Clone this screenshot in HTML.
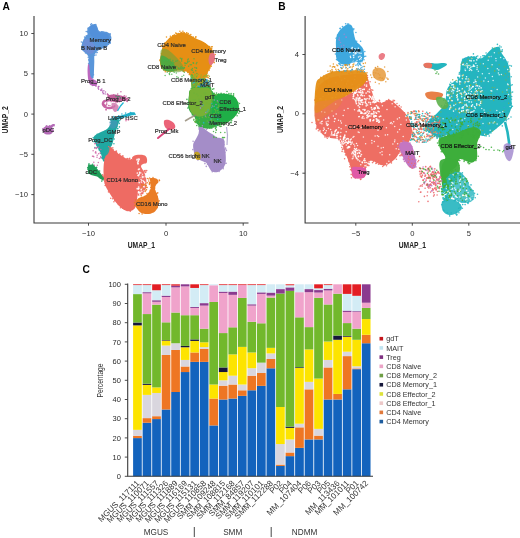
<!DOCTYPE html><html><head><meta charset="utf-8"><style>html,body{margin:0;padding:0;background:#fff;}svg{display:block;filter:blur(0.3px);}text{font-family:"Liberation Sans",sans-serif;}</style></head><body>
<svg width="520" height="538" viewBox="0 0 520 538">
<rect width="520" height="538" fill="#fff"/>
<text x="2.6" y="9.5" font-size="10.2" fill="#000" text-anchor="start" font-weight="bold" >A</text>
<text x="278.3" y="9.6" font-size="10.2" fill="#000" text-anchor="start" font-weight="bold" >B</text>
<text x="82.5" y="273.2" font-size="10.2" fill="#000" text-anchor="start" font-weight="bold" >C</text>
<circle cx="54.1" cy="125.8" r="0.78" fill="#B36AB6" fill-opacity="0.9"/>
<circle cx="42.9" cy="130.3" r="0.78" fill="#B36AB6" fill-opacity="0.9"/>
<circle cx="53.3" cy="130.9" r="0.78" fill="#B36AB6" fill-opacity="0.9"/>
<circle cx="49.4" cy="125.9" r="0.78" fill="#B36AB6" fill-opacity="0.9"/>
<circle cx="46.4" cy="125.9" r="0.78" fill="#B36AB6" fill-opacity="0.9"/>
<circle cx="42.8" cy="128.7" r="0.78" fill="#B36AB6" fill-opacity="0.9"/>
<circle cx="44.2" cy="128.3" r="0.78" fill="#B36AB6" fill-opacity="0.9"/>
<circle cx="52.6" cy="131.2" r="0.78" fill="#B36AB6" fill-opacity="0.9"/>
<circle cx="47.0" cy="126.1" r="0.78" fill="#B36AB6" fill-opacity="0.9"/>
<circle cx="46.0" cy="126.7" r="0.78" fill="#B36AB6" fill-opacity="0.9"/>
<path d="M43.0,129.0 C43.2,128.2 43.8,127.5 44.5,127.0 C45.2,126.5 46.1,126.5 47.0,126.3 C47.9,126.1 49.0,126.0 50.0,125.6 C51.0,125.2 52.2,124.2 53.0,124.0 C53.8,123.8 54.6,123.9 54.8,124.2 C55.0,124.5 54.6,125.2 54.2,125.8 C53.8,126.3 52.5,126.8 52.3,127.5 C52.1,128.2 53.0,129.1 53.0,130.0 C53.0,130.9 52.9,132.1 52.5,132.8 C52.1,133.5 51.4,133.9 50.5,134.2 C49.6,134.5 48.0,134.5 47.0,134.4 C46.0,134.3 45.0,133.9 44.3,133.4 C43.6,132.9 43.2,132.2 43.0,131.5 C42.8,130.8 42.8,129.8 43.0,129.0Z" fill="#B36AB6" fill-opacity="1.0" />
<circle cx="81.4" cy="42.0" r="0.78" fill="#5A96DA" fill-opacity="0.9"/>
<circle cx="89.6" cy="77.9" r="0.78" fill="#5A96DA" fill-opacity="0.9"/>
<circle cx="110.1" cy="34.1" r="0.78" fill="#5A96DA" fill-opacity="0.9"/>
<circle cx="85.3" cy="51.5" r="0.78" fill="#5A96DA" fill-opacity="0.9"/>
<circle cx="85.5" cy="52.9" r="0.78" fill="#5A96DA" fill-opacity="0.9"/>
<circle cx="84.2" cy="40.1" r="0.78" fill="#5A96DA" fill-opacity="0.9"/>
<circle cx="89.2" cy="28.3" r="0.78" fill="#5A96DA" fill-opacity="0.9"/>
<circle cx="107.5" cy="33.5" r="0.78" fill="#5A96DA" fill-opacity="0.9"/>
<circle cx="96.1" cy="52.8" r="0.78" fill="#5A96DA" fill-opacity="0.9"/>
<circle cx="86.2" cy="31.5" r="0.78" fill="#5A96DA" fill-opacity="0.9"/>
<circle cx="88.6" cy="28.1" r="0.78" fill="#5A96DA" fill-opacity="0.9"/>
<circle cx="105.0" cy="47.6" r="0.78" fill="#5A96DA" fill-opacity="0.9"/>
<circle cx="103.6" cy="47.8" r="0.78" fill="#5A96DA" fill-opacity="0.9"/>
<circle cx="96.0" cy="55.0" r="0.78" fill="#5A96DA" fill-opacity="0.9"/>
<circle cx="84.6" cy="37.1" r="0.78" fill="#5A96DA" fill-opacity="0.9"/>
<circle cx="90.4" cy="79.1" r="0.78" fill="#5A96DA" fill-opacity="0.9"/>
<circle cx="98.0" cy="30.9" r="0.78" fill="#5A96DA" fill-opacity="0.9"/>
<circle cx="106.7" cy="46.3" r="0.78" fill="#5A96DA" fill-opacity="0.9"/>
<circle cx="95.8" cy="24.6" r="0.78" fill="#5A96DA" fill-opacity="0.9"/>
<circle cx="101.5" cy="48.4" r="0.78" fill="#5A96DA" fill-opacity="0.9"/>
<circle cx="82.4" cy="49.6" r="0.78" fill="#5A96DA" fill-opacity="0.9"/>
<circle cx="97.2" cy="52.5" r="0.78" fill="#5A96DA" fill-opacity="0.9"/>
<circle cx="93.3" cy="69.4" r="0.78" fill="#5A96DA" fill-opacity="0.9"/>
<circle cx="91.1" cy="77.3" r="0.78" fill="#5A96DA" fill-opacity="0.9"/>
<circle cx="108.3" cy="33.8" r="0.78" fill="#5A96DA" fill-opacity="0.9"/>
<circle cx="92.8" cy="77.8" r="0.78" fill="#5A96DA" fill-opacity="0.9"/>
<circle cx="83.4" cy="42.6" r="0.78" fill="#5A96DA" fill-opacity="0.9"/>
<circle cx="87.4" cy="31.8" r="0.78" fill="#5A96DA" fill-opacity="0.9"/>
<circle cx="88.9" cy="60.1" r="0.78" fill="#5A96DA" fill-opacity="0.9"/>
<circle cx="88.6" cy="63.8" r="0.78" fill="#5A96DA" fill-opacity="0.9"/>
<circle cx="89.0" cy="59.6" r="0.78" fill="#5A96DA" fill-opacity="0.9"/>
<circle cx="89.8" cy="77.8" r="0.78" fill="#5A96DA" fill-opacity="0.9"/>
<circle cx="110.2" cy="43.1" r="0.78" fill="#5A96DA" fill-opacity="0.9"/>
<circle cx="84.7" cy="40.3" r="0.78" fill="#5A96DA" fill-opacity="0.9"/>
<circle cx="88.2" cy="57.3" r="0.78" fill="#5A96DA" fill-opacity="0.9"/>
<circle cx="93.5" cy="74.7" r="0.78" fill="#5A96DA" fill-opacity="0.9"/>
<circle cx="101.6" cy="31.7" r="0.78" fill="#5A96DA" fill-opacity="0.9"/>
<circle cx="110.4" cy="37.7" r="0.78" fill="#5A96DA" fill-opacity="0.9"/>
<circle cx="99.1" cy="48.7" r="0.78" fill="#5A96DA" fill-opacity="0.9"/>
<circle cx="102.2" cy="32.1" r="0.78" fill="#5A96DA" fill-opacity="0.9"/>
<circle cx="109.2" cy="34.2" r="0.78" fill="#5A96DA" fill-opacity="0.9"/>
<circle cx="90.8" cy="24.5" r="0.78" fill="#5A96DA" fill-opacity="0.9"/>
<circle cx="83.0" cy="42.8" r="0.78" fill="#5A96DA" fill-opacity="0.9"/>
<circle cx="95.3" cy="26.8" r="0.78" fill="#5A96DA" fill-opacity="0.9"/>
<circle cx="88.1" cy="29.2" r="0.78" fill="#5A96DA" fill-opacity="0.9"/>
<circle cx="83.5" cy="42.1" r="0.78" fill="#5A96DA" fill-opacity="0.9"/>
<circle cx="91.5" cy="23.7" r="0.78" fill="#5A96DA" fill-opacity="0.9"/>
<circle cx="87.9" cy="31.4" r="0.78" fill="#5A96DA" fill-opacity="0.9"/>
<circle cx="108.4" cy="44.2" r="0.78" fill="#5A96DA" fill-opacity="0.9"/>
<circle cx="110.1" cy="34.1" r="0.78" fill="#5A96DA" fill-opacity="0.9"/>
<circle cx="109.1" cy="42.6" r="0.78" fill="#5A96DA" fill-opacity="0.9"/>
<circle cx="110.2" cy="42.7" r="0.78" fill="#5A96DA" fill-opacity="0.9"/>
<circle cx="94.6" cy="55.3" r="0.78" fill="#5A96DA" fill-opacity="0.9"/>
<circle cx="103.1" cy="32.0" r="0.78" fill="#5A96DA" fill-opacity="0.9"/>
<circle cx="86.3" cy="35.8" r="0.78" fill="#5A96DA" fill-opacity="0.9"/>
<circle cx="109.2" cy="40.1" r="0.78" fill="#5A96DA" fill-opacity="0.9"/>
<circle cx="89.5" cy="77.3" r="0.78" fill="#5A96DA" fill-opacity="0.9"/>
<circle cx="92.8" cy="25.0" r="0.78" fill="#5A96DA" fill-opacity="0.9"/>
<circle cx="93.1" cy="59.4" r="0.78" fill="#5A96DA" fill-opacity="0.9"/>
<circle cx="88.0" cy="28.4" r="0.78" fill="#5A96DA" fill-opacity="0.9"/>
<path d="M93.7,24.2 C92.8,24.3 91.5,24.7 90.6,25.3 C89.7,25.9 88.9,27.0 88.3,28.0 C87.7,29.0 87.3,30.4 87.2,31.5 C87.1,32.6 87.8,33.6 87.5,34.5 C87.2,35.4 85.9,35.8 85.2,36.8 C84.5,37.8 83.9,39.1 83.3,40.3 C82.7,41.5 82.1,42.9 81.8,44.2 C81.5,45.5 81.2,46.9 81.4,48.0 C81.6,49.1 82.1,50.2 82.9,51.1 C83.7,52.0 85.1,52.5 86.0,53.4 C86.9,54.3 87.9,55.1 88.3,56.5 C88.7,57.9 88.6,59.8 88.6,62.0 C88.6,64.2 88.4,67.7 88.5,70.0 C88.6,72.3 88.6,74.5 89.0,76.0 C89.4,77.5 90.2,78.8 91.0,79.0 C91.8,79.2 93.0,78.5 93.5,77.0 C94.0,75.5 93.9,72.5 94.0,70.0 C94.1,67.5 94.2,64.5 94.3,62.0 C94.4,59.5 94.0,56.8 94.5,55.0 C95.0,53.2 96.3,52.1 97.5,51.1 C98.7,50.1 100.0,49.6 101.4,48.8 C102.8,48.0 104.6,47.4 106.0,46.5 C107.4,45.6 108.9,44.7 109.8,43.4 C110.7,42.1 111.3,40.2 111.4,38.8 C111.5,37.4 111.2,36.0 110.6,34.9 C109.9,33.8 108.8,32.8 107.5,32.2 C106.2,31.6 104.3,31.7 102.9,31.5 C101.5,31.3 99.9,31.8 99.0,31.1 C98.1,30.4 98.0,28.3 97.5,27.2 C97.0,26.1 96.6,25.0 96.0,24.5 C95.4,24.0 94.6,24.1 93.7,24.2Z" fill="#5A96DA" fill-opacity="1.0" />
<path d="M84.0,41.0 C84.8,39.3 86.7,38.8 88.0,39.0 C89.3,39.2 90.8,40.8 92.0,42.0 C93.2,43.2 94.7,44.3 95.0,46.0 C95.3,47.7 94.8,50.7 94.0,52.0 C93.2,53.3 91.3,53.9 90.0,54.0 C88.7,54.1 87.2,53.3 86.0,52.5 C84.8,51.7 83.3,50.9 83.0,49.0 C82.7,47.1 83.2,42.7 84.0,41.0Z" fill="#7C8AD6" fill-opacity="0.55" />
<path d="M90.0,27.0 C90.7,25.5 92.8,24.8 94.0,25.0 C95.2,25.2 96.3,26.8 97.0,28.0 C97.7,29.2 96.8,31.2 98.0,32.0 C99.2,32.8 102.3,32.5 104.0,33.0 C105.7,33.5 107.2,33.8 108.0,35.0 C108.8,36.2 109.5,38.8 109.0,40.0 C108.5,41.2 106.7,41.8 105.0,42.0 C103.3,42.2 100.8,41.7 99.0,41.0 C97.2,40.3 95.5,39.2 94.0,38.0 C92.5,36.8 90.7,35.8 90.0,34.0 C89.3,32.2 89.3,28.5 90.0,27.0Z" fill="#4C8CDA" fill-opacity="0.6" />
<path d="M87.8,66.0 C88.0,64.5 88.7,63.3 89.0,64.0 C89.3,64.7 89.5,68.0 89.8,70.0 C90.0,72.0 90.0,74.5 90.5,76.0 C91.0,77.5 92.0,78.2 93.0,79.0 C94.0,79.8 95.8,80.0 96.5,81.0 C97.2,82.0 97.5,84.2 97.0,85.0 C96.5,85.8 94.7,86.1 93.5,86.0 C92.3,85.9 90.9,85.5 90.0,84.5 C89.1,83.5 88.7,81.9 88.3,80.0 C87.9,78.1 87.7,75.3 87.6,73.0 C87.5,70.7 87.6,67.5 87.8,66.0Z" fill="#BC68BF" fill-opacity="1.0" />
<circle cx="92.1" cy="82.9" r="0.75" fill="#B865B8" fill-opacity="0.9"/>
<circle cx="92.7" cy="85.6" r="0.75" fill="#B865B8" fill-opacity="0.9"/>
<circle cx="94.0" cy="85.0" r="0.75" fill="#B865B8" fill-opacity="0.9"/>
<circle cx="95.7" cy="85.5" r="0.75" fill="#B865B8" fill-opacity="0.9"/>
<circle cx="96.0" cy="86.3" r="0.75" fill="#B865B8" fill-opacity="0.9"/>
<circle cx="99.0" cy="86.6" r="0.75" fill="#B865B8" fill-opacity="0.9"/>
<circle cx="98.4" cy="88.1" r="0.75" fill="#B865B8" fill-opacity="0.9"/>
<circle cx="98.3" cy="86.4" r="0.75" fill="#B865B8" fill-opacity="0.9"/>
<circle cx="98.6" cy="89.2" r="0.75" fill="#B865B8" fill-opacity="0.9"/>
<circle cx="98.1" cy="88.1" r="0.75" fill="#B865B8" fill-opacity="0.9"/>
<circle cx="101.4" cy="90.0" r="0.75" fill="#B865B8" fill-opacity="0.9"/>
<circle cx="101.0" cy="90.5" r="0.75" fill="#B865B8" fill-opacity="0.9"/>
<circle cx="101.8" cy="89.1" r="0.75" fill="#B865B8" fill-opacity="0.9"/>
<circle cx="100.8" cy="90.1" r="0.75" fill="#B865B8" fill-opacity="0.9"/>
<circle cx="103.9" cy="90.7" r="0.75" fill="#B865B8" fill-opacity="0.9"/>
<circle cx="102.7" cy="91.0" r="0.75" fill="#B865B8" fill-opacity="0.9"/>
<circle cx="102.7" cy="92.2" r="0.75" fill="#B865B8" fill-opacity="0.9"/>
<circle cx="103.7" cy="93.2" r="0.75" fill="#B865B8" fill-opacity="0.9"/>
<circle cx="103.2" cy="93.7" r="0.75" fill="#B865B8" fill-opacity="0.9"/>
<circle cx="105.5" cy="91.9" r="0.75" fill="#B865B8" fill-opacity="0.9"/>
<circle cx="107.5" cy="94.1" r="0.75" fill="#B865B8" fill-opacity="0.9"/>
<circle cx="105.2" cy="94.0" r="0.75" fill="#B865B8" fill-opacity="0.9"/>
<circle cx="108.4" cy="95.0" r="0.75" fill="#B865B8" fill-opacity="0.9"/>
<circle cx="109.5" cy="96.7" r="0.75" fill="#B865B8" fill-opacity="0.9"/>
<circle cx="110.0" cy="96.8" r="0.75" fill="#B865B8" fill-opacity="0.9"/>
<circle cx="111.3" cy="97.7" r="0.75" fill="#B865B8" fill-opacity="0.9"/>
<path d="M107.5,95.8 C108.1,95.1 110.2,94.7 112.0,94.6 C113.8,94.5 116.0,94.7 118.0,95.0 C120.0,95.3 122.5,95.8 124.0,96.3 C125.5,96.8 126.7,97.5 127.0,98.3 C127.3,99.0 127.0,100.3 126.0,100.8 C125.0,101.3 122.5,101.0 121.0,101.2 C119.5,101.4 118.5,102.0 117.0,102.0 C115.5,102.0 113.4,102.0 112.0,101.5 C110.6,101.0 109.2,100.0 108.5,99.0 C107.8,98.0 106.9,96.5 107.5,95.8Z" fill="#C45E9C" fill-opacity="1.0" />
<path d="M108,100.5 C103,100 101.5,104 104.5,106.5 C107,108.5 111,108.5 113.5,107" stroke="#C866A6" stroke-width="2.4" fill="none" stroke-linecap="round"/>
<path d="M111.5,103.5 C112.0,102.5 114.3,102.8 115.5,103.2 C116.7,103.6 118.1,104.9 118.5,106.0 C118.9,107.1 118.6,109.0 118.0,110.0 C117.4,111.0 115.9,112.2 115.0,112.0 C114.1,111.8 113.1,110.4 112.5,109.0 C111.9,107.6 111.0,104.5 111.5,103.5Z" fill="#D07AAE" fill-opacity="0.85" />
<circle cx="118.5" cy="96.5" r="0.78" fill="#C9609F" fill-opacity="0.9"/>
<circle cx="127.6" cy="98.7" r="0.78" fill="#C9609F" fill-opacity="0.9"/>
<circle cx="128.3" cy="99.2" r="0.78" fill="#C9609F" fill-opacity="0.9"/>
<circle cx="124.3" cy="95.7" r="0.78" fill="#C9609F" fill-opacity="0.9"/>
<circle cx="116.0" cy="102.7" r="0.78" fill="#C9609F" fill-opacity="0.9"/>
<circle cx="124.4" cy="100.7" r="0.78" fill="#C9609F" fill-opacity="0.9"/>
<circle cx="110.1" cy="99.2" r="0.78" fill="#C9609F" fill-opacity="0.9"/>
<circle cx="109.4" cy="99.9" r="0.78" fill="#C9609F" fill-opacity="0.9"/>
<circle cx="127.7" cy="98.8" r="0.78" fill="#C9609F" fill-opacity="0.9"/>
<circle cx="112.4" cy="96.5" r="0.78" fill="#C9609F" fill-opacity="0.9"/>
<circle cx="116.3" cy="99.3" r="0.78" fill="#C9609F" fill-opacity="0.9"/>
<circle cx="121.8" cy="100.6" r="0.78" fill="#C9609F" fill-opacity="0.9"/>
<circle cx="127.3" cy="101.5" r="0.78" fill="#C9609F" fill-opacity="0.9"/>
<circle cx="117.4" cy="102.1" r="0.78" fill="#C9609F" fill-opacity="0.9"/>
<circle cx="118.9" cy="96.1" r="0.78" fill="#C9609F" fill-opacity="0.9"/>
<circle cx="113.7" cy="94.8" r="0.78" fill="#C9609F" fill-opacity="0.9"/>
<circle cx="112.0" cy="99.6" r="0.78" fill="#C9609F" fill-opacity="0.9"/>
<circle cx="109.9" cy="95.7" r="0.78" fill="#C9609F" fill-opacity="0.9"/>
<circle cx="120.7" cy="97.9" r="0.78" fill="#C9609F" fill-opacity="0.9"/>
<circle cx="126.8" cy="100.9" r="0.78" fill="#C9609F" fill-opacity="0.9"/>
<circle cx="120.9" cy="91.7" r="0.78" fill="#C9609F" fill-opacity="0.9"/>
<circle cx="107.4" cy="94.3" r="0.78" fill="#C9609F" fill-opacity="0.9"/>
<circle cx="125.6" cy="98.6" r="0.78" fill="#C9609F" fill-opacity="0.9"/>
<circle cx="116.0" cy="101.0" r="0.78" fill="#C9609F" fill-opacity="0.9"/>
<circle cx="111.1" cy="101.6" r="0.78" fill="#C9609F" fill-opacity="0.9"/>
<circle cx="126.0" cy="96.3" r="0.78" fill="#C9609F" fill-opacity="0.9"/>
<circle cx="119.3" cy="101.7" r="0.78" fill="#C9609F" fill-opacity="0.9"/>
<circle cx="107.8" cy="94.8" r="0.78" fill="#C9609F" fill-opacity="0.9"/>
<circle cx="117.7" cy="94.1" r="0.78" fill="#C9609F" fill-opacity="0.9"/>
<circle cx="109.5" cy="100.7" r="0.78" fill="#C9609F" fill-opacity="0.9"/>
<circle cx="106.5" cy="105.1" r="0.75" fill="#C9609F" fill-opacity="0.9"/>
<circle cx="104.9" cy="105.0" r="0.75" fill="#C9609F" fill-opacity="0.9"/>
<circle cx="106.2" cy="109.7" r="0.75" fill="#C9609F" fill-opacity="0.9"/>
<circle cx="114.7" cy="105.9" r="0.75" fill="#C9609F" fill-opacity="0.9"/>
<circle cx="105.9" cy="109.7" r="0.75" fill="#C9609F" fill-opacity="0.9"/>
<circle cx="106.7" cy="104.2" r="0.75" fill="#C9609F" fill-opacity="0.9"/>
<circle cx="103.0" cy="104.4" r="0.75" fill="#C9609F" fill-opacity="0.9"/>
<circle cx="108.7" cy="105.5" r="0.75" fill="#C9609F" fill-opacity="0.9"/>
<circle cx="105.4" cy="105.5" r="0.75" fill="#C9609F" fill-opacity="0.9"/>
<circle cx="103.1" cy="103.4" r="0.75" fill="#C9609F" fill-opacity="0.9"/>
<circle cx="104.1" cy="104.6" r="0.75" fill="#C9609F" fill-opacity="0.9"/>
<circle cx="103.5" cy="101.2" r="0.75" fill="#C9609F" fill-opacity="0.9"/>
<circle cx="106.7" cy="103.1" r="0.75" fill="#C9609F" fill-opacity="0.9"/>
<circle cx="110.0" cy="105.8" r="0.75" fill="#C9609F" fill-opacity="0.9"/>
<circle cx="112.0" cy="106.9" r="0.75" fill="#C9609F" fill-opacity="0.9"/>
<circle cx="116.0" cy="96.0" r="0.8" fill="#2B8A5A" fill-opacity="0.9"/>
<circle cx="117.5" cy="97.0" r="0.8" fill="#2B8A5A" fill-opacity="0.9"/>
<circle cx="119.0" cy="96.5" r="0.8" fill="#2B8A5A" fill-opacity="0.9"/>
<circle cx="120.5" cy="98.0" r="0.8" fill="#2B8A5A" fill-opacity="0.9"/>
<circle cx="118.0" cy="98.6" r="0.8" fill="#2B8A5A" fill-opacity="0.9"/>
<path d="M117.5,111 L120.5,106 L123.5,102.5" stroke="#27B7D2" stroke-width="1.3" fill="none"/>
<path d="M112.0,119.0 C112.6,118.3 114.5,117.6 116.0,117.0 C117.5,116.4 119.3,116.0 121.0,115.5 C122.7,115.0 124.3,114.5 126.0,114.0 C127.7,113.5 129.5,112.5 131.0,112.3 C132.5,112.1 134.2,112.2 134.8,112.6 C135.4,113.0 135.4,114.3 134.8,114.8 C134.2,115.3 132.5,115.2 131.0,115.6 C129.5,116.0 127.7,116.5 126.0,117.0 C124.3,117.5 122.7,118.2 121.0,118.8 C119.3,119.3 117.4,119.9 116.0,120.3 C114.6,120.7 113.2,121.2 112.5,121.0 C111.8,120.8 111.4,119.7 112.0,119.0Z" fill="#1FAFC8" fill-opacity="1.0" />
<circle cx="111.0" cy="118.7" r="0.78" fill="#22B0CC" fill-opacity="0.9"/>
<circle cx="112.8" cy="120.1" r="0.78" fill="#22B0CC" fill-opacity="0.9"/>
<circle cx="116.1" cy="119.3" r="0.78" fill="#22B0CC" fill-opacity="0.9"/>
<circle cx="122.7" cy="116.7" r="0.78" fill="#22B0CC" fill-opacity="0.9"/>
<circle cx="125.6" cy="113.1" r="0.78" fill="#22B0CC" fill-opacity="0.9"/>
<circle cx="113.8" cy="116.5" r="0.78" fill="#22B0CC" fill-opacity="0.9"/>
<circle cx="112.4" cy="120.7" r="0.78" fill="#22B0CC" fill-opacity="0.9"/>
<circle cx="112.3" cy="119.0" r="0.78" fill="#22B0CC" fill-opacity="0.9"/>
<circle cx="127.4" cy="115.6" r="0.78" fill="#22B0CC" fill-opacity="0.9"/>
<circle cx="115.1" cy="121.4" r="0.78" fill="#22B0CC" fill-opacity="0.9"/>
<circle cx="118.8" cy="115.9" r="0.78" fill="#22B0CC" fill-opacity="0.9"/>
<circle cx="114.1" cy="119.8" r="0.78" fill="#22B0CC" fill-opacity="0.9"/>
<circle cx="120.4" cy="117.1" r="0.78" fill="#22B0CC" fill-opacity="0.9"/>
<circle cx="130.6" cy="112.6" r="0.78" fill="#22B0CC" fill-opacity="0.9"/>
<circle cx="135.1" cy="114.5" r="0.78" fill="#22B0CC" fill-opacity="0.9"/>
<circle cx="114.3" cy="117.5" r="0.78" fill="#22B0CC" fill-opacity="0.9"/>
<circle cx="121.9" cy="114.0" r="0.78" fill="#22B0CC" fill-opacity="0.9"/>
<circle cx="118.4" cy="119.7" r="0.78" fill="#22B0CC" fill-opacity="0.9"/>
<circle cx="127.0" cy="119.5" r="0.75" fill="#D9609A" fill-opacity="0.9"/>
<circle cx="128.5" cy="120.0" r="0.75" fill="#D9609A" fill-opacity="0.9"/>
<circle cx="126.0" cy="120.8" r="0.75" fill="#D9609A" fill-opacity="0.9"/>
<circle cx="109.9" cy="152.3" r="0.78" fill="#20A8A2" fill-opacity="0.9"/>
<circle cx="93.9" cy="141.6" r="0.78" fill="#20A8A2" fill-opacity="0.9"/>
<circle cx="97.2" cy="144.4" r="0.78" fill="#20A8A2" fill-opacity="0.9"/>
<circle cx="108.8" cy="156.8" r="0.78" fill="#20A8A2" fill-opacity="0.9"/>
<circle cx="94.9" cy="147.5" r="0.78" fill="#20A8A2" fill-opacity="0.9"/>
<circle cx="111.6" cy="148.5" r="0.78" fill="#20A8A2" fill-opacity="0.9"/>
<circle cx="119.3" cy="123.4" r="0.78" fill="#20A8A2" fill-opacity="0.9"/>
<circle cx="106.5" cy="160.0" r="0.78" fill="#20A8A2" fill-opacity="0.9"/>
<circle cx="117.6" cy="128.7" r="0.78" fill="#20A8A2" fill-opacity="0.9"/>
<circle cx="95.9" cy="142.9" r="0.78" fill="#20A8A2" fill-opacity="0.9"/>
<circle cx="96.9" cy="145.2" r="0.78" fill="#20A8A2" fill-opacity="0.9"/>
<circle cx="102.4" cy="158.4" r="0.78" fill="#20A8A2" fill-opacity="0.9"/>
<circle cx="108.3" cy="161.8" r="0.78" fill="#20A8A2" fill-opacity="0.9"/>
<circle cx="114.9" cy="119.9" r="0.78" fill="#20A8A2" fill-opacity="0.9"/>
<circle cx="102.5" cy="157.7" r="0.78" fill="#20A8A2" fill-opacity="0.9"/>
<circle cx="99.2" cy="148.9" r="0.78" fill="#20A8A2" fill-opacity="0.9"/>
<circle cx="118.0" cy="122.3" r="0.78" fill="#20A8A2" fill-opacity="0.9"/>
<circle cx="109.3" cy="148.2" r="0.78" fill="#20A8A2" fill-opacity="0.9"/>
<circle cx="103.6" cy="160.7" r="0.78" fill="#20A8A2" fill-opacity="0.9"/>
<circle cx="111.7" cy="121.4" r="0.78" fill="#20A8A2" fill-opacity="0.9"/>
<circle cx="113.9" cy="143.8" r="0.78" fill="#20A8A2" fill-opacity="0.9"/>
<circle cx="97.6" cy="146.6" r="0.78" fill="#20A8A2" fill-opacity="0.9"/>
<circle cx="95.8" cy="142.9" r="0.78" fill="#20A8A2" fill-opacity="0.9"/>
<circle cx="94.5" cy="141.6" r="0.78" fill="#20A8A2" fill-opacity="0.9"/>
<circle cx="110.3" cy="122.2" r="0.78" fill="#20A8A2" fill-opacity="0.9"/>
<circle cx="101.3" cy="133.2" r="0.78" fill="#20A8A2" fill-opacity="0.9"/>
<circle cx="119.7" cy="120.6" r="0.78" fill="#20A8A2" fill-opacity="0.9"/>
<circle cx="110.3" cy="147.7" r="0.78" fill="#20A8A2" fill-opacity="0.9"/>
<circle cx="100.7" cy="153.5" r="0.78" fill="#20A8A2" fill-opacity="0.9"/>
<circle cx="107.1" cy="160.0" r="0.78" fill="#20A8A2" fill-opacity="0.9"/>
<circle cx="104.8" cy="131.2" r="0.78" fill="#20A8A2" fill-opacity="0.9"/>
<circle cx="101.3" cy="157.7" r="0.78" fill="#20A8A2" fill-opacity="0.9"/>
<circle cx="105.8" cy="160.0" r="0.78" fill="#20A8A2" fill-opacity="0.9"/>
<circle cx="104.8" cy="160.9" r="0.78" fill="#20A8A2" fill-opacity="0.9"/>
<circle cx="114.2" cy="139.0" r="0.78" fill="#20A8A2" fill-opacity="0.9"/>
<circle cx="112.6" cy="121.5" r="0.78" fill="#20A8A2" fill-opacity="0.9"/>
<circle cx="110.6" cy="120.1" r="0.78" fill="#20A8A2" fill-opacity="0.9"/>
<circle cx="93.2" cy="137.7" r="0.78" fill="#20A8A2" fill-opacity="0.9"/>
<circle cx="97.2" cy="134.4" r="0.78" fill="#20A8A2" fill-opacity="0.9"/>
<circle cx="119.4" cy="126.9" r="0.78" fill="#20A8A2" fill-opacity="0.9"/>
<circle cx="116.8" cy="126.5" r="0.78" fill="#20A8A2" fill-opacity="0.9"/>
<circle cx="97.8" cy="147.6" r="0.78" fill="#20A8A2" fill-opacity="0.9"/>
<circle cx="117.7" cy="128.5" r="0.78" fill="#20A8A2" fill-opacity="0.9"/>
<circle cx="107.9" cy="156.0" r="0.78" fill="#20A8A2" fill-opacity="0.9"/>
<circle cx="99.2" cy="150.0" r="0.78" fill="#20A8A2" fill-opacity="0.9"/>
<path d="M111.5,119.5 C112.3,118.7 114.2,118.8 115.5,119.0 C116.8,119.2 118.5,119.7 119.0,120.5 C119.5,121.3 118.6,122.8 118.3,124.0 C118.0,125.2 117.5,126.5 117.0,128.0 C116.5,129.5 115.5,131.2 115.0,133.0 C114.5,134.8 114.2,137.0 113.7,139.0 C113.2,141.0 112.6,143.5 112.0,145.0 C111.4,146.5 110.4,146.8 110.0,148.0 C109.6,149.2 109.6,150.5 109.4,152.0 C109.2,153.5 109.1,155.5 108.6,157.0 C108.1,158.5 107.4,160.4 106.5,161.0 C105.6,161.6 103.9,161.7 103.0,160.5 C102.1,159.3 101.8,156.1 101.0,154.0 C100.2,151.9 98.9,149.8 98.0,148.0 C97.1,146.2 96.2,145.2 95.5,143.4 C94.8,141.7 93.2,139.1 93.5,137.5 C93.8,135.9 95.6,135.0 97.0,134.0 C98.4,133.0 100.3,132.3 102.0,131.5 C103.7,130.7 105.6,130.2 107.0,129.0 C108.4,127.8 109.8,125.6 110.5,124.0 C111.2,122.4 110.7,120.3 111.5,119.5Z" fill="#20A8A2" fill-opacity="1.0" />
<path d="M110.0,121.0 C110.8,120.1 112.8,120.3 114.0,120.5 C115.2,120.7 117.2,120.9 117.5,122.0 C117.8,123.1 116.9,125.9 116.0,127.0 C115.1,128.1 113.1,128.7 112.0,128.5 C110.9,128.3 109.8,127.2 109.5,126.0 C109.2,124.8 109.2,121.9 110.0,121.0Z" fill="#6F84CF" fill-opacity="0.35" />
<circle cx="97.2" cy="155.2" r="0.75" fill="#D06AA8" fill-opacity="0.9"/>
<circle cx="96.1" cy="147.7" r="0.75" fill="#D06AA8" fill-opacity="0.9"/>
<circle cx="97.8" cy="143.2" r="0.75" fill="#D06AA8" fill-opacity="0.9"/>
<circle cx="95.4" cy="152.7" r="0.75" fill="#D06AA8" fill-opacity="0.9"/>
<circle cx="100.7" cy="156.5" r="0.75" fill="#D06AA8" fill-opacity="0.9"/>
<circle cx="100.1" cy="153.0" r="0.75" fill="#D06AA8" fill-opacity="0.9"/>
<circle cx="94.9" cy="148.2" r="0.75" fill="#D06AA8" fill-opacity="0.9"/>
<circle cx="100.7" cy="157.8" r="0.75" fill="#D06AA8" fill-opacity="0.9"/>
<circle cx="95.5" cy="143.5" r="0.75" fill="#D06AA8" fill-opacity="0.9"/>
<circle cx="97.0" cy="157.2" r="0.75" fill="#D06AA8" fill-opacity="0.9"/>
<circle cx="96.4" cy="148.4" r="0.75" fill="#D06AA8" fill-opacity="0.9"/>
<circle cx="98.3" cy="162.4" r="0.75" fill="#D06AA8" fill-opacity="0.9"/>
<circle cx="94.8" cy="143.7" r="0.75" fill="#D06AA8" fill-opacity="0.9"/>
<circle cx="95.7" cy="151.8" r="0.75" fill="#D06AA8" fill-opacity="0.9"/>
<circle cx="98.5" cy="147.2" r="0.75" fill="#D06AA8" fill-opacity="0.9"/>
<circle cx="99.4" cy="158.5" r="0.75" fill="#D06AA8" fill-opacity="0.9"/>
<circle cx="97.0" cy="147.3" r="0.75" fill="#D06AA8" fill-opacity="0.9"/>
<circle cx="100.8" cy="149.5" r="0.75" fill="#D06AA8" fill-opacity="0.9"/>
<circle cx="98.6" cy="153.7" r="0.75" fill="#D06AA8" fill-opacity="0.9"/>
<circle cx="93.8" cy="162.2" r="0.75" fill="#D06AA8" fill-opacity="0.9"/>
<circle cx="94.4" cy="165.2" r="0.75" fill="#D06AA8" fill-opacity="0.9"/>
<circle cx="96.0" cy="153.0" r="0.75" fill="#D06AA8" fill-opacity="0.9"/>
<circle cx="93.8" cy="156.7" r="0.75" fill="#D06AA8" fill-opacity="0.9"/>
<circle cx="97.3" cy="165.2" r="0.75" fill="#D06AA8" fill-opacity="0.9"/>
<circle cx="93.2" cy="156.3" r="0.75" fill="#D06AA8" fill-opacity="0.9"/>
<circle cx="93.7" cy="165.6" r="0.75" fill="#D06AA8" fill-opacity="0.9"/>
<circle cx="93.1" cy="150.8" r="0.75" fill="#D06AA8" fill-opacity="0.9"/>
<circle cx="92.5" cy="156.3" r="0.75" fill="#D06AA8" fill-opacity="0.9"/>
<circle cx="87.7" cy="167.7" r="0.78" fill="#1E9E58" fill-opacity="0.9"/>
<circle cx="95.6" cy="168.0" r="0.78" fill="#1E9E58" fill-opacity="0.9"/>
<circle cx="88.2" cy="173.3" r="0.78" fill="#1E9E58" fill-opacity="0.9"/>
<circle cx="103.6" cy="177.6" r="0.78" fill="#1E9E58" fill-opacity="0.9"/>
<circle cx="90.7" cy="166.4" r="0.78" fill="#1E9E58" fill-opacity="0.9"/>
<circle cx="92.7" cy="164.3" r="0.78" fill="#1E9E58" fill-opacity="0.9"/>
<circle cx="88.6" cy="165.9" r="0.78" fill="#1E9E58" fill-opacity="0.9"/>
<circle cx="90.5" cy="165.9" r="0.78" fill="#1E9E58" fill-opacity="0.9"/>
<circle cx="101.8" cy="181.1" r="0.78" fill="#1E9E58" fill-opacity="0.9"/>
<circle cx="90.0" cy="166.2" r="0.78" fill="#1E9E58" fill-opacity="0.9"/>
<circle cx="104.3" cy="177.7" r="0.78" fill="#1E9E58" fill-opacity="0.9"/>
<circle cx="89.0" cy="163.9" r="0.78" fill="#1E9E58" fill-opacity="0.9"/>
<circle cx="101.4" cy="177.3" r="0.78" fill="#1E9E58" fill-opacity="0.9"/>
<circle cx="88.9" cy="164.9" r="0.78" fill="#1E9E58" fill-opacity="0.9"/>
<circle cx="99.6" cy="171.0" r="0.78" fill="#1E9E58" fill-opacity="0.9"/>
<circle cx="88.3" cy="167.4" r="0.78" fill="#1E9E58" fill-opacity="0.9"/>
<circle cx="96.6" cy="167.4" r="0.78" fill="#1E9E58" fill-opacity="0.9"/>
<circle cx="88.0" cy="169.3" r="0.78" fill="#1E9E58" fill-opacity="0.9"/>
<circle cx="103.0" cy="179.9" r="0.78" fill="#1E9E58" fill-opacity="0.9"/>
<circle cx="88.8" cy="172.4" r="0.78" fill="#1E9E58" fill-opacity="0.9"/>
<path d="M88.3,166.0 C88.8,165.1 90.0,164.6 91.0,164.5 C92.0,164.4 93.1,164.9 94.0,165.5 C94.9,166.1 95.7,167.1 96.5,168.0 C97.3,168.9 98.2,169.9 99.0,171.0 C99.8,172.1 100.7,173.4 101.5,174.5 C102.3,175.6 103.7,176.6 104.0,177.5 C104.3,178.4 104.1,179.8 103.5,180.0 C102.9,180.2 101.6,179.6 100.5,179.0 C99.4,178.4 98.2,177.1 97.0,176.5 C95.8,175.9 94.2,175.9 93.0,175.5 C91.8,175.1 90.4,174.9 89.5,174.0 C88.6,173.1 88.0,171.3 87.8,170.0 C87.6,168.7 87.8,166.9 88.3,166.0Z" fill="#1E9E58" fill-opacity="1.0" />
<circle cx="134.6" cy="162.0" r="0.78" fill="#EE6B63" fill-opacity="0.9"/>
<circle cx="105.4" cy="185.2" r="0.78" fill="#EE6B63" fill-opacity="0.9"/>
<circle cx="134.5" cy="160.5" r="0.78" fill="#EE6B63" fill-opacity="0.9"/>
<circle cx="115.2" cy="198.3" r="0.78" fill="#EE6B63" fill-opacity="0.9"/>
<circle cx="115.4" cy="151.5" r="0.78" fill="#EE6B63" fill-opacity="0.9"/>
<circle cx="122.7" cy="208.3" r="0.78" fill="#EE6B63" fill-opacity="0.9"/>
<circle cx="122.6" cy="156.1" r="0.78" fill="#EE6B63" fill-opacity="0.9"/>
<circle cx="108.8" cy="147.0" r="0.78" fill="#EE6B63" fill-opacity="0.9"/>
<circle cx="137.6" cy="169.7" r="0.78" fill="#EE6B63" fill-opacity="0.9"/>
<circle cx="107.4" cy="149.6" r="0.78" fill="#EE6B63" fill-opacity="0.9"/>
<circle cx="135.4" cy="159.7" r="0.78" fill="#EE6B63" fill-opacity="0.9"/>
<circle cx="138.3" cy="176.4" r="0.78" fill="#EE6B63" fill-opacity="0.9"/>
<circle cx="120.9" cy="205.4" r="0.78" fill="#EE6B63" fill-opacity="0.9"/>
<circle cx="109.9" cy="148.4" r="0.78" fill="#EE6B63" fill-opacity="0.9"/>
<circle cx="130.3" cy="211.2" r="0.78" fill="#EE6B63" fill-opacity="0.9"/>
<circle cx="116.7" cy="152.5" r="0.78" fill="#EE6B63" fill-opacity="0.9"/>
<circle cx="132.4" cy="161.4" r="0.78" fill="#EE6B63" fill-opacity="0.9"/>
<circle cx="131.5" cy="208.6" r="0.78" fill="#EE6B63" fill-opacity="0.9"/>
<circle cx="108.6" cy="146.7" r="0.78" fill="#EE6B63" fill-opacity="0.9"/>
<circle cx="130.5" cy="160.3" r="0.78" fill="#EE6B63" fill-opacity="0.9"/>
<circle cx="136.8" cy="161.5" r="0.78" fill="#EE6B63" fill-opacity="0.9"/>
<circle cx="110.3" cy="148.3" r="0.78" fill="#EE6B63" fill-opacity="0.9"/>
<circle cx="105.1" cy="183.0" r="0.78" fill="#EE6B63" fill-opacity="0.9"/>
<circle cx="110.7" cy="198.2" r="0.78" fill="#EE6B63" fill-opacity="0.9"/>
<circle cx="104.5" cy="159.3" r="0.78" fill="#EE6B63" fill-opacity="0.9"/>
<circle cx="127.4" cy="162.1" r="0.78" fill="#EE6B63" fill-opacity="0.9"/>
<circle cx="105.2" cy="161.3" r="0.78" fill="#EE6B63" fill-opacity="0.9"/>
<circle cx="105.3" cy="185.5" r="0.78" fill="#EE6B63" fill-opacity="0.9"/>
<circle cx="136.9" cy="192.1" r="0.78" fill="#EE6B63" fill-opacity="0.9"/>
<circle cx="110.6" cy="148.0" r="0.78" fill="#EE6B63" fill-opacity="0.9"/>
<circle cx="116.4" cy="151.0" r="0.78" fill="#EE6B63" fill-opacity="0.9"/>
<circle cx="127.1" cy="158.9" r="0.78" fill="#EE6B63" fill-opacity="0.9"/>
<circle cx="136.7" cy="195.0" r="0.78" fill="#EE6B63" fill-opacity="0.9"/>
<circle cx="120.5" cy="207.7" r="0.78" fill="#EE6B63" fill-opacity="0.9"/>
<circle cx="131.1" cy="160.6" r="0.78" fill="#EE6B63" fill-opacity="0.9"/>
<circle cx="131.7" cy="159.7" r="0.78" fill="#EE6B63" fill-opacity="0.9"/>
<circle cx="125.7" cy="209.4" r="0.78" fill="#EE6B63" fill-opacity="0.9"/>
<circle cx="116.3" cy="151.9" r="0.78" fill="#EE6B63" fill-opacity="0.9"/>
<circle cx="129.7" cy="158.4" r="0.78" fill="#EE6B63" fill-opacity="0.9"/>
<circle cx="104.1" cy="175.5" r="0.78" fill="#EE6B63" fill-opacity="0.9"/>
<circle cx="131.2" cy="159.8" r="0.78" fill="#EE6B63" fill-opacity="0.9"/>
<circle cx="138.0" cy="187.8" r="0.78" fill="#EE6B63" fill-opacity="0.9"/>
<circle cx="129.1" cy="159.4" r="0.78" fill="#EE6B63" fill-opacity="0.9"/>
<circle cx="112.7" cy="150.5" r="0.78" fill="#EE6B63" fill-opacity="0.9"/>
<circle cx="131.0" cy="209.3" r="0.78" fill="#EE6B63" fill-opacity="0.9"/>
<circle cx="135.9" cy="205.7" r="0.78" fill="#EE6B63" fill-opacity="0.9"/>
<circle cx="137.6" cy="189.6" r="0.78" fill="#EE6B63" fill-opacity="0.9"/>
<circle cx="102.6" cy="174.9" r="0.78" fill="#EE6B63" fill-opacity="0.9"/>
<circle cx="103.3" cy="176.8" r="0.78" fill="#EE6B63" fill-opacity="0.9"/>
<circle cx="127.1" cy="210.5" r="0.78" fill="#EE6B63" fill-opacity="0.9"/>
<circle cx="136.8" cy="186.3" r="0.78" fill="#EE6B63" fill-opacity="0.9"/>
<circle cx="113.1" cy="149.6" r="0.78" fill="#EE6B63" fill-opacity="0.9"/>
<circle cx="137.7" cy="182.8" r="0.78" fill="#EE6B63" fill-opacity="0.9"/>
<circle cx="114.7" cy="200.6" r="0.78" fill="#EE6B63" fill-opacity="0.9"/>
<circle cx="112.8" cy="147.7" r="0.78" fill="#EE6B63" fill-opacity="0.9"/>
<circle cx="119.9" cy="153.9" r="0.78" fill="#EE6B63" fill-opacity="0.9"/>
<circle cx="129.0" cy="158.8" r="0.78" fill="#EE6B63" fill-opacity="0.9"/>
<circle cx="137.7" cy="192.0" r="0.78" fill="#EE6B63" fill-opacity="0.9"/>
<circle cx="104.8" cy="181.2" r="0.78" fill="#EE6B63" fill-opacity="0.9"/>
<circle cx="113.9" cy="201.7" r="0.78" fill="#EE6B63" fill-opacity="0.9"/>
<circle cx="104.2" cy="179.6" r="0.78" fill="#EE6B63" fill-opacity="0.9"/>
<circle cx="127.3" cy="158.5" r="0.78" fill="#EE6B63" fill-opacity="0.9"/>
<circle cx="138.9" cy="185.5" r="0.78" fill="#EE6B63" fill-opacity="0.9"/>
<circle cx="123.0" cy="156.1" r="0.78" fill="#EE6B63" fill-opacity="0.9"/>
<circle cx="129.7" cy="209.0" r="0.78" fill="#EE6B63" fill-opacity="0.9"/>
<circle cx="117.1" cy="153.7" r="0.78" fill="#EE6B63" fill-opacity="0.9"/>
<circle cx="108.8" cy="151.0" r="0.78" fill="#EE6B63" fill-opacity="0.9"/>
<circle cx="108.5" cy="191.9" r="0.78" fill="#EE6B63" fill-opacity="0.9"/>
<circle cx="134.5" cy="160.3" r="0.78" fill="#EE6B63" fill-opacity="0.9"/>
<circle cx="118.4" cy="204.4" r="0.78" fill="#EE6B63" fill-opacity="0.9"/>
<circle cx="106.6" cy="184.0" r="0.78" fill="#EE6B63" fill-opacity="0.9"/>
<circle cx="108.4" cy="151.0" r="0.78" fill="#EE6B63" fill-opacity="0.9"/>
<circle cx="135.5" cy="205.5" r="0.78" fill="#EE6B63" fill-opacity="0.9"/>
<circle cx="127.3" cy="210.4" r="0.78" fill="#EE6B63" fill-opacity="0.9"/>
<circle cx="110.2" cy="148.8" r="0.78" fill="#EE6B63" fill-opacity="0.9"/>
<circle cx="112.6" cy="198.7" r="0.78" fill="#EE6B63" fill-opacity="0.9"/>
<circle cx="132.1" cy="159.5" r="0.78" fill="#EE6B63" fill-opacity="0.9"/>
<circle cx="111.4" cy="148.3" r="0.78" fill="#EE6B63" fill-opacity="0.9"/>
<circle cx="119.2" cy="154.8" r="0.78" fill="#EE6B63" fill-opacity="0.9"/>
<circle cx="137.6" cy="165.5" r="0.78" fill="#EE6B63" fill-opacity="0.9"/>
<path d="M109.5,147.5 C110.2,147.1 110.8,147.3 111.5,147.8 C112.2,148.3 112.9,149.6 114.0,150.5 C115.1,151.4 116.7,152.6 118.0,153.5 C119.3,154.4 120.7,155.3 122.0,156.1 C123.3,156.9 124.6,157.8 126.0,158.5 C127.4,159.2 129.2,159.8 130.5,160.0 C131.8,160.2 132.9,159.4 134.0,160.0 C135.1,160.6 136.2,162.2 137.0,163.5 C137.8,164.8 138.3,166.1 138.5,168.0 C138.7,169.9 138.4,172.2 138.3,175.0 C138.2,177.8 138.1,181.7 138.0,185.0 C137.9,188.3 137.8,192.0 137.5,195.0 C137.2,198.0 137.0,200.8 136.5,203.0 C136.0,205.2 135.9,207.0 134.7,208.4 C133.4,209.8 131.1,211.2 129.0,211.2 C126.9,211.2 124.3,210.1 122.0,208.4 C119.7,206.8 117.1,203.9 115.0,201.3 C112.9,198.7 111.0,195.6 109.3,192.8 C107.6,190.0 106.0,187.5 105.0,184.4 C104.0,181.3 103.8,177.9 103.6,174.5 C103.4,171.1 103.5,167.1 103.8,164.0 C104.1,160.9 104.9,158.3 105.5,156.0 C106.1,153.7 106.8,151.4 107.5,150.0 C108.2,148.6 108.8,147.9 109.5,147.5Z" fill="#EE6B63" fill-opacity="1.0" />
<path d="M104.0,146.5 C105.0,145.9 108.1,146.8 109.0,147.5 C109.9,148.2 109.5,149.8 109.2,151.0 C108.9,152.2 107.8,154.2 107.0,155.0 C106.2,155.8 104.9,156.2 104.2,155.5 C103.5,154.8 103.0,152.5 103.0,151.0 C103.0,149.5 103.0,147.1 104.0,146.5Z" fill="#20A8A2" fill-opacity="0.9" />
<path d="M132.0,158.0 C132.1,156.9 133.5,156.0 134.5,155.5 C135.5,155.0 136.8,154.9 138.0,154.8 C139.2,154.7 140.8,154.6 142.0,154.8 C143.2,155.0 144.7,155.3 145.5,156.0 C146.3,156.7 146.8,157.8 147.0,159.0 C147.2,160.2 147.2,162.2 146.5,163.0 C145.8,163.8 143.9,163.5 143.0,164.0 C142.1,164.5 141.2,165.1 141.0,166.0 C140.8,166.9 142.2,168.7 142.0,169.5 C141.8,170.3 140.3,171.2 139.5,171.0 C138.7,170.8 137.6,169.5 137.0,168.5 C136.4,167.5 136.5,166.1 136.0,165.0 C135.5,163.9 134.7,163.2 134.0,162.0 C133.3,160.8 131.9,159.1 132.0,158.0Z" fill="#EE6B63" fill-opacity="1.0" />
<circle cx="138.4" cy="161.8" r="0.8" fill="#fff" fill-opacity="0.9"/>
<circle cx="137.6" cy="162.2" r="0.8" fill="#fff" fill-opacity="0.9"/>
<circle cx="137.8" cy="163.7" r="0.8" fill="#fff" fill-opacity="0.9"/>
<circle cx="138.7" cy="160.2" r="0.8" fill="#fff" fill-opacity="0.9"/>
<circle cx="139.2" cy="159.2" r="0.8" fill="#fff" fill-opacity="0.9"/>
<circle cx="138.1" cy="161.0" r="0.8" fill="#fff" fill-opacity="0.9"/>
<circle cx="137.2" cy="159.3" r="0.8" fill="#fff" fill-opacity="0.9"/>
<circle cx="138.8" cy="159.1" r="0.8" fill="#fff" fill-opacity="0.9"/>
<circle cx="138.2" cy="163.7" r="0.8" fill="#fff" fill-opacity="0.9"/>
<circle cx="136.9" cy="160.0" r="0.8" fill="#fff" fill-opacity="0.9"/>
<path d="M137.0,168.0 C137.7,164.3 139.8,167.3 141.0,168.0 C142.2,168.7 143.2,170.3 144.0,172.0 C144.8,173.7 145.6,175.7 146.0,178.0 C146.4,180.3 146.8,183.7 146.5,186.0 C146.2,188.3 145.2,190.3 144.0,192.0 C142.8,193.7 140.2,196.3 139.0,196.0 C137.8,195.7 137.3,194.7 137.0,190.0 C136.7,185.3 136.3,171.7 137.0,168.0Z" fill="#EE6B63" fill-opacity="0.95" />
<circle cx="143.3" cy="181.2" r="0.85" fill="#fff" fill-opacity="0.9"/>
<circle cx="143.7" cy="190.4" r="0.85" fill="#fff" fill-opacity="0.9"/>
<circle cx="138.1" cy="175.3" r="0.85" fill="#fff" fill-opacity="0.9"/>
<circle cx="141.6" cy="188.3" r="0.85" fill="#fff" fill-opacity="0.9"/>
<circle cx="141.4" cy="172.8" r="0.85" fill="#fff" fill-opacity="0.9"/>
<circle cx="137.3" cy="173.0" r="0.85" fill="#fff" fill-opacity="0.9"/>
<circle cx="145.0" cy="186.9" r="0.85" fill="#fff" fill-opacity="0.9"/>
<circle cx="139.2" cy="182.6" r="0.85" fill="#fff" fill-opacity="0.9"/>
<circle cx="141.2" cy="189.7" r="0.85" fill="#fff" fill-opacity="0.9"/>
<circle cx="142.3" cy="174.0" r="0.85" fill="#fff" fill-opacity="0.9"/>
<circle cx="138.6" cy="192.4" r="0.85" fill="#fff" fill-opacity="0.9"/>
<circle cx="138.8" cy="188.3" r="0.85" fill="#fff" fill-opacity="0.9"/>
<circle cx="139.9" cy="192.4" r="0.85" fill="#fff" fill-opacity="0.9"/>
<circle cx="139.9" cy="173.2" r="0.85" fill="#fff" fill-opacity="0.9"/>
<circle cx="144.3" cy="186.0" r="0.85" fill="#fff" fill-opacity="0.9"/>
<circle cx="146.1" cy="186.9" r="0.85" fill="#fff" fill-opacity="0.9"/>
<circle cx="144.7" cy="183.1" r="0.85" fill="#fff" fill-opacity="0.9"/>
<circle cx="139.7" cy="172.4" r="0.85" fill="#fff" fill-opacity="0.9"/>
<circle cx="143.6" cy="186.9" r="0.85" fill="#fff" fill-opacity="0.9"/>
<circle cx="143.1" cy="176.9" r="0.85" fill="#fff" fill-opacity="0.9"/>
<circle cx="138.5" cy="169.4" r="0.85" fill="#fff" fill-opacity="0.9"/>
<circle cx="145.7" cy="185.0" r="0.85" fill="#fff" fill-opacity="0.9"/>
<circle cx="145.9" cy="184.9" r="0.85" fill="#fff" fill-opacity="0.9"/>
<circle cx="139.4" cy="169.0" r="0.85" fill="#fff" fill-opacity="0.9"/>
<circle cx="137.2" cy="188.7" r="0.85" fill="#fff" fill-opacity="0.9"/>
<circle cx="138.5" cy="175.6" r="0.85" fill="#fff" fill-opacity="0.9"/>
<circle cx="139.1" cy="174.5" r="0.85" fill="#fff" fill-opacity="0.9"/>
<circle cx="144.6" cy="177.0" r="0.85" fill="#fff" fill-opacity="0.9"/>
<circle cx="139.8" cy="194.9" r="0.85" fill="#fff" fill-opacity="0.9"/>
<circle cx="142.0" cy="191.5" r="0.85" fill="#fff" fill-opacity="0.9"/>
<circle cx="141.0" cy="179.1" r="0.85" fill="#fff" fill-opacity="0.9"/>
<circle cx="145.3" cy="176.4" r="0.85" fill="#fff" fill-opacity="0.9"/>
<circle cx="144.5" cy="182.1" r="0.85" fill="#fff" fill-opacity="0.9"/>
<circle cx="138.6" cy="191.9" r="0.85" fill="#fff" fill-opacity="0.9"/>
<circle cx="138.4" cy="188.9" r="0.85" fill="#fff" fill-opacity="0.9"/>
<circle cx="141.9" cy="180.7" r="0.85" fill="#fff" fill-opacity="0.9"/>
<circle cx="141.9" cy="176.4" r="0.85" fill="#fff" fill-opacity="0.9"/>
<circle cx="138.6" cy="187.0" r="0.85" fill="#fff" fill-opacity="0.9"/>
<circle cx="145.5" cy="186.9" r="0.85" fill="#fff" fill-opacity="0.9"/>
<circle cx="145.4" cy="184.8" r="0.85" fill="#fff" fill-opacity="0.9"/>
<circle cx="140.3" cy="178.0" r="0.85" fill="#fff" fill-opacity="0.9"/>
<circle cx="140.7" cy="192.7" r="0.85" fill="#fff" fill-opacity="0.9"/>
<circle cx="139.2" cy="193.0" r="0.85" fill="#fff" fill-opacity="0.9"/>
<circle cx="142.0" cy="177.4" r="0.85" fill="#fff" fill-opacity="0.9"/>
<circle cx="141.5" cy="181.9" r="0.85" fill="#fff" fill-opacity="0.9"/>
<circle cx="145.3" cy="187.6" r="0.8" fill="#EE6B63" fill-opacity="0.9"/>
<circle cx="144.5" cy="177.1" r="0.8" fill="#EE6B63" fill-opacity="0.9"/>
<circle cx="142.3" cy="172.0" r="0.8" fill="#EE6B63" fill-opacity="0.9"/>
<circle cx="145.9" cy="185.2" r="0.8" fill="#EE6B63" fill-opacity="0.9"/>
<circle cx="145.2" cy="172.4" r="0.8" fill="#EE6B63" fill-opacity="0.9"/>
<circle cx="143.1" cy="188.1" r="0.8" fill="#EE6B63" fill-opacity="0.9"/>
<circle cx="144.1" cy="171.3" r="0.8" fill="#EE6B63" fill-opacity="0.9"/>
<circle cx="143.2" cy="191.0" r="0.8" fill="#EE6B63" fill-opacity="0.9"/>
<circle cx="141.7" cy="173.0" r="0.8" fill="#EE6B63" fill-opacity="0.9"/>
<circle cx="142.1" cy="186.3" r="0.8" fill="#EE6B63" fill-opacity="0.9"/>
<circle cx="145.9" cy="172.0" r="0.8" fill="#EE6B63" fill-opacity="0.9"/>
<circle cx="141.1" cy="174.4" r="0.8" fill="#EE6B63" fill-opacity="0.9"/>
<circle cx="142.3" cy="181.6" r="0.8" fill="#EE6B63" fill-opacity="0.9"/>
<circle cx="141.1" cy="176.5" r="0.8" fill="#EE6B63" fill-opacity="0.9"/>
<circle cx="141.3" cy="193.4" r="0.8" fill="#EE6B63" fill-opacity="0.9"/>
<circle cx="145.1" cy="170.6" r="0.8" fill="#EE6B63" fill-opacity="0.9"/>
<circle cx="146.7" cy="170.6" r="0.8" fill="#EE6B63" fill-opacity="0.9"/>
<circle cx="142.7" cy="193.6" r="0.8" fill="#EE6B63" fill-opacity="0.9"/>
<circle cx="145.6" cy="187.1" r="0.8" fill="#EE6B63" fill-opacity="0.9"/>
<circle cx="143.0" cy="173.1" r="0.8" fill="#EE6B63" fill-opacity="0.9"/>
<circle cx="144.5" cy="170.8" r="0.8" fill="#EE6B63" fill-opacity="0.9"/>
<circle cx="141.4" cy="178.1" r="0.8" fill="#EE6B63" fill-opacity="0.9"/>
<circle cx="140.2" cy="178.4" r="0.8" fill="#EE6B63" fill-opacity="0.9"/>
<circle cx="145.5" cy="186.0" r="0.8" fill="#EE6B63" fill-opacity="0.9"/>
<circle cx="143.5" cy="184.4" r="0.8" fill="#EE6B63" fill-opacity="0.9"/>
<circle cx="136.5" cy="201.9" r="0.78" fill="#EA7D25" fill-opacity="0.9"/>
<circle cx="153.0" cy="177.6" r="0.78" fill="#EA7D25" fill-opacity="0.9"/>
<circle cx="149.7" cy="183.3" r="0.78" fill="#EA7D25" fill-opacity="0.9"/>
<circle cx="150.0" cy="182.4" r="0.78" fill="#EA7D25" fill-opacity="0.9"/>
<circle cx="137.9" cy="200.6" r="0.78" fill="#EA7D25" fill-opacity="0.9"/>
<circle cx="134.7" cy="205.5" r="0.78" fill="#EA7D25" fill-opacity="0.9"/>
<circle cx="154.6" cy="190.7" r="0.78" fill="#EA7D25" fill-opacity="0.9"/>
<circle cx="148.8" cy="179.0" r="0.78" fill="#EA7D25" fill-opacity="0.9"/>
<circle cx="156.7" cy="193.6" r="0.78" fill="#EA7D25" fill-opacity="0.9"/>
<circle cx="145.1" cy="196.3" r="0.78" fill="#EA7D25" fill-opacity="0.9"/>
<circle cx="157.7" cy="192.9" r="0.78" fill="#EA7D25" fill-opacity="0.9"/>
<circle cx="147.0" cy="193.6" r="0.78" fill="#EA7D25" fill-opacity="0.9"/>
<circle cx="156.9" cy="198.2" r="0.78" fill="#EA7D25" fill-opacity="0.9"/>
<circle cx="139.1" cy="213.5" r="0.78" fill="#EA7D25" fill-opacity="0.9"/>
<circle cx="159.1" cy="200.9" r="0.78" fill="#EA7D25" fill-opacity="0.9"/>
<circle cx="155.7" cy="183.3" r="0.78" fill="#EA7D25" fill-opacity="0.9"/>
<circle cx="157.2" cy="207.6" r="0.78" fill="#EA7D25" fill-opacity="0.9"/>
<circle cx="135.5" cy="200.0" r="0.78" fill="#EA7D25" fill-opacity="0.9"/>
<circle cx="151.1" cy="187.4" r="0.78" fill="#EA7D25" fill-opacity="0.9"/>
<circle cx="151.2" cy="192.0" r="0.78" fill="#EA7D25" fill-opacity="0.9"/>
<circle cx="138.3" cy="201.0" r="0.78" fill="#EA7D25" fill-opacity="0.9"/>
<circle cx="157.2" cy="196.6" r="0.78" fill="#EA7D25" fill-opacity="0.9"/>
<circle cx="154.6" cy="185.1" r="0.78" fill="#EA7D25" fill-opacity="0.9"/>
<circle cx="135.7" cy="204.5" r="0.78" fill="#EA7D25" fill-opacity="0.9"/>
<circle cx="153.7" cy="188.4" r="0.78" fill="#EA7D25" fill-opacity="0.9"/>
<circle cx="158.1" cy="202.1" r="0.78" fill="#EA7D25" fill-opacity="0.9"/>
<circle cx="134.6" cy="202.5" r="0.78" fill="#EA7D25" fill-opacity="0.9"/>
<circle cx="156.6" cy="207.3" r="0.78" fill="#EA7D25" fill-opacity="0.9"/>
<circle cx="141.3" cy="195.7" r="0.78" fill="#EA7D25" fill-opacity="0.9"/>
<circle cx="142.1" cy="214.0" r="0.78" fill="#EA7D25" fill-opacity="0.9"/>
<circle cx="159.5" cy="180.6" r="0.78" fill="#EA7D25" fill-opacity="0.9"/>
<circle cx="154.8" cy="188.1" r="0.78" fill="#EA7D25" fill-opacity="0.9"/>
<circle cx="151.3" cy="178.7" r="0.78" fill="#EA7D25" fill-opacity="0.9"/>
<circle cx="150.9" cy="183.1" r="0.78" fill="#EA7D25" fill-opacity="0.9"/>
<circle cx="138.8" cy="201.1" r="0.78" fill="#EA7D25" fill-opacity="0.9"/>
<circle cx="150.3" cy="190.4" r="0.78" fill="#EA7D25" fill-opacity="0.9"/>
<circle cx="159.2" cy="180.0" r="0.78" fill="#EA7D25" fill-opacity="0.9"/>
<circle cx="153.4" cy="211.0" r="0.78" fill="#EA7D25" fill-opacity="0.9"/>
<circle cx="139.2" cy="198.8" r="0.78" fill="#EA7D25" fill-opacity="0.9"/>
<circle cx="136.5" cy="205.5" r="0.78" fill="#EA7D25" fill-opacity="0.9"/>
<path d="M150.0,178.5 C150.4,177.7 151.8,177.9 153.0,178.0 C154.2,178.1 156.1,178.3 157.0,179.0 C157.9,179.7 158.7,181.0 158.5,182.0 C158.3,183.0 156.6,183.8 156.0,185.0 C155.4,186.2 154.8,187.5 155.0,189.0 C155.2,190.5 156.4,192.2 157.0,194.0 C157.6,195.8 158.5,198.0 158.7,200.0 C158.9,202.0 158.8,204.1 158.2,206.0 C157.6,207.9 156.5,210.2 155.0,211.5 C153.5,212.8 151.0,213.7 149.0,214.0 C147.0,214.3 144.7,214.0 143.0,213.5 C141.3,213.0 140.2,212.4 139.0,211.2 C137.8,209.9 136.0,207.8 135.6,206.0 C135.2,204.2 135.8,201.9 136.5,200.5 C137.2,199.1 138.6,198.3 140.0,197.5 C141.4,196.7 143.5,196.6 145.0,195.7 C146.5,194.8 148.0,193.4 149.0,192.0 C150.0,190.6 150.8,188.5 151.0,187.0 C151.2,185.5 150.7,184.4 150.5,183.0 C150.3,181.6 149.6,179.3 150.0,178.5Z" fill="#EA7D25" fill-opacity="1.0" />
<circle cx="141.6" cy="184.5" r="0.75" fill="#EA7D25" fill-opacity="0.9"/>
<circle cx="142.4" cy="184.9" r="0.75" fill="#EA7D25" fill-opacity="0.9"/>
<circle cx="146.0" cy="185.6" r="0.75" fill="#EA7D25" fill-opacity="0.9"/>
<circle cx="149.6" cy="178.1" r="0.75" fill="#EA7D25" fill-opacity="0.9"/>
<circle cx="149.4" cy="184.6" r="0.75" fill="#EA7D25" fill-opacity="0.9"/>
<circle cx="146.6" cy="187.3" r="0.75" fill="#EA7D25" fill-opacity="0.9"/>
<circle cx="149.4" cy="183.2" r="0.75" fill="#EA7D25" fill-opacity="0.9"/>
<circle cx="145.2" cy="191.4" r="0.75" fill="#EA7D25" fill-opacity="0.9"/>
<circle cx="141.8" cy="186.9" r="0.75" fill="#EA7D25" fill-opacity="0.9"/>
<circle cx="147.4" cy="178.4" r="0.75" fill="#EA7D25" fill-opacity="0.9"/>
<circle cx="147.1" cy="187.6" r="0.75" fill="#EA7D25" fill-opacity="0.9"/>
<circle cx="150.3" cy="182.6" r="0.75" fill="#EA7D25" fill-opacity="0.9"/>
<circle cx="150.8" cy="185.1" r="0.75" fill="#EA7D25" fill-opacity="0.9"/>
<circle cx="145.8" cy="190.6" r="0.75" fill="#EA7D25" fill-opacity="0.9"/>
<circle cx="141.3" cy="188.1" r="0.75" fill="#EA7D25" fill-opacity="0.9"/>
<circle cx="147.3" cy="182.7" r="0.75" fill="#EA7D25" fill-opacity="0.9"/>
<circle cx="149.6" cy="183.1" r="0.75" fill="#EA7D25" fill-opacity="0.9"/>
<circle cx="145.7" cy="185.4" r="0.75" fill="#EA7D25" fill-opacity="0.9"/>
<circle cx="148.7" cy="181.0" r="0.75" fill="#EA7D25" fill-opacity="0.9"/>
<circle cx="145.4" cy="183.9" r="0.75" fill="#EA7D25" fill-opacity="0.9"/>
<circle cx="146.5" cy="189.6" r="0.75" fill="#EA7D25" fill-opacity="0.9"/>
<circle cx="143.9" cy="189.6" r="0.75" fill="#EA7D25" fill-opacity="0.9"/>
<circle cx="145.0" cy="185.1" r="0.75" fill="#EA7D25" fill-opacity="0.9"/>
<circle cx="143.7" cy="185.1" r="0.75" fill="#EA7D25" fill-opacity="0.9"/>
<circle cx="150.7" cy="187.2" r="0.75" fill="#EA7D25" fill-opacity="0.9"/>
<circle cx="183.7" cy="33.7" r="0.78" fill="#E68F14" fill-opacity="0.9"/>
<circle cx="164.1" cy="69.6" r="0.78" fill="#E68F14" fill-opacity="0.9"/>
<circle cx="206.0" cy="77.1" r="0.78" fill="#E68F14" fill-opacity="0.9"/>
<circle cx="172.9" cy="36.2" r="0.78" fill="#E68F14" fill-opacity="0.9"/>
<circle cx="187.8" cy="72.4" r="0.78" fill="#E68F14" fill-opacity="0.9"/>
<circle cx="170.7" cy="70.3" r="0.78" fill="#E68F14" fill-opacity="0.9"/>
<circle cx="165.0" cy="43.0" r="0.78" fill="#E68F14" fill-opacity="0.9"/>
<circle cx="172.7" cy="35.7" r="0.78" fill="#E68F14" fill-opacity="0.9"/>
<circle cx="186.6" cy="32.8" r="0.78" fill="#E68F14" fill-opacity="0.9"/>
<circle cx="187.0" cy="33.2" r="0.78" fill="#E68F14" fill-opacity="0.9"/>
<circle cx="193.3" cy="37.1" r="0.78" fill="#E68F14" fill-opacity="0.9"/>
<circle cx="214.0" cy="60.0" r="0.78" fill="#E68F14" fill-opacity="0.9"/>
<circle cx="163.9" cy="69.1" r="0.78" fill="#E68F14" fill-opacity="0.9"/>
<circle cx="165.1" cy="68.3" r="0.78" fill="#E68F14" fill-opacity="0.9"/>
<circle cx="201.7" cy="79.6" r="0.78" fill="#E68F14" fill-opacity="0.9"/>
<circle cx="166.5" cy="37.0" r="0.78" fill="#E68F14" fill-opacity="0.9"/>
<circle cx="162.1" cy="46.3" r="0.78" fill="#E68F14" fill-opacity="0.9"/>
<circle cx="180.6" cy="33.0" r="0.78" fill="#E68F14" fill-opacity="0.9"/>
<circle cx="161.4" cy="60.2" r="0.78" fill="#E68F14" fill-opacity="0.9"/>
<circle cx="188.3" cy="33.5" r="0.78" fill="#E68F14" fill-opacity="0.9"/>
<circle cx="184.2" cy="32.9" r="0.78" fill="#E68F14" fill-opacity="0.9"/>
<circle cx="211.3" cy="46.9" r="0.78" fill="#E68F14" fill-opacity="0.9"/>
<circle cx="207.2" cy="71.3" r="0.78" fill="#E68F14" fill-opacity="0.9"/>
<circle cx="176.8" cy="33.5" r="0.78" fill="#E68F14" fill-opacity="0.9"/>
<circle cx="162.8" cy="48.7" r="0.78" fill="#E68F14" fill-opacity="0.9"/>
<circle cx="164.8" cy="46.6" r="0.78" fill="#E68F14" fill-opacity="0.9"/>
<circle cx="163.4" cy="47.5" r="0.78" fill="#E68F14" fill-opacity="0.9"/>
<circle cx="161.8" cy="65.8" r="0.78" fill="#E68F14" fill-opacity="0.9"/>
<circle cx="173.6" cy="35.7" r="0.78" fill="#E68F14" fill-opacity="0.9"/>
<circle cx="189.3" cy="74.6" r="0.78" fill="#E68F14" fill-opacity="0.9"/>
<circle cx="208.0" cy="75.4" r="0.78" fill="#E68F14" fill-opacity="0.9"/>
<circle cx="190.3" cy="72.7" r="0.78" fill="#E68F14" fill-opacity="0.9"/>
<circle cx="165.3" cy="71.7" r="0.78" fill="#E68F14" fill-opacity="0.9"/>
<circle cx="161.4" cy="53.7" r="0.78" fill="#E68F14" fill-opacity="0.9"/>
<circle cx="160.9" cy="62.4" r="0.78" fill="#E68F14" fill-opacity="0.9"/>
<circle cx="213.6" cy="61.9" r="0.78" fill="#E68F14" fill-opacity="0.9"/>
<circle cx="203.8" cy="76.5" r="0.78" fill="#E68F14" fill-opacity="0.9"/>
<circle cx="197.0" cy="79.5" r="0.78" fill="#E68F14" fill-opacity="0.9"/>
<circle cx="204.8" cy="78.8" r="0.78" fill="#E68F14" fill-opacity="0.9"/>
<circle cx="173.3" cy="37.7" r="0.78" fill="#E68F14" fill-opacity="0.9"/>
<circle cx="168.3" cy="70.9" r="0.78" fill="#E68F14" fill-opacity="0.9"/>
<circle cx="171.6" cy="70.9" r="0.78" fill="#E68F14" fill-opacity="0.9"/>
<circle cx="178.4" cy="33.5" r="0.78" fill="#E68F14" fill-opacity="0.9"/>
<circle cx="211.7" cy="48.5" r="0.78" fill="#E68F14" fill-opacity="0.9"/>
<circle cx="163.5" cy="46.7" r="0.78" fill="#E68F14" fill-opacity="0.9"/>
<circle cx="207.2" cy="77.4" r="0.78" fill="#E68F14" fill-opacity="0.9"/>
<circle cx="175.7" cy="33.1" r="0.78" fill="#E68F14" fill-opacity="0.9"/>
<circle cx="183.2" cy="71.3" r="0.78" fill="#E68F14" fill-opacity="0.9"/>
<circle cx="205.0" cy="44.0" r="0.78" fill="#E68F14" fill-opacity="0.9"/>
<circle cx="207.1" cy="73.3" r="0.78" fill="#E68F14" fill-opacity="0.9"/>
<circle cx="190.8" cy="34.6" r="0.78" fill="#E68F14" fill-opacity="0.9"/>
<circle cx="183.9" cy="33.1" r="0.78" fill="#E68F14" fill-opacity="0.9"/>
<circle cx="210.0" cy="68.0" r="0.78" fill="#E68F14" fill-opacity="0.9"/>
<circle cx="166.5" cy="43.3" r="0.78" fill="#E68F14" fill-opacity="0.9"/>
<circle cx="163.9" cy="69.6" r="0.78" fill="#E68F14" fill-opacity="0.9"/>
<circle cx="215.2" cy="54.5" r="0.78" fill="#E68F14" fill-opacity="0.9"/>
<circle cx="160.0" cy="60.8" r="0.78" fill="#E68F14" fill-opacity="0.9"/>
<circle cx="209.4" cy="46.6" r="0.78" fill="#E68F14" fill-opacity="0.9"/>
<circle cx="174.3" cy="34.9" r="0.78" fill="#E68F14" fill-opacity="0.9"/>
<circle cx="179.9" cy="31.2" r="0.78" fill="#E68F14" fill-opacity="0.9"/>
<circle cx="165.3" cy="43.3" r="0.78" fill="#E68F14" fill-opacity="0.9"/>
<circle cx="161.1" cy="59.0" r="0.78" fill="#E68F14" fill-opacity="0.9"/>
<circle cx="200.3" cy="41.8" r="0.78" fill="#E68F14" fill-opacity="0.9"/>
<circle cx="212.3" cy="46.7" r="0.78" fill="#E68F14" fill-opacity="0.9"/>
<circle cx="176.9" cy="33.8" r="0.78" fill="#E68F14" fill-opacity="0.9"/>
<circle cx="170.4" cy="36.2" r="0.78" fill="#E68F14" fill-opacity="0.9"/>
<circle cx="192.4" cy="77.7" r="0.78" fill="#E68F14" fill-opacity="0.9"/>
<circle cx="207.2" cy="46.1" r="0.78" fill="#E68F14" fill-opacity="0.9"/>
<circle cx="159.8" cy="60.0" r="0.78" fill="#E68F14" fill-opacity="0.9"/>
<circle cx="183.5" cy="33.7" r="0.78" fill="#E68F14" fill-opacity="0.9"/>
<circle cx="195.7" cy="37.3" r="0.78" fill="#E68F14" fill-opacity="0.9"/>
<circle cx="209.3" cy="47.0" r="0.78" fill="#E68F14" fill-opacity="0.9"/>
<circle cx="182.9" cy="31.2" r="0.78" fill="#E68F14" fill-opacity="0.9"/>
<circle cx="195.9" cy="36.8" r="0.78" fill="#E68F14" fill-opacity="0.9"/>
<circle cx="204.2" cy="77.8" r="0.78" fill="#E68F14" fill-opacity="0.9"/>
<circle cx="211.3" cy="66.2" r="0.78" fill="#E68F14" fill-opacity="0.9"/>
<circle cx="209.3" cy="70.1" r="0.78" fill="#E68F14" fill-opacity="0.9"/>
<circle cx="164.9" cy="43.6" r="0.78" fill="#E68F14" fill-opacity="0.9"/>
<circle cx="189.6" cy="35.4" r="0.78" fill="#E68F14" fill-opacity="0.9"/>
<circle cx="213.4" cy="57.6" r="0.78" fill="#E68F14" fill-opacity="0.9"/>
<circle cx="213.0" cy="57.2" r="0.78" fill="#E68F14" fill-opacity="0.9"/>
<circle cx="181.7" cy="32.6" r="0.78" fill="#E68F14" fill-opacity="0.9"/>
<circle cx="161.3" cy="45.8" r="0.78" fill="#E68F14" fill-opacity="0.9"/>
<circle cx="183.8" cy="33.7" r="0.78" fill="#E68F14" fill-opacity="0.9"/>
<circle cx="214.6" cy="58.8" r="0.78" fill="#E68F14" fill-opacity="0.9"/>
<circle cx="214.2" cy="62.6" r="0.78" fill="#E68F14" fill-opacity="0.9"/>
<circle cx="213.3" cy="59.0" r="0.78" fill="#E68F14" fill-opacity="0.9"/>
<circle cx="183.7" cy="71.3" r="0.78" fill="#E68F14" fill-opacity="0.9"/>
<circle cx="184.0" cy="71.5" r="0.78" fill="#E68F14" fill-opacity="0.9"/>
<circle cx="202.7" cy="79.4" r="0.78" fill="#E68F14" fill-opacity="0.9"/>
<path d="M165.5,42.0 C166.8,40.5 168.8,38.2 170.5,37.0 C172.2,35.8 174.1,35.2 176.0,34.5 C177.9,33.8 180.0,32.6 182.0,32.5 C184.0,32.4 185.7,33.0 188.0,34.0 C190.3,35.0 193.1,37.0 195.6,38.3 C198.1,39.6 200.9,40.4 203.2,41.8 C205.5,43.2 207.9,44.8 209.6,46.5 C211.3,48.2 212.7,49.9 213.5,52.0 C214.3,54.1 214.4,57.0 214.2,59.0 C214.0,61.0 212.9,62.4 212.1,64.1 C211.3,65.8 210.4,67.4 209.6,69.1 C208.8,70.8 207.8,72.5 207.0,74.2 C206.2,75.9 206.0,78.2 204.5,79.3 C203.0,80.4 200.2,81.0 198.1,80.6 C196.0,80.2 193.7,78.3 191.8,76.8 C189.9,75.3 189.0,72.8 186.7,71.7 C184.4,70.6 181.0,70.4 177.8,70.4 C174.6,70.4 170.4,72.1 167.7,71.7 C164.9,71.3 162.6,69.8 161.3,67.9 C160.0,66.0 160.0,62.9 160.0,60.3 C160.0,57.6 161.0,54.4 161.5,52.0 C162.0,49.6 162.3,47.7 163.0,46.0 C163.7,44.3 164.2,43.5 165.5,42.0Z" fill="#E68F14" fill-opacity="1.0" />
<path d="M161.0,50.0 C161.9,48.8 164.2,48.5 166.0,49.0 C167.8,49.5 170.0,51.3 172.0,53.0 C174.0,54.7 176.3,57.2 178.0,59.0 C179.7,60.8 181.0,62.3 182.0,64.0 C183.0,65.7 184.3,67.7 184.0,69.0 C183.7,70.3 182.0,71.5 180.0,72.0 C178.0,72.5 174.7,72.3 172.0,72.0 C169.3,71.7 165.9,71.3 164.0,70.0 C162.1,68.7 161.1,66.3 160.5,64.0 C159.9,61.7 160.4,58.3 160.5,56.0 C160.6,53.7 160.1,51.2 161.0,50.0Z" fill="#6FA236" fill-opacity="0.6" />
<path d="M161.0,56.0 C161.9,54.8 164.2,56.0 166.0,57.0 C167.8,58.0 170.3,60.2 172.0,62.0 C173.7,63.8 176.0,66.4 176.0,68.0 C176.0,69.6 174.0,71.2 172.0,71.5 C170.0,71.8 165.9,71.2 164.0,70.0 C162.1,68.8 161.1,66.3 160.6,64.0 C160.1,61.7 160.1,57.2 161.0,56.0Z" fill="#2FAE4A" fill-opacity="0.7" />
<circle cx="169.3" cy="73.4" r="0.75" fill="#45B04A" fill-opacity="0.8"/>
<circle cx="187.9" cy="61.9" r="0.75" fill="#45B04A" fill-opacity="0.8"/>
<circle cx="165.8" cy="59.7" r="0.75" fill="#45B04A" fill-opacity="0.8"/>
<circle cx="184.3" cy="67.9" r="0.75" fill="#45B04A" fill-opacity="0.8"/>
<circle cx="172.6" cy="62.1" r="0.75" fill="#45B04A" fill-opacity="0.8"/>
<circle cx="184.4" cy="72.2" r="0.75" fill="#45B04A" fill-opacity="0.8"/>
<circle cx="191.4" cy="69.7" r="0.75" fill="#45B04A" fill-opacity="0.8"/>
<circle cx="170.1" cy="59.3" r="0.75" fill="#45B04A" fill-opacity="0.8"/>
<circle cx="188.6" cy="66.2" r="0.75" fill="#45B04A" fill-opacity="0.8"/>
<circle cx="188.3" cy="59.1" r="0.75" fill="#45B04A" fill-opacity="0.8"/>
<circle cx="191.4" cy="64.7" r="0.75" fill="#45B04A" fill-opacity="0.8"/>
<circle cx="192.5" cy="75.3" r="0.75" fill="#45B04A" fill-opacity="0.8"/>
<circle cx="180.3" cy="58.3" r="0.75" fill="#45B04A" fill-opacity="0.8"/>
<circle cx="194.9" cy="67.5" r="0.75" fill="#45B04A" fill-opacity="0.8"/>
<circle cx="193.5" cy="63.3" r="0.75" fill="#45B04A" fill-opacity="0.8"/>
<circle cx="169.5" cy="74.6" r="0.75" fill="#45B04A" fill-opacity="0.8"/>
<circle cx="175.8" cy="61.3" r="0.75" fill="#45B04A" fill-opacity="0.8"/>
<circle cx="176.0" cy="69.9" r="0.75" fill="#45B04A" fill-opacity="0.8"/>
<circle cx="163.2" cy="68.4" r="0.75" fill="#45B04A" fill-opacity="0.8"/>
<circle cx="178.6" cy="68.3" r="0.75" fill="#45B04A" fill-opacity="0.8"/>
<circle cx="167.2" cy="72.3" r="0.75" fill="#45B04A" fill-opacity="0.8"/>
<circle cx="191.6" cy="75.3" r="0.75" fill="#45B04A" fill-opacity="0.8"/>
<circle cx="174.2" cy="72.2" r="0.75" fill="#45B04A" fill-opacity="0.8"/>
<circle cx="176.3" cy="73.0" r="0.75" fill="#45B04A" fill-opacity="0.8"/>
<circle cx="165.1" cy="75.5" r="0.75" fill="#45B04A" fill-opacity="0.8"/>
<circle cx="196.4" cy="67.9" r="0.75" fill="#45B04A" fill-opacity="0.8"/>
<circle cx="181.0" cy="68.6" r="0.75" fill="#45B04A" fill-opacity="0.8"/>
<circle cx="181.8" cy="58.4" r="0.75" fill="#45B04A" fill-opacity="0.8"/>
<circle cx="196.9" cy="62.5" r="0.75" fill="#45B04A" fill-opacity="0.8"/>
<circle cx="169.4" cy="60.1" r="0.75" fill="#45B04A" fill-opacity="0.8"/>
<circle cx="171.8" cy="74.3" r="0.75" fill="#45B04A" fill-opacity="0.8"/>
<circle cx="164.1" cy="59.9" r="0.75" fill="#45B04A" fill-opacity="0.8"/>
<circle cx="187.5" cy="61.9" r="0.75" fill="#45B04A" fill-opacity="0.8"/>
<circle cx="163.6" cy="70.0" r="0.75" fill="#45B04A" fill-opacity="0.8"/>
<circle cx="183.2" cy="68.5" r="0.75" fill="#45B04A" fill-opacity="0.8"/>
<circle cx="187.6" cy="60.1" r="0.75" fill="#45B04A" fill-opacity="0.8"/>
<circle cx="193.4" cy="72.3" r="0.75" fill="#45B04A" fill-opacity="0.8"/>
<circle cx="164.6" cy="60.5" r="0.75" fill="#45B04A" fill-opacity="0.8"/>
<circle cx="180.3" cy="68.0" r="0.75" fill="#45B04A" fill-opacity="0.8"/>
<circle cx="172.8" cy="60.4" r="0.75" fill="#45B04A" fill-opacity="0.8"/>
<circle cx="177.2" cy="60.7" r="0.75" fill="#45B04A" fill-opacity="0.8"/>
<circle cx="183.7" cy="75.2" r="0.75" fill="#45B04A" fill-opacity="0.8"/>
<circle cx="168.2" cy="69.5" r="0.75" fill="#45B04A" fill-opacity="0.8"/>
<circle cx="189.1" cy="61.3" r="0.75" fill="#45B04A" fill-opacity="0.8"/>
<circle cx="191.9" cy="76.8" r="0.75" fill="#45B04A" fill-opacity="0.8"/>
<circle cx="176.6" cy="66.4" r="0.75" fill="#45B04A" fill-opacity="0.8"/>
<circle cx="192.4" cy="68.5" r="0.75" fill="#45B04A" fill-opacity="0.8"/>
<circle cx="176.8" cy="76.8" r="0.75" fill="#45B04A" fill-opacity="0.8"/>
<circle cx="190.2" cy="64.8" r="0.75" fill="#45B04A" fill-opacity="0.8"/>
<circle cx="171.4" cy="64.7" r="0.75" fill="#45B04A" fill-opacity="0.8"/>
<circle cx="178.2" cy="77.6" r="0.75" fill="#45B04A" fill-opacity="0.8"/>
<circle cx="191.2" cy="76.3" r="0.75" fill="#45B04A" fill-opacity="0.8"/>
<circle cx="191.5" cy="75.0" r="0.75" fill="#45B04A" fill-opacity="0.8"/>
<circle cx="164.9" cy="68.3" r="0.75" fill="#45B04A" fill-opacity="0.8"/>
<circle cx="196.5" cy="76.7" r="0.75" fill="#45B04A" fill-opacity="0.8"/>
<circle cx="171.7" cy="66.4" r="0.75" fill="#45B04A" fill-opacity="0.8"/>
<circle cx="185.1" cy="65.3" r="0.75" fill="#45B04A" fill-opacity="0.8"/>
<circle cx="181.6" cy="59.4" r="0.75" fill="#45B04A" fill-opacity="0.8"/>
<circle cx="178.2" cy="68.1" r="0.75" fill="#45B04A" fill-opacity="0.8"/>
<circle cx="163.7" cy="60.8" r="0.75" fill="#45B04A" fill-opacity="0.8"/>
<circle cx="196.9" cy="73.5" r="0.75" fill="#45B04A" fill-opacity="0.8"/>
<circle cx="195.8" cy="70.7" r="0.75" fill="#45B04A" fill-opacity="0.8"/>
<circle cx="191.3" cy="75.7" r="0.75" fill="#45B04A" fill-opacity="0.8"/>
<circle cx="194.0" cy="58.7" r="0.75" fill="#45B04A" fill-opacity="0.8"/>
<circle cx="185.5" cy="63.3" r="0.75" fill="#45B04A" fill-opacity="0.8"/>
<circle cx="186.7" cy="63.5" r="0.75" fill="#45B04A" fill-opacity="0.8"/>
<circle cx="182.0" cy="76.5" r="0.75" fill="#45B04A" fill-opacity="0.8"/>
<circle cx="184.7" cy="63.0" r="0.75" fill="#45B04A" fill-opacity="0.8"/>
<circle cx="181.2" cy="66.7" r="0.75" fill="#45B04A" fill-opacity="0.8"/>
<circle cx="196.3" cy="63.8" r="0.75" fill="#45B04A" fill-opacity="0.8"/>
<circle cx="173.7" cy="71.0" r="0.75" fill="#45B04A" fill-opacity="0.8"/>
<circle cx="167.2" cy="69.9" r="0.75" fill="#45B04A" fill-opacity="0.8"/>
<circle cx="196.5" cy="68.3" r="0.75" fill="#45B04A" fill-opacity="0.8"/>
<circle cx="172.4" cy="67.3" r="0.75" fill="#45B04A" fill-opacity="0.8"/>
<circle cx="181.7" cy="61.0" r="0.75" fill="#45B04A" fill-opacity="0.8"/>
<circle cx="167.3" cy="60.6" r="0.75" fill="#45B04A" fill-opacity="0.8"/>
<circle cx="173.3" cy="66.1" r="0.75" fill="#45B04A" fill-opacity="0.8"/>
<circle cx="173.1" cy="62.9" r="0.75" fill="#45B04A" fill-opacity="0.8"/>
<circle cx="166.1" cy="68.9" r="0.75" fill="#45B04A" fill-opacity="0.8"/>
<circle cx="192.4" cy="70.2" r="0.75" fill="#45B04A" fill-opacity="0.8"/>
<circle cx="183.0" cy="71.0" r="0.75" fill="#45B04A" fill-opacity="0.8"/>
<circle cx="170.0" cy="72.2" r="0.75" fill="#45B04A" fill-opacity="0.8"/>
<circle cx="179.1" cy="69.0" r="0.75" fill="#45B04A" fill-opacity="0.8"/>
<circle cx="184.4" cy="67.4" r="0.75" fill="#45B04A" fill-opacity="0.8"/>
<circle cx="173.9" cy="62.8" r="0.75" fill="#45B04A" fill-opacity="0.8"/>
<circle cx="170.8" cy="68.2" r="0.75" fill="#45B04A" fill-opacity="0.8"/>
<circle cx="176.4" cy="69.7" r="0.75" fill="#45B04A" fill-opacity="0.8"/>
<circle cx="163.4" cy="65.1" r="0.75" fill="#45B04A" fill-opacity="0.8"/>
<circle cx="193.2" cy="62.8" r="0.75" fill="#45B04A" fill-opacity="0.8"/>
<circle cx="182.5" cy="67.8" r="0.75" fill="#45B04A" fill-opacity="0.8"/>
<path d="M210.0,54.0 C211.0,52.9 213.6,52.7 214.4,53.5 C215.2,54.3 215.0,57.3 214.8,59.0 C214.6,60.7 213.8,62.5 213.0,63.5 C212.2,64.5 210.8,65.6 210.0,65.0 C209.2,64.4 208.5,61.8 208.5,60.0 C208.5,58.2 209.0,55.1 210.0,54.0Z" fill="#E5708A" fill-opacity="0.9" />
<path d="M191.0,75.0 C192.0,74.3 194.8,78.5 197.0,79.0 C199.2,79.5 202.2,77.7 204.0,78.0 C205.8,78.3 207.0,79.6 208.0,81.0 C209.0,82.4 209.5,84.8 210.0,86.5 C210.5,88.2 211.8,90.1 211.0,91.0 C210.2,91.9 207.5,91.8 205.0,92.0 C202.5,92.2 198.2,92.3 196.0,92.0 C193.8,91.7 192.8,91.5 192.0,90.0 C191.2,88.5 191.2,85.5 191.0,83.0 C190.8,80.5 190.0,75.7 191.0,75.0Z" fill="#6CAE3A" fill-opacity="1.0" />
<circle cx="196.4" cy="89.8" r="0.75" fill="#E68F14" fill-opacity="0.9"/>
<circle cx="196.6" cy="86.8" r="0.75" fill="#E68F14" fill-opacity="0.9"/>
<circle cx="194.0" cy="76.9" r="0.75" fill="#E68F14" fill-opacity="0.9"/>
<circle cx="207.6" cy="82.2" r="0.75" fill="#E68F14" fill-opacity="0.9"/>
<circle cx="192.2" cy="81.4" r="0.75" fill="#E68F14" fill-opacity="0.9"/>
<circle cx="199.4" cy="86.3" r="0.75" fill="#E68F14" fill-opacity="0.9"/>
<circle cx="193.1" cy="79.2" r="0.75" fill="#E68F14" fill-opacity="0.9"/>
<circle cx="209.2" cy="86.3" r="0.75" fill="#E68F14" fill-opacity="0.9"/>
<circle cx="193.9" cy="80.7" r="0.75" fill="#E68F14" fill-opacity="0.9"/>
<circle cx="197.7" cy="85.5" r="0.75" fill="#E68F14" fill-opacity="0.9"/>
<circle cx="202.7" cy="87.9" r="0.75" fill="#E68F14" fill-opacity="0.9"/>
<circle cx="206.6" cy="83.2" r="0.75" fill="#E68F14" fill-opacity="0.9"/>
<circle cx="205.0" cy="86.4" r="0.75" fill="#E68F14" fill-opacity="0.9"/>
<circle cx="205.4" cy="82.7" r="0.75" fill="#E68F14" fill-opacity="0.9"/>
<circle cx="205.9" cy="85.9" r="0.75" fill="#E68F14" fill-opacity="0.9"/>
<circle cx="208.4" cy="77.8" r="0.75" fill="#E68F14" fill-opacity="0.9"/>
<circle cx="207.5" cy="76.1" r="0.75" fill="#E68F14" fill-opacity="0.9"/>
<circle cx="205.5" cy="84.2" r="0.75" fill="#E68F14" fill-opacity="0.9"/>
<circle cx="200.5" cy="89.5" r="0.75" fill="#E68F14" fill-opacity="0.9"/>
<circle cx="201.9" cy="81.9" r="0.75" fill="#E68F14" fill-opacity="0.9"/>
<circle cx="205.9" cy="88.2" r="0.75" fill="#E68F14" fill-opacity="0.9"/>
<circle cx="202.5" cy="81.3" r="0.75" fill="#E68F14" fill-opacity="0.9"/>
<circle cx="199.6" cy="82.4" r="0.75" fill="#E68F14" fill-opacity="0.9"/>
<circle cx="204.7" cy="80.1" r="0.75" fill="#E68F14" fill-opacity="0.9"/>
<circle cx="198.4" cy="83.8" r="0.75" fill="#E68F14" fill-opacity="0.9"/>
<circle cx="198.3" cy="80.5" r="0.75" fill="#E68F14" fill-opacity="0.9"/>
<circle cx="206.0" cy="87.9" r="0.75" fill="#E68F14" fill-opacity="0.9"/>
<circle cx="200.5" cy="82.2" r="0.75" fill="#E68F14" fill-opacity="0.9"/>
<circle cx="194.5" cy="80.3" r="0.75" fill="#E68F14" fill-opacity="0.9"/>
<circle cx="193.8" cy="84.1" r="0.75" fill="#E68F14" fill-opacity="0.9"/>
<circle cx="202.1" cy="79.2" r="0.75" fill="#2EB3C4" fill-opacity="0.9"/>
<circle cx="208.5" cy="82.5" r="0.75" fill="#2EB3C4" fill-opacity="0.9"/>
<circle cx="207.0" cy="89.7" r="0.75" fill="#2EB3C4" fill-opacity="0.9"/>
<circle cx="209.2" cy="80.9" r="0.75" fill="#2EB3C4" fill-opacity="0.9"/>
<circle cx="199.1" cy="90.7" r="0.75" fill="#2EB3C4" fill-opacity="0.9"/>
<circle cx="191.2" cy="78.7" r="0.75" fill="#2EB3C4" fill-opacity="0.9"/>
<circle cx="201.7" cy="85.0" r="0.75" fill="#2EB3C4" fill-opacity="0.9"/>
<circle cx="208.5" cy="88.8" r="0.75" fill="#2EB3C4" fill-opacity="0.9"/>
<circle cx="201.2" cy="92.0" r="0.75" fill="#2EB3C4" fill-opacity="0.9"/>
<circle cx="200.8" cy="85.2" r="0.75" fill="#2EB3C4" fill-opacity="0.9"/>
<circle cx="204.0" cy="83.5" r="0.75" fill="#2EB3C4" fill-opacity="0.9"/>
<circle cx="197.8" cy="86.3" r="0.75" fill="#2EB3C4" fill-opacity="0.9"/>
<circle cx="197.7" cy="91.3" r="0.75" fill="#2EB3C4" fill-opacity="0.9"/>
<circle cx="203.9" cy="85.4" r="0.75" fill="#2EB3C4" fill-opacity="0.9"/>
<circle cx="192.9" cy="83.2" r="0.75" fill="#2EB3C4" fill-opacity="0.9"/>
<circle cx="198.6" cy="85.9" r="0.75" fill="#2EB3C4" fill-opacity="0.9"/>
<circle cx="201.9" cy="90.3" r="0.75" fill="#2EB3C4" fill-opacity="0.9"/>
<circle cx="209.3" cy="84.8" r="0.75" fill="#2EB3C4" fill-opacity="0.9"/>
<circle cx="199.4" cy="86.7" r="0.75" fill="#2EB3C4" fill-opacity="0.9"/>
<circle cx="209.9" cy="82.8" r="0.75" fill="#2EB3C4" fill-opacity="0.9"/>
<circle cx="201.1" cy="89.4" r="0.75" fill="#2EB3C4" fill-opacity="0.9"/>
<circle cx="194.2" cy="82.5" r="0.75" fill="#2EB3C4" fill-opacity="0.9"/>
<circle cx="209.6" cy="89.6" r="0.75" fill="#2EB3C4" fill-opacity="0.9"/>
<circle cx="200.7" cy="79.5" r="0.75" fill="#2EB3C4" fill-opacity="0.9"/>
<circle cx="208.0" cy="87.7" r="0.75" fill="#2EB3C4" fill-opacity="0.9"/>
<circle cx="206.6" cy="91.9" r="0.75" fill="#2EB3C4" fill-opacity="0.9"/>
<circle cx="207.9" cy="83.9" r="0.75" fill="#2EB3C4" fill-opacity="0.9"/>
<circle cx="194.0" cy="82.1" r="0.75" fill="#2EB3C4" fill-opacity="0.9"/>
<circle cx="200.7" cy="85.1" r="0.75" fill="#2EB3C4" fill-opacity="0.9"/>
<circle cx="194.6" cy="80.6" r="0.75" fill="#2EB3C4" fill-opacity="0.9"/>
<circle cx="205.9" cy="84.4" r="0.75" fill="#2F8FD8" fill-opacity="0.9"/>
<circle cx="202.9" cy="87.9" r="0.75" fill="#2F8FD8" fill-opacity="0.9"/>
<circle cx="206.0" cy="79.4" r="0.75" fill="#2F8FD8" fill-opacity="0.9"/>
<circle cx="203.5" cy="86.1" r="0.75" fill="#2F8FD8" fill-opacity="0.9"/>
<circle cx="202.4" cy="85.2" r="0.75" fill="#2F8FD8" fill-opacity="0.9"/>
<circle cx="199.0" cy="81.7" r="0.75" fill="#2F8FD8" fill-opacity="0.9"/>
<circle cx="208.3" cy="84.3" r="0.75" fill="#2F8FD8" fill-opacity="0.9"/>
<circle cx="206.3" cy="80.8" r="0.75" fill="#2F8FD8" fill-opacity="0.9"/>
<circle cx="204.5" cy="84.0" r="0.75" fill="#2F8FD8" fill-opacity="0.9"/>
<circle cx="201.9" cy="84.8" r="0.75" fill="#2F8FD8" fill-opacity="0.9"/>
<circle cx="204.8" cy="88.0" r="0.75" fill="#2F8FD8" fill-opacity="0.9"/>
<circle cx="205.3" cy="82.7" r="0.75" fill="#2F8FD8" fill-opacity="0.9"/>
<circle cx="200.3" cy="80.4" r="0.75" fill="#2F8FD8" fill-opacity="0.9"/>
<circle cx="207.4" cy="80.0" r="0.75" fill="#2F8FD8" fill-opacity="0.9"/>
<circle cx="200.1" cy="80.5" r="0.75" fill="#2F8FD8" fill-opacity="0.9"/>
<circle cx="204.7" cy="86.4" r="0.75" fill="#2F8FD8" fill-opacity="0.9"/>
<circle cx="205.7" cy="86.3" r="0.75" fill="#2F8FD8" fill-opacity="0.9"/>
<circle cx="199.7" cy="79.1" r="0.75" fill="#2F8FD8" fill-opacity="0.9"/>
<circle cx="207.5" cy="81.9" r="0.75" fill="#2F8FD8" fill-opacity="0.9"/>
<circle cx="206.9" cy="82.2" r="0.75" fill="#2F8FD8" fill-opacity="0.9"/>
<circle cx="200.9" cy="81.4" r="0.75" fill="#2F8FD8" fill-opacity="0.9"/>
<circle cx="200.1" cy="87.1" r="0.75" fill="#2F8FD8" fill-opacity="0.9"/>
<circle cx="205.4" cy="82.1" r="0.75" fill="#2F8FD8" fill-opacity="0.9"/>
<circle cx="203.9" cy="82.5" r="0.75" fill="#2F8FD8" fill-opacity="0.9"/>
<circle cx="199.6" cy="87.0" r="0.75" fill="#2F8FD8" fill-opacity="0.9"/>
<circle cx="201.7" cy="81.7" r="0.75" fill="#8EB52C" fill-opacity="0.9"/>
<circle cx="198.8" cy="79.0" r="0.75" fill="#8EB52C" fill-opacity="0.9"/>
<circle cx="195.0" cy="74.4" r="0.75" fill="#8EB52C" fill-opacity="0.9"/>
<circle cx="208.6" cy="80.8" r="0.75" fill="#8EB52C" fill-opacity="0.9"/>
<circle cx="196.3" cy="81.2" r="0.75" fill="#8EB52C" fill-opacity="0.9"/>
<circle cx="206.3" cy="76.4" r="0.75" fill="#8EB52C" fill-opacity="0.9"/>
<circle cx="202.1" cy="81.7" r="0.75" fill="#8EB52C" fill-opacity="0.9"/>
<circle cx="199.9" cy="81.6" r="0.75" fill="#8EB52C" fill-opacity="0.9"/>
<circle cx="194.9" cy="77.1" r="0.75" fill="#8EB52C" fill-opacity="0.9"/>
<circle cx="204.4" cy="75.8" r="0.75" fill="#8EB52C" fill-opacity="0.9"/>
<circle cx="196.2" cy="81.0" r="0.75" fill="#8EB52C" fill-opacity="0.9"/>
<circle cx="199.7" cy="80.3" r="0.75" fill="#8EB52C" fill-opacity="0.9"/>
<circle cx="194.9" cy="75.4" r="0.75" fill="#8EB52C" fill-opacity="0.9"/>
<circle cx="197.2" cy="75.5" r="0.75" fill="#8EB52C" fill-opacity="0.9"/>
<circle cx="209.4" cy="76.3" r="0.75" fill="#8EB52C" fill-opacity="0.9"/>
<circle cx="201.2" cy="74.9" r="0.75" fill="#8EB52C" fill-opacity="0.9"/>
<circle cx="200.7" cy="77.1" r="0.75" fill="#8EB52C" fill-opacity="0.9"/>
<circle cx="198.1" cy="74.5" r="0.75" fill="#8EB52C" fill-opacity="0.9"/>
<circle cx="192.5" cy="80.6" r="0.75" fill="#8EB52C" fill-opacity="0.9"/>
<circle cx="197.0" cy="76.0" r="0.75" fill="#8EB52C" fill-opacity="0.9"/>
<circle cx="193.8" cy="76.3" r="0.75" fill="#8EB52C" fill-opacity="0.9"/>
<circle cx="194.7" cy="74.3" r="0.75" fill="#8EB52C" fill-opacity="0.9"/>
<circle cx="203.3" cy="76.7" r="0.75" fill="#8EB52C" fill-opacity="0.9"/>
<circle cx="193.1" cy="79.6" r="0.75" fill="#8EB52C" fill-opacity="0.9"/>
<circle cx="191.9" cy="76.2" r="0.75" fill="#8EB52C" fill-opacity="0.9"/>
<circle cx="206.7" cy="75.0" r="0.75" fill="#8EB52C" fill-opacity="0.9"/>
<circle cx="198.9" cy="80.7" r="0.75" fill="#8EB52C" fill-opacity="0.9"/>
<circle cx="206.1" cy="75.3" r="0.75" fill="#8EB52C" fill-opacity="0.9"/>
<circle cx="197.1" cy="79.8" r="0.75" fill="#8EB52C" fill-opacity="0.9"/>
<circle cx="197.5" cy="81.7" r="0.75" fill="#8EB52C" fill-opacity="0.9"/>
<circle cx="200.2" cy="126.9" r="0.78" fill="#35AD45" fill-opacity="0.9"/>
<circle cx="233.6" cy="93.9" r="0.78" fill="#35AD45" fill-opacity="0.9"/>
<circle cx="192.4" cy="88.4" r="0.78" fill="#35AD45" fill-opacity="0.9"/>
<circle cx="208.0" cy="128.0" r="0.78" fill="#35AD45" fill-opacity="0.9"/>
<circle cx="194.4" cy="115.7" r="0.78" fill="#35AD45" fill-opacity="0.9"/>
<circle cx="238.3" cy="110.0" r="0.78" fill="#35AD45" fill-opacity="0.9"/>
<circle cx="191.0" cy="92.0" r="0.78" fill="#35AD45" fill-opacity="0.9"/>
<circle cx="207.6" cy="127.8" r="0.78" fill="#35AD45" fill-opacity="0.9"/>
<circle cx="212.6" cy="89.2" r="0.78" fill="#35AD45" fill-opacity="0.9"/>
<circle cx="199.2" cy="126.8" r="0.78" fill="#35AD45" fill-opacity="0.9"/>
<circle cx="195.3" cy="121.6" r="0.78" fill="#35AD45" fill-opacity="0.9"/>
<circle cx="231.1" cy="93.5" r="0.78" fill="#35AD45" fill-opacity="0.9"/>
<circle cx="196.8" cy="122.7" r="0.78" fill="#35AD45" fill-opacity="0.9"/>
<circle cx="239.5" cy="111.7" r="0.78" fill="#35AD45" fill-opacity="0.9"/>
<circle cx="233.5" cy="95.4" r="0.78" fill="#35AD45" fill-opacity="0.9"/>
<circle cx="192.5" cy="114.2" r="0.78" fill="#35AD45" fill-opacity="0.9"/>
<circle cx="211.1" cy="127.7" r="0.78" fill="#35AD45" fill-opacity="0.9"/>
<circle cx="197.6" cy="123.3" r="0.78" fill="#35AD45" fill-opacity="0.9"/>
<circle cx="186.9" cy="99.4" r="0.78" fill="#35AD45" fill-opacity="0.9"/>
<circle cx="208.2" cy="86.6" r="0.78" fill="#35AD45" fill-opacity="0.9"/>
<circle cx="220.6" cy="123.8" r="0.78" fill="#35AD45" fill-opacity="0.9"/>
<circle cx="191.2" cy="88.5" r="0.78" fill="#35AD45" fill-opacity="0.9"/>
<circle cx="187.0" cy="103.7" r="0.78" fill="#35AD45" fill-opacity="0.9"/>
<circle cx="211.4" cy="127.9" r="0.78" fill="#35AD45" fill-opacity="0.9"/>
<circle cx="238.8" cy="113.2" r="0.78" fill="#35AD45" fill-opacity="0.9"/>
<circle cx="237.9" cy="102.7" r="0.78" fill="#35AD45" fill-opacity="0.9"/>
<circle cx="221.1" cy="93.4" r="0.78" fill="#35AD45" fill-opacity="0.9"/>
<circle cx="232.5" cy="116.8" r="0.78" fill="#35AD45" fill-opacity="0.9"/>
<circle cx="231.0" cy="94.9" r="0.78" fill="#35AD45" fill-opacity="0.9"/>
<circle cx="216.5" cy="93.1" r="0.78" fill="#35AD45" fill-opacity="0.9"/>
<circle cx="198.7" cy="124.4" r="0.78" fill="#35AD45" fill-opacity="0.9"/>
<circle cx="215.5" cy="128.4" r="0.78" fill="#35AD45" fill-opacity="0.9"/>
<circle cx="209.5" cy="128.2" r="0.78" fill="#35AD45" fill-opacity="0.9"/>
<circle cx="237.1" cy="115.7" r="0.78" fill="#35AD45" fill-opacity="0.9"/>
<circle cx="193.9" cy="115.3" r="0.78" fill="#35AD45" fill-opacity="0.9"/>
<circle cx="212.3" cy="127.7" r="0.78" fill="#35AD45" fill-opacity="0.9"/>
<circle cx="195.8" cy="122.5" r="0.78" fill="#35AD45" fill-opacity="0.9"/>
<circle cx="195.6" cy="121.0" r="0.78" fill="#35AD45" fill-opacity="0.9"/>
<circle cx="192.3" cy="113.5" r="0.78" fill="#35AD45" fill-opacity="0.9"/>
<circle cx="193.8" cy="120.1" r="0.78" fill="#35AD45" fill-opacity="0.9"/>
<circle cx="199.5" cy="127.2" r="0.78" fill="#35AD45" fill-opacity="0.9"/>
<circle cx="200.0" cy="125.6" r="0.78" fill="#35AD45" fill-opacity="0.9"/>
<circle cx="192.4" cy="114.9" r="0.78" fill="#35AD45" fill-opacity="0.9"/>
<circle cx="230.3" cy="119.6" r="0.78" fill="#35AD45" fill-opacity="0.9"/>
<circle cx="218.3" cy="94.2" r="0.78" fill="#35AD45" fill-opacity="0.9"/>
<circle cx="227.0" cy="91.5" r="0.78" fill="#35AD45" fill-opacity="0.9"/>
<circle cx="209.5" cy="87.5" r="0.78" fill="#35AD45" fill-opacity="0.9"/>
<circle cx="226.6" cy="94.2" r="0.78" fill="#35AD45" fill-opacity="0.9"/>
<circle cx="187.9" cy="108.1" r="0.78" fill="#35AD45" fill-opacity="0.9"/>
<circle cx="220.3" cy="126.4" r="0.78" fill="#35AD45" fill-opacity="0.9"/>
<circle cx="189.9" cy="93.4" r="0.78" fill="#35AD45" fill-opacity="0.9"/>
<circle cx="196.8" cy="125.5" r="0.78" fill="#35AD45" fill-opacity="0.9"/>
<circle cx="196.6" cy="121.7" r="0.78" fill="#35AD45" fill-opacity="0.9"/>
<circle cx="204.1" cy="89.2" r="0.78" fill="#35AD45" fill-opacity="0.9"/>
<circle cx="231.1" cy="122.7" r="0.78" fill="#35AD45" fill-opacity="0.9"/>
<circle cx="216.4" cy="127.0" r="0.78" fill="#35AD45" fill-opacity="0.9"/>
<circle cx="239.5" cy="103.5" r="0.78" fill="#35AD45" fill-opacity="0.9"/>
<circle cx="224.0" cy="93.8" r="0.78" fill="#35AD45" fill-opacity="0.9"/>
<circle cx="188.6" cy="107.1" r="0.78" fill="#35AD45" fill-opacity="0.9"/>
<circle cx="239.4" cy="110.4" r="0.78" fill="#35AD45" fill-opacity="0.9"/>
<circle cx="200.2" cy="126.8" r="0.78" fill="#35AD45" fill-opacity="0.9"/>
<circle cx="194.2" cy="87.8" r="0.78" fill="#35AD45" fill-opacity="0.9"/>
<circle cx="223.8" cy="125.1" r="0.78" fill="#35AD45" fill-opacity="0.9"/>
<circle cx="231.1" cy="122.0" r="0.78" fill="#35AD45" fill-opacity="0.9"/>
<circle cx="199.2" cy="126.4" r="0.78" fill="#35AD45" fill-opacity="0.9"/>
<circle cx="228.9" cy="93.6" r="0.78" fill="#35AD45" fill-opacity="0.9"/>
<circle cx="227.1" cy="95.2" r="0.78" fill="#35AD45" fill-opacity="0.9"/>
<circle cx="213.8" cy="88.8" r="0.78" fill="#35AD45" fill-opacity="0.9"/>
<circle cx="198.3" cy="87.9" r="0.78" fill="#35AD45" fill-opacity="0.9"/>
<circle cx="231.7" cy="120.3" r="0.78" fill="#35AD45" fill-opacity="0.9"/>
<circle cx="235.9" cy="113.4" r="0.78" fill="#35AD45" fill-opacity="0.9"/>
<circle cx="230.3" cy="118.0" r="0.78" fill="#35AD45" fill-opacity="0.9"/>
<circle cx="210.2" cy="127.9" r="0.78" fill="#35AD45" fill-opacity="0.9"/>
<circle cx="209.9" cy="88.6" r="0.78" fill="#35AD45" fill-opacity="0.9"/>
<circle cx="218.6" cy="94.1" r="0.78" fill="#35AD45" fill-opacity="0.9"/>
<circle cx="207.7" cy="127.6" r="0.78" fill="#35AD45" fill-opacity="0.9"/>
<circle cx="191.8" cy="111.6" r="0.78" fill="#35AD45" fill-opacity="0.9"/>
<circle cx="202.4" cy="128.5" r="0.78" fill="#35AD45" fill-opacity="0.9"/>
<circle cx="212.3" cy="92.2" r="0.78" fill="#35AD45" fill-opacity="0.9"/>
<circle cx="214.2" cy="93.4" r="0.78" fill="#35AD45" fill-opacity="0.9"/>
<path d="M191.4,89.2 C188.0,90.7 189.4,92.8 188.9,95.6 C188.4,98.3 188.0,103.0 188.2,105.7 C188.4,108.4 189.2,110.3 190.2,112.0 C191.2,113.7 192.9,114.2 194.0,115.9 C195.1,117.6 195.7,120.5 196.5,122.2 C197.3,123.9 197.5,124.9 199.0,126.0 C200.5,127.1 203.1,128.4 205.4,128.6 C207.7,128.8 210.2,127.9 213.0,127.3 C215.8,126.7 219.4,125.6 221.9,124.8 C224.4,124.0 226.1,123.5 228.2,122.2 C230.3,120.9 232.9,119.0 234.6,117.1 C236.3,115.2 237.8,113.1 238.4,110.8 C239.0,108.5 239.0,105.5 238.4,103.2 C237.8,100.9 236.3,98.3 234.6,96.8 C232.9,95.3 230.5,94.8 228.2,94.3 C225.9,93.8 222.7,93.7 220.6,93.7 C218.5,93.7 217.0,94.8 215.5,94.3 C214.0,93.8 212.8,91.8 211.7,90.5 C210.6,89.2 212.6,86.9 209.2,86.7 C205.8,86.5 194.8,87.7 191.4,89.2Z" fill="#35AD45" fill-opacity="1.0" />
<path d="M191.0,89.0 C192.8,87.8 197.0,88.2 200.0,88.0 C203.0,87.8 207.0,86.8 209.0,88.0 C211.0,89.2 211.7,92.3 212.0,95.0 C212.3,97.7 211.5,101.2 211.0,104.0 C210.5,106.8 210.3,110.0 209.0,112.0 C207.7,114.0 205.2,115.3 203.0,116.0 C200.8,116.7 198.0,116.7 196.0,116.0 C194.0,115.3 192.2,114.0 191.0,112.0 C189.8,110.0 189.3,106.8 189.0,104.0 C188.7,101.2 189.0,97.5 189.3,95.0 C189.6,92.5 189.2,90.2 191.0,89.0Z" fill="#9DB42C" fill-opacity="0.65" />
<path d="M216.0,95.0 C217.4,94.0 219.8,93.9 222.0,93.8 C224.2,93.7 226.8,93.9 229.0,94.5 C231.2,95.1 233.5,95.9 235.0,97.5 C236.5,99.1 237.7,101.8 238.2,104.0 C238.7,106.2 238.7,108.8 238.0,111.0 C237.3,113.2 235.8,115.2 234.0,117.0 C232.2,118.8 229.5,120.7 227.0,121.5 C224.5,122.3 221.3,122.8 219.0,122.0 C216.7,121.2 214.2,119.3 213.0,117.0 C211.8,114.7 211.9,110.8 212.0,108.0 C212.1,105.2 212.8,102.2 213.5,100.0 C214.2,97.8 214.6,96.0 216.0,95.0Z" fill="#1FAF48" fill-opacity="0.95" />
<circle cx="210.7" cy="116.0" r="0.75" fill="#6FB23A" fill-opacity="0.8"/>
<circle cx="196.5" cy="107.1" r="0.75" fill="#6FB23A" fill-opacity="0.8"/>
<circle cx="206.2" cy="117.2" r="0.75" fill="#6FB23A" fill-opacity="0.8"/>
<circle cx="217.7" cy="110.8" r="0.75" fill="#6FB23A" fill-opacity="0.8"/>
<circle cx="218.0" cy="107.5" r="0.75" fill="#6FB23A" fill-opacity="0.8"/>
<circle cx="205.0" cy="112.6" r="0.75" fill="#6FB23A" fill-opacity="0.8"/>
<circle cx="207.2" cy="121.0" r="0.75" fill="#6FB23A" fill-opacity="0.8"/>
<circle cx="198.0" cy="106.3" r="0.75" fill="#6FB23A" fill-opacity="0.8"/>
<circle cx="195.4" cy="103.2" r="0.75" fill="#6FB23A" fill-opacity="0.8"/>
<circle cx="209.1" cy="104.1" r="0.75" fill="#6FB23A" fill-opacity="0.8"/>
<circle cx="194.2" cy="93.3" r="0.75" fill="#6FB23A" fill-opacity="0.8"/>
<circle cx="211.3" cy="120.7" r="0.75" fill="#6FB23A" fill-opacity="0.8"/>
<circle cx="205.0" cy="95.6" r="0.75" fill="#6FB23A" fill-opacity="0.8"/>
<circle cx="196.5" cy="119.3" r="0.75" fill="#6FB23A" fill-opacity="0.8"/>
<circle cx="195.3" cy="121.7" r="0.75" fill="#6FB23A" fill-opacity="0.8"/>
<circle cx="198.2" cy="95.4" r="0.75" fill="#6FB23A" fill-opacity="0.8"/>
<circle cx="211.9" cy="102.6" r="0.75" fill="#6FB23A" fill-opacity="0.8"/>
<circle cx="202.5" cy="117.2" r="0.75" fill="#6FB23A" fill-opacity="0.8"/>
<circle cx="213.9" cy="114.1" r="0.75" fill="#6FB23A" fill-opacity="0.8"/>
<circle cx="193.3" cy="99.7" r="0.75" fill="#6FB23A" fill-opacity="0.8"/>
<circle cx="199.2" cy="107.4" r="0.75" fill="#6FB23A" fill-opacity="0.8"/>
<circle cx="206.6" cy="102.7" r="0.75" fill="#6FB23A" fill-opacity="0.8"/>
<circle cx="205.7" cy="116.5" r="0.75" fill="#6FB23A" fill-opacity="0.8"/>
<circle cx="202.2" cy="102.7" r="0.75" fill="#6FB23A" fill-opacity="0.8"/>
<circle cx="201.5" cy="110.1" r="0.75" fill="#6FB23A" fill-opacity="0.8"/>
<circle cx="193.9" cy="119.3" r="0.75" fill="#6FB23A" fill-opacity="0.8"/>
<circle cx="199.3" cy="102.6" r="0.75" fill="#6FB23A" fill-opacity="0.8"/>
<circle cx="211.0" cy="92.6" r="0.75" fill="#6FB23A" fill-opacity="0.8"/>
<circle cx="218.7" cy="105.2" r="0.75" fill="#6FB23A" fill-opacity="0.8"/>
<circle cx="213.6" cy="106.6" r="0.75" fill="#6FB23A" fill-opacity="0.8"/>
<circle cx="194.9" cy="99.8" r="0.75" fill="#6FB23A" fill-opacity="0.8"/>
<circle cx="196.9" cy="119.9" r="0.75" fill="#6FB23A" fill-opacity="0.8"/>
<circle cx="215.7" cy="112.1" r="0.75" fill="#6FB23A" fill-opacity="0.8"/>
<circle cx="214.7" cy="109.6" r="0.75" fill="#6FB23A" fill-opacity="0.8"/>
<circle cx="199.5" cy="121.9" r="0.75" fill="#6FB23A" fill-opacity="0.8"/>
<circle cx="212.8" cy="100.1" r="0.75" fill="#6FB23A" fill-opacity="0.8"/>
<circle cx="204.5" cy="92.7" r="0.75" fill="#6FB23A" fill-opacity="0.8"/>
<circle cx="218.9" cy="106.6" r="0.75" fill="#6FB23A" fill-opacity="0.8"/>
<circle cx="205.6" cy="92.9" r="0.75" fill="#6FB23A" fill-opacity="0.8"/>
<circle cx="214.8" cy="94.2" r="0.75" fill="#6FB23A" fill-opacity="0.8"/>
<circle cx="209.1" cy="111.3" r="0.75" fill="#6FB23A" fill-opacity="0.8"/>
<circle cx="208.6" cy="117.3" r="0.75" fill="#6FB23A" fill-opacity="0.8"/>
<circle cx="218.2" cy="112.8" r="0.75" fill="#6FB23A" fill-opacity="0.8"/>
<circle cx="204.7" cy="98.9" r="0.75" fill="#6FB23A" fill-opacity="0.8"/>
<circle cx="217.9" cy="107.5" r="0.75" fill="#6FB23A" fill-opacity="0.8"/>
<circle cx="202.4" cy="107.8" r="0.75" fill="#6FB23A" fill-opacity="0.8"/>
<circle cx="201.1" cy="95.9" r="0.75" fill="#6FB23A" fill-opacity="0.8"/>
<circle cx="209.2" cy="98.3" r="0.75" fill="#6FB23A" fill-opacity="0.8"/>
<circle cx="214.3" cy="113.8" r="0.75" fill="#6FB23A" fill-opacity="0.8"/>
<circle cx="201.6" cy="106.1" r="0.75" fill="#6FB23A" fill-opacity="0.8"/>
<circle cx="217.4" cy="101.4" r="0.75" fill="#6FB23A" fill-opacity="0.8"/>
<circle cx="201.7" cy="106.5" r="0.75" fill="#6FB23A" fill-opacity="0.8"/>
<circle cx="198.9" cy="99.5" r="0.75" fill="#6FB23A" fill-opacity="0.8"/>
<circle cx="215.8" cy="110.3" r="0.75" fill="#6FB23A" fill-opacity="0.8"/>
<circle cx="209.4" cy="113.8" r="0.75" fill="#6FB23A" fill-opacity="0.8"/>
<circle cx="196.7" cy="103.5" r="0.75" fill="#6FB23A" fill-opacity="0.8"/>
<circle cx="194.7" cy="121.7" r="0.75" fill="#6FB23A" fill-opacity="0.8"/>
<circle cx="202.3" cy="109.2" r="0.75" fill="#6FB23A" fill-opacity="0.8"/>
<circle cx="208.2" cy="96.2" r="0.75" fill="#6FB23A" fill-opacity="0.8"/>
<circle cx="211.2" cy="119.5" r="0.75" fill="#6FB23A" fill-opacity="0.8"/>
<circle cx="216.5" cy="94.9" r="0.75" fill="#6FB23A" fill-opacity="0.8"/>
<circle cx="198.2" cy="104.8" r="0.75" fill="#6FB23A" fill-opacity="0.8"/>
<circle cx="207.9" cy="95.0" r="0.75" fill="#6FB23A" fill-opacity="0.8"/>
<circle cx="213.6" cy="115.8" r="0.75" fill="#6FB23A" fill-opacity="0.8"/>
<circle cx="199.2" cy="115.9" r="0.75" fill="#6FB23A" fill-opacity="0.8"/>
<circle cx="196.7" cy="94.2" r="0.75" fill="#6FB23A" fill-opacity="0.8"/>
<circle cx="218.0" cy="102.2" r="0.75" fill="#6FB23A" fill-opacity="0.8"/>
<circle cx="202.4" cy="117.6" r="0.75" fill="#6FB23A" fill-opacity="0.8"/>
<circle cx="199.4" cy="118.2" r="0.75" fill="#6FB23A" fill-opacity="0.8"/>
<circle cx="211.6" cy="102.0" r="0.75" fill="#6FB23A" fill-opacity="0.8"/>
<circle cx="214.1" cy="116.8" r="0.75" fill="#2EB3C4" fill-opacity="0.8"/>
<circle cx="217.7" cy="119.6" r="0.75" fill="#2EB3C4" fill-opacity="0.8"/>
<circle cx="210.1" cy="122.4" r="0.75" fill="#2EB3C4" fill-opacity="0.8"/>
<circle cx="216.2" cy="124.9" r="0.75" fill="#2EB3C4" fill-opacity="0.8"/>
<circle cx="203.0" cy="105.1" r="0.75" fill="#2EB3C4" fill-opacity="0.8"/>
<circle cx="217.8" cy="116.8" r="0.75" fill="#2EB3C4" fill-opacity="0.8"/>
<circle cx="208.1" cy="109.9" r="0.75" fill="#2EB3C4" fill-opacity="0.8"/>
<circle cx="215.4" cy="123.2" r="0.75" fill="#2EB3C4" fill-opacity="0.8"/>
<circle cx="211.7" cy="103.6" r="0.75" fill="#2EB3C4" fill-opacity="0.8"/>
<circle cx="214.4" cy="106.3" r="0.75" fill="#2EB3C4" fill-opacity="0.8"/>
<circle cx="211.4" cy="116.5" r="0.75" fill="#2EB3C4" fill-opacity="0.8"/>
<circle cx="219.3" cy="101.8" r="0.75" fill="#2EB3C4" fill-opacity="0.8"/>
<circle cx="203.8" cy="123.1" r="0.75" fill="#2EB3C4" fill-opacity="0.8"/>
<circle cx="211.7" cy="107.6" r="0.75" fill="#2EB3C4" fill-opacity="0.8"/>
<circle cx="207.1" cy="111.7" r="0.75" fill="#2EB3C4" fill-opacity="0.8"/>
<circle cx="219.4" cy="117.3" r="0.75" fill="#2EB3C4" fill-opacity="0.8"/>
<circle cx="214.4" cy="123.0" r="0.75" fill="#2EB3C4" fill-opacity="0.8"/>
<circle cx="216.8" cy="108.0" r="0.75" fill="#2EB3C4" fill-opacity="0.8"/>
<circle cx="203.5" cy="122.4" r="0.75" fill="#2EB3C4" fill-opacity="0.8"/>
<circle cx="210.9" cy="119.0" r="0.75" fill="#2EB3C4" fill-opacity="0.8"/>
<circle cx="212.5" cy="105.9" r="0.75" fill="#9A8AC8" fill-opacity="0.8"/>
<circle cx="200.4" cy="101.2" r="0.75" fill="#9A8AC8" fill-opacity="0.8"/>
<circle cx="209.0" cy="122.3" r="0.75" fill="#9A8AC8" fill-opacity="0.8"/>
<circle cx="205.7" cy="112.5" r="0.75" fill="#9A8AC8" fill-opacity="0.8"/>
<circle cx="202.0" cy="106.0" r="0.75" fill="#9A8AC8" fill-opacity="0.8"/>
<circle cx="201.1" cy="103.2" r="0.75" fill="#9A8AC8" fill-opacity="0.8"/>
<circle cx="201.0" cy="101.8" r="0.75" fill="#9A8AC8" fill-opacity="0.8"/>
<circle cx="216.3" cy="114.4" r="0.75" fill="#9A8AC8" fill-opacity="0.8"/>
<circle cx="214.4" cy="100.1" r="0.75" fill="#9A8AC8" fill-opacity="0.8"/>
<circle cx="205.4" cy="116.1" r="0.75" fill="#9A8AC8" fill-opacity="0.8"/>
<circle cx="200.3" cy="108.1" r="0.75" fill="#9A8AC8" fill-opacity="0.8"/>
<circle cx="200.6" cy="108.0" r="0.75" fill="#9A8AC8" fill-opacity="0.8"/>
<circle cx="217.4" cy="100.7" r="0.75" fill="#9A8AC8" fill-opacity="0.8"/>
<circle cx="209.7" cy="115.2" r="0.75" fill="#9A8AC8" fill-opacity="0.8"/>
<circle cx="216.0" cy="104.4" r="0.75" fill="#9A8AC8" fill-opacity="0.8"/>
<path d="M196,115 L190,118 L185,121" stroke="#8F8470" stroke-width="1.5" fill="none" stroke-opacity="0.8"/>
<circle cx="225.7" cy="149.0" r="0.78" fill="#A48DC8" fill-opacity="0.9"/>
<circle cx="221.2" cy="139.7" r="0.78" fill="#A48DC8" fill-opacity="0.9"/>
<circle cx="199.0" cy="129.1" r="0.78" fill="#A48DC8" fill-opacity="0.9"/>
<circle cx="217.1" cy="170.9" r="0.78" fill="#A48DC8" fill-opacity="0.9"/>
<circle cx="219.1" cy="171.4" r="0.78" fill="#A48DC8" fill-opacity="0.9"/>
<circle cx="219.5" cy="138.5" r="0.78" fill="#A48DC8" fill-opacity="0.9"/>
<circle cx="224.6" cy="149.6" r="0.78" fill="#A48DC8" fill-opacity="0.9"/>
<circle cx="194.4" cy="154.5" r="0.78" fill="#A48DC8" fill-opacity="0.9"/>
<circle cx="206.6" cy="129.4" r="0.78" fill="#A48DC8" fill-opacity="0.9"/>
<circle cx="202.4" cy="125.7" r="0.78" fill="#A48DC8" fill-opacity="0.9"/>
<circle cx="224.0" cy="144.7" r="0.78" fill="#A48DC8" fill-opacity="0.9"/>
<circle cx="210.4" cy="168.1" r="0.78" fill="#A48DC8" fill-opacity="0.9"/>
<circle cx="200.7" cy="127.8" r="0.78" fill="#A48DC8" fill-opacity="0.9"/>
<circle cx="202.4" cy="127.6" r="0.78" fill="#A48DC8" fill-opacity="0.9"/>
<circle cx="199.6" cy="132.2" r="0.78" fill="#A48DC8" fill-opacity="0.9"/>
<circle cx="204.9" cy="163.6" r="0.78" fill="#A48DC8" fill-opacity="0.9"/>
<circle cx="226.2" cy="163.3" r="0.78" fill="#A48DC8" fill-opacity="0.9"/>
<circle cx="197.9" cy="160.0" r="0.78" fill="#A48DC8" fill-opacity="0.9"/>
<circle cx="223.5" cy="141.5" r="0.78" fill="#A48DC8" fill-opacity="0.9"/>
<circle cx="224.9" cy="163.6" r="0.78" fill="#A48DC8" fill-opacity="0.9"/>
<circle cx="199.4" cy="128.2" r="0.78" fill="#A48DC8" fill-opacity="0.9"/>
<circle cx="199.5" cy="127.2" r="0.78" fill="#A48DC8" fill-opacity="0.9"/>
<circle cx="206.3" cy="166.4" r="0.78" fill="#A48DC8" fill-opacity="0.9"/>
<circle cx="200.2" cy="127.9" r="0.78" fill="#A48DC8" fill-opacity="0.9"/>
<circle cx="224.9" cy="152.2" r="0.78" fill="#A48DC8" fill-opacity="0.9"/>
<circle cx="224.2" cy="151.7" r="0.78" fill="#A48DC8" fill-opacity="0.9"/>
<circle cx="206.3" cy="161.8" r="0.78" fill="#A48DC8" fill-opacity="0.9"/>
<circle cx="212.3" cy="171.7" r="0.78" fill="#A48DC8" fill-opacity="0.9"/>
<circle cx="193.1" cy="141.2" r="0.78" fill="#A48DC8" fill-opacity="0.9"/>
<circle cx="195.9" cy="156.9" r="0.78" fill="#A48DC8" fill-opacity="0.9"/>
<circle cx="204.6" cy="161.5" r="0.78" fill="#A48DC8" fill-opacity="0.9"/>
<circle cx="223.0" cy="167.4" r="0.78" fill="#A48DC8" fill-opacity="0.9"/>
<circle cx="225.4" cy="148.0" r="0.78" fill="#A48DC8" fill-opacity="0.9"/>
<circle cx="199.7" cy="134.0" r="0.78" fill="#A48DC8" fill-opacity="0.9"/>
<circle cx="196.2" cy="157.4" r="0.78" fill="#A48DC8" fill-opacity="0.9"/>
<circle cx="192.8" cy="149.6" r="0.78" fill="#A48DC8" fill-opacity="0.9"/>
<circle cx="226.4" cy="150.4" r="0.78" fill="#A48DC8" fill-opacity="0.9"/>
<circle cx="223.2" cy="168.7" r="0.78" fill="#A48DC8" fill-opacity="0.9"/>
<circle cx="201.6" cy="128.1" r="0.78" fill="#A48DC8" fill-opacity="0.9"/>
<circle cx="207.5" cy="164.2" r="0.78" fill="#A48DC8" fill-opacity="0.9"/>
<path d="M199.5,127.9 C198.7,128.9 199.2,131.8 198.5,133.7 C197.8,135.6 196.5,137.7 195.6,139.5 C194.7,141.3 193.5,142.4 193.2,144.3 C192.9,146.2 193.3,149.0 193.7,151.1 C194.1,153.2 194.3,155.3 195.6,156.9 C196.9,158.5 199.6,159.8 201.4,160.8 C203.2,161.8 204.9,161.6 206.2,162.7 C207.5,163.8 208.1,166.1 209.1,167.5 C210.1,168.9 210.6,170.7 212.0,171.4 C213.4,172.1 216.0,172.4 217.8,171.9 C219.6,171.4 221.4,170.0 222.7,168.5 C224.0,167.0 225.1,165.3 225.6,162.7 C226.1,160.1 225.8,155.6 225.6,153.0 C225.4,150.4 224.8,149.1 224.6,147.2 C224.4,145.3 224.9,142.8 224.6,141.4 C224.3,140.0 224.0,139.2 222.7,138.5 C221.4,137.8 218.5,138.2 216.9,137.5 C215.3,136.8 214.4,135.6 213.0,134.6 C211.6,133.6 209.8,132.8 208.2,131.7 C206.6,130.6 204.8,128.5 203.3,127.9 C201.9,127.3 200.3,126.9 199.5,127.9Z" fill="#A48DC8" fill-opacity="1.0" />
<path d="M226.5,127 L227.5,135 L227,145" stroke="#A49AC8" stroke-width="1.2" fill="none" stroke-opacity="0.8"/>
<circle cx="213.6" cy="136.7" r="0.75" fill="#4DAF4A" fill-opacity="0.9"/>
<circle cx="213.8" cy="127.3" r="0.75" fill="#4DAF4A" fill-opacity="0.9"/>
<circle cx="224.5" cy="137.6" r="0.75" fill="#4DAF4A" fill-opacity="0.9"/>
<circle cx="219.3" cy="126.0" r="0.75" fill="#4DAF4A" fill-opacity="0.9"/>
<circle cx="215.7" cy="132.5" r="0.75" fill="#4DAF4A" fill-opacity="0.9"/>
<circle cx="220.6" cy="132.5" r="0.75" fill="#4DAF4A" fill-opacity="0.9"/>
<circle cx="224.9" cy="132.4" r="0.75" fill="#4DAF4A" fill-opacity="0.9"/>
<circle cx="223.1" cy="137.5" r="0.75" fill="#4DAF4A" fill-opacity="0.9"/>
<circle cx="213.9" cy="137.6" r="0.75" fill="#4DAF4A" fill-opacity="0.9"/>
<circle cx="223.2" cy="137.7" r="0.75" fill="#4DAF4A" fill-opacity="0.9"/>
<circle cx="215.7" cy="126.9" r="0.75" fill="#4DAF4A" fill-opacity="0.9"/>
<circle cx="221.4" cy="126.2" r="0.75" fill="#4DAF4A" fill-opacity="0.9"/>
<circle cx="216.2" cy="137.6" r="0.75" fill="#4DAF4A" fill-opacity="0.9"/>
<circle cx="215.4" cy="126.6" r="0.75" fill="#4DAF4A" fill-opacity="0.9"/>
<circle cx="222.5" cy="137.4" r="0.75" fill="#4DAF4A" fill-opacity="0.9"/>
<circle cx="216.2" cy="129.9" r="0.75" fill="#4DAF4A" fill-opacity="0.9"/>
<circle cx="213.5" cy="131.4" r="0.75" fill="#4DAF4A" fill-opacity="0.9"/>
<circle cx="216.4" cy="130.0" r="0.75" fill="#4DAF4A" fill-opacity="0.9"/>
<path d="M194.6,152.5 C195.2,151.8 197.0,151.6 198.0,152.0 C199.0,152.4 200.2,153.8 200.5,155.0 C200.8,156.2 200.7,158.8 200.0,159.5 C199.3,160.2 197.4,160.0 196.5,159.5 C195.6,159.0 194.9,157.7 194.6,156.5 C194.3,155.3 194.0,153.2 194.6,152.5Z" fill="#C0A024" fill-opacity="1.0" />
<path d="M164.0,121.0 C164.4,120.0 165.8,119.8 167.0,119.8 C168.2,119.8 169.8,120.3 171.0,121.0 C172.2,121.7 173.8,122.8 174.5,124.0 C175.2,125.2 175.6,127.0 175.0,128.0 C174.4,129.0 172.3,129.8 171.0,130.0 C169.7,130.2 168.1,129.7 167.0,129.0 C165.9,128.3 165.0,127.3 164.5,126.0 C164.0,124.7 163.6,122.0 164.0,121.0Z" fill="#EB6378" fill-opacity="1.0" />
<path d="M169,129 L158,138" stroke="#D9457A" stroke-width="2" fill="none" stroke-linecap="round"/>
<text x="89.6" y="42.4" font-size="5.9" fill="#2a2a2a" text-anchor="start" font-weight="normal" stroke="#2a2a2a" stroke-width="0.18">Memory</text>
<text x="81" y="49.8" font-size="5.9" fill="#2a2a2a" text-anchor="start" font-weight="normal" stroke="#2a2a2a" stroke-width="0.18">B Naive B</text>
<text x="81" y="83" font-size="5.9" fill="#2a2a2a" text-anchor="start" font-weight="normal" stroke="#2a2a2a" stroke-width="0.18">Prog_B 1</text>
<text x="106" y="100.8" font-size="5.9" fill="#2a2a2a" text-anchor="start" font-weight="normal" stroke="#2a2a2a" stroke-width="0.18">Prog_B 2</text>
<text x="107.9" y="120.2" font-size="5.9" fill="#2a2a2a" text-anchor="start" font-weight="normal" stroke="#2a2a2a" stroke-width="0.18">LMPP</text>
<text x="125.3" y="120.2" font-size="5.9" fill="#2a2a2a" text-anchor="start" font-weight="normal" stroke="#2a2a2a" stroke-width="0.18">HSC</text>
<text x="106.9" y="134.2" font-size="5.9" fill="#2a2a2a" text-anchor="start" font-weight="normal" stroke="#2a2a2a" stroke-width="0.18">GMP</text>
<text x="88.2" y="141.8" font-size="5.9" fill="#2a2a2a" text-anchor="start" font-weight="normal" stroke="#2a2a2a" stroke-width="0.18">Prog_DC</text>
<text x="42.5" y="131.8" font-size="5.9" fill="#2a2a2a" text-anchor="start" font-weight="normal" stroke="#2a2a2a" stroke-width="0.18">pDC</text>
<text x="85.6" y="173.6" font-size="5.9" fill="#2a2a2a" text-anchor="start" font-weight="normal" stroke="#2a2a2a" stroke-width="0.18">cDC</text>
<text x="106.5" y="182.2" font-size="5.9" fill="#2a2a2a" text-anchor="start" font-weight="normal" stroke="#2a2a2a" stroke-width="0.18">CD14 Mono</text>
<text x="136.1" y="205.9" font-size="5.9" fill="#2a2a2a" text-anchor="start" font-weight="normal" stroke="#2a2a2a" stroke-width="0.18">CD16 Mono</text>
<text x="157.2" y="47.2" font-size="5.9" fill="#2a2a2a" text-anchor="start" font-weight="normal" stroke="#2a2a2a" stroke-width="0.18">CD4 Naive</text>
<text x="191.2" y="52.6" font-size="5.9" fill="#2a2a2a" text-anchor="start" font-weight="normal" stroke="#2a2a2a" stroke-width="0.18">CD4 Memory</text>
<text x="214.6" y="62.2" font-size="5.9" fill="#2a2a2a" text-anchor="start" font-weight="normal" stroke="#2a2a2a" stroke-width="0.18">Treg</text>
<text x="147.5" y="69.4" font-size="5.9" fill="#2a2a2a" text-anchor="start" font-weight="normal" stroke="#2a2a2a" stroke-width="0.18">CD8 Naive</text>
<text x="170.9" y="81.5" font-size="5.9" fill="#2a2a2a" text-anchor="start" font-weight="normal" stroke="#2a2a2a" stroke-width="0.18">CD8 Memory_1</text>
<text x="200.3" y="87.2" font-size="5.9" fill="#2a2a2a" text-anchor="start" font-weight="normal" stroke="#2a2a2a" stroke-width="0.18">MAIT</text>
<text x="204.7" y="99" font-size="5.9" fill="#2a2a2a" text-anchor="start" font-weight="normal" stroke="#2a2a2a" stroke-width="0.18">gdT</text>
<text x="162.5" y="105.4" font-size="5.9" fill="#2a2a2a" text-anchor="start" font-weight="normal" stroke="#2a2a2a" stroke-width="0.18">CD8 Effector_2</text>
<text x="219.3" y="103.5" font-size="5.9" fill="#2a2a2a" text-anchor="start" font-weight="normal" stroke="#2a2a2a" stroke-width="0.18">CD8</text>
<text x="219.3" y="111.1" font-size="5.9" fill="#2a2a2a" text-anchor="start" font-weight="normal" stroke="#2a2a2a" stroke-width="0.18">Effector_1</text>
<text x="209.8" y="118.1" font-size="5.9" fill="#2a2a2a" text-anchor="start" font-weight="normal" stroke="#2a2a2a" stroke-width="0.18">CD8</text>
<text x="209.2" y="125.1" font-size="5.9" fill="#2a2a2a" text-anchor="start" font-weight="normal" stroke="#2a2a2a" stroke-width="0.18">Memory_2</text>
<text x="154.8" y="132.6" font-size="5.9" fill="#2a2a2a" text-anchor="start" font-weight="normal" stroke="#2a2a2a" stroke-width="0.18">Prog_Mk</text>
<text x="168.5" y="157.6" font-size="5.9" fill="#2a2a2a" text-anchor="start" font-weight="normal" stroke="#2a2a2a" stroke-width="0.18">CD56 bright NK</text>
<text x="213.5" y="162.9" font-size="5.9" fill="#2a2a2a" text-anchor="start" font-weight="normal" stroke="#2a2a2a" stroke-width="0.18">NK</text>
<path d="M34,16 V223 H248.5" fill="none" stroke="#3a3a3a" stroke-width="1.1"/>
<line x1="31.3" y1="33.5" x2="34" y2="33.5" stroke="#3a3a3a" stroke-width="0.9"/>
<text x="27.9" y="36.1" font-size="7.6" fill="#2a2a2a" text-anchor="end" font-weight="normal" >10</text>
<line x1="31.3" y1="73.8" x2="34" y2="73.8" stroke="#3a3a3a" stroke-width="0.9"/>
<text x="27.9" y="76.39999999999999" font-size="7.6" fill="#2a2a2a" text-anchor="end" font-weight="normal" >5</text>
<line x1="31.3" y1="114.1" x2="34" y2="114.1" stroke="#3a3a3a" stroke-width="0.9"/>
<text x="27.9" y="116.69999999999999" font-size="7.6" fill="#2a2a2a" text-anchor="end" font-weight="normal" >0</text>
<line x1="31.3" y1="154.3" x2="34" y2="154.3" stroke="#3a3a3a" stroke-width="0.9"/>
<text x="27.9" y="156.9" font-size="7.6" fill="#2a2a2a" text-anchor="end" font-weight="normal" >−5</text>
<line x1="31.3" y1="194.6" x2="34" y2="194.6" stroke="#3a3a3a" stroke-width="0.9"/>
<text x="27.9" y="197.2" font-size="7.6" fill="#2a2a2a" text-anchor="end" font-weight="normal" >−10</text>
<line x1="88.5" y1="223" x2="88.5" y2="225.7" stroke="#3a3a3a" stroke-width="0.9"/>
<text x="88.5" y="236" font-size="7.6" fill="#2a2a2a" text-anchor="middle" font-weight="normal" >−10</text>
<line x1="166" y1="223" x2="166" y2="225.7" stroke="#3a3a3a" stroke-width="0.9"/>
<text x="166" y="236" font-size="7.6" fill="#2a2a2a" text-anchor="middle" font-weight="normal" >0</text>
<line x1="243.2" y1="223" x2="243.2" y2="225.7" stroke="#3a3a3a" stroke-width="0.9"/>
<text x="243.2" y="236" font-size="7.6" fill="#2a2a2a" text-anchor="middle" font-weight="normal" >10</text>
<text x="0" y="0" font-size="8.6" font-weight="bold" fill="#222" text-anchor="middle" transform="translate(141.3,247.8) scale(0.78,1)">UMAP_1</text>
<text x="0" y="0" font-size="8.6" font-weight="bold" fill="#222" text-anchor="middle" transform="translate(7.8,119.8) rotate(-90) scale(0.78,1)">UMAP_2</text>
<circle cx="350.5" cy="160.8" r="0.78" fill="#EE6E63" fill-opacity="0.9"/>
<circle cx="351.2" cy="174.4" r="0.78" fill="#EE6E63" fill-opacity="0.9"/>
<circle cx="385.3" cy="102.1" r="0.78" fill="#EE6E63" fill-opacity="0.9"/>
<circle cx="388.8" cy="99.5" r="0.78" fill="#EE6E63" fill-opacity="0.9"/>
<circle cx="318.4" cy="130.8" r="0.78" fill="#EE6E63" fill-opacity="0.9"/>
<circle cx="353.9" cy="175.3" r="0.78" fill="#EE6E63" fill-opacity="0.9"/>
<circle cx="370.1" cy="81.8" r="0.78" fill="#EE6E63" fill-opacity="0.9"/>
<circle cx="349.2" cy="73.9" r="0.78" fill="#EE6E63" fill-opacity="0.9"/>
<circle cx="342.1" cy="151.4" r="0.78" fill="#EE6E63" fill-opacity="0.9"/>
<circle cx="317.5" cy="87.0" r="0.78" fill="#EE6E63" fill-opacity="0.9"/>
<circle cx="367.8" cy="165.5" r="0.78" fill="#EE6E63" fill-opacity="0.9"/>
<circle cx="360.8" cy="179.2" r="0.78" fill="#EE6E63" fill-opacity="0.9"/>
<circle cx="395.8" cy="155.9" r="0.78" fill="#EE6E63" fill-opacity="0.9"/>
<circle cx="317.1" cy="113.0" r="0.78" fill="#EE6E63" fill-opacity="0.9"/>
<circle cx="398.5" cy="151.6" r="0.78" fill="#EE6E63" fill-opacity="0.9"/>
<circle cx="312.0" cy="122.5" r="0.78" fill="#EE6E63" fill-opacity="0.9"/>
<circle cx="364.9" cy="76.5" r="0.78" fill="#EE6E63" fill-opacity="0.9"/>
<circle cx="316.3" cy="128.9" r="0.78" fill="#EE6E63" fill-opacity="0.9"/>
<circle cx="387.1" cy="100.8" r="0.78" fill="#EE6E63" fill-opacity="0.9"/>
<circle cx="333.2" cy="79.0" r="0.78" fill="#EE6E63" fill-opacity="0.9"/>
<circle cx="349.1" cy="161.8" r="0.78" fill="#EE6E63" fill-opacity="0.9"/>
<circle cx="369.9" cy="86.8" r="0.78" fill="#EE6E63" fill-opacity="0.9"/>
<circle cx="380.1" cy="164.1" r="0.78" fill="#EE6E63" fill-opacity="0.9"/>
<circle cx="341.7" cy="147.5" r="0.78" fill="#EE6E63" fill-opacity="0.9"/>
<circle cx="404.5" cy="112.9" r="0.78" fill="#EE6E63" fill-opacity="0.9"/>
<circle cx="361.6" cy="175.8" r="0.78" fill="#EE6E63" fill-opacity="0.9"/>
<circle cx="317.0" cy="126.5" r="0.78" fill="#EE6E63" fill-opacity="0.9"/>
<circle cx="404.9" cy="114.7" r="0.78" fill="#EE6E63" fill-opacity="0.9"/>
<circle cx="375.9" cy="163.4" r="0.78" fill="#EE6E63" fill-opacity="0.9"/>
<circle cx="407.5" cy="141.7" r="0.78" fill="#EE6E63" fill-opacity="0.9"/>
<circle cx="324.9" cy="136.9" r="0.78" fill="#EE6E63" fill-opacity="0.9"/>
<circle cx="387.6" cy="163.7" r="0.78" fill="#EE6E63" fill-opacity="0.9"/>
<circle cx="346.1" cy="150.2" r="0.78" fill="#EE6E63" fill-opacity="0.9"/>
<circle cx="349.8" cy="166.8" r="0.78" fill="#EE6E63" fill-opacity="0.9"/>
<circle cx="405.9" cy="140.1" r="0.78" fill="#EE6E63" fill-opacity="0.9"/>
<circle cx="409.9" cy="117.5" r="0.78" fill="#EE6E63" fill-opacity="0.9"/>
<circle cx="364.4" cy="76.4" r="0.78" fill="#EE6E63" fill-opacity="0.9"/>
<circle cx="342.5" cy="149.4" r="0.78" fill="#EE6E63" fill-opacity="0.9"/>
<circle cx="319.2" cy="82.2" r="0.78" fill="#EE6E63" fill-opacity="0.9"/>
<circle cx="344.6" cy="158.7" r="0.78" fill="#EE6E63" fill-opacity="0.9"/>
<circle cx="345.4" cy="151.1" r="0.78" fill="#EE6E63" fill-opacity="0.9"/>
<circle cx="319.3" cy="85.3" r="0.78" fill="#EE6E63" fill-opacity="0.9"/>
<circle cx="343.6" cy="76.3" r="0.78" fill="#EE6E63" fill-opacity="0.9"/>
<circle cx="355.3" cy="177.9" r="0.78" fill="#EE6E63" fill-opacity="0.9"/>
<circle cx="365.5" cy="75.9" r="0.78" fill="#EE6E63" fill-opacity="0.9"/>
<circle cx="412.5" cy="125.9" r="0.78" fill="#EE6E63" fill-opacity="0.9"/>
<circle cx="368.9" cy="165.6" r="0.78" fill="#EE6E63" fill-opacity="0.9"/>
<circle cx="350.3" cy="164.6" r="0.78" fill="#EE6E63" fill-opacity="0.9"/>
<circle cx="358.8" cy="75.1" r="0.78" fill="#EE6E63" fill-opacity="0.9"/>
<circle cx="316.2" cy="123.6" r="0.78" fill="#EE6E63" fill-opacity="0.9"/>
<circle cx="317.0" cy="127.7" r="0.78" fill="#EE6E63" fill-opacity="0.9"/>
<circle cx="376.5" cy="162.9" r="0.78" fill="#EE6E63" fill-opacity="0.9"/>
<circle cx="349.6" cy="76.0" r="0.78" fill="#EE6E63" fill-opacity="0.9"/>
<circle cx="345.5" cy="154.9" r="0.78" fill="#EE6E63" fill-opacity="0.9"/>
<circle cx="346.4" cy="72.3" r="0.78" fill="#EE6E63" fill-opacity="0.9"/>
<circle cx="327.3" cy="138.3" r="0.78" fill="#EE6E63" fill-opacity="0.9"/>
<circle cx="369.0" cy="162.4" r="0.78" fill="#EE6E63" fill-opacity="0.9"/>
<circle cx="356.4" cy="74.3" r="0.78" fill="#EE6E63" fill-opacity="0.9"/>
<circle cx="316.8" cy="93.3" r="0.78" fill="#EE6E63" fill-opacity="0.9"/>
<circle cx="343.6" cy="148.1" r="0.78" fill="#EE6E63" fill-opacity="0.9"/>
<circle cx="340.6" cy="141.5" r="0.78" fill="#EE6E63" fill-opacity="0.9"/>
<circle cx="407.5" cy="120.4" r="0.78" fill="#EE6E63" fill-opacity="0.9"/>
<circle cx="348.8" cy="73.2" r="0.78" fill="#EE6E63" fill-opacity="0.9"/>
<circle cx="330.5" cy="136.6" r="0.78" fill="#EE6E63" fill-opacity="0.9"/>
<circle cx="393.1" cy="101.3" r="0.78" fill="#EE6E63" fill-opacity="0.9"/>
<circle cx="385.2" cy="164.2" r="0.78" fill="#EE6E63" fill-opacity="0.9"/>
<circle cx="409.7" cy="124.9" r="0.78" fill="#EE6E63" fill-opacity="0.9"/>
<circle cx="368.2" cy="86.5" r="0.78" fill="#EE6E63" fill-opacity="0.9"/>
<circle cx="400.5" cy="150.1" r="0.78" fill="#EE6E63" fill-opacity="0.9"/>
<circle cx="359.4" cy="74.6" r="0.78" fill="#EE6E63" fill-opacity="0.9"/>
<circle cx="344.4" cy="152.0" r="0.78" fill="#EE6E63" fill-opacity="0.9"/>
<circle cx="369.3" cy="160.6" r="0.78" fill="#EE6E63" fill-opacity="0.9"/>
<circle cx="404.5" cy="146.0" r="0.78" fill="#EE6E63" fill-opacity="0.9"/>
<circle cx="412.5" cy="134.2" r="0.78" fill="#EE6E63" fill-opacity="0.9"/>
<circle cx="391.2" cy="161.1" r="0.78" fill="#EE6E63" fill-opacity="0.9"/>
<circle cx="342.2" cy="144.9" r="0.78" fill="#EE6E63" fill-opacity="0.9"/>
<circle cx="353.2" cy="175.8" r="0.78" fill="#EE6E63" fill-opacity="0.9"/>
<circle cx="413.5" cy="129.4" r="0.78" fill="#EE6E63" fill-opacity="0.9"/>
<circle cx="391.4" cy="162.9" r="0.78" fill="#EE6E63" fill-opacity="0.9"/>
<circle cx="367.4" cy="79.9" r="0.78" fill="#EE6E63" fill-opacity="0.9"/>
<circle cx="315.6" cy="114.3" r="0.78" fill="#EE6E63" fill-opacity="0.9"/>
<circle cx="410.3" cy="137.4" r="0.78" fill="#EE6E63" fill-opacity="0.9"/>
<circle cx="370.2" cy="94.4" r="0.78" fill="#EE6E63" fill-opacity="0.9"/>
<circle cx="382.7" cy="166.5" r="0.78" fill="#EE6E63" fill-opacity="0.9"/>
<circle cx="408.3" cy="141.8" r="0.78" fill="#EE6E63" fill-opacity="0.9"/>
<circle cx="374.9" cy="160.4" r="0.78" fill="#EE6E63" fill-opacity="0.9"/>
<circle cx="315.7" cy="109.7" r="0.78" fill="#EE6E63" fill-opacity="0.9"/>
<circle cx="329.9" cy="77.8" r="0.78" fill="#EE6E63" fill-opacity="0.9"/>
<circle cx="379.6" cy="101.0" r="0.78" fill="#EE6E63" fill-opacity="0.9"/>
<circle cx="392.6" cy="101.7" r="0.78" fill="#EE6E63" fill-opacity="0.9"/>
<circle cx="321.3" cy="84.2" r="0.78" fill="#EE6E63" fill-opacity="0.9"/>
<circle cx="386.3" cy="102.1" r="0.78" fill="#EE6E63" fill-opacity="0.9"/>
<circle cx="386.3" cy="100.9" r="0.78" fill="#EE6E63" fill-opacity="0.9"/>
<circle cx="341.0" cy="143.1" r="0.78" fill="#EE6E63" fill-opacity="0.9"/>
<circle cx="404.2" cy="148.2" r="0.78" fill="#EE6E63" fill-opacity="0.9"/>
<circle cx="413.7" cy="128.7" r="0.78" fill="#EE6E63" fill-opacity="0.9"/>
<circle cx="315.4" cy="115.8" r="0.78" fill="#EE6E63" fill-opacity="0.9"/>
<circle cx="352.8" cy="72.9" r="0.78" fill="#EE6E63" fill-opacity="0.9"/>
<circle cx="413.0" cy="133.1" r="0.78" fill="#EE6E63" fill-opacity="0.9"/>
<circle cx="324.4" cy="81.0" r="0.78" fill="#EE6E63" fill-opacity="0.9"/>
<circle cx="317.4" cy="93.5" r="0.78" fill="#EE6E63" fill-opacity="0.9"/>
<circle cx="411.8" cy="130.9" r="0.78" fill="#EE6E63" fill-opacity="0.9"/>
<circle cx="358.4" cy="74.7" r="0.78" fill="#EE6E63" fill-opacity="0.9"/>
<circle cx="368.6" cy="84.9" r="0.78" fill="#EE6E63" fill-opacity="0.9"/>
<circle cx="380.8" cy="162.6" r="0.78" fill="#EE6E63" fill-opacity="0.9"/>
<circle cx="399.3" cy="105.6" r="0.78" fill="#EE6E63" fill-opacity="0.9"/>
<circle cx="351.8" cy="170.5" r="0.78" fill="#EE6E63" fill-opacity="0.9"/>
<circle cx="320.5" cy="131.6" r="0.78" fill="#EE6E63" fill-opacity="0.9"/>
<circle cx="379.4" cy="100.3" r="0.78" fill="#EE6E63" fill-opacity="0.9"/>
<circle cx="367.4" cy="75.6" r="0.78" fill="#EE6E63" fill-opacity="0.9"/>
<circle cx="326.4" cy="136.9" r="0.78" fill="#EE6E63" fill-opacity="0.9"/>
<circle cx="359.6" cy="72.8" r="0.78" fill="#EE6E63" fill-opacity="0.9"/>
<circle cx="351.2" cy="169.5" r="0.78" fill="#EE6E63" fill-opacity="0.9"/>
<circle cx="394.2" cy="104.9" r="0.78" fill="#EE6E63" fill-opacity="0.9"/>
<circle cx="330.7" cy="134.8" r="0.78" fill="#EE6E63" fill-opacity="0.9"/>
<circle cx="357.3" cy="72.2" r="0.78" fill="#EE6E63" fill-opacity="0.9"/>
<circle cx="394.5" cy="100.6" r="0.78" fill="#EE6E63" fill-opacity="0.9"/>
<circle cx="323.4" cy="132.8" r="0.78" fill="#EE6E63" fill-opacity="0.9"/>
<circle cx="372.8" cy="90.3" r="0.78" fill="#EE6E63" fill-opacity="0.9"/>
<circle cx="410.1" cy="131.5" r="0.78" fill="#EE6E63" fill-opacity="0.9"/>
<circle cx="328.8" cy="135.2" r="0.78" fill="#EE6E63" fill-opacity="0.9"/>
<circle cx="351.4" cy="72.4" r="0.78" fill="#EE6E63" fill-opacity="0.9"/>
<circle cx="365.9" cy="167.3" r="0.78" fill="#EE6E63" fill-opacity="0.9"/>
<circle cx="367.8" cy="165.2" r="0.78" fill="#EE6E63" fill-opacity="0.9"/>
<circle cx="383.7" cy="165.5" r="0.78" fill="#EE6E63" fill-opacity="0.9"/>
<circle cx="374.2" cy="100.1" r="0.78" fill="#EE6E63" fill-opacity="0.9"/>
<circle cx="378.5" cy="164.2" r="0.78" fill="#EE6E63" fill-opacity="0.9"/>
<circle cx="365.3" cy="171.4" r="0.78" fill="#EE6E63" fill-opacity="0.9"/>
<circle cx="367.6" cy="164.5" r="0.78" fill="#EE6E63" fill-opacity="0.9"/>
<circle cx="343.0" cy="149.2" r="0.78" fill="#EE6E63" fill-opacity="0.9"/>
<circle cx="413.4" cy="127.1" r="0.78" fill="#EE6E63" fill-opacity="0.9"/>
<circle cx="400.4" cy="109.4" r="0.78" fill="#EE6E63" fill-opacity="0.9"/>
<circle cx="393.2" cy="100.2" r="0.78" fill="#EE6E63" fill-opacity="0.9"/>
<circle cx="351.5" cy="177.7" r="0.78" fill="#EE6E63" fill-opacity="0.9"/>
<circle cx="409.7" cy="117.9" r="0.78" fill="#EE6E63" fill-opacity="0.9"/>
<circle cx="317.4" cy="94.8" r="0.78" fill="#EE6E63" fill-opacity="0.9"/>
<circle cx="338.9" cy="139.8" r="0.78" fill="#EE6E63" fill-opacity="0.9"/>
<circle cx="371.8" cy="89.7" r="0.78" fill="#EE6E63" fill-opacity="0.9"/>
<circle cx="359.1" cy="177.1" r="0.78" fill="#EE6E63" fill-opacity="0.9"/>
<circle cx="350.5" cy="169.8" r="0.78" fill="#EE6E63" fill-opacity="0.9"/>
<circle cx="389.4" cy="160.4" r="0.78" fill="#EE6E63" fill-opacity="0.9"/>
<circle cx="353.6" cy="176.7" r="0.78" fill="#EE6E63" fill-opacity="0.9"/>
<circle cx="326.8" cy="136.3" r="0.78" fill="#EE6E63" fill-opacity="0.9"/>
<circle cx="372.2" cy="97.7" r="0.78" fill="#EE6E63" fill-opacity="0.9"/>
<circle cx="388.4" cy="100.2" r="0.78" fill="#EE6E63" fill-opacity="0.9"/>
<circle cx="373.6" cy="161.6" r="0.78" fill="#EE6E63" fill-opacity="0.9"/>
<circle cx="397.7" cy="152.3" r="0.78" fill="#EE6E63" fill-opacity="0.9"/>
<circle cx="345.8" cy="76.5" r="0.78" fill="#EE6E63" fill-opacity="0.9"/>
<circle cx="396.4" cy="159.3" r="0.78" fill="#EE6E63" fill-opacity="0.9"/>
<circle cx="326.6" cy="81.2" r="0.78" fill="#EE6E63" fill-opacity="0.9"/>
<circle cx="357.8" cy="177.5" r="0.78" fill="#EE6E63" fill-opacity="0.9"/>
<circle cx="398.8" cy="153.3" r="0.78" fill="#EE6E63" fill-opacity="0.9"/>
<circle cx="356.5" cy="74.8" r="0.78" fill="#EE6E63" fill-opacity="0.9"/>
<circle cx="317.0" cy="123.7" r="0.78" fill="#EE6E63" fill-opacity="0.9"/>
<circle cx="317.4" cy="127.8" r="0.78" fill="#EE6E63" fill-opacity="0.9"/>
<circle cx="373.5" cy="159.9" r="0.78" fill="#EE6E63" fill-opacity="0.9"/>
<circle cx="401.1" cy="107.0" r="0.78" fill="#EE6E63" fill-opacity="0.9"/>
<circle cx="366.7" cy="163.1" r="0.78" fill="#EE6E63" fill-opacity="0.9"/>
<circle cx="360.5" cy="179.4" r="0.78" fill="#EE6E63" fill-opacity="0.9"/>
<circle cx="400.9" cy="152.1" r="0.78" fill="#EE6E63" fill-opacity="0.9"/>
<circle cx="317.4" cy="127.9" r="0.78" fill="#EE6E63" fill-opacity="0.9"/>
<circle cx="372.5" cy="162.6" r="0.78" fill="#EE6E63" fill-opacity="0.9"/>
<circle cx="314.7" cy="100.1" r="0.78" fill="#EE6E63" fill-opacity="0.9"/>
<circle cx="353.9" cy="174.2" r="0.78" fill="#EE6E63" fill-opacity="0.9"/>
<circle cx="386.5" cy="165.7" r="0.78" fill="#EE6E63" fill-opacity="0.9"/>
<circle cx="317.0" cy="90.2" r="0.78" fill="#EE6E63" fill-opacity="0.9"/>
<circle cx="363.1" cy="175.9" r="0.78" fill="#EE6E63" fill-opacity="0.9"/>
<circle cx="367.6" cy="77.6" r="0.78" fill="#EE6E63" fill-opacity="0.9"/>
<circle cx="348.7" cy="160.7" r="0.78" fill="#EE6E63" fill-opacity="0.9"/>
<circle cx="397.0" cy="103.5" r="0.78" fill="#EE6E63" fill-opacity="0.9"/>
<path d="M316.0,92.0 C317.0,89.7 318.7,86.3 321.0,84.0 C323.3,81.7 326.0,79.5 330.0,78.0 C334.0,76.5 340.0,75.7 345.0,75.0 C350.0,74.3 356.3,73.7 360.0,74.0 C363.7,74.3 365.3,75.0 367.0,77.0 C368.7,79.0 369.2,83.5 370.0,86.0 C370.8,88.5 371.0,89.5 372.0,92.0 C373.0,94.5 374.0,99.3 376.0,101.0 C378.0,102.7 381.7,102.2 384.0,102.0 C386.3,101.8 387.7,99.3 390.0,100.0 C392.3,100.7 395.5,103.8 398.0,106.0 C400.5,108.2 403.2,110.8 405.0,113.0 C406.8,115.2 407.8,116.2 409.0,119.0 C410.2,121.8 411.8,126.5 412.0,130.0 C412.2,133.5 411.0,137.7 410.0,140.0 C409.0,142.3 407.7,142.0 406.0,144.0 C404.3,146.0 402.0,149.3 400.0,152.0 C398.0,154.7 396.7,157.8 394.0,160.0 C391.3,162.2 387.5,165.3 384.0,165.5 C380.5,165.7 375.7,161.6 373.0,161.0 C370.3,160.4 369.2,160.8 368.0,162.0 C366.8,163.2 366.5,165.6 366.0,168.0 C365.5,170.4 366.0,174.8 365.0,176.5 C364.0,178.2 362.0,178.2 360.0,178.3 C358.0,178.4 354.4,178.1 353.0,177.0 C351.6,175.9 352.4,174.0 351.7,171.5 C351.0,169.0 350.1,165.2 349.0,162.1 C347.9,159.0 346.1,155.6 345.0,152.7 C343.9,149.8 343.4,146.8 342.3,144.6 C341.2,142.3 340.3,140.3 338.3,139.2 C336.3,138.1 332.7,138.6 330.2,137.9 C327.7,137.2 325.5,136.8 323.5,135.2 C321.5,133.6 319.3,130.7 318.0,128.5 C316.7,126.3 316.0,125.1 315.5,122.0 C315.0,118.9 315.1,114.0 315.0,110.0 C314.9,106.0 315.0,101.0 315.2,98.0 C315.4,95.0 315.0,94.3 316.0,92.0Z" fill="#EE6E63" fill-opacity="1.0" />
<circle cx="382.1" cy="154.8" r="0.75" fill="#fff" fill-opacity="0.85"/>
<circle cx="353.3" cy="172.1" r="0.75" fill="#fff" fill-opacity="0.85"/>
<circle cx="387.0" cy="109.6" r="0.75" fill="#fff" fill-opacity="0.85"/>
<circle cx="353.1" cy="158.0" r="0.75" fill="#fff" fill-opacity="0.85"/>
<circle cx="348.9" cy="93.4" r="0.75" fill="#fff" fill-opacity="0.85"/>
<circle cx="399.5" cy="129.5" r="0.75" fill="#fff" fill-opacity="0.85"/>
<circle cx="365.6" cy="143.8" r="0.75" fill="#fff" fill-opacity="0.85"/>
<circle cx="347.9" cy="80.9" r="0.75" fill="#fff" fill-opacity="0.85"/>
<circle cx="355.1" cy="126.4" r="0.75" fill="#fff" fill-opacity="0.85"/>
<circle cx="397.6" cy="143.7" r="0.75" fill="#fff" fill-opacity="0.85"/>
<circle cx="371.0" cy="116.1" r="0.75" fill="#fff" fill-opacity="0.85"/>
<circle cx="370.7" cy="102.6" r="0.75" fill="#fff" fill-opacity="0.85"/>
<circle cx="380.1" cy="152.7" r="0.75" fill="#fff" fill-opacity="0.85"/>
<circle cx="363.6" cy="167.7" r="0.75" fill="#fff" fill-opacity="0.85"/>
<circle cx="394.6" cy="141.7" r="0.75" fill="#fff" fill-opacity="0.85"/>
<circle cx="383.3" cy="147.4" r="0.75" fill="#fff" fill-opacity="0.85"/>
<circle cx="374.4" cy="102.7" r="0.75" fill="#fff" fill-opacity="0.85"/>
<circle cx="335.7" cy="97.3" r="0.75" fill="#fff" fill-opacity="0.85"/>
<circle cx="349.9" cy="147.0" r="0.75" fill="#fff" fill-opacity="0.85"/>
<circle cx="341.7" cy="80.2" r="0.75" fill="#fff" fill-opacity="0.85"/>
<circle cx="358.2" cy="131.9" r="0.75" fill="#fff" fill-opacity="0.85"/>
<circle cx="348.0" cy="108.5" r="0.75" fill="#fff" fill-opacity="0.85"/>
<circle cx="370.1" cy="96.7" r="0.75" fill="#fff" fill-opacity="0.85"/>
<circle cx="364.0" cy="118.2" r="0.75" fill="#fff" fill-opacity="0.85"/>
<circle cx="385.3" cy="135.0" r="0.75" fill="#fff" fill-opacity="0.85"/>
<circle cx="353.8" cy="127.4" r="0.75" fill="#fff" fill-opacity="0.85"/>
<circle cx="372.1" cy="97.6" r="0.75" fill="#fff" fill-opacity="0.85"/>
<circle cx="321.9" cy="123.8" r="0.75" fill="#fff" fill-opacity="0.85"/>
<circle cx="328.0" cy="121.3" r="0.75" fill="#fff" fill-opacity="0.85"/>
<circle cx="381.2" cy="147.9" r="0.75" fill="#fff" fill-opacity="0.85"/>
<circle cx="359.1" cy="109.6" r="0.75" fill="#fff" fill-opacity="0.85"/>
<circle cx="333.4" cy="116.0" r="0.75" fill="#fff" fill-opacity="0.85"/>
<circle cx="342.4" cy="94.3" r="0.75" fill="#fff" fill-opacity="0.85"/>
<circle cx="386.4" cy="127.8" r="0.75" fill="#fff" fill-opacity="0.85"/>
<circle cx="357.5" cy="94.6" r="0.75" fill="#fff" fill-opacity="0.85"/>
<circle cx="340.8" cy="132.4" r="0.75" fill="#fff" fill-opacity="0.85"/>
<circle cx="398.8" cy="149.3" r="0.75" fill="#fff" fill-opacity="0.85"/>
<circle cx="376.1" cy="101.5" r="0.75" fill="#fff" fill-opacity="0.85"/>
<circle cx="349.5" cy="91.1" r="0.75" fill="#fff" fill-opacity="0.85"/>
<circle cx="344.7" cy="78.6" r="0.75" fill="#fff" fill-opacity="0.85"/>
<circle cx="332.0" cy="111.1" r="0.75" fill="#fff" fill-opacity="0.85"/>
<circle cx="359.1" cy="84.7" r="0.75" fill="#fff" fill-opacity="0.85"/>
<circle cx="325.3" cy="90.0" r="0.75" fill="#fff" fill-opacity="0.85"/>
<circle cx="390.4" cy="123.2" r="0.75" fill="#fff" fill-opacity="0.85"/>
<circle cx="392.1" cy="123.7" r="0.75" fill="#fff" fill-opacity="0.85"/>
<circle cx="325.6" cy="132.8" r="0.75" fill="#fff" fill-opacity="0.85"/>
<circle cx="364.3" cy="95.8" r="0.75" fill="#fff" fill-opacity="0.85"/>
<circle cx="339.4" cy="76.2" r="0.75" fill="#fff" fill-opacity="0.85"/>
<circle cx="357.4" cy="150.4" r="0.75" fill="#fff" fill-opacity="0.85"/>
<circle cx="352.3" cy="158.7" r="0.75" fill="#fff" fill-opacity="0.85"/>
<circle cx="316.2" cy="96.3" r="0.75" fill="#fff" fill-opacity="0.85"/>
<circle cx="371.8" cy="113.5" r="0.75" fill="#fff" fill-opacity="0.85"/>
<circle cx="391.2" cy="122.4" r="0.75" fill="#fff" fill-opacity="0.85"/>
<circle cx="366.8" cy="81.4" r="0.75" fill="#fff" fill-opacity="0.85"/>
<circle cx="346.4" cy="139.1" r="0.75" fill="#fff" fill-opacity="0.85"/>
<circle cx="400.9" cy="124.5" r="0.75" fill="#fff" fill-opacity="0.85"/>
<circle cx="352.1" cy="84.8" r="0.75" fill="#fff" fill-opacity="0.85"/>
<circle cx="334.4" cy="121.6" r="0.75" fill="#fff" fill-opacity="0.85"/>
<circle cx="371.8" cy="140.4" r="0.75" fill="#fff" fill-opacity="0.85"/>
<circle cx="383.6" cy="119.9" r="0.75" fill="#fff" fill-opacity="0.85"/>
<circle cx="320.2" cy="123.1" r="0.75" fill="#fff" fill-opacity="0.85"/>
<circle cx="353.8" cy="144.2" r="0.75" fill="#fff" fill-opacity="0.85"/>
<circle cx="378.0" cy="146.2" r="0.75" fill="#fff" fill-opacity="0.85"/>
<circle cx="360.8" cy="88.8" r="0.75" fill="#fff" fill-opacity="0.85"/>
<circle cx="403.2" cy="136.5" r="0.75" fill="#fff" fill-opacity="0.85"/>
<circle cx="321.1" cy="98.9" r="0.75" fill="#fff" fill-opacity="0.85"/>
<circle cx="353.1" cy="156.2" r="0.75" fill="#fff" fill-opacity="0.85"/>
<circle cx="394.9" cy="140.1" r="0.75" fill="#fff" fill-opacity="0.85"/>
<circle cx="319.7" cy="99.1" r="0.75" fill="#fff" fill-opacity="0.85"/>
<circle cx="340.5" cy="90.0" r="0.75" fill="#fff" fill-opacity="0.85"/>
<circle cx="364.7" cy="85.0" r="0.75" fill="#fff" fill-opacity="0.85"/>
<circle cx="397.6" cy="132.0" r="0.75" fill="#fff" fill-opacity="0.85"/>
<circle cx="394.7" cy="126.4" r="0.75" fill="#fff" fill-opacity="0.85"/>
<circle cx="375.1" cy="136.0" r="0.75" fill="#fff" fill-opacity="0.85"/>
<circle cx="320.3" cy="130.9" r="0.75" fill="#fff" fill-opacity="0.85"/>
<circle cx="343.2" cy="115.4" r="0.75" fill="#fff" fill-opacity="0.85"/>
<circle cx="393.7" cy="121.8" r="0.75" fill="#fff" fill-opacity="0.85"/>
<circle cx="335.1" cy="118.7" r="0.75" fill="#fff" fill-opacity="0.85"/>
<circle cx="368.0" cy="110.8" r="0.75" fill="#fff" fill-opacity="0.85"/>
<circle cx="324.8" cy="112.3" r="0.75" fill="#fff" fill-opacity="0.85"/>
<circle cx="329.3" cy="137.3" r="0.75" fill="#fff" fill-opacity="0.85"/>
<circle cx="373.1" cy="128.2" r="0.75" fill="#fff" fill-opacity="0.85"/>
<circle cx="359.2" cy="116.5" r="0.75" fill="#fff" fill-opacity="0.85"/>
<circle cx="374.3" cy="141.6" r="0.75" fill="#fff" fill-opacity="0.85"/>
<circle cx="396.2" cy="148.7" r="0.75" fill="#fff" fill-opacity="0.85"/>
<circle cx="397.4" cy="118.9" r="0.75" fill="#fff" fill-opacity="0.85"/>
<circle cx="406.4" cy="120.1" r="0.75" fill="#fff" fill-opacity="0.85"/>
<circle cx="344.2" cy="110.3" r="0.75" fill="#fff" fill-opacity="0.85"/>
<circle cx="346.5" cy="83.9" r="0.75" fill="#fff" fill-opacity="0.85"/>
<circle cx="358.0" cy="176.3" r="0.75" fill="#fff" fill-opacity="0.85"/>
<circle cx="388.9" cy="161.3" r="0.75" fill="#fff" fill-opacity="0.85"/>
<circle cx="341.6" cy="100.0" r="0.75" fill="#fff" fill-opacity="0.85"/>
<circle cx="355.0" cy="76.2" r="0.75" fill="#fff" fill-opacity="0.85"/>
<circle cx="389.7" cy="154.8" r="0.75" fill="#fff" fill-opacity="0.85"/>
<circle cx="366.6" cy="84.9" r="0.75" fill="#fff" fill-opacity="0.85"/>
<circle cx="395.1" cy="106.7" r="0.75" fill="#fff" fill-opacity="0.85"/>
<circle cx="375.8" cy="112.3" r="0.75" fill="#fff" fill-opacity="0.85"/>
<circle cx="330.6" cy="129.4" r="0.75" fill="#fff" fill-opacity="0.85"/>
<circle cx="378.0" cy="130.2" r="0.75" fill="#fff" fill-opacity="0.85"/>
<circle cx="406.0" cy="116.5" r="0.75" fill="#fff" fill-opacity="0.85"/>
<circle cx="403.6" cy="145.9" r="0.75" fill="#fff" fill-opacity="0.85"/>
<circle cx="335.6" cy="104.0" r="0.75" fill="#fff" fill-opacity="0.85"/>
<circle cx="357.5" cy="145.6" r="0.75" fill="#fff" fill-opacity="0.85"/>
<circle cx="382.0" cy="151.8" r="0.75" fill="#fff" fill-opacity="0.85"/>
<circle cx="339.9" cy="76.9" r="0.75" fill="#fff" fill-opacity="0.85"/>
<circle cx="377.4" cy="135.7" r="0.75" fill="#fff" fill-opacity="0.85"/>
<circle cx="378.6" cy="136.4" r="0.75" fill="#fff" fill-opacity="0.85"/>
<circle cx="382.4" cy="105.7" r="0.75" fill="#fff" fill-opacity="0.85"/>
<circle cx="316.4" cy="111.7" r="0.75" fill="#fff" fill-opacity="0.85"/>
<circle cx="328.8" cy="85.8" r="0.75" fill="#fff" fill-opacity="0.85"/>
<circle cx="362.9" cy="175.1" r="0.75" fill="#fff" fill-opacity="0.85"/>
<circle cx="381.7" cy="102.5" r="0.75" fill="#fff" fill-opacity="0.85"/>
<circle cx="324.7" cy="105.6" r="0.75" fill="#fff" fill-opacity="0.85"/>
<circle cx="354.7" cy="145.9" r="0.75" fill="#fff" fill-opacity="0.85"/>
<circle cx="358.2" cy="150.0" r="0.75" fill="#fff" fill-opacity="0.85"/>
<circle cx="392.9" cy="144.0" r="0.75" fill="#fff" fill-opacity="0.85"/>
<circle cx="371.9" cy="143.0" r="0.75" fill="#fff" fill-opacity="0.85"/>
<circle cx="332.5" cy="89.0" r="0.75" fill="#fff" fill-opacity="0.85"/>
<circle cx="352.2" cy="142.0" r="0.75" fill="#fff" fill-opacity="0.85"/>
<circle cx="370.3" cy="97.3" r="0.75" fill="#fff" fill-opacity="0.85"/>
<circle cx="350.5" cy="128.6" r="0.75" fill="#fff" fill-opacity="0.85"/>
<circle cx="325.8" cy="99.9" r="0.75" fill="#fff" fill-opacity="0.85"/>
<circle cx="392.2" cy="103.8" r="0.75" fill="#fff" fill-opacity="0.85"/>
<circle cx="351.9" cy="153.8" r="0.75" fill="#fff" fill-opacity="0.85"/>
<circle cx="336.7" cy="94.2" r="0.75" fill="#fff" fill-opacity="0.85"/>
<circle cx="336.2" cy="114.1" r="0.75" fill="#fff" fill-opacity="0.85"/>
<circle cx="350.4" cy="140.9" r="0.75" fill="#fff" fill-opacity="0.85"/>
<circle cx="360.8" cy="164.7" r="0.75" fill="#fff" fill-opacity="0.85"/>
<circle cx="317.9" cy="119.7" r="0.75" fill="#fff" fill-opacity="0.85"/>
<circle cx="326.2" cy="122.0" r="0.75" fill="#fff" fill-opacity="0.85"/>
<circle cx="326.4" cy="124.0" r="0.75" fill="#fff" fill-opacity="0.85"/>
<circle cx="331.9" cy="98.1" r="0.75" fill="#fff" fill-opacity="0.85"/>
<circle cx="357.7" cy="86.3" r="0.75" fill="#fff" fill-opacity="0.85"/>
<circle cx="321.6" cy="111.7" r="0.75" fill="#fff" fill-opacity="0.85"/>
<circle cx="360.5" cy="171.7" r="0.75" fill="#fff" fill-opacity="0.85"/>
<circle cx="365.9" cy="99.0" r="0.75" fill="#fff" fill-opacity="0.85"/>
<circle cx="335.6" cy="82.7" r="0.75" fill="#fff" fill-opacity="0.85"/>
<circle cx="359.7" cy="150.3" r="0.75" fill="#fff" fill-opacity="0.85"/>
<circle cx="322.2" cy="121.2" r="0.75" fill="#fff" fill-opacity="0.85"/>
<circle cx="345.8" cy="95.4" r="0.75" fill="#fff" fill-opacity="0.85"/>
<circle cx="379.3" cy="111.7" r="0.75" fill="#fff" fill-opacity="0.85"/>
<circle cx="361.7" cy="92.8" r="0.75" fill="#fff" fill-opacity="0.85"/>
<circle cx="364.9" cy="76.6" r="0.75" fill="#fff" fill-opacity="0.85"/>
<circle cx="360.6" cy="151.2" r="0.75" fill="#fff" fill-opacity="0.85"/>
<circle cx="367.1" cy="98.4" r="0.75" fill="#fff" fill-opacity="0.85"/>
<circle cx="363.4" cy="137.1" r="0.75" fill="#fff" fill-opacity="0.85"/>
<circle cx="386.8" cy="163.4" r="0.75" fill="#fff" fill-opacity="0.85"/>
<circle cx="332.6" cy="97.7" r="0.75" fill="#fff" fill-opacity="0.85"/>
<circle cx="323.0" cy="96.6" r="0.75" fill="#fff" fill-opacity="0.85"/>
<circle cx="318.5" cy="119.8" r="0.75" fill="#fff" fill-opacity="0.85"/>
<circle cx="328.6" cy="94.0" r="0.75" fill="#fff" fill-opacity="0.85"/>
<circle cx="387.6" cy="134.8" r="0.75" fill="#fff" fill-opacity="0.85"/>
<circle cx="406.1" cy="115.9" r="0.75" fill="#fff" fill-opacity="0.85"/>
<circle cx="361.3" cy="127.4" r="0.75" fill="#fff" fill-opacity="0.85"/>
<circle cx="407.0" cy="125.3" r="0.75" fill="#fff" fill-opacity="0.85"/>
<circle cx="359.3" cy="97.6" r="0.75" fill="#fff" fill-opacity="0.85"/>
<circle cx="354.5" cy="109.8" r="0.75" fill="#fff" fill-opacity="0.85"/>
<circle cx="351.3" cy="90.9" r="0.75" fill="#fff" fill-opacity="0.85"/>
<circle cx="373.9" cy="100.9" r="0.75" fill="#fff" fill-opacity="0.85"/>
<circle cx="359.1" cy="132.6" r="0.75" fill="#fff" fill-opacity="0.85"/>
<circle cx="338.3" cy="86.6" r="0.75" fill="#fff" fill-opacity="0.85"/>
<circle cx="328.3" cy="128.5" r="0.75" fill="#fff" fill-opacity="0.85"/>
<circle cx="320.5" cy="98.4" r="0.75" fill="#fff" fill-opacity="0.85"/>
<circle cx="331.2" cy="135.1" r="0.75" fill="#fff" fill-opacity="0.85"/>
<circle cx="358.9" cy="116.7" r="0.75" fill="#fff" fill-opacity="0.85"/>
<circle cx="401.2" cy="143.0" r="0.75" fill="#fff" fill-opacity="0.85"/>
<circle cx="354.6" cy="79.4" r="0.75" fill="#fff" fill-opacity="0.85"/>
<circle cx="316.7" cy="104.2" r="0.75" fill="#fff" fill-opacity="0.85"/>
<circle cx="399.4" cy="117.8" r="0.75" fill="#fff" fill-opacity="0.85"/>
<circle cx="366.4" cy="162.5" r="0.75" fill="#fff" fill-opacity="0.85"/>
<circle cx="350.3" cy="139.5" r="0.75" fill="#fff" fill-opacity="0.9"/>
<circle cx="338.5" cy="120.2" r="0.75" fill="#fff" fill-opacity="0.9"/>
<circle cx="354.0" cy="150.6" r="0.75" fill="#fff" fill-opacity="0.9"/>
<circle cx="325.7" cy="118.7" r="0.75" fill="#fff" fill-opacity="0.9"/>
<circle cx="353.9" cy="136.5" r="0.75" fill="#fff" fill-opacity="0.9"/>
<circle cx="328.2" cy="124.5" r="0.75" fill="#fff" fill-opacity="0.9"/>
<circle cx="332.7" cy="134.9" r="0.75" fill="#fff" fill-opacity="0.9"/>
<circle cx="347.7" cy="138.5" r="0.75" fill="#fff" fill-opacity="0.9"/>
<circle cx="346.4" cy="139.3" r="0.75" fill="#fff" fill-opacity="0.9"/>
<circle cx="326.3" cy="130.7" r="0.75" fill="#fff" fill-opacity="0.9"/>
<circle cx="356.5" cy="148.4" r="0.75" fill="#fff" fill-opacity="0.9"/>
<circle cx="326.9" cy="123.7" r="0.75" fill="#fff" fill-opacity="0.9"/>
<circle cx="328.6" cy="117.3" r="0.75" fill="#fff" fill-opacity="0.9"/>
<circle cx="323.4" cy="130.6" r="0.75" fill="#fff" fill-opacity="0.9"/>
<circle cx="334.8" cy="118.8" r="0.75" fill="#fff" fill-opacity="0.9"/>
<circle cx="341.1" cy="128.8" r="0.75" fill="#fff" fill-opacity="0.9"/>
<circle cx="346.2" cy="131.7" r="0.75" fill="#fff" fill-opacity="0.9"/>
<circle cx="325.0" cy="133.3" r="0.75" fill="#fff" fill-opacity="0.9"/>
<circle cx="324.4" cy="129.3" r="0.75" fill="#fff" fill-opacity="0.9"/>
<circle cx="356.5" cy="143.6" r="0.75" fill="#fff" fill-opacity="0.9"/>
<circle cx="351.4" cy="139.1" r="0.75" fill="#fff" fill-opacity="0.9"/>
<circle cx="343.4" cy="141.4" r="0.75" fill="#fff" fill-opacity="0.9"/>
<circle cx="348.6" cy="126.8" r="0.75" fill="#fff" fill-opacity="0.9"/>
<circle cx="353.0" cy="137.2" r="0.75" fill="#fff" fill-opacity="0.9"/>
<circle cx="328.9" cy="118.5" r="0.75" fill="#fff" fill-opacity="0.9"/>
<circle cx="327.2" cy="125.5" r="0.75" fill="#fff" fill-opacity="0.9"/>
<circle cx="318.8" cy="120.1" r="0.75" fill="#fff" fill-opacity="0.9"/>
<circle cx="323.9" cy="128.1" r="0.75" fill="#fff" fill-opacity="0.9"/>
<circle cx="338.9" cy="127.5" r="0.75" fill="#fff" fill-opacity="0.9"/>
<circle cx="334.7" cy="133.2" r="0.75" fill="#fff" fill-opacity="0.9"/>
<circle cx="328.3" cy="118.0" r="0.75" fill="#fff" fill-opacity="0.9"/>
<circle cx="321.4" cy="121.8" r="0.75" fill="#fff" fill-opacity="0.9"/>
<circle cx="345.9" cy="125.5" r="0.75" fill="#fff" fill-opacity="0.9"/>
<circle cx="349.7" cy="142.2" r="0.75" fill="#fff" fill-opacity="0.9"/>
<circle cx="331.7" cy="133.7" r="0.75" fill="#fff" fill-opacity="0.9"/>
<circle cx="341.4" cy="122.9" r="0.75" fill="#fff" fill-opacity="0.9"/>
<circle cx="346.3" cy="144.9" r="0.75" fill="#fff" fill-opacity="0.9"/>
<circle cx="340.6" cy="121.0" r="0.75" fill="#fff" fill-opacity="0.9"/>
<circle cx="327.6" cy="125.3" r="0.75" fill="#fff" fill-opacity="0.9"/>
<circle cx="334.9" cy="135.2" r="0.75" fill="#fff" fill-opacity="0.9"/>
<circle cx="359.3" cy="110.3" r="0.85" fill="#fff" fill-opacity="0.9"/>
<circle cx="372.1" cy="109.4" r="0.85" fill="#fff" fill-opacity="0.9"/>
<circle cx="360.0" cy="111.2" r="0.85" fill="#fff" fill-opacity="0.9"/>
<circle cx="358.3" cy="92.0" r="0.85" fill="#fff" fill-opacity="0.9"/>
<circle cx="376.5" cy="113.2" r="0.85" fill="#fff" fill-opacity="0.9"/>
<circle cx="380.7" cy="116.2" r="0.85" fill="#fff" fill-opacity="0.9"/>
<circle cx="359.9" cy="98.0" r="0.85" fill="#fff" fill-opacity="0.9"/>
<circle cx="369.5" cy="89.4" r="0.85" fill="#fff" fill-opacity="0.9"/>
<circle cx="356.3" cy="90.5" r="0.85" fill="#fff" fill-opacity="0.9"/>
<circle cx="366.2" cy="105.8" r="0.85" fill="#fff" fill-opacity="0.9"/>
<circle cx="361.6" cy="113.2" r="0.85" fill="#fff" fill-opacity="0.9"/>
<circle cx="366.9" cy="115.5" r="0.85" fill="#fff" fill-opacity="0.9"/>
<circle cx="353.4" cy="88.7" r="0.85" fill="#fff" fill-opacity="0.9"/>
<circle cx="362.4" cy="104.4" r="0.85" fill="#fff" fill-opacity="0.9"/>
<circle cx="357.1" cy="98.1" r="0.85" fill="#fff" fill-opacity="0.9"/>
<circle cx="365.3" cy="113.1" r="0.85" fill="#fff" fill-opacity="0.9"/>
<circle cx="374.7" cy="100.1" r="0.85" fill="#fff" fill-opacity="0.9"/>
<circle cx="370.4" cy="96.6" r="0.85" fill="#fff" fill-opacity="0.9"/>
<circle cx="364.9" cy="109.5" r="0.85" fill="#fff" fill-opacity="0.9"/>
<circle cx="359.6" cy="88.6" r="0.85" fill="#fff" fill-opacity="0.9"/>
<circle cx="374.0" cy="115.3" r="0.85" fill="#fff" fill-opacity="0.9"/>
<circle cx="364.0" cy="89.3" r="0.85" fill="#fff" fill-opacity="0.9"/>
<circle cx="362.6" cy="89.6" r="0.85" fill="#fff" fill-opacity="0.9"/>
<circle cx="354.3" cy="90.0" r="0.85" fill="#fff" fill-opacity="0.9"/>
<circle cx="352.3" cy="92.2" r="0.85" fill="#fff" fill-opacity="0.9"/>
<circle cx="367.0" cy="117.7" r="0.85" fill="#fff" fill-opacity="0.9"/>
<circle cx="355.4" cy="92.6" r="0.85" fill="#fff" fill-opacity="0.9"/>
<circle cx="374.5" cy="102.2" r="0.85" fill="#fff" fill-opacity="0.9"/>
<circle cx="360.8" cy="90.7" r="0.85" fill="#fff" fill-opacity="0.9"/>
<circle cx="353.7" cy="95.9" r="0.85" fill="#fff" fill-opacity="0.9"/>
<circle cx="373.7" cy="119.9" r="0.85" fill="#fff" fill-opacity="0.9"/>
<circle cx="359.2" cy="103.7" r="0.85" fill="#fff" fill-opacity="0.9"/>
<circle cx="372.9" cy="113.9" r="0.85" fill="#fff" fill-opacity="0.9"/>
<circle cx="354.1" cy="93.4" r="0.85" fill="#fff" fill-opacity="0.9"/>
<circle cx="357.9" cy="95.7" r="0.85" fill="#fff" fill-opacity="0.9"/>
<circle cx="360.3" cy="92.6" r="0.85" fill="#fff" fill-opacity="0.9"/>
<circle cx="373.8" cy="99.0" r="0.85" fill="#fff" fill-opacity="0.9"/>
<circle cx="356.0" cy="101.9" r="0.85" fill="#fff" fill-opacity="0.9"/>
<circle cx="376.3" cy="118.8" r="0.85" fill="#fff" fill-opacity="0.9"/>
<circle cx="374.4" cy="109.0" r="0.85" fill="#fff" fill-opacity="0.9"/>
<circle cx="378.8" cy="122.2" r="0.85" fill="#fff" fill-opacity="0.9"/>
<circle cx="361.7" cy="100.2" r="0.85" fill="#fff" fill-opacity="0.9"/>
<circle cx="361.3" cy="100.4" r="0.85" fill="#fff" fill-opacity="0.9"/>
<circle cx="353.5" cy="94.6" r="0.85" fill="#fff" fill-opacity="0.9"/>
<circle cx="370.3" cy="119.7" r="0.85" fill="#fff" fill-opacity="0.9"/>
<circle cx="379.4" cy="116.6" r="0.85" fill="#fff" fill-opacity="0.9"/>
<circle cx="374.2" cy="116.9" r="0.85" fill="#fff" fill-opacity="0.9"/>
<circle cx="358.1" cy="110.9" r="0.85" fill="#fff" fill-opacity="0.9"/>
<circle cx="362.2" cy="117.9" r="0.85" fill="#fff" fill-opacity="0.9"/>
<circle cx="377.1" cy="119.4" r="0.85" fill="#fff" fill-opacity="0.9"/>
<circle cx="373.8" cy="111.7" r="0.85" fill="#fff" fill-opacity="0.9"/>
<circle cx="377.8" cy="106.8" r="0.85" fill="#fff" fill-opacity="0.9"/>
<circle cx="364.6" cy="98.9" r="0.85" fill="#fff" fill-opacity="0.9"/>
<circle cx="375.1" cy="115.7" r="0.85" fill="#fff" fill-opacity="0.9"/>
<circle cx="360.9" cy="95.5" r="0.85" fill="#fff" fill-opacity="0.9"/>
<circle cx="353.2" cy="98.4" r="0.85" fill="#fff" fill-opacity="0.9"/>
<circle cx="357.3" cy="88.7" r="0.85" fill="#fff" fill-opacity="0.9"/>
<circle cx="356.4" cy="103.6" r="0.85" fill="#fff" fill-opacity="0.9"/>
<circle cx="362.9" cy="116.5" r="0.85" fill="#fff" fill-opacity="0.9"/>
<circle cx="370.2" cy="120.0" r="0.85" fill="#fff" fill-opacity="0.9"/>
<circle cx="373.5" cy="97.8" r="0.85" fill="#fff" fill-opacity="0.9"/>
<circle cx="378.0" cy="107.8" r="0.85" fill="#fff" fill-opacity="0.9"/>
<circle cx="376.5" cy="105.7" r="0.85" fill="#fff" fill-opacity="0.9"/>
<circle cx="365.5" cy="101.8" r="0.85" fill="#fff" fill-opacity="0.9"/>
<circle cx="378.2" cy="111.3" r="0.85" fill="#fff" fill-opacity="0.9"/>
<circle cx="356.7" cy="99.8" r="0.85" fill="#fff" fill-opacity="0.9"/>
<circle cx="368.9" cy="102.4" r="0.85" fill="#fff" fill-opacity="0.9"/>
<circle cx="373.0" cy="102.3" r="0.85" fill="#fff" fill-opacity="0.9"/>
<circle cx="376.3" cy="116.0" r="0.85" fill="#fff" fill-opacity="0.9"/>
<circle cx="361.4" cy="94.4" r="0.85" fill="#fff" fill-opacity="0.9"/>
<circle cx="373.8" cy="116.5" r="0.85" fill="#fff" fill-opacity="0.9"/>
<circle cx="362.2" cy="113.0" r="0.85" fill="#fff" fill-opacity="0.9"/>
<circle cx="359.7" cy="98.5" r="0.85" fill="#fff" fill-opacity="0.9"/>
<circle cx="367.5" cy="105.0" r="0.85" fill="#fff" fill-opacity="0.9"/>
<circle cx="368.0" cy="116.2" r="0.85" fill="#fff" fill-opacity="0.9"/>
<circle cx="367.6" cy="114.9" r="0.85" fill="#fff" fill-opacity="0.9"/>
<circle cx="378.8" cy="120.2" r="0.85" fill="#fff" fill-opacity="0.9"/>
<circle cx="375.7" cy="102.1" r="0.85" fill="#fff" fill-opacity="0.9"/>
<circle cx="369.3" cy="95.8" r="0.85" fill="#fff" fill-opacity="0.9"/>
<circle cx="358.8" cy="102.0" r="0.85" fill="#fff" fill-opacity="0.9"/>
<circle cx="366.4" cy="103.8" r="0.85" fill="#fff" fill-opacity="0.9"/>
<circle cx="360.9" cy="113.2" r="0.85" fill="#fff" fill-opacity="0.9"/>
<circle cx="358.2" cy="105.6" r="0.85" fill="#fff" fill-opacity="0.9"/>
<circle cx="368.7" cy="113.4" r="0.85" fill="#fff" fill-opacity="0.9"/>
<circle cx="374.0" cy="113.1" r="0.85" fill="#fff" fill-opacity="0.9"/>
<circle cx="372.7" cy="96.4" r="0.85" fill="#fff" fill-opacity="0.9"/>
<circle cx="376.8" cy="121.2" r="0.85" fill="#fff" fill-opacity="0.9"/>
<circle cx="364.2" cy="89.3" r="0.85" fill="#fff" fill-opacity="0.9"/>
<circle cx="364.7" cy="110.3" r="0.85" fill="#fff" fill-opacity="0.9"/>
<circle cx="356.4" cy="92.1" r="0.85" fill="#fff" fill-opacity="0.9"/>
<circle cx="363.1" cy="109.5" r="0.85" fill="#fff" fill-opacity="0.9"/>
<circle cx="359.7" cy="92.2" r="0.85" fill="#fff" fill-opacity="0.9"/>
<circle cx="357.0" cy="89.2" r="0.85" fill="#fff" fill-opacity="0.9"/>
<circle cx="356.2" cy="98.0" r="0.85" fill="#fff" fill-opacity="0.9"/>
<circle cx="366.1" cy="93.0" r="0.85" fill="#fff" fill-opacity="0.9"/>
<circle cx="365.4" cy="102.7" r="0.85" fill="#fff" fill-opacity="0.9"/>
<circle cx="354.6" cy="92.4" r="0.85" fill="#fff" fill-opacity="0.9"/>
<circle cx="361.3" cy="102.2" r="0.85" fill="#fff" fill-opacity="0.9"/>
<circle cx="361.3" cy="112.2" r="0.85" fill="#fff" fill-opacity="0.9"/>
<circle cx="362.5" cy="91.8" r="0.85" fill="#fff" fill-opacity="0.9"/>
<circle cx="377.7" cy="107.8" r="0.85" fill="#fff" fill-opacity="0.9"/>
<circle cx="373.3" cy="99.5" r="0.85" fill="#fff" fill-opacity="0.9"/>
<circle cx="370.2" cy="121.0" r="0.85" fill="#fff" fill-opacity="0.9"/>
<circle cx="362.9" cy="102.4" r="0.85" fill="#fff" fill-opacity="0.9"/>
<circle cx="359.5" cy="107.1" r="0.85" fill="#fff" fill-opacity="0.9"/>
<circle cx="371.2" cy="113.9" r="0.85" fill="#fff" fill-opacity="0.9"/>
<circle cx="375.3" cy="108.4" r="0.85" fill="#fff" fill-opacity="0.9"/>
<circle cx="371.7" cy="98.9" r="0.85" fill="#fff" fill-opacity="0.9"/>
<circle cx="362.9" cy="92.9" r="0.85" fill="#fff" fill-opacity="0.9"/>
<circle cx="360.3" cy="104.2" r="0.85" fill="#fff" fill-opacity="0.9"/>
<circle cx="365.9" cy="99.8" r="0.85" fill="#fff" fill-opacity="0.9"/>
<circle cx="370.5" cy="104.1" r="0.85" fill="#fff" fill-opacity="0.9"/>
<circle cx="360.6" cy="100.7" r="0.85" fill="#fff" fill-opacity="0.9"/>
<circle cx="369.5" cy="115.9" r="0.85" fill="#fff" fill-opacity="0.9"/>
<circle cx="358.3" cy="100.1" r="0.85" fill="#fff" fill-opacity="0.9"/>
<circle cx="362.4" cy="99.8" r="0.85" fill="#fff" fill-opacity="0.9"/>
<circle cx="358.8" cy="98.6" r="0.85" fill="#fff" fill-opacity="0.9"/>
<circle cx="356.2" cy="88.3" r="0.85" fill="#fff" fill-opacity="0.9"/>
<circle cx="357.3" cy="88.2" r="0.85" fill="#fff" fill-opacity="0.9"/>
<circle cx="373.0" cy="120.6" r="0.85" fill="#fff" fill-opacity="0.9"/>
<circle cx="374.1" cy="108.7" r="0.85" fill="#fff" fill-opacity="0.9"/>
<circle cx="351.8" cy="90.7" r="0.85" fill="#fff" fill-opacity="0.9"/>
<circle cx="355.2" cy="92.9" r="0.85" fill="#fff" fill-opacity="0.9"/>
<circle cx="369.5" cy="111.6" r="0.85" fill="#fff" fill-opacity="0.9"/>
<circle cx="362.5" cy="95.6" r="0.85" fill="#fff" fill-opacity="0.9"/>
<circle cx="355.6" cy="92.8" r="0.85" fill="#fff" fill-opacity="0.9"/>
<circle cx="354.9" cy="99.3" r="0.85" fill="#fff" fill-opacity="0.9"/>
<circle cx="367.0" cy="111.9" r="0.85" fill="#fff" fill-opacity="0.9"/>
<circle cx="375.3" cy="107.9" r="0.85" fill="#fff" fill-opacity="0.9"/>
<circle cx="369.2" cy="98.8" r="0.85" fill="#fff" fill-opacity="0.9"/>
<circle cx="377.5" cy="120.8" r="0.85" fill="#fff" fill-opacity="0.9"/>
<circle cx="367.9" cy="91.4" r="0.85" fill="#fff" fill-opacity="0.9"/>
<circle cx="355.6" cy="100.6" r="0.85" fill="#fff" fill-opacity="0.9"/>
<circle cx="375.7" cy="115.9" r="0.85" fill="#fff" fill-opacity="0.9"/>
<circle cx="366.5" cy="86.2" r="0.85" fill="#fff" fill-opacity="0.9"/>
<circle cx="375.5" cy="101.7" r="0.85" fill="#fff" fill-opacity="0.9"/>
<circle cx="371.4" cy="107.7" r="0.85" fill="#fff" fill-opacity="0.9"/>
<circle cx="373.3" cy="101.5" r="0.85" fill="#fff" fill-opacity="0.9"/>
<circle cx="360.1" cy="100.3" r="0.85" fill="#fff" fill-opacity="0.9"/>
<circle cx="375.4" cy="115.9" r="0.85" fill="#fff" fill-opacity="0.9"/>
<circle cx="372.0" cy="98.1" r="0.85" fill="#fff" fill-opacity="0.9"/>
<circle cx="369.5" cy="92.0" r="0.85" fill="#fff" fill-opacity="0.9"/>
<circle cx="374.4" cy="107.8" r="0.85" fill="#fff" fill-opacity="0.9"/>
<circle cx="379.0" cy="108.3" r="0.85" fill="#fff" fill-opacity="0.9"/>
<circle cx="353.3" cy="96.5" r="0.85" fill="#fff" fill-opacity="0.9"/>
<circle cx="364.1" cy="113.6" r="0.85" fill="#fff" fill-opacity="0.9"/>
<circle cx="365.8" cy="113.4" r="0.85" fill="#fff" fill-opacity="0.9"/>
<circle cx="358.9" cy="100.1" r="0.85" fill="#fff" fill-opacity="0.9"/>
<circle cx="379.4" cy="121.8" r="0.85" fill="#fff" fill-opacity="0.9"/>
<circle cx="368.3" cy="116.7" r="0.85" fill="#fff" fill-opacity="0.9"/>
<circle cx="343.7" cy="138.2" r="0.85" fill="#fff" fill-opacity="0.9"/>
<circle cx="362.2" cy="162.0" r="0.85" fill="#fff" fill-opacity="0.9"/>
<circle cx="348.5" cy="141.4" r="0.85" fill="#fff" fill-opacity="0.9"/>
<circle cx="359.1" cy="152.3" r="0.85" fill="#fff" fill-opacity="0.9"/>
<circle cx="364.6" cy="158.8" r="0.85" fill="#fff" fill-opacity="0.9"/>
<circle cx="355.6" cy="156.6" r="0.85" fill="#fff" fill-opacity="0.9"/>
<circle cx="355.7" cy="149.5" r="0.85" fill="#fff" fill-opacity="0.9"/>
<circle cx="344.8" cy="135.2" r="0.85" fill="#fff" fill-opacity="0.9"/>
<circle cx="348.2" cy="138.9" r="0.85" fill="#fff" fill-opacity="0.9"/>
<circle cx="337.0" cy="133.6" r="0.85" fill="#fff" fill-opacity="0.9"/>
<circle cx="355.1" cy="154.3" r="0.85" fill="#fff" fill-opacity="0.9"/>
<circle cx="365.1" cy="165.7" r="0.85" fill="#fff" fill-opacity="0.9"/>
<circle cx="355.5" cy="155.4" r="0.85" fill="#fff" fill-opacity="0.9"/>
<circle cx="336.9" cy="135.6" r="0.85" fill="#fff" fill-opacity="0.9"/>
<circle cx="353.3" cy="153.2" r="0.85" fill="#fff" fill-opacity="0.9"/>
<circle cx="350.5" cy="142.3" r="0.85" fill="#fff" fill-opacity="0.9"/>
<circle cx="334.5" cy="134.9" r="0.85" fill="#fff" fill-opacity="0.9"/>
<circle cx="350.9" cy="144.3" r="0.85" fill="#fff" fill-opacity="0.9"/>
<circle cx="338.4" cy="132.4" r="0.85" fill="#fff" fill-opacity="0.9"/>
<circle cx="347.6" cy="143.3" r="0.85" fill="#fff" fill-opacity="0.9"/>
<circle cx="331.7" cy="132.0" r="0.85" fill="#fff" fill-opacity="0.9"/>
<circle cx="335.5" cy="130.7" r="0.85" fill="#fff" fill-opacity="0.9"/>
<circle cx="348.8" cy="141.4" r="0.85" fill="#fff" fill-opacity="0.9"/>
<circle cx="344.5" cy="136.3" r="0.85" fill="#fff" fill-opacity="0.9"/>
<circle cx="335.1" cy="131.6" r="0.85" fill="#fff" fill-opacity="0.9"/>
<circle cx="348.6" cy="147.1" r="0.85" fill="#fff" fill-opacity="0.9"/>
<circle cx="356.2" cy="150.4" r="0.85" fill="#fff" fill-opacity="0.9"/>
<circle cx="356.9" cy="158.6" r="0.85" fill="#fff" fill-opacity="0.9"/>
<circle cx="359.7" cy="161.0" r="0.85" fill="#fff" fill-opacity="0.9"/>
<circle cx="349.2" cy="146.9" r="0.85" fill="#fff" fill-opacity="0.9"/>
<circle cx="342.2" cy="142.8" r="0.85" fill="#fff" fill-opacity="0.9"/>
<circle cx="348.6" cy="147.6" r="0.85" fill="#fff" fill-opacity="0.9"/>
<circle cx="356.4" cy="157.9" r="0.85" fill="#fff" fill-opacity="0.9"/>
<circle cx="343.6" cy="139.7" r="0.85" fill="#fff" fill-opacity="0.9"/>
<circle cx="346.6" cy="142.2" r="0.85" fill="#fff" fill-opacity="0.9"/>
<circle cx="358.4" cy="156.1" r="0.85" fill="#fff" fill-opacity="0.9"/>
<circle cx="337.1" cy="137.7" r="0.85" fill="#fff" fill-opacity="0.9"/>
<circle cx="359.6" cy="153.2" r="0.85" fill="#fff" fill-opacity="0.9"/>
<circle cx="355.4" cy="152.5" r="0.85" fill="#fff" fill-opacity="0.9"/>
<circle cx="343.4" cy="139.0" r="0.85" fill="#fff" fill-opacity="0.9"/>
<circle cx="363.9" cy="160.4" r="0.85" fill="#fff" fill-opacity="0.9"/>
<circle cx="345.4" cy="140.6" r="0.85" fill="#fff" fill-opacity="0.9"/>
<circle cx="365.0" cy="160.6" r="0.85" fill="#fff" fill-opacity="0.9"/>
<circle cx="344.2" cy="143.0" r="0.85" fill="#fff" fill-opacity="0.9"/>
<circle cx="355.5" cy="152.1" r="0.85" fill="#fff" fill-opacity="0.9"/>
<circle cx="336.3" cy="129.8" r="0.85" fill="#fff" fill-opacity="0.9"/>
<circle cx="355.3" cy="151.6" r="0.85" fill="#fff" fill-opacity="0.9"/>
<circle cx="340.5" cy="136.4" r="0.85" fill="#fff" fill-opacity="0.9"/>
<circle cx="362.4" cy="162.6" r="0.85" fill="#fff" fill-opacity="0.9"/>
<circle cx="354.1" cy="151.3" r="0.85" fill="#fff" fill-opacity="0.9"/>
<circle cx="345.2" cy="142.4" r="0.85" fill="#fff" fill-opacity="0.9"/>
<circle cx="351.9" cy="143.0" r="0.85" fill="#fff" fill-opacity="0.9"/>
<circle cx="343.8" cy="137.4" r="0.85" fill="#fff" fill-opacity="0.9"/>
<circle cx="348.3" cy="142.8" r="0.85" fill="#fff" fill-opacity="0.9"/>
<circle cx="354.6" cy="148.7" r="0.85" fill="#fff" fill-opacity="0.9"/>
<circle cx="341.8" cy="141.2" r="0.85" fill="#fff" fill-opacity="0.9"/>
<circle cx="343.1" cy="143.9" r="0.85" fill="#fff" fill-opacity="0.9"/>
<circle cx="344.8" cy="137.6" r="0.85" fill="#fff" fill-opacity="0.9"/>
<circle cx="355.6" cy="154.0" r="0.85" fill="#fff" fill-opacity="0.9"/>
<circle cx="348.4" cy="146.5" r="0.85" fill="#fff" fill-opacity="0.9"/>
<circle cx="336.7" cy="135.4" r="0.85" fill="#fff" fill-opacity="0.9"/>
<circle cx="354.2" cy="154.7" r="0.85" fill="#fff" fill-opacity="0.9"/>
<circle cx="361.4" cy="154.5" r="0.85" fill="#fff" fill-opacity="0.9"/>
<circle cx="333.7" cy="134.9" r="0.85" fill="#fff" fill-opacity="0.9"/>
<circle cx="340.4" cy="139.3" r="0.85" fill="#fff" fill-opacity="0.9"/>
<circle cx="364.9" cy="162.5" r="0.85" fill="#fff" fill-opacity="0.9"/>
<circle cx="360.6" cy="156.1" r="0.85" fill="#fff" fill-opacity="0.9"/>
<circle cx="337.9" cy="132.4" r="0.85" fill="#fff" fill-opacity="0.9"/>
<circle cx="358.0" cy="159.8" r="0.85" fill="#fff" fill-opacity="0.9"/>
<circle cx="344.4" cy="137.3" r="0.85" fill="#fff" fill-opacity="0.9"/>
<circle cx="358.4" cy="156.6" r="0.85" fill="#fff" fill-opacity="0.9"/>
<circle cx="357.6" cy="153.3" r="0.85" fill="#fff" fill-opacity="0.9"/>
<circle cx="347.4" cy="147.8" r="0.85" fill="#fff" fill-opacity="0.9"/>
<circle cx="347.8" cy="142.9" r="0.85" fill="#fff" fill-opacity="0.9"/>
<circle cx="352.5" cy="152.2" r="0.85" fill="#fff" fill-opacity="0.9"/>
<path d="M316.5,82.0 C317.5,79.1 318.6,79.2 321.0,77.5 C323.4,75.8 327.0,73.2 331.0,72.0 C335.0,70.8 340.5,70.8 345.0,70.5 C349.5,70.2 354.5,70.2 358.0,70.5 C361.5,70.8 364.5,71.2 366.0,72.5 C367.5,73.8 367.3,76.1 367.0,78.0 C366.7,79.9 365.8,82.0 364.0,84.0 C362.2,86.0 359.0,88.0 356.0,90.0 C353.0,92.0 349.5,94.2 346.0,96.0 C342.5,97.8 338.5,99.0 335.0,101.0 C331.5,103.0 328.2,106.0 325.0,108.0 C321.8,110.0 317.7,113.5 316.0,113.0 C314.3,112.5 314.8,108.0 314.6,105.0 C314.4,102.0 314.5,98.8 314.8,95.0 C315.1,91.2 315.5,84.9 316.5,82.0Z" fill="#E59016" fill-opacity="0.95" />
<circle cx="341.7" cy="72.5" r="0.78" fill="#E59016" fill-opacity="0.9"/>
<circle cx="327.9" cy="71.2" r="0.78" fill="#E59016" fill-opacity="0.9"/>
<circle cx="364.2" cy="81.8" r="0.78" fill="#E59016" fill-opacity="0.9"/>
<circle cx="323.8" cy="78.9" r="0.78" fill="#E59016" fill-opacity="0.9"/>
<circle cx="367.0" cy="72.8" r="0.78" fill="#E59016" fill-opacity="0.9"/>
<circle cx="332.0" cy="69.6" r="0.78" fill="#E59016" fill-opacity="0.9"/>
<circle cx="336.4" cy="71.0" r="0.78" fill="#E59016" fill-opacity="0.9"/>
<circle cx="327.0" cy="82.6" r="0.78" fill="#E59016" fill-opacity="0.9"/>
<circle cx="352.1" cy="69.4" r="0.78" fill="#E59016" fill-opacity="0.9"/>
<circle cx="326.8" cy="76.6" r="0.78" fill="#E59016" fill-opacity="0.9"/>
<circle cx="360.7" cy="70.2" r="0.78" fill="#E59016" fill-opacity="0.9"/>
<circle cx="339.1" cy="72.0" r="0.78" fill="#E59016" fill-opacity="0.9"/>
<circle cx="331.4" cy="73.0" r="0.78" fill="#E59016" fill-opacity="0.9"/>
<circle cx="362.3" cy="71.1" r="0.78" fill="#E59016" fill-opacity="0.9"/>
<circle cx="317.6" cy="82.0" r="0.78" fill="#E59016" fill-opacity="0.9"/>
<circle cx="323.6" cy="76.1" r="0.78" fill="#E59016" fill-opacity="0.9"/>
<circle cx="353.5" cy="86.0" r="0.78" fill="#E59016" fill-opacity="0.9"/>
<circle cx="366.7" cy="78.8" r="0.78" fill="#E59016" fill-opacity="0.9"/>
<circle cx="365.4" cy="77.0" r="0.78" fill="#E59016" fill-opacity="0.9"/>
<circle cx="321.1" cy="77.8" r="0.78" fill="#E59016" fill-opacity="0.9"/>
<circle cx="366.9" cy="80.0" r="0.78" fill="#E59016" fill-opacity="0.9"/>
<circle cx="359.7" cy="69.9" r="0.78" fill="#E59016" fill-opacity="0.9"/>
<circle cx="330.6" cy="81.9" r="0.78" fill="#E59016" fill-opacity="0.9"/>
<circle cx="352.2" cy="81.2" r="0.78" fill="#E59016" fill-opacity="0.9"/>
<circle cx="367.2" cy="79.5" r="0.78" fill="#E59016" fill-opacity="0.9"/>
<circle cx="357.3" cy="70.5" r="0.78" fill="#E59016" fill-opacity="0.9"/>
<circle cx="366.8" cy="77.5" r="0.78" fill="#E59016" fill-opacity="0.9"/>
<circle cx="361.5" cy="70.1" r="0.78" fill="#E59016" fill-opacity="0.9"/>
<circle cx="326.1" cy="81.5" r="0.78" fill="#E59016" fill-opacity="0.9"/>
<circle cx="346.8" cy="70.6" r="0.78" fill="#E59016" fill-opacity="0.9"/>
<circle cx="357.2" cy="70.9" r="0.78" fill="#E59016" fill-opacity="0.9"/>
<circle cx="350.6" cy="71.8" r="0.78" fill="#E59016" fill-opacity="0.9"/>
<circle cx="357.7" cy="72.6" r="0.78" fill="#E59016" fill-opacity="0.9"/>
<circle cx="332.6" cy="71.4" r="0.78" fill="#E59016" fill-opacity="0.9"/>
<circle cx="358.0" cy="69.4" r="0.78" fill="#E59016" fill-opacity="0.9"/>
<circle cx="338.3" cy="69.6" r="0.78" fill="#E59016" fill-opacity="0.9"/>
<circle cx="320.8" cy="77.2" r="0.78" fill="#E59016" fill-opacity="0.9"/>
<circle cx="345.0" cy="83.6" r="0.78" fill="#E59016" fill-opacity="0.9"/>
<circle cx="347.8" cy="68.7" r="0.78" fill="#E59016" fill-opacity="0.9"/>
<circle cx="363.3" cy="80.3" r="0.78" fill="#E59016" fill-opacity="0.9"/>
<path d="M315.2,104.0 C317.5,100.3 325.5,100.8 330.0,100.0 C334.5,99.2 340.7,97.7 342.0,99.0 C343.3,100.3 340.7,105.2 338.0,108.0 C335.3,110.8 329.7,113.7 326.0,116.0 C322.3,118.3 317.8,124.0 316.0,122.0 C314.2,120.0 312.9,107.7 315.2,104.0Z" fill="#EA8040" fill-opacity="0.5" />
<circle cx="340.0" cy="28.6" r="0.78" fill="#3EA8DF" fill-opacity="0.9"/>
<circle cx="362.0" cy="51.1" r="0.78" fill="#3EA8DF" fill-opacity="0.9"/>
<circle cx="346.9" cy="64.0" r="0.78" fill="#3EA8DF" fill-opacity="0.9"/>
<circle cx="359.6" cy="63.5" r="0.78" fill="#3EA8DF" fill-opacity="0.9"/>
<circle cx="336.5" cy="59.6" r="0.78" fill="#3EA8DF" fill-opacity="0.9"/>
<circle cx="352.7" cy="62.0" r="0.78" fill="#3EA8DF" fill-opacity="0.9"/>
<circle cx="356.7" cy="41.3" r="0.78" fill="#3EA8DF" fill-opacity="0.9"/>
<circle cx="348.9" cy="26.5" r="0.78" fill="#3EA8DF" fill-opacity="0.9"/>
<circle cx="353.6" cy="29.8" r="0.78" fill="#3EA8DF" fill-opacity="0.9"/>
<circle cx="352.4" cy="33.4" r="0.78" fill="#3EA8DF" fill-opacity="0.9"/>
<circle cx="353.8" cy="28.7" r="0.78" fill="#3EA8DF" fill-opacity="0.9"/>
<circle cx="359.6" cy="64.2" r="0.78" fill="#3EA8DF" fill-opacity="0.9"/>
<circle cx="348.2" cy="27.1" r="0.78" fill="#3EA8DF" fill-opacity="0.9"/>
<circle cx="337.9" cy="59.9" r="0.78" fill="#3EA8DF" fill-opacity="0.9"/>
<circle cx="337.3" cy="59.4" r="0.78" fill="#3EA8DF" fill-opacity="0.9"/>
<circle cx="360.0" cy="63.1" r="0.78" fill="#3EA8DF" fill-opacity="0.9"/>
<circle cx="347.4" cy="24.1" r="0.78" fill="#3EA8DF" fill-opacity="0.9"/>
<circle cx="360.0" cy="61.4" r="0.78" fill="#3EA8DF" fill-opacity="0.9"/>
<circle cx="337.1" cy="37.2" r="0.78" fill="#3EA8DF" fill-opacity="0.9"/>
<circle cx="337.4" cy="35.3" r="0.78" fill="#3EA8DF" fill-opacity="0.9"/>
<circle cx="364.5" cy="56.6" r="0.78" fill="#3EA8DF" fill-opacity="0.9"/>
<circle cx="364.0" cy="59.8" r="0.78" fill="#3EA8DF" fill-opacity="0.9"/>
<circle cx="362.6" cy="49.7" r="0.78" fill="#3EA8DF" fill-opacity="0.9"/>
<circle cx="338.0" cy="34.9" r="0.78" fill="#3EA8DF" fill-opacity="0.9"/>
<circle cx="347.0" cy="63.7" r="0.78" fill="#3EA8DF" fill-opacity="0.9"/>
<circle cx="335.4" cy="54.0" r="0.78" fill="#3EA8DF" fill-opacity="0.9"/>
<circle cx="353.5" cy="35.1" r="0.78" fill="#3EA8DF" fill-opacity="0.9"/>
<circle cx="339.0" cy="63.8" r="0.78" fill="#3EA8DF" fill-opacity="0.9"/>
<circle cx="340.2" cy="63.8" r="0.78" fill="#3EA8DF" fill-opacity="0.9"/>
<circle cx="340.3" cy="28.3" r="0.78" fill="#3EA8DF" fill-opacity="0.9"/>
<circle cx="343.2" cy="27.3" r="0.78" fill="#3EA8DF" fill-opacity="0.9"/>
<circle cx="360.6" cy="41.3" r="0.78" fill="#3EA8DF" fill-opacity="0.9"/>
<circle cx="337.6" cy="56.8" r="0.78" fill="#3EA8DF" fill-opacity="0.9"/>
<circle cx="355.9" cy="32.5" r="0.78" fill="#3EA8DF" fill-opacity="0.9"/>
<circle cx="358.5" cy="62.3" r="0.78" fill="#3EA8DF" fill-opacity="0.9"/>
<circle cx="343.8" cy="63.7" r="0.78" fill="#3EA8DF" fill-opacity="0.9"/>
<circle cx="341.1" cy="30.3" r="0.78" fill="#3EA8DF" fill-opacity="0.9"/>
<circle cx="342.4" cy="26.5" r="0.78" fill="#3EA8DF" fill-opacity="0.9"/>
<circle cx="336.1" cy="38.2" r="0.78" fill="#3EA8DF" fill-opacity="0.9"/>
<circle cx="349.1" cy="64.6" r="0.78" fill="#3EA8DF" fill-opacity="0.9"/>
<circle cx="364.8" cy="51.6" r="0.78" fill="#3EA8DF" fill-opacity="0.9"/>
<circle cx="339.1" cy="63.4" r="0.78" fill="#3EA8DF" fill-opacity="0.9"/>
<circle cx="348.6" cy="24.1" r="0.78" fill="#3EA8DF" fill-opacity="0.9"/>
<circle cx="365.7" cy="56.3" r="0.78" fill="#3EA8DF" fill-opacity="0.9"/>
<circle cx="346.5" cy="26.4" r="0.78" fill="#3EA8DF" fill-opacity="0.9"/>
<circle cx="361.7" cy="57.5" r="0.78" fill="#3EA8DF" fill-opacity="0.9"/>
<circle cx="354.2" cy="38.8" r="0.78" fill="#3EA8DF" fill-opacity="0.9"/>
<circle cx="345.6" cy="23.7" r="0.78" fill="#3EA8DF" fill-opacity="0.9"/>
<circle cx="341.4" cy="63.5" r="0.78" fill="#3EA8DF" fill-opacity="0.9"/>
<circle cx="345.2" cy="65.6" r="0.78" fill="#3EA8DF" fill-opacity="0.9"/>
<path d="M347.1,24.5 C348.6,24.0 350.1,24.2 351.1,25.0 C352.1,25.8 352.6,27.3 353.1,29.0 C353.6,30.7 353.6,33.1 354.1,35.1 C354.6,37.1 355.1,39.4 356.1,41.1 C357.1,42.8 358.9,43.8 360.1,45.1 C361.3,46.4 362.4,47.4 363.1,49.1 C363.8,50.8 364.2,53.2 364.2,55.1 C364.2,57.0 364.0,59.0 363.1,60.2 C362.2,61.4 360.6,62.0 359.1,62.2 C357.6,62.4 355.8,60.9 354.1,61.2 C352.4,61.5 350.9,63.7 349.1,64.2 C347.3,64.7 345.0,64.7 343.1,64.2 C341.2,63.7 339.2,62.5 338.0,61.2 C336.8,59.9 336.3,58.4 336.0,56.2 C335.7,54.0 336.0,50.8 336.0,48.1 C336.0,45.4 335.7,42.6 336.0,40.1 C336.3,37.6 337.0,35.1 338.0,33.1 C339.0,31.1 340.6,29.4 342.1,28.0 C343.6,26.6 345.6,25.0 347.1,24.5Z" fill="#3EA8DF" fill-opacity="1.0" />
<circle cx="360.0" cy="56.3" r="0.75" fill="#fff" fill-opacity="0.9"/>
<circle cx="353.7" cy="52.4" r="0.75" fill="#fff" fill-opacity="0.9"/>
<circle cx="351.7" cy="49.9" r="0.75" fill="#fff" fill-opacity="0.9"/>
<circle cx="356.0" cy="53.6" r="0.75" fill="#fff" fill-opacity="0.9"/>
<circle cx="352.6" cy="49.7" r="0.75" fill="#fff" fill-opacity="0.9"/>
<circle cx="355.0" cy="53.9" r="0.75" fill="#fff" fill-opacity="0.9"/>
<circle cx="355.3" cy="52.9" r="0.75" fill="#fff" fill-opacity="0.9"/>
<circle cx="356.9" cy="60.6" r="0.75" fill="#fff" fill-opacity="0.9"/>
<circle cx="350.6" cy="57.6" r="0.75" fill="#fff" fill-opacity="0.9"/>
<circle cx="358.5" cy="57.0" r="0.75" fill="#fff" fill-opacity="0.9"/>
<circle cx="351.9" cy="48.6" r="0.75" fill="#fff" fill-opacity="0.9"/>
<circle cx="358.3" cy="48.2" r="0.75" fill="#fff" fill-opacity="0.9"/>
<circle cx="353.7" cy="57.4" r="0.75" fill="#fff" fill-opacity="0.9"/>
<circle cx="360.7" cy="58.8" r="0.75" fill="#fff" fill-opacity="0.9"/>
<circle cx="349.8" cy="52.6" r="0.75" fill="#fff" fill-opacity="0.9"/>
<circle cx="361.4" cy="57.6" r="0.75" fill="#fff" fill-opacity="0.9"/>
<circle cx="352.2" cy="47.4" r="0.75" fill="#fff" fill-opacity="0.9"/>
<circle cx="353.8" cy="55.7" r="0.75" fill="#fff" fill-opacity="0.9"/>
<circle cx="355.0" cy="48.8" r="0.75" fill="#fff" fill-opacity="0.9"/>
<circle cx="360.8" cy="59.5" r="0.75" fill="#fff" fill-opacity="0.9"/>
<circle cx="361.0" cy="53.3" r="0.75" fill="#fff" fill-opacity="0.9"/>
<circle cx="355.9" cy="51.4" r="0.75" fill="#fff" fill-opacity="0.9"/>
<circle cx="350.4" cy="51.4" r="0.75" fill="#fff" fill-opacity="0.9"/>
<circle cx="353.4" cy="61.3" r="0.75" fill="#fff" fill-opacity="0.9"/>
<circle cx="357.8" cy="52.0" r="0.75" fill="#fff" fill-opacity="0.9"/>
<circle cx="350.4" cy="56.2" r="0.75" fill="#fff" fill-opacity="0.9"/>
<circle cx="356.0" cy="52.3" r="0.75" fill="#fff" fill-opacity="0.9"/>
<circle cx="359.2" cy="53.0" r="0.75" fill="#fff" fill-opacity="0.9"/>
<circle cx="359.7" cy="59.4" r="0.75" fill="#fff" fill-opacity="0.9"/>
<circle cx="353.3" cy="55.3" r="0.75" fill="#fff" fill-opacity="0.9"/>
<circle cx="349.4" cy="67.2" r="0.75" fill="#3EA8DF" fill-opacity="0.9"/>
<circle cx="356.0" cy="60.0" r="0.75" fill="#3EA8DF" fill-opacity="0.9"/>
<circle cx="350.8" cy="70.8" r="0.75" fill="#3EA8DF" fill-opacity="0.9"/>
<circle cx="347.5" cy="65.6" r="0.75" fill="#3EA8DF" fill-opacity="0.9"/>
<circle cx="340.8" cy="67.5" r="0.75" fill="#3EA8DF" fill-opacity="0.9"/>
<circle cx="354.3" cy="60.6" r="0.75" fill="#3EA8DF" fill-opacity="0.9"/>
<circle cx="346.3" cy="62.8" r="0.75" fill="#3EA8DF" fill-opacity="0.9"/>
<circle cx="360.3" cy="64.8" r="0.75" fill="#3EA8DF" fill-opacity="0.9"/>
<circle cx="362.0" cy="69.6" r="0.75" fill="#3EA8DF" fill-opacity="0.9"/>
<circle cx="355.8" cy="65.2" r="0.75" fill="#3EA8DF" fill-opacity="0.9"/>
<circle cx="361.8" cy="67.6" r="0.75" fill="#3EA8DF" fill-opacity="0.9"/>
<circle cx="353.7" cy="61.8" r="0.75" fill="#3EA8DF" fill-opacity="0.9"/>
<circle cx="357.8" cy="63.6" r="0.75" fill="#3EA8DF" fill-opacity="0.9"/>
<circle cx="362.4" cy="60.5" r="0.75" fill="#3EA8DF" fill-opacity="0.9"/>
<circle cx="345.8" cy="68.0" r="0.75" fill="#3EA8DF" fill-opacity="0.9"/>
<circle cx="342.0" cy="68.5" r="0.75" fill="#3EA8DF" fill-opacity="0.9"/>
<circle cx="356.9" cy="69.2" r="0.75" fill="#3EA8DF" fill-opacity="0.9"/>
<circle cx="344.6" cy="70.9" r="0.75" fill="#3EA8DF" fill-opacity="0.9"/>
<circle cx="342.4" cy="63.2" r="0.75" fill="#3EA8DF" fill-opacity="0.9"/>
<circle cx="357.8" cy="70.0" r="0.75" fill="#3EA8DF" fill-opacity="0.9"/>
<circle cx="358.1" cy="68.6" r="0.75" fill="#3EA8DF" fill-opacity="0.9"/>
<circle cx="364.4" cy="69.2" r="0.75" fill="#3EA8DF" fill-opacity="0.9"/>
<circle cx="354.6" cy="61.7" r="0.75" fill="#3EA8DF" fill-opacity="0.9"/>
<circle cx="359.7" cy="69.8" r="0.75" fill="#3EA8DF" fill-opacity="0.9"/>
<circle cx="340.7" cy="65.3" r="0.75" fill="#3EA8DF" fill-opacity="0.9"/>
<circle cx="361.9" cy="71.4" r="0.75" fill="#3EA8DF" fill-opacity="0.9"/>
<circle cx="342.1" cy="65.4" r="0.75" fill="#3EA8DF" fill-opacity="0.9"/>
<circle cx="360.8" cy="71.5" r="0.75" fill="#3EA8DF" fill-opacity="0.9"/>
<circle cx="345.8" cy="64.4" r="0.75" fill="#3EA8DF" fill-opacity="0.9"/>
<circle cx="352.3" cy="69.6" r="0.75" fill="#3EA8DF" fill-opacity="0.9"/>
<circle cx="339.4" cy="61.5" r="0.75" fill="#3EA8DF" fill-opacity="0.9"/>
<circle cx="360.6" cy="60.0" r="0.75" fill="#3EA8DF" fill-opacity="0.9"/>
<circle cx="360.6" cy="68.2" r="0.75" fill="#3EA8DF" fill-opacity="0.9"/>
<circle cx="358.2" cy="63.9" r="0.75" fill="#3EA8DF" fill-opacity="0.9"/>
<circle cx="339.9" cy="64.6" r="0.75" fill="#3EA8DF" fill-opacity="0.9"/>
<circle cx="363.1" cy="66.5" r="0.75" fill="#3EA8DF" fill-opacity="0.9"/>
<circle cx="339.1" cy="70.5" r="0.75" fill="#3EA8DF" fill-opacity="0.9"/>
<circle cx="361.0" cy="65.5" r="0.75" fill="#3EA8DF" fill-opacity="0.9"/>
<circle cx="358.3" cy="65.8" r="0.75" fill="#3EA8DF" fill-opacity="0.9"/>
<circle cx="360.6" cy="61.4" r="0.75" fill="#3EA8DF" fill-opacity="0.9"/>
<circle cx="362.0" cy="61.8" r="0.75" fill="#3EA8DF" fill-opacity="0.9"/>
<circle cx="346.3" cy="70.8" r="0.75" fill="#3EA8DF" fill-opacity="0.9"/>
<circle cx="339.5" cy="71.0" r="0.75" fill="#3EA8DF" fill-opacity="0.9"/>
<circle cx="345.0" cy="70.8" r="0.75" fill="#3EA8DF" fill-opacity="0.9"/>
<circle cx="342.9" cy="65.3" r="0.75" fill="#3EA8DF" fill-opacity="0.9"/>
<circle cx="352.1" cy="69.7" r="0.75" fill="#3EA8DF" fill-opacity="0.9"/>
<circle cx="364.4" cy="71.7" r="0.75" fill="#3EA8DF" fill-opacity="0.9"/>
<circle cx="341.5" cy="62.2" r="0.75" fill="#3EA8DF" fill-opacity="0.9"/>
<circle cx="357.1" cy="64.7" r="0.75" fill="#3EA8DF" fill-opacity="0.9"/>
<circle cx="341.9" cy="68.1" r="0.75" fill="#3EA8DF" fill-opacity="0.9"/>
<circle cx="347.0" cy="70.3" r="0.75" fill="#E59016" fill-opacity="0.9"/>
<circle cx="353.0" cy="64.7" r="0.75" fill="#E59016" fill-opacity="0.9"/>
<circle cx="353.4" cy="66.3" r="0.75" fill="#E59016" fill-opacity="0.9"/>
<circle cx="335.8" cy="69.3" r="0.75" fill="#E59016" fill-opacity="0.9"/>
<circle cx="330.8" cy="70.9" r="0.75" fill="#E59016" fill-opacity="0.9"/>
<circle cx="337.7" cy="65.8" r="0.75" fill="#E59016" fill-opacity="0.9"/>
<circle cx="330.2" cy="65.9" r="0.75" fill="#E59016" fill-opacity="0.9"/>
<circle cx="358.1" cy="71.3" r="0.75" fill="#E59016" fill-opacity="0.9"/>
<circle cx="355.8" cy="70.3" r="0.75" fill="#E59016" fill-opacity="0.9"/>
<circle cx="350.5" cy="67.0" r="0.75" fill="#E59016" fill-opacity="0.9"/>
<circle cx="333.5" cy="66.6" r="0.75" fill="#E59016" fill-opacity="0.9"/>
<circle cx="336.8" cy="64.9" r="0.75" fill="#E59016" fill-opacity="0.9"/>
<circle cx="365.4" cy="63.1" r="0.75" fill="#E59016" fill-opacity="0.9"/>
<circle cx="364.5" cy="66.6" r="0.75" fill="#E59016" fill-opacity="0.9"/>
<circle cx="334.8" cy="67.1" r="0.75" fill="#E59016" fill-opacity="0.9"/>
<circle cx="332.0" cy="71.5" r="0.75" fill="#E59016" fill-opacity="0.9"/>
<circle cx="353.8" cy="64.1" r="0.75" fill="#E59016" fill-opacity="0.9"/>
<circle cx="345.1" cy="64.8" r="0.75" fill="#E59016" fill-opacity="0.9"/>
<circle cx="352.3" cy="66.9" r="0.75" fill="#E59016" fill-opacity="0.9"/>
<circle cx="343.2" cy="67.1" r="0.75" fill="#E59016" fill-opacity="0.9"/>
<circle cx="343.8" cy="70.7" r="0.75" fill="#E59016" fill-opacity="0.9"/>
<circle cx="363.3" cy="63.6" r="0.75" fill="#E59016" fill-opacity="0.9"/>
<circle cx="345.9" cy="65.6" r="0.75" fill="#E59016" fill-opacity="0.9"/>
<circle cx="334.5" cy="66.9" r="0.75" fill="#E59016" fill-opacity="0.9"/>
<circle cx="346.9" cy="64.7" r="0.75" fill="#E59016" fill-opacity="0.9"/>
<circle cx="363.3" cy="70.2" r="0.75" fill="#E59016" fill-opacity="0.9"/>
<circle cx="341.5" cy="68.6" r="0.75" fill="#E59016" fill-opacity="0.9"/>
<circle cx="333.4" cy="64.1" r="0.75" fill="#E59016" fill-opacity="0.9"/>
<circle cx="332.4" cy="67.0" r="0.75" fill="#E59016" fill-opacity="0.9"/>
<circle cx="346.2" cy="67.5" r="0.75" fill="#E59016" fill-opacity="0.9"/>
<circle cx="345.0" cy="65.1" r="0.75" fill="#E59016" fill-opacity="0.9"/>
<circle cx="356.6" cy="68.8" r="0.75" fill="#E59016" fill-opacity="0.9"/>
<circle cx="349.4" cy="64.7" r="0.75" fill="#E59016" fill-opacity="0.9"/>
<circle cx="330.2" cy="70.9" r="0.75" fill="#E59016" fill-opacity="0.9"/>
<circle cx="361.8" cy="71.7" r="0.75" fill="#E59016" fill-opacity="0.9"/>
<circle cx="341.4" cy="46.0" r="0.75" fill="#9A8AD0" fill-opacity="0.9"/>
<circle cx="343.6" cy="48.1" r="0.75" fill="#9A8AD0" fill-opacity="0.9"/>
<circle cx="338.8" cy="39.8" r="0.75" fill="#9A8AD0" fill-opacity="0.9"/>
<circle cx="339.6" cy="40.3" r="0.75" fill="#9A8AD0" fill-opacity="0.9"/>
<circle cx="339.3" cy="38.1" r="0.75" fill="#9A8AD0" fill-opacity="0.9"/>
<circle cx="346.3" cy="37.2" r="0.75" fill="#9A8AD0" fill-opacity="0.9"/>
<circle cx="346.7" cy="49.4" r="0.75" fill="#9A8AD0" fill-opacity="0.9"/>
<circle cx="343.9" cy="45.3" r="0.75" fill="#9A8AD0" fill-opacity="0.9"/>
<circle cx="344.2" cy="34.3" r="0.75" fill="#9A8AD0" fill-opacity="0.9"/>
<circle cx="340.5" cy="42.5" r="0.75" fill="#9A8AD0" fill-opacity="0.9"/>
<circle cx="338.2" cy="47.7" r="0.75" fill="#9A8AD0" fill-opacity="0.9"/>
<circle cx="346.0" cy="36.9" r="0.75" fill="#9A8AD0" fill-opacity="0.9"/>
<path d="M379.0,55.0 C379.5,54.2 381.0,53.1 382.0,53.0 C383.0,52.9 384.7,53.6 385.0,54.5 C385.3,55.4 384.7,57.6 384.0,58.5 C383.3,59.4 381.9,60.1 381.0,60.0 C380.1,59.9 379.1,58.8 378.8,58.0 C378.5,57.2 378.5,55.8 379.0,55.0Z" fill="#E9707A" fill-opacity="0.9" />
<path d="M373.0,70.0 C373.8,68.6 376.2,67.5 378.0,67.5 C379.8,67.5 382.7,68.6 384.0,70.0 C385.3,71.4 386.2,74.2 386.0,76.0 C385.8,77.8 384.5,80.3 383.0,81.0 C381.5,81.7 378.7,80.8 377.0,80.0 C375.3,79.2 373.7,77.7 373.0,76.0 C372.3,74.3 372.2,71.4 373.0,70.0Z" fill="#E69A3A" fill-opacity="0.85" />
<circle cx="379.7" cy="74.9" r="0.75" fill="#E69A3A" fill-opacity="0.9"/>
<circle cx="385.8" cy="81.7" r="0.75" fill="#E69A3A" fill-opacity="0.9"/>
<circle cx="377.7" cy="66.4" r="0.75" fill="#E69A3A" fill-opacity="0.9"/>
<circle cx="387.9" cy="79.1" r="0.75" fill="#E69A3A" fill-opacity="0.9"/>
<circle cx="382.6" cy="78.3" r="0.75" fill="#E69A3A" fill-opacity="0.9"/>
<circle cx="371.7" cy="77.5" r="0.75" fill="#E69A3A" fill-opacity="0.9"/>
<circle cx="387.9" cy="71.6" r="0.75" fill="#E69A3A" fill-opacity="0.9"/>
<circle cx="373.7" cy="72.7" r="0.75" fill="#E69A3A" fill-opacity="0.9"/>
<circle cx="381.9" cy="78.3" r="0.75" fill="#E69A3A" fill-opacity="0.9"/>
<circle cx="378.2" cy="73.8" r="0.75" fill="#E69A3A" fill-opacity="0.9"/>
<circle cx="377.0" cy="70.1" r="0.75" fill="#E69A3A" fill-opacity="0.9"/>
<circle cx="375.6" cy="68.1" r="0.75" fill="#E69A3A" fill-opacity="0.9"/>
<circle cx="383.5" cy="79.7" r="0.75" fill="#E69A3A" fill-opacity="0.9"/>
<circle cx="386.9" cy="77.9" r="0.75" fill="#E69A3A" fill-opacity="0.9"/>
<circle cx="380.3" cy="77.4" r="0.75" fill="#E69A3A" fill-opacity="0.9"/>
<circle cx="374.3" cy="77.3" r="0.75" fill="#E69A3A" fill-opacity="0.9"/>
<circle cx="379.1" cy="83.8" r="0.75" fill="#E69A3A" fill-opacity="0.9"/>
<circle cx="375.9" cy="72.9" r="0.75" fill="#E69A3A" fill-opacity="0.9"/>
<circle cx="388.0" cy="79.2" r="0.75" fill="#E69A3A" fill-opacity="0.9"/>
<circle cx="370.7" cy="75.0" r="0.75" fill="#E69A3A" fill-opacity="0.9"/>
<circle cx="379.2" cy="77.9" r="0.75" fill="#E69A3A" fill-opacity="0.9"/>
<circle cx="384.6" cy="67.0" r="0.75" fill="#E69A3A" fill-opacity="0.9"/>
<circle cx="375.4" cy="67.4" r="0.75" fill="#E69A3A" fill-opacity="0.9"/>
<circle cx="373.9" cy="75.0" r="0.75" fill="#E69A3A" fill-opacity="0.9"/>
<circle cx="375.4" cy="82.2" r="0.75" fill="#E69A3A" fill-opacity="0.9"/>
<path d="M351.8,168.0 C352.6,166.3 355.8,167.0 358.0,167.0 C360.2,167.0 363.6,167.1 365.0,168.0 C366.4,168.9 366.7,170.9 366.5,172.5 C366.3,174.1 365.4,176.5 364.0,177.5 C362.6,178.5 359.8,178.7 358.0,178.6 C356.2,178.5 354.2,178.8 353.2,177.0 C352.2,175.2 351.0,169.7 351.8,168.0Z" fill="#E05AA6" fill-opacity="1.0" />
<path d="M400.0,143.0 C401.1,141.9 404.2,141.3 406.0,141.5 C407.8,141.7 409.8,142.6 411.0,144.0 C412.2,145.4 412.8,147.8 413.5,150.0 C414.2,152.2 414.5,154.7 415.0,157.0 C415.5,159.3 416.7,162.1 416.5,164.0 C416.3,165.9 415.2,168.0 414.0,168.5 C412.8,169.0 410.5,168.2 409.0,167.0 C407.5,165.8 406.2,163.2 405.0,161.0 C403.8,158.8 402.4,156.2 401.5,154.0 C400.6,151.8 399.8,149.8 399.5,148.0 C399.2,146.2 398.9,144.1 400.0,143.0Z" fill="#C476C2" fill-opacity="1.0" />
<circle cx="411.7" cy="167.8" r="0.78" fill="#C476C2" fill-opacity="0.9"/>
<circle cx="400.1" cy="147.3" r="0.78" fill="#C476C2" fill-opacity="0.9"/>
<circle cx="402.0" cy="155.6" r="0.78" fill="#C476C2" fill-opacity="0.9"/>
<circle cx="403.4" cy="159.0" r="0.78" fill="#C476C2" fill-opacity="0.9"/>
<circle cx="410.0" cy="143.1" r="0.78" fill="#C476C2" fill-opacity="0.9"/>
<circle cx="397.9" cy="146.5" r="0.78" fill="#C476C2" fill-opacity="0.9"/>
<circle cx="416.0" cy="160.0" r="0.78" fill="#C476C2" fill-opacity="0.9"/>
<circle cx="406.6" cy="160.3" r="0.78" fill="#C476C2" fill-opacity="0.9"/>
<circle cx="411.9" cy="146.8" r="0.78" fill="#C476C2" fill-opacity="0.9"/>
<circle cx="404.5" cy="161.4" r="0.78" fill="#C476C2" fill-opacity="0.9"/>
<circle cx="415.5" cy="160.4" r="0.78" fill="#C476C2" fill-opacity="0.9"/>
<circle cx="414.9" cy="165.1" r="0.78" fill="#C476C2" fill-opacity="0.9"/>
<circle cx="403.9" cy="141.0" r="0.78" fill="#C476C2" fill-opacity="0.9"/>
<circle cx="415.9" cy="166.9" r="0.78" fill="#C476C2" fill-opacity="0.9"/>
<circle cx="414.5" cy="157.5" r="0.78" fill="#C476C2" fill-opacity="0.9"/>
<circle cx="407.9" cy="160.9" r="0.78" fill="#C476C2" fill-opacity="0.9"/>
<circle cx="414.5" cy="167.4" r="0.78" fill="#C476C2" fill-opacity="0.9"/>
<circle cx="403.0" cy="140.8" r="0.78" fill="#C476C2" fill-opacity="0.9"/>
<circle cx="400.1" cy="148.1" r="0.78" fill="#C476C2" fill-opacity="0.9"/>
<circle cx="403.6" cy="159.6" r="0.78" fill="#C476C2" fill-opacity="0.9"/>
<circle cx="434.1" cy="136.5" r="0.78" fill="#24B5BF" fill-opacity="0.9"/>
<circle cx="496.5" cy="49.7" r="0.78" fill="#24B5BF" fill-opacity="0.9"/>
<circle cx="508.2" cy="80.1" r="0.78" fill="#24B5BF" fill-opacity="0.9"/>
<circle cx="451.4" cy="85.1" r="0.78" fill="#24B5BF" fill-opacity="0.9"/>
<circle cx="511.7" cy="96.5" r="0.78" fill="#24B5BF" fill-opacity="0.9"/>
<circle cx="489.3" cy="136.0" r="0.78" fill="#24B5BF" fill-opacity="0.9"/>
<circle cx="512.4" cy="106.3" r="0.78" fill="#24B5BF" fill-opacity="0.9"/>
<circle cx="504.4" cy="61.5" r="0.78" fill="#24B5BF" fill-opacity="0.9"/>
<circle cx="496.1" cy="127.7" r="0.78" fill="#24B5BF" fill-opacity="0.9"/>
<circle cx="484.1" cy="55.8" r="0.78" fill="#24B5BF" fill-opacity="0.9"/>
<circle cx="449.8" cy="84.2" r="0.78" fill="#24B5BF" fill-opacity="0.9"/>
<circle cx="458.7" cy="79.5" r="0.78" fill="#24B5BF" fill-opacity="0.9"/>
<circle cx="511.2" cy="107.5" r="0.78" fill="#24B5BF" fill-opacity="0.9"/>
<circle cx="460.1" cy="72.3" r="0.78" fill="#24B5BF" fill-opacity="0.9"/>
<circle cx="486.0" cy="56.6" r="0.78" fill="#24B5BF" fill-opacity="0.9"/>
<circle cx="446.2" cy="99.1" r="0.78" fill="#24B5BF" fill-opacity="0.9"/>
<circle cx="506.9" cy="119.3" r="0.78" fill="#24B5BF" fill-opacity="0.9"/>
<circle cx="477.6" cy="132.2" r="0.78" fill="#24B5BF" fill-opacity="0.9"/>
<circle cx="486.5" cy="133.5" r="0.78" fill="#24B5BF" fill-opacity="0.9"/>
<circle cx="510.8" cy="92.4" r="0.78" fill="#24B5BF" fill-opacity="0.9"/>
<circle cx="480.7" cy="57.0" r="0.78" fill="#24B5BF" fill-opacity="0.9"/>
<circle cx="508.7" cy="118.7" r="0.78" fill="#24B5BF" fill-opacity="0.9"/>
<circle cx="509.9" cy="108.0" r="0.78" fill="#24B5BF" fill-opacity="0.9"/>
<circle cx="476.2" cy="56.9" r="0.78" fill="#24B5BF" fill-opacity="0.9"/>
<circle cx="443.8" cy="100.2" r="0.78" fill="#24B5BF" fill-opacity="0.9"/>
<circle cx="501.9" cy="51.6" r="0.78" fill="#24B5BF" fill-opacity="0.9"/>
<circle cx="504.9" cy="64.2" r="0.78" fill="#24B5BF" fill-opacity="0.9"/>
<circle cx="462.6" cy="59.3" r="0.78" fill="#24B5BF" fill-opacity="0.9"/>
<circle cx="471.0" cy="135.7" r="0.78" fill="#24B5BF" fill-opacity="0.9"/>
<circle cx="436.9" cy="138.0" r="0.78" fill="#24B5BF" fill-opacity="0.9"/>
<circle cx="509.3" cy="110.7" r="0.78" fill="#24B5BF" fill-opacity="0.9"/>
<circle cx="483.0" cy="58.7" r="0.78" fill="#24B5BF" fill-opacity="0.9"/>
<circle cx="505.0" cy="67.2" r="0.78" fill="#24B5BF" fill-opacity="0.9"/>
<circle cx="511.0" cy="117.0" r="0.78" fill="#24B5BF" fill-opacity="0.9"/>
<circle cx="505.0" cy="61.0" r="0.78" fill="#24B5BF" fill-opacity="0.9"/>
<circle cx="473.5" cy="135.2" r="0.78" fill="#24B5BF" fill-opacity="0.9"/>
<circle cx="498.1" cy="47.2" r="0.78" fill="#24B5BF" fill-opacity="0.9"/>
<circle cx="445.7" cy="136.9" r="0.78" fill="#24B5BF" fill-opacity="0.9"/>
<circle cx="427.8" cy="123.8" r="0.78" fill="#24B5BF" fill-opacity="0.9"/>
<circle cx="510.7" cy="105.4" r="0.78" fill="#24B5BF" fill-opacity="0.9"/>
<circle cx="460.8" cy="71.1" r="0.78" fill="#24B5BF" fill-opacity="0.9"/>
<circle cx="459.0" cy="79.3" r="0.78" fill="#24B5BF" fill-opacity="0.9"/>
<circle cx="423.8" cy="129.2" r="0.78" fill="#24B5BF" fill-opacity="0.9"/>
<circle cx="468.2" cy="56.7" r="0.78" fill="#24B5BF" fill-opacity="0.9"/>
<circle cx="431.2" cy="119.8" r="0.78" fill="#24B5BF" fill-opacity="0.9"/>
<circle cx="511.5" cy="106.5" r="0.78" fill="#24B5BF" fill-opacity="0.9"/>
<circle cx="482.8" cy="55.7" r="0.78" fill="#24B5BF" fill-opacity="0.9"/>
<circle cx="436.8" cy="136.3" r="0.78" fill="#24B5BF" fill-opacity="0.9"/>
<circle cx="448.9" cy="137.2" r="0.78" fill="#24B5BF" fill-opacity="0.9"/>
<circle cx="433.6" cy="132.3" r="0.78" fill="#24B5BF" fill-opacity="0.9"/>
<circle cx="501.7" cy="51.4" r="0.78" fill="#24B5BF" fill-opacity="0.9"/>
<circle cx="508.4" cy="86.9" r="0.78" fill="#24B5BF" fill-opacity="0.9"/>
<circle cx="511.2" cy="76.7" r="0.78" fill="#24B5BF" fill-opacity="0.9"/>
<circle cx="500.7" cy="55.2" r="0.78" fill="#24B5BF" fill-opacity="0.9"/>
<circle cx="429.9" cy="119.7" r="0.78" fill="#24B5BF" fill-opacity="0.9"/>
<circle cx="511.5" cy="99.3" r="0.78" fill="#24B5BF" fill-opacity="0.9"/>
<circle cx="488.7" cy="134.1" r="0.78" fill="#24B5BF" fill-opacity="0.9"/>
<circle cx="512.2" cy="84.7" r="0.78" fill="#24B5BF" fill-opacity="0.9"/>
<circle cx="484.1" cy="55.9" r="0.78" fill="#24B5BF" fill-opacity="0.9"/>
<circle cx="456.9" cy="135.7" r="0.78" fill="#24B5BF" fill-opacity="0.9"/>
<circle cx="425.5" cy="124.3" r="0.78" fill="#24B5BF" fill-opacity="0.9"/>
<circle cx="501.1" cy="47.0" r="0.78" fill="#24B5BF" fill-opacity="0.9"/>
<circle cx="480.5" cy="59.0" r="0.78" fill="#24B5BF" fill-opacity="0.9"/>
<circle cx="459.2" cy="74.2" r="0.78" fill="#24B5BF" fill-opacity="0.9"/>
<circle cx="429.2" cy="132.2" r="0.78" fill="#24B5BF" fill-opacity="0.9"/>
<circle cx="499.3" cy="50.2" r="0.78" fill="#24B5BF" fill-opacity="0.9"/>
<circle cx="461.9" cy="67.6" r="0.78" fill="#24B5BF" fill-opacity="0.9"/>
<circle cx="444.1" cy="98.6" r="0.78" fill="#24B5BF" fill-opacity="0.9"/>
<circle cx="478.0" cy="135.3" r="0.78" fill="#24B5BF" fill-opacity="0.9"/>
<circle cx="490.9" cy="132.9" r="0.78" fill="#24B5BF" fill-opacity="0.9"/>
<circle cx="458.5" cy="77.6" r="0.78" fill="#24B5BF" fill-opacity="0.9"/>
<circle cx="507.5" cy="63.6" r="0.78" fill="#24B5BF" fill-opacity="0.9"/>
<circle cx="473.4" cy="53.9" r="0.78" fill="#24B5BF" fill-opacity="0.9"/>
<circle cx="451.4" cy="88.6" r="0.78" fill="#24B5BF" fill-opacity="0.9"/>
<circle cx="468.3" cy="57.7" r="0.78" fill="#24B5BF" fill-opacity="0.9"/>
<circle cx="477.1" cy="58.6" r="0.78" fill="#24B5BF" fill-opacity="0.9"/>
<circle cx="511.2" cy="107.8" r="0.78" fill="#24B5BF" fill-opacity="0.9"/>
<circle cx="478.4" cy="133.4" r="0.78" fill="#24B5BF" fill-opacity="0.9"/>
<circle cx="461.0" cy="77.4" r="0.78" fill="#24B5BF" fill-opacity="0.9"/>
<circle cx="455.0" cy="138.5" r="0.78" fill="#24B5BF" fill-opacity="0.9"/>
<circle cx="450.9" cy="82.3" r="0.78" fill="#24B5BF" fill-opacity="0.9"/>
<circle cx="462.4" cy="66.7" r="0.78" fill="#24B5BF" fill-opacity="0.9"/>
<circle cx="453.7" cy="136.8" r="0.78" fill="#24B5BF" fill-opacity="0.9"/>
<circle cx="507.3" cy="65.8" r="0.78" fill="#24B5BF" fill-opacity="0.9"/>
<circle cx="479.1" cy="58.6" r="0.78" fill="#24B5BF" fill-opacity="0.9"/>
<circle cx="507.7" cy="94.9" r="0.78" fill="#24B5BF" fill-opacity="0.9"/>
<circle cx="459.4" cy="72.9" r="0.78" fill="#24B5BF" fill-opacity="0.9"/>
<circle cx="507.9" cy="62.0" r="0.78" fill="#24B5BF" fill-opacity="0.9"/>
<circle cx="430.3" cy="132.1" r="0.78" fill="#24B5BF" fill-opacity="0.9"/>
<circle cx="426.8" cy="125.5" r="0.78" fill="#24B5BF" fill-opacity="0.9"/>
<circle cx="509.6" cy="83.3" r="0.78" fill="#24B5BF" fill-opacity="0.9"/>
<circle cx="432.2" cy="116.7" r="0.78" fill="#24B5BF" fill-opacity="0.9"/>
<circle cx="494.3" cy="129.0" r="0.78" fill="#24B5BF" fill-opacity="0.9"/>
<circle cx="508.5" cy="94.3" r="0.78" fill="#24B5BF" fill-opacity="0.9"/>
<circle cx="457.8" cy="77.4" r="0.78" fill="#24B5BF" fill-opacity="0.9"/>
<circle cx="462.6" cy="135.5" r="0.78" fill="#24B5BF" fill-opacity="0.9"/>
<circle cx="470.2" cy="134.7" r="0.78" fill="#24B5BF" fill-opacity="0.9"/>
<circle cx="505.9" cy="120.0" r="0.78" fill="#24B5BF" fill-opacity="0.9"/>
<circle cx="511.3" cy="103.3" r="0.78" fill="#24B5BF" fill-opacity="0.9"/>
<circle cx="487.5" cy="55.7" r="0.78" fill="#24B5BF" fill-opacity="0.9"/>
<circle cx="428.5" cy="131.7" r="0.78" fill="#24B5BF" fill-opacity="0.9"/>
<circle cx="483.2" cy="134.9" r="0.78" fill="#24B5BF" fill-opacity="0.9"/>
<circle cx="450.4" cy="84.7" r="0.78" fill="#24B5BF" fill-opacity="0.9"/>
<circle cx="506.3" cy="120.8" r="0.78" fill="#24B5BF" fill-opacity="0.9"/>
<circle cx="437.4" cy="137.9" r="0.78" fill="#24B5BF" fill-opacity="0.9"/>
<circle cx="499.9" cy="122.7" r="0.78" fill="#24B5BF" fill-opacity="0.9"/>
<circle cx="502.3" cy="49.9" r="0.78" fill="#24B5BF" fill-opacity="0.9"/>
<circle cx="509.9" cy="65.5" r="0.78" fill="#24B5BF" fill-opacity="0.9"/>
<circle cx="477.7" cy="56.0" r="0.78" fill="#24B5BF" fill-opacity="0.9"/>
<circle cx="456.3" cy="136.5" r="0.78" fill="#24B5BF" fill-opacity="0.9"/>
<circle cx="466.2" cy="61.9" r="0.78" fill="#24B5BF" fill-opacity="0.9"/>
<circle cx="499.7" cy="124.5" r="0.78" fill="#24B5BF" fill-opacity="0.9"/>
<circle cx="461.5" cy="67.0" r="0.78" fill="#24B5BF" fill-opacity="0.9"/>
<circle cx="511.4" cy="66.1" r="0.78" fill="#24B5BF" fill-opacity="0.9"/>
<circle cx="441.7" cy="105.9" r="0.78" fill="#24B5BF" fill-opacity="0.9"/>
<circle cx="502.3" cy="125.9" r="0.78" fill="#24B5BF" fill-opacity="0.9"/>
<circle cx="503.8" cy="58.0" r="0.78" fill="#24B5BF" fill-opacity="0.9"/>
<circle cx="456.4" cy="138.6" r="0.78" fill="#24B5BF" fill-opacity="0.9"/>
<circle cx="476.5" cy="56.6" r="0.78" fill="#24B5BF" fill-opacity="0.9"/>
<circle cx="512.6" cy="92.1" r="0.78" fill="#24B5BF" fill-opacity="0.9"/>
<circle cx="492.4" cy="48.1" r="0.78" fill="#24B5BF" fill-opacity="0.9"/>
<circle cx="426.2" cy="123.2" r="0.78" fill="#24B5BF" fill-opacity="0.9"/>
<circle cx="511.0" cy="85.4" r="0.78" fill="#24B5BF" fill-opacity="0.9"/>
<circle cx="484.7" cy="135.6" r="0.78" fill="#24B5BF" fill-opacity="0.9"/>
<circle cx="510.1" cy="89.5" r="0.78" fill="#24B5BF" fill-opacity="0.9"/>
<circle cx="458.2" cy="78.6" r="0.78" fill="#24B5BF" fill-opacity="0.9"/>
<circle cx="483.1" cy="59.1" r="0.78" fill="#24B5BF" fill-opacity="0.9"/>
<circle cx="487.7" cy="134.0" r="0.78" fill="#24B5BF" fill-opacity="0.9"/>
<circle cx="509.6" cy="88.0" r="0.78" fill="#24B5BF" fill-opacity="0.9"/>
<circle cx="424.0" cy="128.4" r="0.78" fill="#24B5BF" fill-opacity="0.9"/>
<circle cx="432.2" cy="130.9" r="0.78" fill="#24B5BF" fill-opacity="0.9"/>
<circle cx="486.1" cy="53.0" r="0.78" fill="#24B5BF" fill-opacity="0.9"/>
<circle cx="446.8" cy="96.5" r="0.78" fill="#24B5BF" fill-opacity="0.9"/>
<circle cx="505.4" cy="63.9" r="0.78" fill="#24B5BF" fill-opacity="0.9"/>
<circle cx="497.8" cy="49.2" r="0.78" fill="#24B5BF" fill-opacity="0.9"/>
<circle cx="463.7" cy="60.0" r="0.78" fill="#24B5BF" fill-opacity="0.9"/>
<circle cx="499.7" cy="46.0" r="0.78" fill="#24B5BF" fill-opacity="0.9"/>
<circle cx="477.3" cy="132.4" r="0.78" fill="#24B5BF" fill-opacity="0.9"/>
<circle cx="445.9" cy="136.8" r="0.78" fill="#24B5BF" fill-opacity="0.9"/>
<circle cx="486.1" cy="135.9" r="0.78" fill="#24B5BF" fill-opacity="0.9"/>
<circle cx="499.5" cy="48.0" r="0.78" fill="#24B5BF" fill-opacity="0.9"/>
<circle cx="474.1" cy="56.7" r="0.78" fill="#24B5BF" fill-opacity="0.9"/>
<circle cx="449.1" cy="136.3" r="0.78" fill="#24B5BF" fill-opacity="0.9"/>
<circle cx="493.1" cy="128.5" r="0.78" fill="#24B5BF" fill-opacity="0.9"/>
<circle cx="460.2" cy="134.5" r="0.78" fill="#24B5BF" fill-opacity="0.9"/>
<circle cx="429.1" cy="125.3" r="0.78" fill="#24B5BF" fill-opacity="0.9"/>
<circle cx="425.8" cy="127.1" r="0.78" fill="#24B5BF" fill-opacity="0.9"/>
<circle cx="508.9" cy="85.0" r="0.78" fill="#24B5BF" fill-opacity="0.9"/>
<circle cx="471.4" cy="56.7" r="0.78" fill="#24B5BF" fill-opacity="0.9"/>
<circle cx="497.4" cy="44.4" r="0.78" fill="#24B5BF" fill-opacity="0.9"/>
<path d="M492.3,48.5 C494.6,47.1 497.7,46.5 499.2,47.3 C500.7,48.0 500.3,50.9 501.5,53.0 C502.7,55.1 504.8,57.3 506.2,60.0 C507.6,62.7 508.8,65.0 509.6,69.2 C510.4,73.4 510.5,80.0 510.8,85.0 C511.1,90.0 511.4,95.4 511.5,99.2 C511.6,103.0 512.2,104.6 511.3,108.0 C510.4,111.4 508.0,116.5 506.0,119.5 C504.0,122.5 502.1,123.8 499.5,126.0 C496.9,128.2 493.1,131.3 490.4,133.0 C487.6,134.7 486.1,136.0 483.0,136.0 C479.9,136.0 475.8,133.0 472.0,133.0 C468.2,133.0 463.7,135.2 460.0,136.0 C456.3,136.8 453.3,137.7 450.0,138.0 C446.7,138.3 443.0,138.7 440.0,138.0 C437.0,137.3 434.5,135.7 432.0,134.0 C429.5,132.3 425.7,130.0 425.0,128.0 C424.3,126.0 426.0,124.5 428.0,122.0 C430.0,119.5 434.4,116.2 437.2,113.1 C440.0,110.0 443.3,107.3 444.9,103.5 C446.5,99.7 445.5,93.5 446.8,90.0 C448.1,86.5 450.5,84.2 452.6,82.3 C454.7,80.4 458.0,80.4 459.3,78.5 C460.6,76.6 460.0,73.5 460.3,70.8 C460.6,68.1 460.5,64.5 461.2,62.3 C461.9,60.1 462.5,58.7 464.6,57.7 C466.7,56.7 471.3,56.3 473.8,56.5 C476.3,56.7 477.7,59.0 479.6,58.8 C481.5,58.6 483.3,57.1 485.4,55.4 C487.5,53.7 490.0,49.9 492.3,48.5Z" fill="#24B5BF" fill-opacity="1.0" />
<circle cx="459.0" cy="109.0" r="0.8" fill="#fff" fill-opacity="0.9"/>
<circle cx="450.5" cy="107.8" r="0.8" fill="#fff" fill-opacity="0.9"/>
<circle cx="476.7" cy="103.9" r="0.8" fill="#fff" fill-opacity="0.9"/>
<circle cx="466.3" cy="112.7" r="0.8" fill="#fff" fill-opacity="0.9"/>
<circle cx="476.0" cy="81.7" r="0.8" fill="#fff" fill-opacity="0.9"/>
<circle cx="456.7" cy="95.5" r="0.8" fill="#fff" fill-opacity="0.9"/>
<circle cx="474.0" cy="110.8" r="0.8" fill="#fff" fill-opacity="0.9"/>
<circle cx="449.7" cy="98.2" r="0.8" fill="#fff" fill-opacity="0.9"/>
<circle cx="449.8" cy="97.2" r="0.8" fill="#fff" fill-opacity="0.9"/>
<circle cx="469.5" cy="85.9" r="0.8" fill="#fff" fill-opacity="0.9"/>
<circle cx="469.1" cy="101.9" r="0.8" fill="#fff" fill-opacity="0.9"/>
<circle cx="480.9" cy="101.6" r="0.8" fill="#fff" fill-opacity="0.9"/>
<circle cx="465.4" cy="95.1" r="0.8" fill="#fff" fill-opacity="0.9"/>
<circle cx="475.6" cy="88.7" r="0.8" fill="#fff" fill-opacity="0.9"/>
<circle cx="463.3" cy="110.5" r="0.8" fill="#fff" fill-opacity="0.9"/>
<circle cx="462.4" cy="75.7" r="0.8" fill="#fff" fill-opacity="0.9"/>
<circle cx="459.8" cy="81.8" r="0.8" fill="#fff" fill-opacity="0.9"/>
<circle cx="469.2" cy="99.2" r="0.8" fill="#fff" fill-opacity="0.9"/>
<circle cx="461.5" cy="94.6" r="0.8" fill="#fff" fill-opacity="0.9"/>
<circle cx="466.5" cy="94.3" r="0.8" fill="#fff" fill-opacity="0.9"/>
<circle cx="465.0" cy="92.4" r="0.8" fill="#fff" fill-opacity="0.9"/>
<circle cx="453.0" cy="90.1" r="0.8" fill="#fff" fill-opacity="0.9"/>
<circle cx="460.3" cy="93.4" r="0.8" fill="#fff" fill-opacity="0.9"/>
<circle cx="471.4" cy="94.8" r="0.8" fill="#fff" fill-opacity="0.9"/>
<circle cx="479.0" cy="100.0" r="0.8" fill="#fff" fill-opacity="0.9"/>
<circle cx="452.7" cy="82.0" r="0.8" fill="#fff" fill-opacity="0.9"/>
<circle cx="453.9" cy="86.3" r="0.8" fill="#fff" fill-opacity="0.9"/>
<circle cx="459.8" cy="84.0" r="0.8" fill="#fff" fill-opacity="0.9"/>
<circle cx="479.0" cy="105.1" r="0.8" fill="#fff" fill-opacity="0.9"/>
<circle cx="459.4" cy="102.6" r="0.8" fill="#fff" fill-opacity="0.9"/>
<circle cx="473.1" cy="96.1" r="0.8" fill="#fff" fill-opacity="0.9"/>
<circle cx="468.3" cy="79.1" r="0.8" fill="#fff" fill-opacity="0.9"/>
<circle cx="461.8" cy="108.0" r="0.8" fill="#fff" fill-opacity="0.9"/>
<circle cx="459.8" cy="76.1" r="0.8" fill="#fff" fill-opacity="0.9"/>
<circle cx="468.5" cy="93.3" r="0.8" fill="#fff" fill-opacity="0.9"/>
<circle cx="446.0" cy="102.3" r="0.8" fill="#fff" fill-opacity="0.9"/>
<circle cx="453.5" cy="87.5" r="0.8" fill="#fff" fill-opacity="0.9"/>
<circle cx="467.6" cy="97.3" r="0.8" fill="#fff" fill-opacity="0.9"/>
<circle cx="457.2" cy="96.4" r="0.8" fill="#fff" fill-opacity="0.9"/>
<circle cx="478.9" cy="88.3" r="0.8" fill="#fff" fill-opacity="0.9"/>
<circle cx="472.8" cy="111.7" r="0.8" fill="#fff" fill-opacity="0.9"/>
<circle cx="477.7" cy="85.9" r="0.8" fill="#fff" fill-opacity="0.9"/>
<circle cx="471.6" cy="106.3" r="0.8" fill="#fff" fill-opacity="0.9"/>
<circle cx="450.3" cy="105.2" r="0.8" fill="#fff" fill-opacity="0.9"/>
<circle cx="476.8" cy="91.4" r="0.8" fill="#fff" fill-opacity="0.9"/>
<circle cx="453.1" cy="93.1" r="0.8" fill="#fff" fill-opacity="0.9"/>
<circle cx="460.1" cy="82.8" r="0.8" fill="#fff" fill-opacity="0.9"/>
<circle cx="457.3" cy="94.5" r="0.8" fill="#fff" fill-opacity="0.9"/>
<circle cx="447.8" cy="94.4" r="0.8" fill="#fff" fill-opacity="0.9"/>
<circle cx="470.8" cy="98.9" r="0.8" fill="#fff" fill-opacity="0.9"/>
<circle cx="447.7" cy="95.3" r="0.8" fill="#fff" fill-opacity="0.9"/>
<circle cx="471.3" cy="88.1" r="0.8" fill="#fff" fill-opacity="0.9"/>
<circle cx="466.3" cy="110.2" r="0.8" fill="#fff" fill-opacity="0.9"/>
<circle cx="473.0" cy="86.5" r="0.8" fill="#fff" fill-opacity="0.9"/>
<circle cx="447.2" cy="95.2" r="0.8" fill="#fff" fill-opacity="0.9"/>
<circle cx="464.6" cy="91.3" r="0.8" fill="#fff" fill-opacity="0.9"/>
<circle cx="467.0" cy="86.2" r="0.8" fill="#fff" fill-opacity="0.9"/>
<circle cx="464.7" cy="82.7" r="0.8" fill="#fff" fill-opacity="0.9"/>
<circle cx="472.5" cy="104.9" r="0.8" fill="#fff" fill-opacity="0.9"/>
<circle cx="476.4" cy="90.9" r="0.8" fill="#fff" fill-opacity="0.9"/>
<circle cx="453.7" cy="79.5" r="0.8" fill="#fff" fill-opacity="0.9"/>
<circle cx="471.5" cy="106.0" r="0.8" fill="#fff" fill-opacity="0.9"/>
<circle cx="479.6" cy="86.3" r="0.8" fill="#fff" fill-opacity="0.9"/>
<circle cx="475.3" cy="91.9" r="0.8" fill="#fff" fill-opacity="0.9"/>
<circle cx="473.9" cy="82.5" r="0.8" fill="#fff" fill-opacity="0.9"/>
<circle cx="467.9" cy="96.1" r="0.8" fill="#fff" fill-opacity="0.9"/>
<circle cx="481.2" cy="94.8" r="0.8" fill="#fff" fill-opacity="0.9"/>
<circle cx="474.5" cy="106.7" r="0.8" fill="#fff" fill-opacity="0.9"/>
<circle cx="457.7" cy="89.1" r="0.8" fill="#fff" fill-opacity="0.9"/>
<circle cx="476.3" cy="84.4" r="0.8" fill="#fff" fill-opacity="0.9"/>
<circle cx="452.1" cy="100.7" r="0.8" fill="#fff" fill-opacity="0.9"/>
<circle cx="475.5" cy="94.9" r="0.8" fill="#fff" fill-opacity="0.9"/>
<circle cx="449.7" cy="90.6" r="0.8" fill="#fff" fill-opacity="0.9"/>
<circle cx="466.9" cy="100.5" r="0.8" fill="#fff" fill-opacity="0.9"/>
<circle cx="471.5" cy="102.0" r="0.8" fill="#fff" fill-opacity="0.9"/>
<circle cx="476.3" cy="85.4" r="0.8" fill="#fff" fill-opacity="0.9"/>
<circle cx="461.7" cy="111.1" r="0.8" fill="#fff" fill-opacity="0.9"/>
<circle cx="468.7" cy="81.6" r="0.8" fill="#fff" fill-opacity="0.9"/>
<circle cx="466.6" cy="76.7" r="0.8" fill="#fff" fill-opacity="0.9"/>
<circle cx="479.6" cy="105.4" r="0.8" fill="#fff" fill-opacity="0.9"/>
<circle cx="462.4" cy="78.6" r="0.8" fill="#fff" fill-opacity="0.9"/>
<circle cx="459.1" cy="90.8" r="0.8" fill="#fff" fill-opacity="0.9"/>
<circle cx="464.8" cy="100.5" r="0.8" fill="#fff" fill-opacity="0.9"/>
<circle cx="448.6" cy="95.6" r="0.8" fill="#fff" fill-opacity="0.9"/>
<circle cx="463.3" cy="75.1" r="0.8" fill="#fff" fill-opacity="0.9"/>
<circle cx="453.9" cy="105.4" r="0.8" fill="#fff" fill-opacity="0.9"/>
<circle cx="470.0" cy="89.3" r="0.8" fill="#fff" fill-opacity="0.9"/>
<circle cx="481.1" cy="87.9" r="0.8" fill="#fff" fill-opacity="0.9"/>
<circle cx="450.1" cy="108.3" r="0.8" fill="#fff" fill-opacity="0.9"/>
<circle cx="463.4" cy="111.0" r="0.8" fill="#fff" fill-opacity="0.9"/>
<circle cx="467.2" cy="109.7" r="0.8" fill="#fff" fill-opacity="0.9"/>
<circle cx="450.9" cy="87.6" r="0.8" fill="#fff" fill-opacity="0.9"/>
<circle cx="467.1" cy="106.2" r="0.8" fill="#fff" fill-opacity="0.9"/>
<circle cx="453.8" cy="90.7" r="0.8" fill="#fff" fill-opacity="0.9"/>
<circle cx="475.2" cy="108.1" r="0.8" fill="#fff" fill-opacity="0.9"/>
<circle cx="463.6" cy="92.8" r="0.8" fill="#fff" fill-opacity="0.9"/>
<circle cx="464.9" cy="105.1" r="0.8" fill="#fff" fill-opacity="0.9"/>
<circle cx="475.9" cy="85.9" r="0.8" fill="#fff" fill-opacity="0.9"/>
<circle cx="451.7" cy="91.4" r="0.8" fill="#fff" fill-opacity="0.9"/>
<circle cx="462.3" cy="88.9" r="0.8" fill="#fff" fill-opacity="0.9"/>
<circle cx="466.4" cy="93.9" r="0.8" fill="#fff" fill-opacity="0.9"/>
<circle cx="473.0" cy="86.5" r="0.8" fill="#fff" fill-opacity="0.9"/>
<circle cx="457.0" cy="80.8" r="0.8" fill="#fff" fill-opacity="0.9"/>
<circle cx="469.0" cy="80.1" r="0.8" fill="#fff" fill-opacity="0.9"/>
<circle cx="480.4" cy="103.3" r="0.8" fill="#fff" fill-opacity="0.9"/>
<circle cx="471.2" cy="111.9" r="0.8" fill="#fff" fill-opacity="0.9"/>
<circle cx="472.6" cy="87.0" r="0.8" fill="#fff" fill-opacity="0.9"/>
<circle cx="468.5" cy="98.1" r="0.8" fill="#fff" fill-opacity="0.9"/>
<circle cx="461.7" cy="96.7" r="0.8" fill="#fff" fill-opacity="0.9"/>
<circle cx="450.8" cy="107.0" r="0.8" fill="#fff" fill-opacity="0.9"/>
<circle cx="471.4" cy="91.5" r="0.8" fill="#fff" fill-opacity="0.9"/>
<circle cx="466.1" cy="104.2" r="0.8" fill="#fff" fill-opacity="0.9"/>
<circle cx="477.0" cy="91.7" r="0.8" fill="#fff" fill-opacity="0.9"/>
<circle cx="455.6" cy="109.4" r="0.8" fill="#fff" fill-opacity="0.9"/>
<circle cx="445.7" cy="104.4" r="0.8" fill="#fff" fill-opacity="0.9"/>
<circle cx="447.7" cy="90.6" r="0.8" fill="#fff" fill-opacity="0.9"/>
<circle cx="474.1" cy="94.0" r="0.8" fill="#fff" fill-opacity="0.9"/>
<circle cx="476.7" cy="105.1" r="0.8" fill="#fff" fill-opacity="0.9"/>
<circle cx="462.7" cy="107.2" r="0.8" fill="#fff" fill-opacity="0.9"/>
<circle cx="454.9" cy="88.4" r="0.8" fill="#fff" fill-opacity="0.9"/>
<circle cx="477.5" cy="94.3" r="0.8" fill="#fff" fill-opacity="0.9"/>
<circle cx="468.3" cy="112.2" r="0.8" fill="#fff" fill-opacity="0.9"/>
<circle cx="459.6" cy="81.3" r="0.8" fill="#fff" fill-opacity="0.9"/>
<circle cx="470.4" cy="97.5" r="0.8" fill="#fff" fill-opacity="0.9"/>
<circle cx="470.5" cy="93.8" r="0.8" fill="#fff" fill-opacity="0.9"/>
<circle cx="470.7" cy="112.6" r="0.8" fill="#fff" fill-opacity="0.9"/>
<circle cx="466.0" cy="78.9" r="0.8" fill="#fff" fill-opacity="0.9"/>
<circle cx="464.6" cy="98.6" r="0.8" fill="#fff" fill-opacity="0.9"/>
<circle cx="451.5" cy="81.8" r="0.8" fill="#fff" fill-opacity="0.9"/>
<circle cx="459.5" cy="108.1" r="0.8" fill="#fff" fill-opacity="0.9"/>
<circle cx="457.8" cy="99.9" r="0.8" fill="#fff" fill-opacity="0.9"/>
<circle cx="463.5" cy="106.7" r="0.8" fill="#fff" fill-opacity="0.9"/>
<circle cx="452.4" cy="84.8" r="0.8" fill="#fff" fill-opacity="0.9"/>
<circle cx="461.7" cy="111.3" r="0.8" fill="#fff" fill-opacity="0.9"/>
<circle cx="457.5" cy="88.3" r="0.8" fill="#fff" fill-opacity="0.9"/>
<circle cx="453.5" cy="111.1" r="0.8" fill="#fff" fill-opacity="0.9"/>
<circle cx="459.2" cy="75.8" r="0.8" fill="#fff" fill-opacity="0.9"/>
<circle cx="448.9" cy="94.7" r="0.8" fill="#fff" fill-opacity="0.9"/>
<circle cx="463.0" cy="108.3" r="0.8" fill="#fff" fill-opacity="0.9"/>
<circle cx="448.2" cy="101.1" r="0.8" fill="#fff" fill-opacity="0.9"/>
<circle cx="449.6" cy="109.2" r="0.8" fill="#fff" fill-opacity="0.9"/>
<circle cx="464.6" cy="98.1" r="0.8" fill="#fff" fill-opacity="0.9"/>
<circle cx="460.6" cy="82.0" r="0.8" fill="#fff" fill-opacity="0.9"/>
<circle cx="457.8" cy="99.0" r="0.8" fill="#fff" fill-opacity="0.9"/>
<circle cx="457.6" cy="91.2" r="0.8" fill="#fff" fill-opacity="0.9"/>
<circle cx="482.0" cy="90.8" r="0.8" fill="#fff" fill-opacity="0.9"/>
<circle cx="480.6" cy="91.6" r="0.8" fill="#fff" fill-opacity="0.9"/>
<circle cx="453.4" cy="84.7" r="0.8" fill="#fff" fill-opacity="0.9"/>
<circle cx="478.5" cy="99.9" r="0.8" fill="#fff" fill-opacity="0.9"/>
<circle cx="466.5" cy="105.2" r="0.8" fill="#fff" fill-opacity="0.9"/>
<circle cx="465.4" cy="99.3" r="0.75" fill="#8FB04A" fill-opacity="0.9"/>
<circle cx="472.2" cy="94.8" r="0.75" fill="#8FB04A" fill-opacity="0.9"/>
<circle cx="481.7" cy="102.9" r="0.75" fill="#8FB04A" fill-opacity="0.9"/>
<circle cx="468.7" cy="107.5" r="0.75" fill="#8FB04A" fill-opacity="0.9"/>
<circle cx="465.1" cy="87.4" r="0.75" fill="#8FB04A" fill-opacity="0.9"/>
<circle cx="475.3" cy="92.3" r="0.75" fill="#8FB04A" fill-opacity="0.9"/>
<circle cx="475.1" cy="100.8" r="0.75" fill="#8FB04A" fill-opacity="0.9"/>
<circle cx="454.7" cy="85.7" r="0.75" fill="#8FB04A" fill-opacity="0.9"/>
<circle cx="450.4" cy="93.2" r="0.75" fill="#8FB04A" fill-opacity="0.9"/>
<circle cx="456.4" cy="97.0" r="0.75" fill="#8FB04A" fill-opacity="0.9"/>
<circle cx="469.5" cy="99.3" r="0.75" fill="#8FB04A" fill-opacity="0.9"/>
<circle cx="448.0" cy="91.8" r="0.75" fill="#8FB04A" fill-opacity="0.9"/>
<circle cx="469.3" cy="107.0" r="0.75" fill="#8FB04A" fill-opacity="0.9"/>
<circle cx="462.9" cy="77.7" r="0.75" fill="#8FB04A" fill-opacity="0.9"/>
<circle cx="479.9" cy="91.0" r="0.75" fill="#8FB04A" fill-opacity="0.9"/>
<circle cx="451.8" cy="94.7" r="0.75" fill="#8FB04A" fill-opacity="0.9"/>
<circle cx="452.0" cy="97.3" r="0.75" fill="#8FB04A" fill-opacity="0.9"/>
<circle cx="474.9" cy="94.3" r="0.75" fill="#8FB04A" fill-opacity="0.9"/>
<circle cx="469.3" cy="80.2" r="0.75" fill="#8FB04A" fill-opacity="0.9"/>
<circle cx="466.2" cy="107.5" r="0.75" fill="#8FB04A" fill-opacity="0.9"/>
<circle cx="456.0" cy="109.2" r="0.75" fill="#8FB04A" fill-opacity="0.9"/>
<circle cx="449.3" cy="90.7" r="0.75" fill="#8FB04A" fill-opacity="0.9"/>
<circle cx="449.3" cy="95.7" r="0.75" fill="#8FB04A" fill-opacity="0.9"/>
<circle cx="452.3" cy="89.0" r="0.75" fill="#8FB04A" fill-opacity="0.9"/>
<circle cx="449.3" cy="89.5" r="0.75" fill="#8FB04A" fill-opacity="0.9"/>
<circle cx="454.4" cy="89.3" r="0.75" fill="#8FB04A" fill-opacity="0.9"/>
<circle cx="460.7" cy="94.3" r="0.75" fill="#8FB04A" fill-opacity="0.9"/>
<circle cx="451.0" cy="108.3" r="0.75" fill="#8FB04A" fill-opacity="0.9"/>
<circle cx="450.6" cy="99.8" r="0.75" fill="#8FB04A" fill-opacity="0.9"/>
<circle cx="450.3" cy="104.8" r="0.75" fill="#8FB04A" fill-opacity="0.9"/>
<circle cx="463.3" cy="112.0" r="0.75" fill="#8FB04A" fill-opacity="0.9"/>
<circle cx="452.7" cy="79.8" r="0.75" fill="#8FB04A" fill-opacity="0.9"/>
<circle cx="459.5" cy="91.7" r="0.75" fill="#8FB04A" fill-opacity="0.9"/>
<circle cx="470.7" cy="85.4" r="0.75" fill="#8FB04A" fill-opacity="0.9"/>
<circle cx="469.5" cy="113.1" r="0.75" fill="#8FB04A" fill-opacity="0.9"/>
<circle cx="445.7" cy="100.3" r="0.75" fill="#8FB04A" fill-opacity="0.9"/>
<circle cx="466.3" cy="112.3" r="0.75" fill="#8FB04A" fill-opacity="0.9"/>
<circle cx="458.7" cy="111.3" r="0.75" fill="#8FB04A" fill-opacity="0.9"/>
<circle cx="460.6" cy="112.5" r="0.75" fill="#8FB04A" fill-opacity="0.9"/>
<circle cx="458.8" cy="102.7" r="0.75" fill="#8FB04A" fill-opacity="0.9"/>
<circle cx="465.9" cy="95.5" r="0.75" fill="#8FB04A" fill-opacity="0.9"/>
<circle cx="481.9" cy="101.1" r="0.75" fill="#8FB04A" fill-opacity="0.9"/>
<circle cx="451.0" cy="100.6" r="0.75" fill="#8FB04A" fill-opacity="0.9"/>
<circle cx="478.7" cy="105.6" r="0.75" fill="#8FB04A" fill-opacity="0.9"/>
<circle cx="456.1" cy="80.6" r="0.75" fill="#8FB04A" fill-opacity="0.9"/>
<circle cx="451.1" cy="88.7" r="0.75" fill="#8FB04A" fill-opacity="0.9"/>
<circle cx="478.6" cy="90.1" r="0.75" fill="#8FB04A" fill-opacity="0.9"/>
<circle cx="462.4" cy="102.9" r="0.75" fill="#8FB04A" fill-opacity="0.9"/>
<circle cx="447.7" cy="105.0" r="0.75" fill="#8FB04A" fill-opacity="0.9"/>
<circle cx="460.3" cy="83.3" r="0.75" fill="#8FB04A" fill-opacity="0.9"/>
<circle cx="461.2" cy="103.0" r="0.75" fill="#8FB04A" fill-opacity="0.9"/>
<circle cx="471.3" cy="108.3" r="0.75" fill="#8FB04A" fill-opacity="0.9"/>
<circle cx="463.4" cy="93.0" r="0.75" fill="#8FB04A" fill-opacity="0.9"/>
<circle cx="469.2" cy="78.9" r="0.75" fill="#8FB04A" fill-opacity="0.9"/>
<circle cx="475.9" cy="84.5" r="0.75" fill="#8FB04A" fill-opacity="0.9"/>
<circle cx="463.1" cy="75.1" r="0.75" fill="#8FB04A" fill-opacity="0.9"/>
<circle cx="477.6" cy="90.5" r="0.75" fill="#8FB04A" fill-opacity="0.9"/>
<circle cx="480.9" cy="92.1" r="0.75" fill="#8FB04A" fill-opacity="0.9"/>
<circle cx="455.3" cy="86.2" r="0.75" fill="#8FB04A" fill-opacity="0.9"/>
<circle cx="467.9" cy="91.3" r="0.75" fill="#8FB04A" fill-opacity="0.9"/>
<circle cx="492.4" cy="76.4" r="0.75" fill="#fff" fill-opacity="0.8"/>
<circle cx="460.6" cy="102.2" r="0.75" fill="#fff" fill-opacity="0.8"/>
<circle cx="496.0" cy="60.8" r="0.75" fill="#fff" fill-opacity="0.8"/>
<circle cx="475.5" cy="94.4" r="0.75" fill="#fff" fill-opacity="0.8"/>
<circle cx="497.3" cy="68.7" r="0.75" fill="#fff" fill-opacity="0.8"/>
<circle cx="484.7" cy="112.6" r="0.75" fill="#fff" fill-opacity="0.8"/>
<circle cx="473.8" cy="128.9" r="0.75" fill="#fff" fill-opacity="0.8"/>
<circle cx="451.7" cy="85.1" r="0.75" fill="#fff" fill-opacity="0.8"/>
<circle cx="467.4" cy="81.4" r="0.75" fill="#fff" fill-opacity="0.8"/>
<circle cx="468.7" cy="65.6" r="0.75" fill="#fff" fill-opacity="0.8"/>
<circle cx="469.7" cy="68.4" r="0.75" fill="#fff" fill-opacity="0.8"/>
<circle cx="466.9" cy="63.5" r="0.75" fill="#fff" fill-opacity="0.8"/>
<circle cx="489.2" cy="97.0" r="0.75" fill="#fff" fill-opacity="0.8"/>
<circle cx="506.9" cy="89.9" r="0.75" fill="#fff" fill-opacity="0.8"/>
<circle cx="468.7" cy="109.9" r="0.75" fill="#fff" fill-opacity="0.8"/>
<circle cx="491.3" cy="56.4" r="0.75" fill="#fff" fill-opacity="0.8"/>
<circle cx="467.6" cy="67.7" r="0.75" fill="#fff" fill-opacity="0.8"/>
<circle cx="431.8" cy="126.8" r="0.75" fill="#fff" fill-opacity="0.8"/>
<circle cx="456.9" cy="124.6" r="0.75" fill="#fff" fill-opacity="0.8"/>
<circle cx="503.9" cy="58.8" r="0.75" fill="#fff" fill-opacity="0.8"/>
<circle cx="496.8" cy="110.6" r="0.75" fill="#fff" fill-opacity="0.8"/>
<circle cx="477.1" cy="67.7" r="0.75" fill="#fff" fill-opacity="0.8"/>
<circle cx="459.4" cy="112.8" r="0.75" fill="#fff" fill-opacity="0.8"/>
<circle cx="487.8" cy="68.6" r="0.75" fill="#fff" fill-opacity="0.8"/>
<circle cx="498.4" cy="73.1" r="0.75" fill="#fff" fill-opacity="0.8"/>
<circle cx="498.8" cy="70.0" r="0.75" fill="#fff" fill-opacity="0.8"/>
<circle cx="480.1" cy="130.0" r="0.75" fill="#fff" fill-opacity="0.8"/>
<circle cx="480.7" cy="103.2" r="0.75" fill="#fff" fill-opacity="0.8"/>
<circle cx="443.1" cy="118.7" r="0.75" fill="#fff" fill-opacity="0.8"/>
<circle cx="452.5" cy="89.4" r="0.75" fill="#fff" fill-opacity="0.8"/>
<circle cx="438.5" cy="118.0" r="0.75" fill="#fff" fill-opacity="0.8"/>
<circle cx="500.6" cy="57.6" r="0.75" fill="#fff" fill-opacity="0.8"/>
<circle cx="446.3" cy="135.6" r="0.75" fill="#fff" fill-opacity="0.8"/>
<circle cx="443.7" cy="126.2" r="0.75" fill="#fff" fill-opacity="0.8"/>
<circle cx="507.6" cy="83.9" r="0.75" fill="#fff" fill-opacity="0.8"/>
<circle cx="491.8" cy="91.1" r="0.75" fill="#fff" fill-opacity="0.8"/>
<circle cx="489.0" cy="56.8" r="0.75" fill="#fff" fill-opacity="0.8"/>
<circle cx="481.5" cy="117.4" r="0.75" fill="#fff" fill-opacity="0.8"/>
<circle cx="508.5" cy="94.5" r="0.75" fill="#fff" fill-opacity="0.8"/>
<circle cx="495.9" cy="58.6" r="0.75" fill="#fff" fill-opacity="0.8"/>
<circle cx="469.0" cy="90.3" r="0.75" fill="#fff" fill-opacity="0.8"/>
<circle cx="489.6" cy="123.1" r="0.75" fill="#fff" fill-opacity="0.8"/>
<circle cx="476.5" cy="97.7" r="0.75" fill="#fff" fill-opacity="0.8"/>
<circle cx="455.6" cy="104.1" r="0.75" fill="#fff" fill-opacity="0.8"/>
<circle cx="494.4" cy="122.0" r="0.75" fill="#fff" fill-opacity="0.8"/>
<circle cx="507.7" cy="69.4" r="0.75" fill="#fff" fill-opacity="0.8"/>
<circle cx="467.3" cy="66.7" r="0.75" fill="#fff" fill-opacity="0.8"/>
<circle cx="436.6" cy="117.0" r="0.75" fill="#fff" fill-opacity="0.8"/>
<circle cx="484.7" cy="134.2" r="0.75" fill="#fff" fill-opacity="0.8"/>
<circle cx="474.6" cy="66.3" r="0.75" fill="#fff" fill-opacity="0.8"/>
<circle cx="461.4" cy="93.3" r="0.75" fill="#fff" fill-opacity="0.8"/>
<circle cx="489.1" cy="73.5" r="0.75" fill="#fff" fill-opacity="0.8"/>
<circle cx="488.3" cy="81.6" r="0.75" fill="#fff" fill-opacity="0.8"/>
<circle cx="459.5" cy="90.5" r="0.75" fill="#fff" fill-opacity="0.8"/>
<circle cx="427.8" cy="129.9" r="0.75" fill="#fff" fill-opacity="0.8"/>
<circle cx="465.1" cy="81.8" r="0.75" fill="#fff" fill-opacity="0.8"/>
<circle cx="477.1" cy="85.7" r="0.75" fill="#fff" fill-opacity="0.8"/>
<circle cx="429.5" cy="123.6" r="0.75" fill="#fff" fill-opacity="0.8"/>
<circle cx="438.0" cy="126.1" r="0.75" fill="#fff" fill-opacity="0.8"/>
<circle cx="447.6" cy="95.7" r="0.75" fill="#fff" fill-opacity="0.8"/>
<circle cx="468.1" cy="125.8" r="0.75" fill="#fff" fill-opacity="0.8"/>
<circle cx="427.5" cy="125.9" r="0.75" fill="#fff" fill-opacity="0.8"/>
<circle cx="458.3" cy="121.1" r="0.75" fill="#fff" fill-opacity="0.8"/>
<circle cx="483.8" cy="81.0" r="0.75" fill="#fff" fill-opacity="0.8"/>
<circle cx="451.8" cy="100.5" r="0.75" fill="#fff" fill-opacity="0.8"/>
<circle cx="501.4" cy="74.5" r="0.75" fill="#fff" fill-opacity="0.8"/>
<circle cx="478.4" cy="71.2" r="0.75" fill="#fff" fill-opacity="0.8"/>
<circle cx="464.8" cy="118.6" r="0.75" fill="#fff" fill-opacity="0.8"/>
<circle cx="499.2" cy="74.7" r="0.75" fill="#fff" fill-opacity="0.8"/>
<circle cx="480.9" cy="91.7" r="0.75" fill="#fff" fill-opacity="0.8"/>
<circle cx="466.9" cy="110.9" r="0.75" fill="#fff" fill-opacity="0.8"/>
<circle cx="457.3" cy="81.9" r="0.75" fill="#fff" fill-opacity="0.8"/>
<circle cx="492.1" cy="64.8" r="0.75" fill="#fff" fill-opacity="0.8"/>
<circle cx="509.2" cy="71.7" r="0.75" fill="#fff" fill-opacity="0.8"/>
<circle cx="508.1" cy="84.7" r="0.75" fill="#fff" fill-opacity="0.8"/>
<circle cx="483.3" cy="63.8" r="0.75" fill="#fff" fill-opacity="0.8"/>
<circle cx="475.2" cy="79.9" r="0.75" fill="#fff" fill-opacity="0.8"/>
<circle cx="435.3" cy="132.2" r="0.75" fill="#fff" fill-opacity="0.8"/>
<circle cx="498.2" cy="117.7" r="0.75" fill="#fff" fill-opacity="0.8"/>
<circle cx="463.1" cy="132.6" r="0.75" fill="#fff" fill-opacity="0.8"/>
<circle cx="477.6" cy="77.0" r="0.75" fill="#fff" fill-opacity="0.8"/>
<circle cx="490.1" cy="130.2" r="0.75" fill="#fff" fill-opacity="0.8"/>
<circle cx="502.8" cy="111.8" r="0.75" fill="#fff" fill-opacity="0.8"/>
<circle cx="434.1" cy="118.6" r="0.75" fill="#fff" fill-opacity="0.8"/>
<circle cx="475.3" cy="81.6" r="0.75" fill="#fff" fill-opacity="0.8"/>
<circle cx="452.8" cy="129.5" r="0.75" fill="#fff" fill-opacity="0.8"/>
<circle cx="493.2" cy="122.9" r="0.75" fill="#fff" fill-opacity="0.8"/>
<circle cx="488.2" cy="60.3" r="0.75" fill="#fff" fill-opacity="0.8"/>
<circle cx="471.7" cy="70.5" r="0.75" fill="#fff" fill-opacity="0.8"/>
<circle cx="473.8" cy="130.6" r="0.75" fill="#fff" fill-opacity="0.8"/>
<circle cx="451.6" cy="96.2" r="0.75" fill="#fff" fill-opacity="0.8"/>
<circle cx="456.4" cy="81.7" r="0.75" fill="#fff" fill-opacity="0.8"/>
<circle cx="491.0" cy="90.7" r="0.75" fill="#fff" fill-opacity="0.8"/>
<circle cx="430.1" cy="126.7" r="0.75" fill="#fff" fill-opacity="0.8"/>
<circle cx="462.1" cy="120.0" r="0.75" fill="#fff" fill-opacity="0.8"/>
<circle cx="482.4" cy="73.8" r="0.75" fill="#fff" fill-opacity="0.8"/>
<circle cx="434.9" cy="121.5" r="0.75" fill="#fff" fill-opacity="0.8"/>
<circle cx="497.2" cy="89.5" r="0.75" fill="#fff" fill-opacity="0.8"/>
<circle cx="436.1" cy="133.3" r="0.75" fill="#fff" fill-opacity="0.8"/>
<circle cx="481.7" cy="108.6" r="0.75" fill="#fff" fill-opacity="0.8"/>
<circle cx="457.0" cy="91.6" r="0.75" fill="#fff" fill-opacity="0.8"/>
<circle cx="510.1" cy="106.6" r="0.75" fill="#fff" fill-opacity="0.8"/>
<circle cx="450.5" cy="121.0" r="0.75" fill="#fff" fill-opacity="0.8"/>
<circle cx="497.1" cy="124.0" r="0.75" fill="#fff" fill-opacity="0.8"/>
<circle cx="457.0" cy="97.6" r="0.75" fill="#fff" fill-opacity="0.8"/>
<circle cx="491.1" cy="99.1" r="0.75" fill="#fff" fill-opacity="0.8"/>
<circle cx="469.2" cy="88.1" r="0.75" fill="#fff" fill-opacity="0.8"/>
<circle cx="483.0" cy="123.6" r="0.75" fill="#fff" fill-opacity="0.8"/>
<circle cx="494.4" cy="52.8" r="0.75" fill="#fff" fill-opacity="0.8"/>
<circle cx="485.4" cy="78.1" r="0.75" fill="#fff" fill-opacity="0.8"/>
<circle cx="477.2" cy="65.7" r="0.75" fill="#fff" fill-opacity="0.8"/>
<circle cx="471.7" cy="58.4" r="0.75" fill="#fff" fill-opacity="0.8"/>
<circle cx="465.1" cy="69.3" r="0.75" fill="#fff" fill-opacity="0.8"/>
<circle cx="499.9" cy="112.6" r="0.75" fill="#fff" fill-opacity="0.8"/>
<circle cx="477.0" cy="69.5" r="0.75" fill="#fff" fill-opacity="0.8"/>
<circle cx="484.0" cy="110.1" r="0.75" fill="#fff" fill-opacity="0.8"/>
<circle cx="443.5" cy="136.8" r="0.75" fill="#fff" fill-opacity="0.8"/>
<circle cx="493.1" cy="80.4" r="0.75" fill="#fff" fill-opacity="0.8"/>
<circle cx="472.2" cy="66.5" r="0.75" fill="#fff" fill-opacity="0.8"/>
<circle cx="493.1" cy="97.8" r="0.75" fill="#fff" fill-opacity="0.8"/>
<circle cx="473.7" cy="66.1" r="0.8" fill="#fff" fill-opacity="0.9"/>
<circle cx="469.9" cy="60.6" r="0.8" fill="#fff" fill-opacity="0.9"/>
<circle cx="473.5" cy="65.0" r="0.8" fill="#fff" fill-opacity="0.9"/>
<circle cx="478.0" cy="58.2" r="0.8" fill="#fff" fill-opacity="0.9"/>
<circle cx="471.2" cy="60.9" r="0.8" fill="#fff" fill-opacity="0.9"/>
<circle cx="467.1" cy="65.2" r="0.8" fill="#fff" fill-opacity="0.9"/>
<circle cx="475.9" cy="63.2" r="0.8" fill="#fff" fill-opacity="0.9"/>
<circle cx="476.8" cy="59.9" r="0.8" fill="#fff" fill-opacity="0.9"/>
<circle cx="469.5" cy="70.2" r="0.8" fill="#fff" fill-opacity="0.9"/>
<circle cx="463.1" cy="64.7" r="0.8" fill="#fff" fill-opacity="0.9"/>
<circle cx="473.9" cy="60.8" r="0.8" fill="#fff" fill-opacity="0.9"/>
<circle cx="469.7" cy="65.5" r="0.8" fill="#fff" fill-opacity="0.9"/>
<circle cx="462.8" cy="64.5" r="0.8" fill="#fff" fill-opacity="0.9"/>
<circle cx="473.7" cy="66.1" r="0.8" fill="#fff" fill-opacity="0.9"/>
<circle cx="465.4" cy="70.4" r="0.8" fill="#fff" fill-opacity="0.9"/>
<circle cx="470.8" cy="69.5" r="0.8" fill="#fff" fill-opacity="0.9"/>
<circle cx="470.8" cy="67.2" r="0.8" fill="#fff" fill-opacity="0.9"/>
<circle cx="465.3" cy="65.4" r="0.8" fill="#fff" fill-opacity="0.9"/>
<circle cx="463.4" cy="63.7" r="0.8" fill="#fff" fill-opacity="0.9"/>
<circle cx="462.7" cy="63.7" r="0.8" fill="#fff" fill-opacity="0.9"/>
<circle cx="472.6" cy="124.8" r="0.75" fill="#7FB04A" fill-opacity="0.7"/>
<circle cx="465.1" cy="111.9" r="0.75" fill="#7FB04A" fill-opacity="0.7"/>
<circle cx="453.3" cy="120.0" r="0.75" fill="#7FB04A" fill-opacity="0.7"/>
<circle cx="498.8" cy="52.9" r="0.75" fill="#7FB04A" fill-opacity="0.7"/>
<circle cx="469.4" cy="111.1" r="0.75" fill="#7FB04A" fill-opacity="0.7"/>
<circle cx="492.6" cy="131.0" r="0.75" fill="#7FB04A" fill-opacity="0.7"/>
<circle cx="455.0" cy="122.3" r="0.75" fill="#7FB04A" fill-opacity="0.7"/>
<circle cx="440.7" cy="132.4" r="0.75" fill="#7FB04A" fill-opacity="0.7"/>
<circle cx="504.5" cy="66.8" r="0.75" fill="#7FB04A" fill-opacity="0.7"/>
<circle cx="471.4" cy="58.2" r="0.75" fill="#7FB04A" fill-opacity="0.7"/>
<circle cx="502.5" cy="91.9" r="0.75" fill="#7FB04A" fill-opacity="0.7"/>
<circle cx="480.0" cy="77.3" r="0.75" fill="#7FB04A" fill-opacity="0.7"/>
<circle cx="455.6" cy="103.2" r="0.75" fill="#7FB04A" fill-opacity="0.7"/>
<circle cx="509.3" cy="85.6" r="0.75" fill="#7FB04A" fill-opacity="0.7"/>
<circle cx="450.6" cy="91.0" r="0.75" fill="#7FB04A" fill-opacity="0.7"/>
<circle cx="455.2" cy="102.9" r="0.75" fill="#7FB04A" fill-opacity="0.7"/>
<circle cx="501.7" cy="115.7" r="0.75" fill="#7FB04A" fill-opacity="0.7"/>
<circle cx="445.2" cy="123.6" r="0.75" fill="#7FB04A" fill-opacity="0.7"/>
<circle cx="494.2" cy="123.0" r="0.75" fill="#7FB04A" fill-opacity="0.7"/>
<circle cx="465.1" cy="110.8" r="0.75" fill="#7FB04A" fill-opacity="0.7"/>
<circle cx="489.5" cy="115.9" r="0.75" fill="#7FB04A" fill-opacity="0.7"/>
<circle cx="467.7" cy="125.9" r="0.75" fill="#7FB04A" fill-opacity="0.7"/>
<circle cx="491.2" cy="96.6" r="0.75" fill="#7FB04A" fill-opacity="0.7"/>
<circle cx="489.0" cy="124.3" r="0.75" fill="#7FB04A" fill-opacity="0.7"/>
<circle cx="466.1" cy="131.9" r="0.75" fill="#7FB04A" fill-opacity="0.7"/>
<circle cx="503.2" cy="75.5" r="0.75" fill="#7FB04A" fill-opacity="0.7"/>
<circle cx="426.8" cy="125.6" r="0.75" fill="#7FB04A" fill-opacity="0.7"/>
<circle cx="430.6" cy="127.5" r="0.75" fill="#7FB04A" fill-opacity="0.7"/>
<circle cx="508.7" cy="88.6" r="0.75" fill="#7FB04A" fill-opacity="0.7"/>
<circle cx="499.1" cy="64.7" r="0.75" fill="#7FB04A" fill-opacity="0.7"/>
<circle cx="482.8" cy="92.0" r="0.75" fill="#7FB04A" fill-opacity="0.7"/>
<circle cx="462.1" cy="100.1" r="0.75" fill="#7FB04A" fill-opacity="0.7"/>
<circle cx="491.4" cy="122.3" r="0.75" fill="#7FB04A" fill-opacity="0.7"/>
<circle cx="431.4" cy="122.9" r="0.75" fill="#7FB04A" fill-opacity="0.7"/>
<circle cx="438.5" cy="117.1" r="0.75" fill="#7FB04A" fill-opacity="0.7"/>
<circle cx="505.8" cy="116.1" r="0.75" fill="#7FB04A" fill-opacity="0.7"/>
<circle cx="481.4" cy="81.4" r="0.75" fill="#7FB04A" fill-opacity="0.7"/>
<circle cx="469.3" cy="64.9" r="0.75" fill="#7FB04A" fill-opacity="0.7"/>
<circle cx="509.8" cy="96.5" r="0.75" fill="#7FB04A" fill-opacity="0.7"/>
<circle cx="456.0" cy="93.9" r="0.75" fill="#7FB04A" fill-opacity="0.7"/>
<circle cx="452.7" cy="136.2" r="0.75" fill="#7FB04A" fill-opacity="0.7"/>
<circle cx="484.9" cy="97.3" r="0.75" fill="#7FB04A" fill-opacity="0.7"/>
<circle cx="458.4" cy="111.6" r="0.75" fill="#7FB04A" fill-opacity="0.7"/>
<circle cx="500.8" cy="51.4" r="0.75" fill="#7FB04A" fill-opacity="0.7"/>
<circle cx="506.3" cy="117.4" r="0.75" fill="#7FB04A" fill-opacity="0.7"/>
<circle cx="481.9" cy="116.4" r="0.75" fill="#7FB04A" fill-opacity="0.7"/>
<circle cx="482.7" cy="96.3" r="0.75" fill="#7FB04A" fill-opacity="0.7"/>
<circle cx="436.6" cy="125.0" r="0.75" fill="#7FB04A" fill-opacity="0.7"/>
<circle cx="510.6" cy="93.1" r="0.75" fill="#7FB04A" fill-opacity="0.7"/>
<circle cx="458.6" cy="122.9" r="0.75" fill="#7FB04A" fill-opacity="0.7"/>
<circle cx="444.3" cy="135.0" r="0.75" fill="#7FB04A" fill-opacity="0.7"/>
<circle cx="462.7" cy="63.3" r="0.75" fill="#7FB04A" fill-opacity="0.7"/>
<circle cx="460.4" cy="118.9" r="0.75" fill="#7FB04A" fill-opacity="0.7"/>
<circle cx="443.5" cy="133.1" r="0.75" fill="#7FB04A" fill-opacity="0.7"/>
<circle cx="493.6" cy="100.5" r="0.75" fill="#7FB04A" fill-opacity="0.7"/>
<circle cx="464.4" cy="82.7" r="0.75" fill="#7FB04A" fill-opacity="0.7"/>
<circle cx="461.9" cy="99.5" r="0.75" fill="#7FB04A" fill-opacity="0.7"/>
<circle cx="456.9" cy="92.7" r="0.75" fill="#7FB04A" fill-opacity="0.7"/>
<circle cx="475.7" cy="97.7" r="0.75" fill="#7FB04A" fill-opacity="0.7"/>
<circle cx="478.8" cy="100.3" r="0.75" fill="#7FB04A" fill-opacity="0.7"/>
<circle cx="505.6" cy="73.7" r="0.75" fill="#7FB04A" fill-opacity="0.7"/>
<circle cx="462.4" cy="123.4" r="0.75" fill="#7FB04A" fill-opacity="0.7"/>
<circle cx="478.7" cy="66.9" r="0.75" fill="#7FB04A" fill-opacity="0.7"/>
<circle cx="509.6" cy="69.1" r="0.75" fill="#7FB04A" fill-opacity="0.7"/>
<circle cx="477.4" cy="95.4" r="0.75" fill="#7FB04A" fill-opacity="0.7"/>
<circle cx="457.4" cy="116.4" r="0.75" fill="#7FB04A" fill-opacity="0.7"/>
<circle cx="505.1" cy="118.9" r="0.75" fill="#7FB04A" fill-opacity="0.7"/>
<circle cx="488.5" cy="57.3" r="0.75" fill="#7FB04A" fill-opacity="0.7"/>
<circle cx="461.1" cy="64.2" r="0.75" fill="#7FB04A" fill-opacity="0.7"/>
<circle cx="440.9" cy="111.9" r="0.75" fill="#7FB04A" fill-opacity="0.7"/>
<circle cx="492.4" cy="87.5" r="0.75" fill="#7FB04A" fill-opacity="0.7"/>
<circle cx="466.9" cy="81.1" r="0.75" fill="#7FB04A" fill-opacity="0.7"/>
<circle cx="477.8" cy="95.1" r="0.75" fill="#7FB04A" fill-opacity="0.7"/>
<circle cx="490.2" cy="110.2" r="0.75" fill="#7FB04A" fill-opacity="0.7"/>
<circle cx="477.0" cy="80.2" r="0.75" fill="#7FB04A" fill-opacity="0.7"/>
<circle cx="465.4" cy="65.6" r="0.75" fill="#7FB04A" fill-opacity="0.7"/>
<circle cx="460.9" cy="122.5" r="0.75" fill="#7FB04A" fill-opacity="0.7"/>
<circle cx="459.5" cy="126.8" r="0.75" fill="#7FB04A" fill-opacity="0.7"/>
<circle cx="462.6" cy="90.0" r="0.75" fill="#7FB04A" fill-opacity="0.7"/>
<circle cx="499.2" cy="115.3" r="0.75" fill="#7FB04A" fill-opacity="0.7"/>
<circle cx="491.7" cy="66.7" r="0.75" fill="#7FB04A" fill-opacity="0.7"/>
<circle cx="455.1" cy="118.7" r="0.75" fill="#7FB04A" fill-opacity="0.7"/>
<circle cx="455.8" cy="131.3" r="0.75" fill="#7FB04A" fill-opacity="0.7"/>
<circle cx="482.6" cy="130.5" r="0.75" fill="#7FB04A" fill-opacity="0.7"/>
<circle cx="453.0" cy="107.5" r="0.75" fill="#7FB04A" fill-opacity="0.7"/>
<circle cx="441.3" cy="137.9" r="0.75" fill="#7FB04A" fill-opacity="0.7"/>
<circle cx="473.3" cy="123.0" r="0.75" fill="#7FB04A" fill-opacity="0.7"/>
<circle cx="494.6" cy="87.7" r="0.75" fill="#7FB04A" fill-opacity="0.7"/>
<circle cx="472.6" cy="128.2" r="0.75" fill="#7FB04A" fill-opacity="0.7"/>
<circle cx="440.7" cy="117.8" r="0.75" fill="#7FB04A" fill-opacity="0.7"/>
<circle cx="470.7" cy="84.7" r="0.75" fill="#7FB04A" fill-opacity="0.7"/>
<circle cx="491.1" cy="93.6" r="0.75" fill="#7FB04A" fill-opacity="0.7"/>
<circle cx="494.8" cy="71.2" r="0.75" fill="#7FB04A" fill-opacity="0.7"/>
<circle cx="494.2" cy="48.3" r="0.75" fill="#7FB04A" fill-opacity="0.7"/>
<circle cx="488.1" cy="112.8" r="0.75" fill="#7FB04A" fill-opacity="0.7"/>
<circle cx="479.9" cy="130.1" r="0.75" fill="#7FB04A" fill-opacity="0.7"/>
<circle cx="473.5" cy="120.4" r="0.75" fill="#7FB04A" fill-opacity="0.7"/>
<circle cx="485.3" cy="66.6" r="0.75" fill="#7FB04A" fill-opacity="0.7"/>
<circle cx="452.1" cy="93.1" r="0.75" fill="#7FB04A" fill-opacity="0.7"/>
<circle cx="434.6" cy="118.1" r="0.75" fill="#7FB04A" fill-opacity="0.7"/>
<circle cx="445.3" cy="107.7" r="0.75" fill="#7FB04A" fill-opacity="0.7"/>
<circle cx="506.0" cy="80.1" r="0.75" fill="#7FB04A" fill-opacity="0.7"/>
<circle cx="455.5" cy="136.7" r="0.75" fill="#7FB04A" fill-opacity="0.7"/>
<circle cx="476.3" cy="134.0" r="0.75" fill="#7FB04A" fill-opacity="0.7"/>
<circle cx="495.5" cy="122.6" r="0.75" fill="#7FB04A" fill-opacity="0.7"/>
<circle cx="437.9" cy="121.2" r="0.75" fill="#7FB04A" fill-opacity="0.7"/>
<circle cx="473.3" cy="117.5" r="0.75" fill="#7FB04A" fill-opacity="0.7"/>
<circle cx="503.8" cy="110.8" r="0.75" fill="#7FB04A" fill-opacity="0.7"/>
<circle cx="467.2" cy="61.9" r="0.75" fill="#7FB04A" fill-opacity="0.7"/>
<circle cx="465.3" cy="103.4" r="0.75" fill="#7FB04A" fill-opacity="0.7"/>
<circle cx="508.7" cy="71.5" r="0.75" fill="#7FB04A" fill-opacity="0.7"/>
<circle cx="488.2" cy="123.3" r="0.75" fill="#7FB04A" fill-opacity="0.7"/>
<circle cx="485.8" cy="134.4" r="0.75" fill="#7FB04A" fill-opacity="0.7"/>
<circle cx="465.7" cy="116.4" r="0.75" fill="#7FB04A" fill-opacity="0.7"/>
<circle cx="469.0" cy="97.7" r="0.75" fill="#7FB04A" fill-opacity="0.7"/>
<circle cx="463.6" cy="62.7" r="0.75" fill="#7FB04A" fill-opacity="0.7"/>
<circle cx="468.1" cy="59.2" r="0.75" fill="#7FB04A" fill-opacity="0.7"/>
<circle cx="494.6" cy="70.5" r="0.75" fill="#7FB04A" fill-opacity="0.7"/>
<circle cx="508.2" cy="76.7" r="0.75" fill="#7FB04A" fill-opacity="0.7"/>
<circle cx="508.7" cy="103.3" r="0.75" fill="#7FB04A" fill-opacity="0.7"/>
<circle cx="469.8" cy="96.1" r="0.75" fill="#7FB04A" fill-opacity="0.7"/>
<circle cx="507.4" cy="92.2" r="0.75" fill="#7FB04A" fill-opacity="0.7"/>
<circle cx="480.2" cy="63.7" r="0.75" fill="#7FB04A" fill-opacity="0.7"/>
<circle cx="469.9" cy="130.5" r="0.75" fill="#7FB04A" fill-opacity="0.7"/>
<circle cx="450.6" cy="86.9" r="0.75" fill="#7FB04A" fill-opacity="0.7"/>
<circle cx="449.7" cy="88.5" r="0.75" fill="#7FB04A" fill-opacity="0.7"/>
<circle cx="476.6" cy="84.6" r="0.75" fill="#7FB04A" fill-opacity="0.7"/>
<circle cx="462.6" cy="95.4" r="0.75" fill="#7FB04A" fill-opacity="0.7"/>
<circle cx="494.9" cy="98.0" r="0.75" fill="#7FB04A" fill-opacity="0.7"/>
<circle cx="480.5" cy="118.7" r="0.75" fill="#7FB04A" fill-opacity="0.7"/>
<circle cx="490.2" cy="111.8" r="0.75" fill="#3AA0D8" fill-opacity="0.7"/>
<circle cx="499.0" cy="68.0" r="0.75" fill="#3AA0D8" fill-opacity="0.7"/>
<circle cx="499.7" cy="120.3" r="0.75" fill="#3AA0D8" fill-opacity="0.7"/>
<circle cx="462.9" cy="63.4" r="0.75" fill="#3AA0D8" fill-opacity="0.7"/>
<circle cx="433.0" cy="130.3" r="0.75" fill="#3AA0D8" fill-opacity="0.7"/>
<circle cx="448.0" cy="115.3" r="0.75" fill="#3AA0D8" fill-opacity="0.7"/>
<circle cx="454.7" cy="114.6" r="0.75" fill="#3AA0D8" fill-opacity="0.7"/>
<circle cx="498.9" cy="115.5" r="0.75" fill="#3AA0D8" fill-opacity="0.7"/>
<circle cx="471.4" cy="93.7" r="0.75" fill="#3AA0D8" fill-opacity="0.7"/>
<circle cx="477.1" cy="73.8" r="0.75" fill="#3AA0D8" fill-opacity="0.7"/>
<circle cx="502.1" cy="116.2" r="0.75" fill="#3AA0D8" fill-opacity="0.7"/>
<circle cx="505.1" cy="100.7" r="0.75" fill="#3AA0D8" fill-opacity="0.7"/>
<circle cx="487.7" cy="79.6" r="0.75" fill="#3AA0D8" fill-opacity="0.7"/>
<circle cx="491.6" cy="56.9" r="0.75" fill="#3AA0D8" fill-opacity="0.7"/>
<circle cx="501.1" cy="99.2" r="0.75" fill="#3AA0D8" fill-opacity="0.7"/>
<circle cx="507.8" cy="76.9" r="0.75" fill="#3AA0D8" fill-opacity="0.7"/>
<circle cx="436.4" cy="120.9" r="0.75" fill="#3AA0D8" fill-opacity="0.7"/>
<circle cx="484.2" cy="87.6" r="0.75" fill="#3AA0D8" fill-opacity="0.7"/>
<circle cx="449.4" cy="128.9" r="0.75" fill="#3AA0D8" fill-opacity="0.7"/>
<circle cx="480.1" cy="96.2" r="0.75" fill="#3AA0D8" fill-opacity="0.7"/>
<circle cx="498.5" cy="95.9" r="0.75" fill="#3AA0D8" fill-opacity="0.7"/>
<circle cx="468.2" cy="123.8" r="0.75" fill="#3AA0D8" fill-opacity="0.7"/>
<circle cx="443.8" cy="136.9" r="0.75" fill="#3AA0D8" fill-opacity="0.7"/>
<circle cx="477.0" cy="123.5" r="0.75" fill="#3AA0D8" fill-opacity="0.7"/>
<circle cx="473.8" cy="116.5" r="0.75" fill="#3AA0D8" fill-opacity="0.7"/>
<circle cx="496.2" cy="93.4" r="0.75" fill="#3AA0D8" fill-opacity="0.7"/>
<circle cx="504.9" cy="59.8" r="0.75" fill="#3AA0D8" fill-opacity="0.7"/>
<circle cx="485.5" cy="126.3" r="0.75" fill="#3AA0D8" fill-opacity="0.7"/>
<circle cx="502.0" cy="101.3" r="0.75" fill="#3AA0D8" fill-opacity="0.7"/>
<circle cx="476.7" cy="92.0" r="0.75" fill="#3AA0D8" fill-opacity="0.7"/>
<circle cx="445.5" cy="102.8" r="0.75" fill="#3AA0D8" fill-opacity="0.7"/>
<circle cx="465.8" cy="58.3" r="0.75" fill="#3AA0D8" fill-opacity="0.7"/>
<circle cx="495.1" cy="111.1" r="0.75" fill="#3AA0D8" fill-opacity="0.7"/>
<circle cx="475.6" cy="85.8" r="0.75" fill="#3AA0D8" fill-opacity="0.7"/>
<circle cx="493.7" cy="115.4" r="0.75" fill="#3AA0D8" fill-opacity="0.7"/>
<circle cx="450.6" cy="91.3" r="0.75" fill="#3AA0D8" fill-opacity="0.7"/>
<circle cx="459.6" cy="134.9" r="0.75" fill="#3AA0D8" fill-opacity="0.7"/>
<circle cx="481.5" cy="121.5" r="0.75" fill="#3AA0D8" fill-opacity="0.7"/>
<circle cx="489.2" cy="97.3" r="0.75" fill="#3AA0D8" fill-opacity="0.7"/>
<circle cx="494.7" cy="88.8" r="0.75" fill="#3AA0D8" fill-opacity="0.7"/>
<circle cx="458.9" cy="107.5" r="0.75" fill="#3AA0D8" fill-opacity="0.7"/>
<circle cx="495.9" cy="60.9" r="0.75" fill="#3AA0D8" fill-opacity="0.7"/>
<circle cx="470.7" cy="111.1" r="0.75" fill="#3AA0D8" fill-opacity="0.7"/>
<circle cx="462.1" cy="114.8" r="0.75" fill="#3AA0D8" fill-opacity="0.7"/>
<circle cx="460.5" cy="73.3" r="0.75" fill="#3AA0D8" fill-opacity="0.7"/>
<circle cx="443.6" cy="134.4" r="0.75" fill="#3AA0D8" fill-opacity="0.7"/>
<circle cx="465.1" cy="69.5" r="0.75" fill="#3AA0D8" fill-opacity="0.7"/>
<circle cx="451.9" cy="95.8" r="0.75" fill="#3AA0D8" fill-opacity="0.7"/>
<circle cx="468.3" cy="76.0" r="0.75" fill="#3AA0D8" fill-opacity="0.7"/>
<circle cx="491.6" cy="73.8" r="0.75" fill="#3AA0D8" fill-opacity="0.7"/>
<circle cx="496.9" cy="94.7" r="0.75" fill="#3AA0D8" fill-opacity="0.7"/>
<circle cx="434.5" cy="124.3" r="0.75" fill="#3AA0D8" fill-opacity="0.7"/>
<circle cx="485.1" cy="90.3" r="0.75" fill="#3AA0D8" fill-opacity="0.7"/>
<circle cx="476.9" cy="87.1" r="0.75" fill="#3AA0D8" fill-opacity="0.7"/>
<circle cx="456.3" cy="116.3" r="0.75" fill="#3AA0D8" fill-opacity="0.7"/>
<circle cx="460.8" cy="82.8" r="0.75" fill="#3AA0D8" fill-opacity="0.7"/>
<circle cx="468.5" cy="80.0" r="0.75" fill="#3AA0D8" fill-opacity="0.7"/>
<circle cx="502.8" cy="60.0" r="0.75" fill="#3AA0D8" fill-opacity="0.7"/>
<circle cx="504.1" cy="107.6" r="0.75" fill="#3AA0D8" fill-opacity="0.7"/>
<circle cx="467.6" cy="112.0" r="0.75" fill="#3AA0D8" fill-opacity="0.7"/>
<path d="M505,122 L507.5,132 L509,142 L509,150" stroke="#24B5BF" stroke-width="2.6" fill="none"/>
<path d="M504.0,145.0 C504.8,143.6 507.4,143.0 509.0,143.5 C510.6,144.0 512.9,145.9 513.5,148.0 C514.1,150.1 513.1,153.8 512.5,156.0 C511.9,158.2 511.0,160.5 510.0,161.0 C509.0,161.5 507.5,160.5 506.5,159.0 C505.5,157.5 504.4,154.3 504.0,152.0 C503.6,149.7 503.2,146.4 504.0,145.0Z" fill="#A48CCF" fill-opacity="0.85" />
<circle cx="480.8" cy="146.5" r="0.8" fill="#3DAE3B" fill-opacity="0.9"/>
<circle cx="483.6" cy="147.6" r="0.8" fill="#3DAE3B" fill-opacity="0.9"/>
<circle cx="486.0" cy="149.5" r="0.8" fill="#3DAE3B" fill-opacity="0.9"/>
<circle cx="489.0" cy="149.7" r="0.8" fill="#3DAE3B" fill-opacity="0.9"/>
<circle cx="491.4" cy="147.3" r="0.8" fill="#3DAE3B" fill-opacity="0.9"/>
<circle cx="494.0" cy="150.3" r="0.8" fill="#3DAE3B" fill-opacity="0.9"/>
<circle cx="497.9" cy="150.0" r="0.8" fill="#3DAE3B" fill-opacity="0.9"/>
<circle cx="499.6" cy="150.6" r="0.8" fill="#3DAE3B" fill-opacity="0.9"/>
<circle cx="502.8" cy="151.8" r="0.8" fill="#3DAE3B" fill-opacity="0.9"/>
<circle cx="503.7" cy="150.5" r="0.8" fill="#3DAE3B" fill-opacity="0.9"/>
<path d="M424.0,64.5 C424.8,63.8 428.0,63.2 430.0,63.0 C432.0,62.8 433.7,63.5 436.0,63.5 C438.3,63.5 442.2,62.8 444.0,63.0 C445.8,63.2 447.2,63.8 447.0,64.5 C446.8,65.2 444.7,66.6 443.0,67.5 C441.3,68.4 439.0,69.8 437.0,70.0 C435.0,70.2 433.0,68.9 431.0,68.5 C429.0,68.1 426.2,68.2 425.0,67.5 C423.8,66.8 423.2,65.2 424.0,64.5Z" fill="#24B5BF" fill-opacity="1.0" />
<path d="M423.5,64.0 C424.0,63.2 426.6,62.8 428.0,62.8 C429.4,62.8 431.5,63.1 432.0,64.0 C432.5,64.9 432.2,67.4 431.0,68.0 C429.8,68.6 426.2,68.2 425.0,67.5 C423.8,66.8 423.0,64.8 423.5,64.0Z" fill="#E7735F" fill-opacity="1.0" />
<circle cx="435.0" cy="70.0" r="0.8" fill="#4DAF4A" fill-opacity="0.9"/>
<circle cx="437.0" cy="72.0" r="0.8" fill="#4DAF4A" fill-opacity="0.9"/>
<circle cx="438.5" cy="74.0" r="0.8" fill="#4DAF4A" fill-opacity="0.9"/>
<circle cx="436.0" cy="73.5" r="0.8" fill="#4DAF4A" fill-opacity="0.9"/>
<path d="M425.5,93.0 C426.3,92.2 429.1,91.7 431.0,91.5 C432.9,91.3 435.0,91.6 437.0,92.0 C439.0,92.4 442.3,93.0 443.0,94.0 C443.7,95.0 442.2,97.0 441.0,98.0 C439.8,99.0 438.0,99.8 436.0,100.0 C434.0,100.2 430.7,99.6 429.0,99.0 C427.3,98.4 426.6,97.5 426.0,96.5 C425.4,95.5 424.7,93.8 425.5,93.0Z" fill="#E88048" fill-opacity="1.0" />
<path d="M436.0,98.0 C436.5,96.7 439.2,96.5 441.0,97.0 C442.8,97.5 445.8,99.3 447.0,101.0 C448.2,102.7 448.7,105.7 448.0,107.0 C447.3,108.3 444.7,109.3 443.0,109.0 C441.3,108.7 439.2,106.8 438.0,105.0 C436.8,103.2 435.5,99.3 436.0,98.0Z" fill="#5DB04A" fill-opacity="0.9" />
<circle cx="478.9" cy="132.9" r="0.78" fill="#3DAE3B" fill-opacity="0.9"/>
<circle cx="476.0" cy="158.6" r="0.78" fill="#3DAE3B" fill-opacity="0.9"/>
<circle cx="473.6" cy="127.9" r="0.78" fill="#3DAE3B" fill-opacity="0.9"/>
<circle cx="474.9" cy="128.3" r="0.78" fill="#3DAE3B" fill-opacity="0.9"/>
<circle cx="476.1" cy="144.4" r="0.78" fill="#3DAE3B" fill-opacity="0.9"/>
<circle cx="449.3" cy="134.3" r="0.78" fill="#3DAE3B" fill-opacity="0.9"/>
<circle cx="456.3" cy="132.5" r="0.78" fill="#3DAE3B" fill-opacity="0.9"/>
<circle cx="466.2" cy="158.9" r="0.78" fill="#3DAE3B" fill-opacity="0.9"/>
<circle cx="480.1" cy="132.8" r="0.78" fill="#3DAE3B" fill-opacity="0.9"/>
<circle cx="445.3" cy="161.3" r="0.78" fill="#3DAE3B" fill-opacity="0.9"/>
<circle cx="445.2" cy="138.1" r="0.78" fill="#3DAE3B" fill-opacity="0.9"/>
<circle cx="443.3" cy="163.7" r="0.78" fill="#3DAE3B" fill-opacity="0.9"/>
<circle cx="444.4" cy="190.6" r="0.78" fill="#3DAE3B" fill-opacity="0.9"/>
<circle cx="443.7" cy="143.5" r="0.78" fill="#3DAE3B" fill-opacity="0.9"/>
<circle cx="464.1" cy="161.5" r="0.78" fill="#3DAE3B" fill-opacity="0.9"/>
<circle cx="444.6" cy="187.6" r="0.78" fill="#3DAE3B" fill-opacity="0.9"/>
<circle cx="458.7" cy="160.3" r="0.78" fill="#3DAE3B" fill-opacity="0.9"/>
<circle cx="477.1" cy="146.0" r="0.78" fill="#3DAE3B" fill-opacity="0.9"/>
<circle cx="444.4" cy="184.3" r="0.78" fill="#3DAE3B" fill-opacity="0.9"/>
<circle cx="441.3" cy="151.7" r="0.78" fill="#3DAE3B" fill-opacity="0.9"/>
<circle cx="476.4" cy="158.1" r="0.78" fill="#3DAE3B" fill-opacity="0.9"/>
<circle cx="478.2" cy="156.3" r="0.78" fill="#3DAE3B" fill-opacity="0.9"/>
<circle cx="479.0" cy="147.9" r="0.78" fill="#3DAE3B" fill-opacity="0.9"/>
<circle cx="451.7" cy="171.6" r="0.78" fill="#3DAE3B" fill-opacity="0.9"/>
<circle cx="443.9" cy="182.3" r="0.78" fill="#3DAE3B" fill-opacity="0.9"/>
<circle cx="454.5" cy="136.2" r="0.78" fill="#3DAE3B" fill-opacity="0.9"/>
<circle cx="447.7" cy="172.7" r="0.78" fill="#3DAE3B" fill-opacity="0.9"/>
<circle cx="477.0" cy="129.0" r="0.78" fill="#3DAE3B" fill-opacity="0.9"/>
<circle cx="447.3" cy="182.3" r="0.78" fill="#3DAE3B" fill-opacity="0.9"/>
<circle cx="439.2" cy="181.4" r="0.78" fill="#3DAE3B" fill-opacity="0.9"/>
<circle cx="469.7" cy="163.5" r="0.78" fill="#3DAE3B" fill-opacity="0.9"/>
<circle cx="441.8" cy="138.4" r="0.78" fill="#3DAE3B" fill-opacity="0.9"/>
<circle cx="475.8" cy="159.6" r="0.78" fill="#3DAE3B" fill-opacity="0.9"/>
<circle cx="438.8" cy="145.5" r="0.78" fill="#3DAE3B" fill-opacity="0.9"/>
<circle cx="468.3" cy="162.2" r="0.78" fill="#3DAE3B" fill-opacity="0.9"/>
<circle cx="444.2" cy="187.2" r="0.78" fill="#3DAE3B" fill-opacity="0.9"/>
<circle cx="468.5" cy="126.5" r="0.78" fill="#3DAE3B" fill-opacity="0.9"/>
<circle cx="441.5" cy="188.5" r="0.78" fill="#3DAE3B" fill-opacity="0.9"/>
<circle cx="451.0" cy="169.7" r="0.78" fill="#3DAE3B" fill-opacity="0.9"/>
<circle cx="441.1" cy="175.8" r="0.78" fill="#3DAE3B" fill-opacity="0.9"/>
<circle cx="439.0" cy="191.2" r="0.78" fill="#3DAE3B" fill-opacity="0.9"/>
<circle cx="440.8" cy="181.3" r="0.78" fill="#3DAE3B" fill-opacity="0.9"/>
<circle cx="440.2" cy="184.2" r="0.78" fill="#3DAE3B" fill-opacity="0.9"/>
<circle cx="468.9" cy="163.8" r="0.78" fill="#3DAE3B" fill-opacity="0.9"/>
<circle cx="475.9" cy="158.6" r="0.78" fill="#3DAE3B" fill-opacity="0.9"/>
<circle cx="470.1" cy="130.8" r="0.78" fill="#3DAE3B" fill-opacity="0.9"/>
<circle cx="477.4" cy="131.9" r="0.78" fill="#3DAE3B" fill-opacity="0.9"/>
<circle cx="458.5" cy="130.9" r="0.78" fill="#3DAE3B" fill-opacity="0.9"/>
<circle cx="449.3" cy="181.8" r="0.78" fill="#3DAE3B" fill-opacity="0.9"/>
<circle cx="440.6" cy="143.3" r="0.78" fill="#3DAE3B" fill-opacity="0.9"/>
<circle cx="470.2" cy="158.4" r="0.78" fill="#3DAE3B" fill-opacity="0.9"/>
<circle cx="447.1" cy="157.0" r="0.78" fill="#3DAE3B" fill-opacity="0.9"/>
<circle cx="459.8" cy="160.6" r="0.78" fill="#3DAE3B" fill-opacity="0.9"/>
<circle cx="444.7" cy="152.5" r="0.78" fill="#3DAE3B" fill-opacity="0.9"/>
<circle cx="446.6" cy="162.0" r="0.78" fill="#3DAE3B" fill-opacity="0.9"/>
<circle cx="464.2" cy="160.3" r="0.78" fill="#3DAE3B" fill-opacity="0.9"/>
<circle cx="447.4" cy="180.7" r="0.78" fill="#3DAE3B" fill-opacity="0.9"/>
<circle cx="443.4" cy="143.6" r="0.78" fill="#3DAE3B" fill-opacity="0.9"/>
<circle cx="437.5" cy="143.0" r="0.78" fill="#3DAE3B" fill-opacity="0.9"/>
<circle cx="443.5" cy="152.5" r="0.78" fill="#3DAE3B" fill-opacity="0.9"/>
<circle cx="445.9" cy="183.9" r="0.78" fill="#3DAE3B" fill-opacity="0.9"/>
<circle cx="446.9" cy="162.2" r="0.78" fill="#3DAE3B" fill-opacity="0.9"/>
<circle cx="442.9" cy="181.7" r="0.78" fill="#3DAE3B" fill-opacity="0.9"/>
<circle cx="455.4" cy="169.8" r="0.78" fill="#3DAE3B" fill-opacity="0.9"/>
<circle cx="449.1" cy="134.9" r="0.78" fill="#3DAE3B" fill-opacity="0.9"/>
<circle cx="441.1" cy="174.1" r="0.78" fill="#3DAE3B" fill-opacity="0.9"/>
<circle cx="444.8" cy="154.0" r="0.78" fill="#3DAE3B" fill-opacity="0.9"/>
<circle cx="472.9" cy="160.1" r="0.78" fill="#3DAE3B" fill-opacity="0.9"/>
<circle cx="441.2" cy="147.2" r="0.78" fill="#3DAE3B" fill-opacity="0.9"/>
<circle cx="452.7" cy="136.2" r="0.78" fill="#3DAE3B" fill-opacity="0.9"/>
<circle cx="444.3" cy="185.5" r="0.78" fill="#3DAE3B" fill-opacity="0.9"/>
<circle cx="446.0" cy="190.7" r="0.78" fill="#3DAE3B" fill-opacity="0.9"/>
<circle cx="462.8" cy="132.0" r="0.78" fill="#3DAE3B" fill-opacity="0.9"/>
<circle cx="475.9" cy="160.6" r="0.78" fill="#3DAE3B" fill-opacity="0.9"/>
<circle cx="444.7" cy="187.4" r="0.78" fill="#3DAE3B" fill-opacity="0.9"/>
<circle cx="474.7" cy="128.0" r="0.78" fill="#3DAE3B" fill-opacity="0.9"/>
<circle cx="458.9" cy="165.6" r="0.78" fill="#3DAE3B" fill-opacity="0.9"/>
<circle cx="467.9" cy="162.7" r="0.78" fill="#3DAE3B" fill-opacity="0.9"/>
<circle cx="478.6" cy="147.2" r="0.78" fill="#3DAE3B" fill-opacity="0.9"/>
<circle cx="446.1" cy="158.3" r="0.78" fill="#3DAE3B" fill-opacity="0.9"/>
<circle cx="449.6" cy="173.5" r="0.78" fill="#3DAE3B" fill-opacity="0.9"/>
<circle cx="440.0" cy="140.4" r="0.78" fill="#3DAE3B" fill-opacity="0.9"/>
<circle cx="439.8" cy="138.4" r="0.78" fill="#3DAE3B" fill-opacity="0.9"/>
<circle cx="475.8" cy="157.7" r="0.78" fill="#3DAE3B" fill-opacity="0.9"/>
<circle cx="461.6" cy="158.4" r="0.78" fill="#3DAE3B" fill-opacity="0.9"/>
<circle cx="447.1" cy="183.4" r="0.78" fill="#3DAE3B" fill-opacity="0.9"/>
<circle cx="468.3" cy="128.6" r="0.78" fill="#3DAE3B" fill-opacity="0.9"/>
<circle cx="465.5" cy="130.3" r="0.78" fill="#3DAE3B" fill-opacity="0.9"/>
<circle cx="450.5" cy="177.0" r="0.78" fill="#3DAE3B" fill-opacity="0.9"/>
<circle cx="452.8" cy="170.2" r="0.78" fill="#3DAE3B" fill-opacity="0.9"/>
<path d="M439.8,138.6 C442.6,136.1 451.2,134.9 456.5,133.0 C461.8,131.1 467.4,127.7 471.4,127.4 C475.4,127.1 479.8,128.4 480.7,131.2 C481.6,134.0 477.6,139.9 477.0,144.2 C476.4,148.5 477.9,154.1 477.0,157.2 C476.1,160.3 474.2,162.5 471.4,162.8 C468.6,163.1 462.7,158.5 460.2,159.1 C457.7,159.7 458.2,164.3 456.5,166.5 C454.8,168.7 451.4,169.8 450.0,172.0 C448.6,174.2 448.7,177.7 448.0,180.0 C447.3,182.3 446.8,184.3 446.0,186.0 C445.2,187.7 443.7,191.0 443.0,190.0 C442.3,189.0 441.8,183.9 441.6,180.0 C441.4,176.1 441.0,170.3 441.6,166.5 C442.2,162.7 445.6,160.3 445.3,157.2 C445.0,154.1 440.7,151.0 439.8,147.9 C438.9,144.8 437.0,141.1 439.8,138.6Z" fill="#3DAE3B" fill-opacity="1.0" />
<path d="M441.0,160.0 C443.7,158.0 452.8,158.7 456.0,160.0 C459.2,161.3 459.8,165.0 460.0,168.0 C460.2,171.0 458.7,175.2 457.0,178.0 C455.3,180.8 452.3,184.2 450.0,185.0 C447.7,185.8 444.7,185.2 443.0,183.0 C441.3,180.8 440.3,175.8 440.0,172.0 C439.7,168.2 438.3,162.0 441.0,160.0Z" fill="#3DAE3B" fill-opacity="0.95" />
<path d="M447.0,178.0 C448.3,174.7 454.8,172.0 458.0,172.0 C461.2,172.0 464.0,175.7 466.0,178.0 C468.0,180.3 468.6,183.3 470.0,186.0 C471.4,188.7 474.2,191.5 474.5,194.0 C474.8,196.5 473.8,199.5 472.0,201.0 C470.2,202.5 466.7,203.2 464.0,203.0 C461.3,202.8 458.3,201.8 456.0,200.0 C453.7,198.2 451.5,195.7 450.0,192.0 C448.5,188.3 445.7,181.3 447.0,178.0Z" fill="#24B5BF" fill-opacity="0.8" />
<circle cx="465.5" cy="195.4" r="0.8" fill="#3DAE3B" fill-opacity="0.9"/>
<circle cx="462.1" cy="179.9" r="0.8" fill="#3DAE3B" fill-opacity="0.9"/>
<circle cx="466.5" cy="179.1" r="0.8" fill="#3DAE3B" fill-opacity="0.9"/>
<circle cx="456.2" cy="173.9" r="0.8" fill="#3DAE3B" fill-opacity="0.9"/>
<circle cx="457.7" cy="195.8" r="0.8" fill="#3DAE3B" fill-opacity="0.9"/>
<circle cx="465.4" cy="178.2" r="0.8" fill="#3DAE3B" fill-opacity="0.9"/>
<circle cx="451.8" cy="180.5" r="0.8" fill="#3DAE3B" fill-opacity="0.9"/>
<circle cx="451.3" cy="186.3" r="0.8" fill="#3DAE3B" fill-opacity="0.9"/>
<circle cx="464.8" cy="194.4" r="0.8" fill="#3DAE3B" fill-opacity="0.9"/>
<circle cx="464.9" cy="192.4" r="0.8" fill="#3DAE3B" fill-opacity="0.9"/>
<circle cx="451.2" cy="188.1" r="0.8" fill="#3DAE3B" fill-opacity="0.9"/>
<circle cx="462.4" cy="200.3" r="0.8" fill="#3DAE3B" fill-opacity="0.9"/>
<circle cx="459.3" cy="176.4" r="0.8" fill="#3DAE3B" fill-opacity="0.9"/>
<circle cx="454.5" cy="177.2" r="0.8" fill="#3DAE3B" fill-opacity="0.9"/>
<circle cx="460.4" cy="187.1" r="0.8" fill="#3DAE3B" fill-opacity="0.9"/>
<circle cx="463.7" cy="196.4" r="0.8" fill="#3DAE3B" fill-opacity="0.9"/>
<circle cx="458.0" cy="189.2" r="0.8" fill="#3DAE3B" fill-opacity="0.9"/>
<circle cx="456.2" cy="179.2" r="0.8" fill="#3DAE3B" fill-opacity="0.9"/>
<circle cx="469.0" cy="196.4" r="0.8" fill="#3DAE3B" fill-opacity="0.9"/>
<circle cx="458.9" cy="176.8" r="0.8" fill="#3DAE3B" fill-opacity="0.9"/>
<circle cx="450.3" cy="180.3" r="0.8" fill="#3DAE3B" fill-opacity="0.9"/>
<circle cx="466.2" cy="194.4" r="0.8" fill="#3DAE3B" fill-opacity="0.9"/>
<circle cx="448.5" cy="178.9" r="0.8" fill="#3DAE3B" fill-opacity="0.9"/>
<circle cx="464.4" cy="182.0" r="0.8" fill="#3DAE3B" fill-opacity="0.9"/>
<circle cx="470.7" cy="189.7" r="0.8" fill="#3DAE3B" fill-opacity="0.9"/>
<circle cx="466.4" cy="181.8" r="0.8" fill="#3DAE3B" fill-opacity="0.9"/>
<circle cx="455.3" cy="193.4" r="0.8" fill="#3DAE3B" fill-opacity="0.9"/>
<circle cx="464.6" cy="183.8" r="0.8" fill="#3DAE3B" fill-opacity="0.9"/>
<circle cx="468.2" cy="195.3" r="0.8" fill="#3DAE3B" fill-opacity="0.9"/>
<circle cx="457.8" cy="191.1" r="0.8" fill="#3DAE3B" fill-opacity="0.9"/>
<circle cx="460.0" cy="182.6" r="0.8" fill="#3DAE3B" fill-opacity="0.9"/>
<circle cx="453.3" cy="174.9" r="0.8" fill="#3DAE3B" fill-opacity="0.9"/>
<circle cx="454.3" cy="191.7" r="0.8" fill="#3DAE3B" fill-opacity="0.9"/>
<circle cx="455.7" cy="174.1" r="0.8" fill="#3DAE3B" fill-opacity="0.9"/>
<circle cx="465.9" cy="201.2" r="0.8" fill="#3DAE3B" fill-opacity="0.9"/>
<circle cx="451.1" cy="179.1" r="0.8" fill="#3DAE3B" fill-opacity="0.9"/>
<circle cx="455.9" cy="181.9" r="0.8" fill="#3DAE3B" fill-opacity="0.9"/>
<circle cx="450.9" cy="180.6" r="0.8" fill="#3DAE3B" fill-opacity="0.9"/>
<circle cx="465.4" cy="184.9" r="0.8" fill="#3DAE3B" fill-opacity="0.9"/>
<circle cx="466.4" cy="188.7" r="0.8" fill="#3DAE3B" fill-opacity="0.9"/>
<circle cx="455.5" cy="183.9" r="0.8" fill="#3DAE3B" fill-opacity="0.9"/>
<circle cx="460.5" cy="191.0" r="0.8" fill="#3DAE3B" fill-opacity="0.9"/>
<circle cx="460.6" cy="177.1" r="0.8" fill="#3DAE3B" fill-opacity="0.9"/>
<circle cx="463.2" cy="194.4" r="0.8" fill="#3DAE3B" fill-opacity="0.9"/>
<circle cx="459.7" cy="178.6" r="0.8" fill="#3DAE3B" fill-opacity="0.9"/>
<circle cx="456.1" cy="181.1" r="0.8" fill="#3DAE3B" fill-opacity="0.9"/>
<circle cx="457.8" cy="191.2" r="0.8" fill="#3DAE3B" fill-opacity="0.9"/>
<circle cx="460.1" cy="174.2" r="0.8" fill="#3DAE3B" fill-opacity="0.9"/>
<circle cx="451.3" cy="184.2" r="0.8" fill="#3DAE3B" fill-opacity="0.9"/>
<circle cx="457.1" cy="183.7" r="0.8" fill="#3DAE3B" fill-opacity="0.9"/>
<circle cx="460.8" cy="198.0" r="0.8" fill="#3DAE3B" fill-opacity="0.9"/>
<circle cx="463.1" cy="188.4" r="0.8" fill="#3DAE3B" fill-opacity="0.9"/>
<circle cx="460.3" cy="176.4" r="0.8" fill="#3DAE3B" fill-opacity="0.9"/>
<circle cx="453.4" cy="186.4" r="0.8" fill="#3DAE3B" fill-opacity="0.9"/>
<circle cx="466.5" cy="193.2" r="0.8" fill="#3DAE3B" fill-opacity="0.9"/>
<circle cx="467.4" cy="181.1" r="0.8" fill="#3DAE3B" fill-opacity="0.9"/>
<circle cx="450.0" cy="181.3" r="0.8" fill="#3DAE3B" fill-opacity="0.9"/>
<circle cx="455.0" cy="174.9" r="0.8" fill="#3DAE3B" fill-opacity="0.9"/>
<circle cx="466.3" cy="181.2" r="0.8" fill="#3DAE3B" fill-opacity="0.9"/>
<circle cx="463.2" cy="178.9" r="0.8" fill="#3DAE3B" fill-opacity="0.9"/>
<circle cx="466.7" cy="190.4" r="0.8" fill="#fff" fill-opacity="0.9"/>
<circle cx="459.9" cy="197.0" r="0.8" fill="#fff" fill-opacity="0.9"/>
<circle cx="453.1" cy="174.9" r="0.8" fill="#fff" fill-opacity="0.9"/>
<circle cx="454.2" cy="194.3" r="0.8" fill="#fff" fill-opacity="0.9"/>
<circle cx="457.3" cy="197.7" r="0.8" fill="#fff" fill-opacity="0.9"/>
<circle cx="467.0" cy="201.7" r="0.8" fill="#fff" fill-opacity="0.9"/>
<circle cx="452.0" cy="182.6" r="0.8" fill="#fff" fill-opacity="0.9"/>
<circle cx="455.5" cy="196.1" r="0.8" fill="#fff" fill-opacity="0.9"/>
<circle cx="459.6" cy="181.0" r="0.8" fill="#fff" fill-opacity="0.9"/>
<circle cx="466.4" cy="196.5" r="0.8" fill="#fff" fill-opacity="0.9"/>
<circle cx="456.3" cy="196.9" r="0.8" fill="#fff" fill-opacity="0.9"/>
<circle cx="451.3" cy="189.6" r="0.8" fill="#fff" fill-opacity="0.9"/>
<circle cx="465.9" cy="195.4" r="0.8" fill="#fff" fill-opacity="0.9"/>
<circle cx="451.4" cy="185.2" r="0.8" fill="#fff" fill-opacity="0.9"/>
<circle cx="455.6" cy="189.7" r="0.8" fill="#fff" fill-opacity="0.9"/>
<circle cx="465.7" cy="199.7" r="0.8" fill="#fff" fill-opacity="0.9"/>
<circle cx="460.2" cy="190.1" r="0.8" fill="#fff" fill-opacity="0.9"/>
<circle cx="452.8" cy="193.1" r="0.8" fill="#fff" fill-opacity="0.9"/>
<circle cx="466.1" cy="195.1" r="0.8" fill="#fff" fill-opacity="0.9"/>
<circle cx="470.6" cy="199.7" r="0.8" fill="#fff" fill-opacity="0.9"/>
<circle cx="462.7" cy="195.4" r="0.8" fill="#fff" fill-opacity="0.9"/>
<circle cx="454.8" cy="188.1" r="0.8" fill="#fff" fill-opacity="0.9"/>
<circle cx="472.5" cy="196.6" r="0.8" fill="#fff" fill-opacity="0.9"/>
<circle cx="452.9" cy="183.2" r="0.8" fill="#fff" fill-opacity="0.9"/>
<circle cx="458.1" cy="173.4" r="0.8" fill="#fff" fill-opacity="0.9"/>
<circle cx="459.3" cy="191.2" r="0.8" fill="#fff" fill-opacity="0.9"/>
<circle cx="452.4" cy="188.9" r="0.8" fill="#fff" fill-opacity="0.9"/>
<circle cx="463.7" cy="186.3" r="0.8" fill="#fff" fill-opacity="0.9"/>
<circle cx="469.1" cy="185.3" r="0.8" fill="#fff" fill-opacity="0.9"/>
<circle cx="460.4" cy="179.4" r="0.8" fill="#fff" fill-opacity="0.9"/>
<circle cx="466.8" cy="198.9" r="0.8" fill="#fff" fill-opacity="0.9"/>
<circle cx="463.9" cy="195.7" r="0.8" fill="#fff" fill-opacity="0.9"/>
<circle cx="464.9" cy="182.1" r="0.8" fill="#fff" fill-opacity="0.9"/>
<circle cx="463.5" cy="178.0" r="0.8" fill="#fff" fill-opacity="0.9"/>
<circle cx="470.0" cy="198.2" r="0.8" fill="#fff" fill-opacity="0.9"/>
<circle cx="463.1" cy="195.1" r="0.8" fill="#fff" fill-opacity="0.9"/>
<circle cx="449.9" cy="179.1" r="0.8" fill="#fff" fill-opacity="0.9"/>
<circle cx="449.1" cy="178.9" r="0.8" fill="#fff" fill-opacity="0.9"/>
<circle cx="468.1" cy="192.6" r="0.8" fill="#fff" fill-opacity="0.9"/>
<circle cx="460.4" cy="184.1" r="0.8" fill="#fff" fill-opacity="0.9"/>
<circle cx="452.2" cy="193.1" r="0.8" fill="#24B5BF" fill-opacity="0.9"/>
<circle cx="462.4" cy="201.8" r="0.8" fill="#24B5BF" fill-opacity="0.9"/>
<circle cx="477.5" cy="194.2" r="0.8" fill="#24B5BF" fill-opacity="0.9"/>
<circle cx="445.6" cy="183.8" r="0.8" fill="#24B5BF" fill-opacity="0.9"/>
<circle cx="468.4" cy="186.0" r="0.8" fill="#24B5BF" fill-opacity="0.9"/>
<circle cx="474.6" cy="193.2" r="0.8" fill="#24B5BF" fill-opacity="0.9"/>
<circle cx="448.1" cy="185.1" r="0.8" fill="#24B5BF" fill-opacity="0.9"/>
<circle cx="455.0" cy="172.4" r="0.8" fill="#24B5BF" fill-opacity="0.9"/>
<circle cx="452.5" cy="175.7" r="0.8" fill="#24B5BF" fill-opacity="0.9"/>
<circle cx="465.1" cy="204.6" r="0.8" fill="#24B5BF" fill-opacity="0.9"/>
<circle cx="471.0" cy="184.9" r="0.8" fill="#24B5BF" fill-opacity="0.9"/>
<circle cx="455.8" cy="200.1" r="0.8" fill="#24B5BF" fill-opacity="0.9"/>
<circle cx="451.3" cy="175.7" r="0.8" fill="#24B5BF" fill-opacity="0.9"/>
<circle cx="466.1" cy="201.7" r="0.8" fill="#24B5BF" fill-opacity="0.9"/>
<circle cx="458.4" cy="176.6" r="0.8" fill="#24B5BF" fill-opacity="0.9"/>
<circle cx="468.1" cy="182.7" r="0.8" fill="#24B5BF" fill-opacity="0.9"/>
<circle cx="459.1" cy="172.9" r="0.8" fill="#24B5BF" fill-opacity="0.9"/>
<circle cx="446.9" cy="178.6" r="0.8" fill="#24B5BF" fill-opacity="0.9"/>
<circle cx="460.2" cy="173.3" r="0.8" fill="#24B5BF" fill-opacity="0.9"/>
<circle cx="451.2" cy="190.4" r="0.8" fill="#24B5BF" fill-opacity="0.9"/>
<circle cx="460.9" cy="173.4" r="0.8" fill="#24B5BF" fill-opacity="0.9"/>
<circle cx="460.5" cy="174.1" r="0.8" fill="#24B5BF" fill-opacity="0.9"/>
<circle cx="461.2" cy="202.0" r="0.8" fill="#24B5BF" fill-opacity="0.9"/>
<circle cx="468.0" cy="203.4" r="0.8" fill="#24B5BF" fill-opacity="0.9"/>
<circle cx="450.6" cy="195.2" r="0.8" fill="#24B5BF" fill-opacity="0.9"/>
<circle cx="452.1" cy="191.1" r="0.8" fill="#24B5BF" fill-opacity="0.9"/>
<circle cx="458.3" cy="201.0" r="0.8" fill="#24B5BF" fill-opacity="0.9"/>
<circle cx="467.8" cy="202.4" r="0.8" fill="#24B5BF" fill-opacity="0.9"/>
<circle cx="464.4" cy="201.0" r="0.8" fill="#24B5BF" fill-opacity="0.9"/>
<circle cx="469.3" cy="187.2" r="0.8" fill="#24B5BF" fill-opacity="0.9"/>
<circle cx="462.4" cy="175.0" r="0.8" fill="#24B5BF" fill-opacity="0.9"/>
<circle cx="469.4" cy="188.8" r="0.8" fill="#24B5BF" fill-opacity="0.9"/>
<circle cx="472.7" cy="197.0" r="0.8" fill="#24B5BF" fill-opacity="0.9"/>
<circle cx="450.0" cy="195.1" r="0.8" fill="#24B5BF" fill-opacity="0.9"/>
<circle cx="450.0" cy="188.4" r="0.8" fill="#24B5BF" fill-opacity="0.9"/>
<circle cx="453.2" cy="197.1" r="0.8" fill="#24B5BF" fill-opacity="0.9"/>
<circle cx="457.2" cy="198.5" r="0.8" fill="#24B5BF" fill-opacity="0.9"/>
<circle cx="472.8" cy="199.5" r="0.8" fill="#24B5BF" fill-opacity="0.9"/>
<circle cx="471.9" cy="190.3" r="0.8" fill="#24B5BF" fill-opacity="0.9"/>
<circle cx="448.9" cy="180.5" r="0.8" fill="#24B5BF" fill-opacity="0.9"/>
<circle cx="447.9" cy="195.0" r="0.8" fill="#24B5BF" fill-opacity="0.9"/>
<circle cx="464.3" cy="178.7" r="0.8" fill="#24B5BF" fill-opacity="0.9"/>
<circle cx="462.4" cy="172.9" r="0.8" fill="#24B5BF" fill-opacity="0.9"/>
<circle cx="475.2" cy="197.8" r="0.8" fill="#24B5BF" fill-opacity="0.9"/>
<circle cx="450.4" cy="178.8" r="0.8" fill="#24B5BF" fill-opacity="0.9"/>
<circle cx="462.8" cy="176.4" r="0.8" fill="#24B5BF" fill-opacity="0.9"/>
<circle cx="473.2" cy="190.8" r="0.8" fill="#24B5BF" fill-opacity="0.9"/>
<circle cx="464.1" cy="201.7" r="0.8" fill="#24B5BF" fill-opacity="0.9"/>
<circle cx="450.3" cy="174.6" r="0.8" fill="#24B5BF" fill-opacity="0.9"/>
<circle cx="468.2" cy="202.0" r="0.8" fill="#24B5BF" fill-opacity="0.9"/>
<path d="M442.0,202.0 C443.2,200.0 447.3,199.0 450.0,199.0 C452.7,199.0 456.0,200.5 458.0,202.0 C460.0,203.5 462.2,206.2 462.0,208.0 C461.8,209.8 459.2,211.8 457.0,213.0 C454.8,214.2 451.3,215.3 449.0,215.0 C446.7,214.7 444.2,213.2 443.0,211.0 C441.8,208.8 440.8,204.0 442.0,202.0Z" fill="#24B5BF" fill-opacity="0.9" />
<circle cx="449.7" cy="215.9" r="0.8" fill="#24B5BF" fill-opacity="0.9"/>
<circle cx="442.7" cy="201.9" r="0.8" fill="#24B5BF" fill-opacity="0.9"/>
<circle cx="458.9" cy="212.8" r="0.8" fill="#24B5BF" fill-opacity="0.9"/>
<circle cx="462.7" cy="204.6" r="0.8" fill="#24B5BF" fill-opacity="0.9"/>
<circle cx="455.2" cy="199.8" r="0.8" fill="#24B5BF" fill-opacity="0.9"/>
<circle cx="454.3" cy="200.6" r="0.8" fill="#24B5BF" fill-opacity="0.9"/>
<circle cx="460.3" cy="207.6" r="0.8" fill="#24B5BF" fill-opacity="0.9"/>
<circle cx="443.3" cy="209.9" r="0.8" fill="#24B5BF" fill-opacity="0.9"/>
<circle cx="460.3" cy="205.0" r="0.8" fill="#24B5BF" fill-opacity="0.9"/>
<circle cx="458.4" cy="202.7" r="0.8" fill="#24B5BF" fill-opacity="0.9"/>
<circle cx="446.2" cy="201.3" r="0.8" fill="#24B5BF" fill-opacity="0.9"/>
<circle cx="462.4" cy="208.3" r="0.8" fill="#24B5BF" fill-opacity="0.9"/>
<circle cx="456.9" cy="214.2" r="0.8" fill="#24B5BF" fill-opacity="0.9"/>
<circle cx="447.7" cy="200.2" r="0.8" fill="#24B5BF" fill-opacity="0.9"/>
<circle cx="458.7" cy="208.2" r="0.8" fill="#24B5BF" fill-opacity="0.9"/>
<circle cx="456.7" cy="215.1" r="0.8" fill="#24B5BF" fill-opacity="0.9"/>
<circle cx="451.3" cy="212.9" r="0.8" fill="#24B5BF" fill-opacity="0.9"/>
<circle cx="448.3" cy="199.8" r="0.8" fill="#24B5BF" fill-opacity="0.9"/>
<circle cx="444.0" cy="210.7" r="0.8" fill="#24B5BF" fill-opacity="0.9"/>
<circle cx="444.0" cy="201.5" r="0.8" fill="#24B5BF" fill-opacity="0.9"/>
<circle cx="441.7" cy="204.7" r="0.8" fill="#24B5BF" fill-opacity="0.9"/>
<circle cx="456.5" cy="212.3" r="0.8" fill="#24B5BF" fill-opacity="0.9"/>
<circle cx="455.9" cy="213.9" r="0.8" fill="#24B5BF" fill-opacity="0.9"/>
<circle cx="447.4" cy="212.9" r="0.8" fill="#24B5BF" fill-opacity="0.9"/>
<circle cx="455.2" cy="200.4" r="0.8" fill="#24B5BF" fill-opacity="0.9"/>
<circle cx="451.4" cy="195.0" r="0.85" fill="#3DAE3B" fill-opacity="0.9"/>
<circle cx="448.1" cy="188.5" r="0.85" fill="#3DAE3B" fill-opacity="0.9"/>
<circle cx="446.3" cy="192.1" r="0.85" fill="#3DAE3B" fill-opacity="0.9"/>
<circle cx="450.8" cy="196.0" r="0.85" fill="#3DAE3B" fill-opacity="0.9"/>
<circle cx="447.3" cy="200.0" r="0.85" fill="#3DAE3B" fill-opacity="0.9"/>
<circle cx="450.7" cy="196.5" r="0.85" fill="#3DAE3B" fill-opacity="0.9"/>
<circle cx="443.4" cy="194.7" r="0.85" fill="#3DAE3B" fill-opacity="0.9"/>
<circle cx="442.3" cy="194.6" r="0.85" fill="#3DAE3B" fill-opacity="0.9"/>
<circle cx="444.8" cy="190.0" r="0.85" fill="#3DAE3B" fill-opacity="0.9"/>
<circle cx="450.1" cy="198.1" r="0.85" fill="#3DAE3B" fill-opacity="0.9"/>
<circle cx="449.2" cy="191.0" r="0.85" fill="#3DAE3B" fill-opacity="0.9"/>
<circle cx="451.2" cy="193.9" r="0.85" fill="#3DAE3B" fill-opacity="0.9"/>
<circle cx="448.2" cy="186.5" r="0.85" fill="#3DAE3B" fill-opacity="0.9"/>
<circle cx="449.3" cy="195.4" r="0.85" fill="#3DAE3B" fill-opacity="0.9"/>
<circle cx="446.2" cy="197.8" r="0.85" fill="#3DAE3B" fill-opacity="0.9"/>
<circle cx="451.3" cy="195.5" r="0.85" fill="#3DAE3B" fill-opacity="0.9"/>
<circle cx="441.9" cy="189.7" r="0.85" fill="#3DAE3B" fill-opacity="0.9"/>
<circle cx="448.7" cy="189.6" r="0.85" fill="#3DAE3B" fill-opacity="0.9"/>
<circle cx="442.8" cy="191.2" r="0.85" fill="#3DAE3B" fill-opacity="0.9"/>
<circle cx="442.6" cy="191.5" r="0.85" fill="#3DAE3B" fill-opacity="0.9"/>
<circle cx="442.2" cy="194.4" r="0.85" fill="#3DAE3B" fill-opacity="0.9"/>
<circle cx="448.1" cy="186.6" r="0.85" fill="#3DAE3B" fill-opacity="0.9"/>
<circle cx="447.9" cy="192.9" r="0.85" fill="#3DAE3B" fill-opacity="0.9"/>
<circle cx="447.8" cy="186.3" r="0.85" fill="#3DAE3B" fill-opacity="0.9"/>
<circle cx="446.2" cy="198.0" r="0.85" fill="#3DAE3B" fill-opacity="0.9"/>
<circle cx="447.8" cy="187.4" r="0.85" fill="#3DAE3B" fill-opacity="0.9"/>
<circle cx="444.7" cy="198.8" r="0.85" fill="#3DAE3B" fill-opacity="0.9"/>
<circle cx="441.6" cy="191.6" r="0.85" fill="#3DAE3B" fill-opacity="0.9"/>
<circle cx="446.6" cy="190.7" r="0.85" fill="#3DAE3B" fill-opacity="0.9"/>
<circle cx="450.3" cy="191.2" r="0.85" fill="#3DAE3B" fill-opacity="0.9"/>
<circle cx="444.2" cy="191.1" r="0.85" fill="#3DAE3B" fill-opacity="0.9"/>
<circle cx="450.1" cy="196.7" r="0.85" fill="#3DAE3B" fill-opacity="0.9"/>
<circle cx="443.2" cy="188.7" r="0.85" fill="#3DAE3B" fill-opacity="0.9"/>
<circle cx="446.7" cy="196.5" r="0.85" fill="#3DAE3B" fill-opacity="0.9"/>
<circle cx="446.6" cy="198.3" r="0.85" fill="#3DAE3B" fill-opacity="0.9"/>
<circle cx="448.4" cy="185.3" r="0.85" fill="#3DAE3B" fill-opacity="0.9"/>
<circle cx="445.5" cy="193.0" r="0.85" fill="#3DAE3B" fill-opacity="0.9"/>
<circle cx="447.6" cy="185.1" r="0.85" fill="#3DAE3B" fill-opacity="0.9"/>
<circle cx="444.7" cy="189.6" r="0.85" fill="#3DAE3B" fill-opacity="0.9"/>
<circle cx="449.1" cy="197.1" r="0.85" fill="#3DAE3B" fill-opacity="0.9"/>
<circle cx="448.6" cy="186.3" r="0.85" fill="#3DAE3B" fill-opacity="0.9"/>
<circle cx="446.1" cy="199.5" r="0.85" fill="#3DAE3B" fill-opacity="0.9"/>
<circle cx="442.9" cy="189.3" r="0.85" fill="#3DAE3B" fill-opacity="0.9"/>
<circle cx="446.1" cy="192.5" r="0.85" fill="#3DAE3B" fill-opacity="0.9"/>
<circle cx="447.6" cy="188.7" r="0.85" fill="#3DAE3B" fill-opacity="0.9"/>
<circle cx="449.3" cy="195.9" r="0.85" fill="#3DAE3B" fill-opacity="0.9"/>
<circle cx="445.6" cy="185.7" r="0.85" fill="#3DAE3B" fill-opacity="0.9"/>
<circle cx="449.4" cy="195.6" r="0.85" fill="#3DAE3B" fill-opacity="0.9"/>
<circle cx="447.2" cy="196.4" r="0.85" fill="#3DAE3B" fill-opacity="0.9"/>
<circle cx="448.6" cy="197.5" r="0.85" fill="#3DAE3B" fill-opacity="0.9"/>
<circle cx="443.9" cy="199.3" r="0.85" fill="#24B5BF" fill-opacity="0.9"/>
<circle cx="444.4" cy="200.2" r="0.85" fill="#24B5BF" fill-opacity="0.9"/>
<circle cx="450.7" cy="197.1" r="0.85" fill="#24B5BF" fill-opacity="0.9"/>
<circle cx="445.1" cy="191.2" r="0.85" fill="#24B5BF" fill-opacity="0.9"/>
<circle cx="447.5" cy="197.5" r="0.85" fill="#24B5BF" fill-opacity="0.9"/>
<circle cx="445.6" cy="199.2" r="0.85" fill="#24B5BF" fill-opacity="0.9"/>
<circle cx="443.4" cy="192.4" r="0.85" fill="#24B5BF" fill-opacity="0.9"/>
<circle cx="442.6" cy="186.1" r="0.85" fill="#24B5BF" fill-opacity="0.9"/>
<circle cx="444.2" cy="183.9" r="0.85" fill="#24B5BF" fill-opacity="0.9"/>
<circle cx="447.3" cy="194.2" r="0.85" fill="#24B5BF" fill-opacity="0.9"/>
<circle cx="445.4" cy="197.4" r="0.85" fill="#24B5BF" fill-opacity="0.9"/>
<circle cx="447.0" cy="195.3" r="0.85" fill="#24B5BF" fill-opacity="0.9"/>
<circle cx="441.9" cy="188.9" r="0.85" fill="#24B5BF" fill-opacity="0.9"/>
<circle cx="447.6" cy="189.8" r="0.85" fill="#24B5BF" fill-opacity="0.9"/>
<circle cx="448.4" cy="198.7" r="0.85" fill="#24B5BF" fill-opacity="0.9"/>
<circle cx="444.1" cy="188.9" r="0.85" fill="#24B5BF" fill-opacity="0.9"/>
<circle cx="446.8" cy="198.2" r="0.85" fill="#24B5BF" fill-opacity="0.9"/>
<circle cx="448.4" cy="193.7" r="0.85" fill="#24B5BF" fill-opacity="0.9"/>
<circle cx="445.5" cy="189.9" r="0.85" fill="#24B5BF" fill-opacity="0.9"/>
<circle cx="445.5" cy="195.9" r="0.85" fill="#24B5BF" fill-opacity="0.9"/>
<circle cx="445.9" cy="195.8" r="0.85" fill="#24B5BF" fill-opacity="0.9"/>
<circle cx="443.1" cy="197.7" r="0.85" fill="#24B5BF" fill-opacity="0.9"/>
<circle cx="445.5" cy="187.0" r="0.85" fill="#24B5BF" fill-opacity="0.9"/>
<circle cx="450.7" cy="196.5" r="0.85" fill="#24B5BF" fill-opacity="0.9"/>
<circle cx="443.8" cy="190.3" r="0.85" fill="#24B5BF" fill-opacity="0.9"/>
<circle cx="445.6" cy="195.8" r="0.85" fill="#24B5BF" fill-opacity="0.9"/>
<circle cx="444.1" cy="189.4" r="0.85" fill="#24B5BF" fill-opacity="0.9"/>
<circle cx="446.5" cy="187.3" r="0.85" fill="#24B5BF" fill-opacity="0.9"/>
<circle cx="445.7" cy="196.5" r="0.85" fill="#24B5BF" fill-opacity="0.9"/>
<circle cx="444.8" cy="193.3" r="0.85" fill="#24B5BF" fill-opacity="0.9"/>
<circle cx="443.5" cy="190.0" r="0.85" fill="#24B5BF" fill-opacity="0.9"/>
<circle cx="447.2" cy="189.6" r="0.85" fill="#24B5BF" fill-opacity="0.9"/>
<circle cx="442.0" cy="193.0" r="0.85" fill="#24B5BF" fill-opacity="0.9"/>
<circle cx="447.0" cy="190.4" r="0.85" fill="#24B5BF" fill-opacity="0.9"/>
<circle cx="447.9" cy="198.9" r="0.85" fill="#24B5BF" fill-opacity="0.9"/>
<circle cx="444.5" cy="184.1" r="0.85" fill="#24B5BF" fill-opacity="0.9"/>
<circle cx="443.2" cy="198.8" r="0.85" fill="#24B5BF" fill-opacity="0.9"/>
<circle cx="447.6" cy="196.6" r="0.85" fill="#24B5BF" fill-opacity="0.9"/>
<circle cx="445.3" cy="188.8" r="0.85" fill="#24B5BF" fill-opacity="0.9"/>
<circle cx="448.6" cy="193.2" r="0.85" fill="#24B5BF" fill-opacity="0.9"/>
<circle cx="426.9" cy="184.4" r="0.85" fill="#EC6A6F" fill-opacity="0.9"/>
<circle cx="439.9" cy="178.1" r="0.85" fill="#EC6A6F" fill-opacity="0.9"/>
<circle cx="433.7" cy="174.2" r="0.85" fill="#EC6A6F" fill-opacity="0.9"/>
<circle cx="434.9" cy="173.3" r="0.85" fill="#EC6A6F" fill-opacity="0.9"/>
<circle cx="423.3" cy="172.5" r="0.85" fill="#EC6A6F" fill-opacity="0.9"/>
<circle cx="435.6" cy="184.9" r="0.85" fill="#EC6A6F" fill-opacity="0.9"/>
<circle cx="440.0" cy="176.6" r="0.85" fill="#EC6A6F" fill-opacity="0.9"/>
<circle cx="430.2" cy="177.4" r="0.85" fill="#EC6A6F" fill-opacity="0.9"/>
<circle cx="419.7" cy="171.4" r="0.85" fill="#EC6A6F" fill-opacity="0.9"/>
<circle cx="436.2" cy="177.9" r="0.85" fill="#EC6A6F" fill-opacity="0.9"/>
<circle cx="439.3" cy="187.6" r="0.85" fill="#EC6A6F" fill-opacity="0.9"/>
<circle cx="432.3" cy="172.6" r="0.85" fill="#EC6A6F" fill-opacity="0.9"/>
<circle cx="427.8" cy="178.0" r="0.85" fill="#EC6A6F" fill-opacity="0.9"/>
<circle cx="425.7" cy="169.8" r="0.85" fill="#EC6A6F" fill-opacity="0.9"/>
<circle cx="434.3" cy="182.5" r="0.85" fill="#EC6A6F" fill-opacity="0.9"/>
<circle cx="421.4" cy="171.2" r="0.85" fill="#EC6A6F" fill-opacity="0.9"/>
<circle cx="425.5" cy="175.2" r="0.85" fill="#EC6A6F" fill-opacity="0.9"/>
<circle cx="433.4" cy="172.2" r="0.85" fill="#EC6A6F" fill-opacity="0.9"/>
<circle cx="427.2" cy="177.5" r="0.85" fill="#EC6A6F" fill-opacity="0.9"/>
<circle cx="439.4" cy="186.8" r="0.85" fill="#EC6A6F" fill-opacity="0.9"/>
<circle cx="430.0" cy="166.9" r="0.85" fill="#EC6A6F" fill-opacity="0.9"/>
<circle cx="429.0" cy="175.9" r="0.85" fill="#EC6A6F" fill-opacity="0.9"/>
<circle cx="433.9" cy="184.2" r="0.85" fill="#EC6A6F" fill-opacity="0.9"/>
<circle cx="421.6" cy="176.7" r="0.85" fill="#EC6A6F" fill-opacity="0.9"/>
<circle cx="438.7" cy="172.3" r="0.85" fill="#EC6A6F" fill-opacity="0.9"/>
<circle cx="431.2" cy="174.7" r="0.85" fill="#EC6A6F" fill-opacity="0.9"/>
<circle cx="431.7" cy="175.9" r="0.85" fill="#EC6A6F" fill-opacity="0.9"/>
<circle cx="426.7" cy="178.1" r="0.85" fill="#EC6A6F" fill-opacity="0.9"/>
<circle cx="427.4" cy="184.0" r="0.85" fill="#EC6A6F" fill-opacity="0.9"/>
<circle cx="423.1" cy="180.2" r="0.85" fill="#EC6A6F" fill-opacity="0.9"/>
<circle cx="432.0" cy="174.6" r="0.85" fill="#EC6A6F" fill-opacity="0.9"/>
<circle cx="435.0" cy="188.1" r="0.85" fill="#EC6A6F" fill-opacity="0.9"/>
<circle cx="432.0" cy="182.3" r="0.85" fill="#EC6A6F" fill-opacity="0.9"/>
<circle cx="433.7" cy="183.2" r="0.85" fill="#EC6A6F" fill-opacity="0.9"/>
<circle cx="431.1" cy="174.0" r="0.85" fill="#EC6A6F" fill-opacity="0.9"/>
<circle cx="434.6" cy="188.5" r="0.85" fill="#EC6A6F" fill-opacity="0.9"/>
<circle cx="435.0" cy="175.8" r="0.85" fill="#EC6A6F" fill-opacity="0.9"/>
<circle cx="434.4" cy="177.2" r="0.85" fill="#EC6A6F" fill-opacity="0.9"/>
<circle cx="430.5" cy="166.3" r="0.85" fill="#EC6A6F" fill-opacity="0.9"/>
<circle cx="439.4" cy="188.3" r="0.85" fill="#EC6A6F" fill-opacity="0.9"/>
<circle cx="432.7" cy="178.0" r="0.85" fill="#EC6A6F" fill-opacity="0.9"/>
<circle cx="428.2" cy="172.0" r="0.85" fill="#EC6A6F" fill-opacity="0.9"/>
<circle cx="433.0" cy="174.9" r="0.85" fill="#EC6A6F" fill-opacity="0.9"/>
<circle cx="433.0" cy="190.1" r="0.85" fill="#EC6A6F" fill-opacity="0.9"/>
<circle cx="428.4" cy="168.2" r="0.85" fill="#EC6A6F" fill-opacity="0.9"/>
<circle cx="429.8" cy="177.4" r="0.85" fill="#EC6A6F" fill-opacity="0.9"/>
<circle cx="419.7" cy="167.9" r="0.85" fill="#EC6A6F" fill-opacity="0.9"/>
<circle cx="420.1" cy="174.0" r="0.85" fill="#EC6A6F" fill-opacity="0.9"/>
<circle cx="429.9" cy="181.1" r="0.85" fill="#EC6A6F" fill-opacity="0.9"/>
<circle cx="424.1" cy="183.1" r="0.85" fill="#EC6A6F" fill-opacity="0.9"/>
<circle cx="433.7" cy="192.6" r="0.85" fill="#EC6A6F" fill-opacity="0.9"/>
<circle cx="421.2" cy="173.3" r="0.85" fill="#EC6A6F" fill-opacity="0.9"/>
<circle cx="421.4" cy="173.1" r="0.85" fill="#EC6A6F" fill-opacity="0.9"/>
<circle cx="437.6" cy="172.7" r="0.85" fill="#EC6A6F" fill-opacity="0.9"/>
<circle cx="436.1" cy="187.8" r="0.85" fill="#EC6A6F" fill-opacity="0.9"/>
<circle cx="432.5" cy="188.8" r="0.85" fill="#EC6A6F" fill-opacity="0.9"/>
<circle cx="433.5" cy="181.9" r="0.85" fill="#EC6A6F" fill-opacity="0.9"/>
<circle cx="428.8" cy="188.0" r="0.85" fill="#EC6A6F" fill-opacity="0.9"/>
<circle cx="431.3" cy="174.9" r="0.85" fill="#EC6A6F" fill-opacity="0.9"/>
<circle cx="430.4" cy="178.2" r="0.85" fill="#EC6A6F" fill-opacity="0.9"/>
<circle cx="438.2" cy="183.3" r="0.85" fill="#EC6A6F" fill-opacity="0.9"/>
<circle cx="430.6" cy="184.1" r="0.85" fill="#EC6A6F" fill-opacity="0.9"/>
<circle cx="431.3" cy="174.3" r="0.85" fill="#EC6A6F" fill-opacity="0.9"/>
<circle cx="431.1" cy="185.2" r="0.85" fill="#EC6A6F" fill-opacity="0.9"/>
<circle cx="436.2" cy="189.4" r="0.85" fill="#EC6A6F" fill-opacity="0.9"/>
<circle cx="427.7" cy="184.6" r="0.85" fill="#EC6A6F" fill-opacity="0.9"/>
<circle cx="435.1" cy="176.4" r="0.85" fill="#EC6A6F" fill-opacity="0.9"/>
<circle cx="440.8" cy="177.3" r="0.85" fill="#EC6A6F" fill-opacity="0.9"/>
<circle cx="429.7" cy="185.0" r="0.85" fill="#EC6A6F" fill-opacity="0.9"/>
<circle cx="422.3" cy="168.5" r="0.85" fill="#EC6A6F" fill-opacity="0.9"/>
<circle cx="432.6" cy="171.7" r="0.85" fill="#EC6A6F" fill-opacity="0.9"/>
<circle cx="429.1" cy="170.6" r="0.85" fill="#EC6A6F" fill-opacity="0.9"/>
<circle cx="435.7" cy="185.6" r="0.85" fill="#EC6A6F" fill-opacity="0.9"/>
<circle cx="434.8" cy="168.8" r="0.85" fill="#EC6A6F" fill-opacity="0.9"/>
<circle cx="437.8" cy="183.3" r="0.85" fill="#EC6A6F" fill-opacity="0.9"/>
<circle cx="438.0" cy="179.2" r="0.85" fill="#EC6A6F" fill-opacity="0.9"/>
<circle cx="425.7" cy="166.7" r="0.85" fill="#EC6A6F" fill-opacity="0.9"/>
<circle cx="435.2" cy="183.6" r="0.85" fill="#EC6A6F" fill-opacity="0.9"/>
<circle cx="433.5" cy="179.3" r="0.85" fill="#EC6A6F" fill-opacity="0.9"/>
<circle cx="427.7" cy="168.9" r="0.85" fill="#EC6A6F" fill-opacity="0.9"/>
<circle cx="440.9" cy="186.3" r="0.85" fill="#EC6A6F" fill-opacity="0.9"/>
<circle cx="429.0" cy="169.4" r="0.85" fill="#EC6A6F" fill-opacity="0.9"/>
<circle cx="430.3" cy="178.7" r="0.85" fill="#EC6A6F" fill-opacity="0.9"/>
<circle cx="427.9" cy="187.0" r="0.85" fill="#EC6A6F" fill-opacity="0.9"/>
<circle cx="423.9" cy="172.9" r="0.85" fill="#EC6A6F" fill-opacity="0.9"/>
<circle cx="438.1" cy="171.6" r="0.85" fill="#EC6A6F" fill-opacity="0.9"/>
<circle cx="435.7" cy="172.7" r="0.85" fill="#EC6A6F" fill-opacity="0.9"/>
<circle cx="428.4" cy="178.1" r="0.85" fill="#EC6A6F" fill-opacity="0.9"/>
<circle cx="429.1" cy="185.7" r="0.85" fill="#EC6A6F" fill-opacity="0.9"/>
<circle cx="425.0" cy="176.2" r="0.85" fill="#EC6A6F" fill-opacity="0.9"/>
<circle cx="420.5" cy="176.0" r="0.85" fill="#EC6A6F" fill-opacity="0.9"/>
<circle cx="436.3" cy="173.9" r="0.85" fill="#EC6A6F" fill-opacity="0.9"/>
<circle cx="423.3" cy="180.1" r="0.85" fill="#EC6A6F" fill-opacity="0.9"/>
<circle cx="439.6" cy="183.1" r="0.85" fill="#EC6A6F" fill-opacity="0.9"/>
<circle cx="421.5" cy="177.1" r="0.85" fill="#EC6A6F" fill-opacity="0.9"/>
<circle cx="428.6" cy="177.4" r="0.85" fill="#EC6A6F" fill-opacity="0.9"/>
<circle cx="439.2" cy="173.3" r="0.85" fill="#EC6A6F" fill-opacity="0.9"/>
<circle cx="426.1" cy="180.1" r="0.85" fill="#EC6A6F" fill-opacity="0.9"/>
<circle cx="433.9" cy="174.4" r="0.85" fill="#EC6A6F" fill-opacity="0.9"/>
<circle cx="433.5" cy="176.8" r="0.85" fill="#EC6A6F" fill-opacity="0.9"/>
<circle cx="438.1" cy="180.6" r="0.85" fill="#EC6A6F" fill-opacity="0.9"/>
<circle cx="435.7" cy="181.0" r="0.85" fill="#EC6A6F" fill-opacity="0.9"/>
<circle cx="435.0" cy="175.9" r="0.85" fill="#EC6A6F" fill-opacity="0.9"/>
<circle cx="422.4" cy="175.2" r="0.85" fill="#EC6A6F" fill-opacity="0.9"/>
<circle cx="436.7" cy="179.7" r="0.85" fill="#EC6A6F" fill-opacity="0.9"/>
<circle cx="430.0" cy="184.7" r="0.85" fill="#EC6A6F" fill-opacity="0.9"/>
<circle cx="420.5" cy="168.5" r="0.85" fill="#EC6A6F" fill-opacity="0.9"/>
<circle cx="439.0" cy="179.2" r="0.85" fill="#EC6A6F" fill-opacity="0.9"/>
<circle cx="428.4" cy="174.6" r="0.85" fill="#EC6A6F" fill-opacity="0.9"/>
<circle cx="429.0" cy="186.5" r="0.85" fill="#EC6A6F" fill-opacity="0.9"/>
<circle cx="429.6" cy="185.2" r="0.8" fill="#C476C2" fill-opacity="0.9"/>
<circle cx="430.8" cy="185.8" r="0.8" fill="#C476C2" fill-opacity="0.9"/>
<circle cx="430.4" cy="181.3" r="0.8" fill="#C476C2" fill-opacity="0.9"/>
<circle cx="441.7" cy="180.9" r="0.8" fill="#C476C2" fill-opacity="0.9"/>
<circle cx="431.8" cy="167.9" r="0.8" fill="#C476C2" fill-opacity="0.9"/>
<circle cx="432.0" cy="191.0" r="0.8" fill="#C476C2" fill-opacity="0.9"/>
<circle cx="425.5" cy="181.7" r="0.8" fill="#C476C2" fill-opacity="0.9"/>
<circle cx="438.3" cy="179.7" r="0.8" fill="#C476C2" fill-opacity="0.9"/>
<circle cx="424.6" cy="173.6" r="0.8" fill="#C476C2" fill-opacity="0.9"/>
<circle cx="431.8" cy="185.8" r="0.8" fill="#C476C2" fill-opacity="0.9"/>
<circle cx="423.1" cy="167.0" r="0.8" fill="#C476C2" fill-opacity="0.9"/>
<circle cx="424.3" cy="182.8" r="0.8" fill="#C476C2" fill-opacity="0.9"/>
<circle cx="428.3" cy="186.4" r="0.8" fill="#C476C2" fill-opacity="0.9"/>
<circle cx="435.7" cy="175.3" r="0.8" fill="#C476C2" fill-opacity="0.9"/>
<circle cx="432.6" cy="169.1" r="0.8" fill="#C476C2" fill-opacity="0.9"/>
<circle cx="433.0" cy="183.1" r="0.8" fill="#C476C2" fill-opacity="0.9"/>
<circle cx="424.4" cy="183.7" r="0.8" fill="#C476C2" fill-opacity="0.9"/>
<circle cx="431.6" cy="190.8" r="0.8" fill="#C476C2" fill-opacity="0.9"/>
<circle cx="434.4" cy="171.0" r="0.8" fill="#C476C2" fill-opacity="0.9"/>
<circle cx="435.8" cy="182.2" r="0.8" fill="#C476C2" fill-opacity="0.9"/>
<circle cx="427.7" cy="184.4" r="0.8" fill="#C476C2" fill-opacity="0.9"/>
<circle cx="436.5" cy="184.0" r="0.8" fill="#C476C2" fill-opacity="0.9"/>
<circle cx="439.9" cy="177.2" r="0.8" fill="#C476C2" fill-opacity="0.9"/>
<circle cx="426.9" cy="170.4" r="0.8" fill="#C476C2" fill-opacity="0.9"/>
<circle cx="424.6" cy="178.7" r="0.8" fill="#C476C2" fill-opacity="0.9"/>
<circle cx="422.3" cy="171.6" r="0.8" fill="#3DAE3B" fill-opacity="0.9"/>
<circle cx="433.1" cy="176.4" r="0.8" fill="#3DAE3B" fill-opacity="0.9"/>
<circle cx="435.3" cy="172.2" r="0.8" fill="#3DAE3B" fill-opacity="0.9"/>
<circle cx="430.0" cy="171.0" r="0.8" fill="#3DAE3B" fill-opacity="0.9"/>
<circle cx="427.4" cy="173.3" r="0.8" fill="#3DAE3B" fill-opacity="0.9"/>
<circle cx="431.4" cy="168.9" r="0.8" fill="#3DAE3B" fill-opacity="0.9"/>
<circle cx="438.0" cy="187.9" r="0.8" fill="#3DAE3B" fill-opacity="0.9"/>
<circle cx="420.2" cy="168.6" r="0.8" fill="#3DAE3B" fill-opacity="0.9"/>
<circle cx="434.0" cy="180.3" r="0.8" fill="#3DAE3B" fill-opacity="0.9"/>
<circle cx="427.5" cy="184.9" r="0.8" fill="#3DAE3B" fill-opacity="0.9"/>
<circle cx="424.1" cy="182.0" r="0.8" fill="#3DAE3B" fill-opacity="0.9"/>
<circle cx="428.6" cy="168.9" r="0.8" fill="#3DAE3B" fill-opacity="0.9"/>
<circle cx="436.8" cy="170.2" r="0.8" fill="#3DAE3B" fill-opacity="0.9"/>
<circle cx="437.4" cy="186.3" r="0.8" fill="#3DAE3B" fill-opacity="0.9"/>
<circle cx="429.0" cy="177.7" r="0.8" fill="#3DAE3B" fill-opacity="0.9"/>
<circle cx="423.7" cy="168.9" r="0.8" fill="#3DAE3B" fill-opacity="0.9"/>
<circle cx="435.0" cy="175.4" r="0.8" fill="#3DAE3B" fill-opacity="0.9"/>
<circle cx="431.9" cy="175.3" r="0.8" fill="#3DAE3B" fill-opacity="0.9"/>
<circle cx="425.1" cy="169.6" r="0.8" fill="#3DAE3B" fill-opacity="0.9"/>
<circle cx="436.5" cy="177.1" r="0.8" fill="#3DAE3B" fill-opacity="0.9"/>
<circle cx="442.9" cy="135.5" r="0.8" fill="#3DAE3B" fill-opacity="0.9"/>
<circle cx="442.9" cy="122.6" r="0.8" fill="#3DAE3B" fill-opacity="0.9"/>
<circle cx="443.1" cy="129.2" r="0.8" fill="#3DAE3B" fill-opacity="0.9"/>
<circle cx="471.0" cy="118.6" r="0.8" fill="#3DAE3B" fill-opacity="0.9"/>
<circle cx="477.6" cy="132.0" r="0.8" fill="#3DAE3B" fill-opacity="0.9"/>
<circle cx="473.4" cy="126.4" r="0.8" fill="#3DAE3B" fill-opacity="0.9"/>
<circle cx="455.7" cy="119.9" r="0.8" fill="#3DAE3B" fill-opacity="0.9"/>
<circle cx="447.8" cy="135.4" r="0.8" fill="#3DAE3B" fill-opacity="0.9"/>
<circle cx="448.8" cy="136.0" r="0.8" fill="#3DAE3B" fill-opacity="0.9"/>
<circle cx="473.5" cy="136.4" r="0.8" fill="#3DAE3B" fill-opacity="0.9"/>
<circle cx="442.3" cy="126.5" r="0.8" fill="#3DAE3B" fill-opacity="0.9"/>
<circle cx="473.5" cy="124.2" r="0.8" fill="#3DAE3B" fill-opacity="0.9"/>
<circle cx="447.0" cy="118.4" r="0.8" fill="#3DAE3B" fill-opacity="0.9"/>
<circle cx="460.0" cy="129.0" r="0.8" fill="#3DAE3B" fill-opacity="0.9"/>
<circle cx="445.5" cy="123.2" r="0.8" fill="#3DAE3B" fill-opacity="0.9"/>
<circle cx="464.5" cy="121.5" r="0.8" fill="#3DAE3B" fill-opacity="0.9"/>
<circle cx="471.4" cy="135.4" r="0.8" fill="#3DAE3B" fill-opacity="0.9"/>
<circle cx="454.9" cy="120.6" r="0.8" fill="#3DAE3B" fill-opacity="0.9"/>
<circle cx="461.7" cy="123.9" r="0.8" fill="#3DAE3B" fill-opacity="0.9"/>
<circle cx="440.7" cy="132.2" r="0.8" fill="#3DAE3B" fill-opacity="0.9"/>
<circle cx="461.2" cy="123.4" r="0.8" fill="#3DAE3B" fill-opacity="0.9"/>
<circle cx="447.1" cy="132.5" r="0.8" fill="#3DAE3B" fill-opacity="0.9"/>
<circle cx="477.3" cy="125.0" r="0.8" fill="#3DAE3B" fill-opacity="0.9"/>
<circle cx="462.3" cy="122.4" r="0.8" fill="#3DAE3B" fill-opacity="0.9"/>
<circle cx="456.9" cy="129.6" r="0.8" fill="#3DAE3B" fill-opacity="0.9"/>
<circle cx="449.7" cy="130.1" r="0.8" fill="#3DAE3B" fill-opacity="0.9"/>
<circle cx="460.4" cy="118.9" r="0.8" fill="#3DAE3B" fill-opacity="0.9"/>
<circle cx="441.3" cy="126.3" r="0.8" fill="#3DAE3B" fill-opacity="0.9"/>
<circle cx="442.6" cy="128.9" r="0.8" fill="#3DAE3B" fill-opacity="0.9"/>
<circle cx="462.7" cy="130.5" r="0.8" fill="#3DAE3B" fill-opacity="0.9"/>
<circle cx="475.8" cy="130.2" r="0.8" fill="#3DAE3B" fill-opacity="0.9"/>
<circle cx="470.7" cy="120.3" r="0.8" fill="#3DAE3B" fill-opacity="0.9"/>
<circle cx="475.3" cy="136.6" r="0.8" fill="#3DAE3B" fill-opacity="0.9"/>
<circle cx="462.6" cy="134.6" r="0.8" fill="#3DAE3B" fill-opacity="0.9"/>
<circle cx="460.8" cy="126.7" r="0.8" fill="#3DAE3B" fill-opacity="0.9"/>
<circle cx="443.2" cy="127.6" r="0.8" fill="#3DAE3B" fill-opacity="0.9"/>
<circle cx="468.1" cy="133.9" r="0.8" fill="#3DAE3B" fill-opacity="0.9"/>
<circle cx="476.2" cy="128.4" r="0.8" fill="#3DAE3B" fill-opacity="0.9"/>
<circle cx="478.5" cy="125.4" r="0.8" fill="#3DAE3B" fill-opacity="0.9"/>
<circle cx="436.8" cy="126.5" r="0.8" fill="#3DAE3B" fill-opacity="0.9"/>
<circle cx="460.3" cy="133.5" r="0.8" fill="#3DAE3B" fill-opacity="0.9"/>
<circle cx="446.5" cy="118.5" r="0.8" fill="#3DAE3B" fill-opacity="0.9"/>
<circle cx="468.5" cy="121.8" r="0.8" fill="#3DAE3B" fill-opacity="0.9"/>
<circle cx="474.3" cy="129.3" r="0.8" fill="#3DAE3B" fill-opacity="0.9"/>
<circle cx="442.1" cy="128.4" r="0.8" fill="#3DAE3B" fill-opacity="0.9"/>
<circle cx="470.8" cy="122.5" r="0.8" fill="#3DAE3B" fill-opacity="0.9"/>
<circle cx="479.0" cy="119.1" r="0.8" fill="#3DAE3B" fill-opacity="0.9"/>
<circle cx="442.7" cy="129.9" r="0.8" fill="#3DAE3B" fill-opacity="0.9"/>
<circle cx="466.4" cy="130.0" r="0.8" fill="#3DAE3B" fill-opacity="0.9"/>
<circle cx="477.6" cy="122.0" r="0.8" fill="#3DAE3B" fill-opacity="0.9"/>
<circle cx="438.1" cy="128.7" r="0.8" fill="#3DAE3B" fill-opacity="0.9"/>
<circle cx="451.8" cy="125.9" r="0.8" fill="#3DAE3B" fill-opacity="0.9"/>
<circle cx="453.8" cy="135.6" r="0.8" fill="#3DAE3B" fill-opacity="0.9"/>
<circle cx="448.8" cy="131.8" r="0.8" fill="#3DAE3B" fill-opacity="0.9"/>
<circle cx="461.5" cy="123.7" r="0.8" fill="#3DAE3B" fill-opacity="0.9"/>
<circle cx="477.0" cy="123.1" r="0.8" fill="#3DAE3B" fill-opacity="0.9"/>
<circle cx="449.5" cy="121.9" r="0.8" fill="#3DAE3B" fill-opacity="0.9"/>
<circle cx="467.5" cy="131.9" r="0.8" fill="#3DAE3B" fill-opacity="0.9"/>
<circle cx="452.4" cy="120.4" r="0.8" fill="#3DAE3B" fill-opacity="0.9"/>
<circle cx="462.8" cy="124.7" r="0.8" fill="#3DAE3B" fill-opacity="0.9"/>
<circle cx="460.8" cy="131.1" r="0.8" fill="#3DAE3B" fill-opacity="0.9"/>
<circle cx="436.1" cy="118.9" r="0.8" fill="#3DAE3B" fill-opacity="0.9"/>
<circle cx="472.9" cy="135.4" r="0.8" fill="#3DAE3B" fill-opacity="0.9"/>
<circle cx="439.9" cy="122.5" r="0.8" fill="#3DAE3B" fill-opacity="0.9"/>
<circle cx="455.2" cy="134.7" r="0.8" fill="#3DAE3B" fill-opacity="0.9"/>
<circle cx="449.9" cy="137.1" r="0.8" fill="#3DAE3B" fill-opacity="0.9"/>
<circle cx="440.1" cy="136.1" r="0.8" fill="#3DAE3B" fill-opacity="0.9"/>
<circle cx="438.6" cy="130.0" r="0.8" fill="#3DAE3B" fill-opacity="0.9"/>
<circle cx="479.7" cy="132.4" r="0.8" fill="#3DAE3B" fill-opacity="0.9"/>
<circle cx="477.1" cy="125.0" r="0.8" fill="#3DAE3B" fill-opacity="0.9"/>
<circle cx="479.0" cy="136.1" r="0.8" fill="#3DAE3B" fill-opacity="0.9"/>
<circle cx="448.3" cy="133.4" r="0.8" fill="#3DAE3B" fill-opacity="0.9"/>
<circle cx="477.3" cy="122.3" r="0.8" fill="#3DAE3B" fill-opacity="0.9"/>
<circle cx="453.6" cy="133.4" r="0.8" fill="#3DAE3B" fill-opacity="0.9"/>
<circle cx="461.8" cy="136.4" r="0.8" fill="#3DAE3B" fill-opacity="0.9"/>
<circle cx="455.5" cy="127.0" r="0.8" fill="#3DAE3B" fill-opacity="0.9"/>
<circle cx="443.5" cy="123.5" r="0.8" fill="#3DAE3B" fill-opacity="0.9"/>
<circle cx="475.4" cy="123.2" r="0.8" fill="#3DAE3B" fill-opacity="0.9"/>
<circle cx="476.3" cy="134.1" r="0.8" fill="#3DAE3B" fill-opacity="0.9"/>
<circle cx="461.7" cy="124.0" r="0.8" fill="#3DAE3B" fill-opacity="0.9"/>
<circle cx="436.1" cy="120.4" r="0.8" fill="#3DAE3B" fill-opacity="0.9"/>
<circle cx="473.3" cy="137.2" r="0.8" fill="#3DAE3B" fill-opacity="0.9"/>
<circle cx="479.3" cy="123.6" r="0.8" fill="#3DAE3B" fill-opacity="0.9"/>
<circle cx="478.2" cy="126.8" r="0.8" fill="#3DAE3B" fill-opacity="0.9"/>
<circle cx="452.6" cy="136.2" r="0.8" fill="#3DAE3B" fill-opacity="0.9"/>
<circle cx="472.9" cy="131.6" r="0.8" fill="#3DAE3B" fill-opacity="0.9"/>
<circle cx="448.9" cy="120.1" r="0.8" fill="#3DAE3B" fill-opacity="0.9"/>
<circle cx="444.2" cy="123.3" r="0.8" fill="#3DAE3B" fill-opacity="0.9"/>
<circle cx="444.6" cy="129.4" r="0.8" fill="#3DAE3B" fill-opacity="0.9"/>
<circle cx="450.2" cy="122.3" r="0.8" fill="#3DAE3B" fill-opacity="0.9"/>
<circle cx="475.5" cy="125.4" r="0.8" fill="#3DAE3B" fill-opacity="0.9"/>
<circle cx="436.1" cy="118.2" r="0.8" fill="#3DAE3B" fill-opacity="0.9"/>
<circle cx="460.8" cy="118.6" r="0.8" fill="#3DAE3B" fill-opacity="0.9"/>
<circle cx="461.1" cy="118.5" r="0.8" fill="#3DAE3B" fill-opacity="0.9"/>
<circle cx="457.1" cy="130.4" r="0.8" fill="#3DAE3B" fill-opacity="0.9"/>
<circle cx="460.3" cy="122.3" r="0.8" fill="#3DAE3B" fill-opacity="0.9"/>
<circle cx="473.7" cy="137.4" r="0.8" fill="#3DAE3B" fill-opacity="0.9"/>
<circle cx="472.6" cy="136.6" r="0.8" fill="#3DAE3B" fill-opacity="0.9"/>
<circle cx="479.7" cy="125.4" r="0.8" fill="#3DAE3B" fill-opacity="0.9"/>
<circle cx="460.5" cy="126.3" r="0.8" fill="#3DAE3B" fill-opacity="0.9"/>
<circle cx="471.4" cy="121.4" r="0.8" fill="#3DAE3B" fill-opacity="0.9"/>
<circle cx="446.2" cy="127.0" r="0.8" fill="#3DAE3B" fill-opacity="0.9"/>
<circle cx="460.5" cy="137.8" r="0.8" fill="#3DAE3B" fill-opacity="0.9"/>
<circle cx="451.1" cy="118.1" r="0.8" fill="#3DAE3B" fill-opacity="0.9"/>
<circle cx="453.5" cy="135.5" r="0.8" fill="#3DAE3B" fill-opacity="0.9"/>
<circle cx="440.3" cy="128.4" r="0.8" fill="#3DAE3B" fill-opacity="0.9"/>
<circle cx="463.0" cy="134.8" r="0.8" fill="#3DAE3B" fill-opacity="0.9"/>
<circle cx="450.7" cy="130.1" r="0.8" fill="#3DAE3B" fill-opacity="0.9"/>
<circle cx="478.9" cy="137.4" r="0.8" fill="#3DAE3B" fill-opacity="0.9"/>
<circle cx="461.4" cy="124.8" r="0.8" fill="#3DAE3B" fill-opacity="0.9"/>
<circle cx="433.6" cy="196.1" r="0.8" fill="#EC6A6F" fill-opacity="0.9"/>
<circle cx="434.3" cy="194.9" r="0.8" fill="#EC6A6F" fill-opacity="0.9"/>
<circle cx="427.2" cy="195.8" r="0.8" fill="#EC6A6F" fill-opacity="0.9"/>
<circle cx="426.4" cy="185.1" r="0.8" fill="#EC6A6F" fill-opacity="0.9"/>
<circle cx="420.4" cy="192.2" r="0.8" fill="#EC6A6F" fill-opacity="0.9"/>
<circle cx="422.1" cy="186.2" r="0.8" fill="#EC6A6F" fill-opacity="0.9"/>
<circle cx="425.1" cy="188.2" r="0.8" fill="#EC6A6F" fill-opacity="0.9"/>
<circle cx="428.0" cy="201.4" r="0.8" fill="#EC6A6F" fill-opacity="0.9"/>
<circle cx="430.6" cy="192.1" r="0.8" fill="#EC6A6F" fill-opacity="0.9"/>
<circle cx="427.6" cy="192.0" r="0.8" fill="#EC6A6F" fill-opacity="0.9"/>
<circle cx="437.5" cy="191.5" r="0.8" fill="#EC6A6F" fill-opacity="0.9"/>
<circle cx="430.3" cy="187.7" r="0.8" fill="#EC6A6F" fill-opacity="0.9"/>
<circle cx="422.4" cy="184.7" r="0.8" fill="#EC6A6F" fill-opacity="0.9"/>
<circle cx="420.1" cy="186.3" r="0.8" fill="#EC6A6F" fill-opacity="0.9"/>
<circle cx="419.0" cy="189.1" r="0.8" fill="#EC6A6F" fill-opacity="0.9"/>
<circle cx="431.8" cy="182.5" r="0.8" fill="#EC6A6F" fill-opacity="0.9"/>
<circle cx="436.1" cy="189.9" r="0.8" fill="#EC6A6F" fill-opacity="0.9"/>
<circle cx="433.0" cy="189.5" r="0.8" fill="#EC6A6F" fill-opacity="0.9"/>
<circle cx="437.1" cy="195.0" r="0.8" fill="#EC6A6F" fill-opacity="0.9"/>
<circle cx="420.9" cy="192.1" r="0.8" fill="#EC6A6F" fill-opacity="0.9"/>
<circle cx="424.4" cy="196.4" r="0.8" fill="#EC6A6F" fill-opacity="0.9"/>
<circle cx="426.9" cy="184.9" r="0.8" fill="#EC6A6F" fill-opacity="0.9"/>
<circle cx="418.8" cy="201.7" r="0.8" fill="#EC6A6F" fill-opacity="0.9"/>
<circle cx="420.9" cy="185.5" r="0.8" fill="#EC6A6F" fill-opacity="0.9"/>
<circle cx="440.3" cy="181.1" r="0.8" fill="#EC6A6F" fill-opacity="0.9"/>
<circle cx="408.2" cy="158.7" r="0.75" fill="#EC6A6F" fill-opacity="0.9"/>
<circle cx="413.6" cy="165.6" r="0.75" fill="#EC6A6F" fill-opacity="0.9"/>
<circle cx="419.5" cy="156.4" r="0.75" fill="#EC6A6F" fill-opacity="0.9"/>
<circle cx="401.7" cy="154.3" r="0.75" fill="#EC6A6F" fill-opacity="0.9"/>
<circle cx="400.1" cy="155.4" r="0.75" fill="#EC6A6F" fill-opacity="0.9"/>
<circle cx="412.4" cy="167.9" r="0.75" fill="#EC6A6F" fill-opacity="0.9"/>
<circle cx="402.0" cy="155.4" r="0.75" fill="#EC6A6F" fill-opacity="0.9"/>
<circle cx="417.8" cy="161.7" r="0.75" fill="#EC6A6F" fill-opacity="0.9"/>
<circle cx="408.0" cy="151.4" r="0.75" fill="#EC6A6F" fill-opacity="0.9"/>
<circle cx="401.1" cy="154.3" r="0.75" fill="#EC6A6F" fill-opacity="0.9"/>
<circle cx="412.3" cy="151.2" r="0.75" fill="#EC6A6F" fill-opacity="0.9"/>
<circle cx="410.1" cy="166.4" r="0.75" fill="#EC6A6F" fill-opacity="0.9"/>
<circle cx="400.0" cy="155.7" r="0.75" fill="#EC6A6F" fill-opacity="0.9"/>
<circle cx="408.3" cy="162.2" r="0.75" fill="#EC6A6F" fill-opacity="0.9"/>
<circle cx="414.7" cy="163.6" r="0.75" fill="#EC6A6F" fill-opacity="0.9"/>
<circle cx="408.7" cy="156.8" r="0.75" fill="#EC6A6F" fill-opacity="0.9"/>
<circle cx="412.5" cy="159.2" r="0.75" fill="#EC6A6F" fill-opacity="0.9"/>
<circle cx="418.6" cy="160.6" r="0.75" fill="#EC6A6F" fill-opacity="0.9"/>
<circle cx="411.7" cy="163.3" r="0.75" fill="#EC6A6F" fill-opacity="0.9"/>
<circle cx="409.6" cy="159.8" r="0.75" fill="#EC6A6F" fill-opacity="0.9"/>
<circle cx="428.2" cy="129.8" r="0.8" fill="#EE6E63" fill-opacity="0.9"/>
<circle cx="439.9" cy="120.1" r="0.8" fill="#EE6E63" fill-opacity="0.9"/>
<circle cx="422.3" cy="142.2" r="0.8" fill="#EE6E63" fill-opacity="0.9"/>
<circle cx="433.5" cy="128.3" r="0.8" fill="#EE6E63" fill-opacity="0.9"/>
<circle cx="415.7" cy="115.9" r="0.8" fill="#EE6E63" fill-opacity="0.9"/>
<circle cx="419.6" cy="124.1" r="0.8" fill="#EE6E63" fill-opacity="0.9"/>
<circle cx="420.1" cy="118.4" r="0.8" fill="#EE6E63" fill-opacity="0.9"/>
<circle cx="421.8" cy="128.9" r="0.8" fill="#EE6E63" fill-opacity="0.9"/>
<circle cx="429.9" cy="116.4" r="0.8" fill="#EE6E63" fill-opacity="0.9"/>
<circle cx="413.7" cy="111.3" r="0.8" fill="#EE6E63" fill-opacity="0.9"/>
<circle cx="421.5" cy="132.3" r="0.8" fill="#EE6E63" fill-opacity="0.9"/>
<circle cx="419.4" cy="129.4" r="0.8" fill="#EE6E63" fill-opacity="0.9"/>
<circle cx="437.4" cy="133.3" r="0.8" fill="#EE6E63" fill-opacity="0.9"/>
<circle cx="420.6" cy="118.6" r="0.8" fill="#EE6E63" fill-opacity="0.9"/>
<circle cx="431.8" cy="123.0" r="0.8" fill="#EE6E63" fill-opacity="0.9"/>
<circle cx="408.0" cy="119.1" r="0.8" fill="#EE6E63" fill-opacity="0.9"/>
<circle cx="429.8" cy="135.4" r="0.8" fill="#EE6E63" fill-opacity="0.9"/>
<circle cx="419.0" cy="139.3" r="0.8" fill="#EE6E63" fill-opacity="0.9"/>
<circle cx="418.6" cy="110.8" r="0.8" fill="#EE6E63" fill-opacity="0.9"/>
<circle cx="412.2" cy="139.4" r="0.8" fill="#EE6E63" fill-opacity="0.9"/>
<circle cx="429.7" cy="112.9" r="0.8" fill="#EE6E63" fill-opacity="0.9"/>
<circle cx="415.0" cy="123.0" r="0.8" fill="#EE6E63" fill-opacity="0.9"/>
<circle cx="437.3" cy="127.5" r="0.8" fill="#EE6E63" fill-opacity="0.9"/>
<circle cx="414.2" cy="111.0" r="0.8" fill="#EE6E63" fill-opacity="0.9"/>
<circle cx="425.0" cy="140.8" r="0.8" fill="#EE6E63" fill-opacity="0.9"/>
<circle cx="430.2" cy="138.3" r="0.8" fill="#EE6E63" fill-opacity="0.9"/>
<circle cx="435.6" cy="131.9" r="0.8" fill="#EE6E63" fill-opacity="0.9"/>
<circle cx="425.4" cy="123.7" r="0.8" fill="#EE6E63" fill-opacity="0.9"/>
<circle cx="412.6" cy="112.2" r="0.8" fill="#EE6E63" fill-opacity="0.9"/>
<circle cx="435.3" cy="132.0" r="0.8" fill="#EE6E63" fill-opacity="0.9"/>
<circle cx="415.5" cy="125.5" r="0.8" fill="#EE6E63" fill-opacity="0.9"/>
<circle cx="427.0" cy="117.7" r="0.8" fill="#EE6E63" fill-opacity="0.9"/>
<circle cx="436.7" cy="136.4" r="0.8" fill="#EE6E63" fill-opacity="0.9"/>
<circle cx="438.2" cy="122.6" r="0.8" fill="#EE6E63" fill-opacity="0.9"/>
<circle cx="422.8" cy="120.6" r="0.8" fill="#EE6E63" fill-opacity="0.9"/>
<circle cx="417.3" cy="141.5" r="0.8" fill="#EE6E63" fill-opacity="0.9"/>
<circle cx="436.8" cy="126.2" r="0.8" fill="#EE6E63" fill-opacity="0.9"/>
<circle cx="428.1" cy="140.0" r="0.8" fill="#EE6E63" fill-opacity="0.9"/>
<circle cx="420.1" cy="140.3" r="0.8" fill="#EE6E63" fill-opacity="0.9"/>
<circle cx="432.9" cy="119.4" r="0.8" fill="#EE6E63" fill-opacity="0.9"/>
<circle cx="417.6" cy="132.8" r="0.8" fill="#EE6E63" fill-opacity="0.9"/>
<circle cx="410.7" cy="118.4" r="0.8" fill="#EE6E63" fill-opacity="0.9"/>
<circle cx="411.8" cy="113.5" r="0.8" fill="#EE6E63" fill-opacity="0.9"/>
<circle cx="433.7" cy="126.6" r="0.8" fill="#EE6E63" fill-opacity="0.9"/>
<circle cx="431.1" cy="132.7" r="0.8" fill="#EE6E63" fill-opacity="0.9"/>
<circle cx="420.4" cy="127.2" r="0.8" fill="#EE6E63" fill-opacity="0.9"/>
<circle cx="409.5" cy="118.0" r="0.8" fill="#EE6E63" fill-opacity="0.9"/>
<circle cx="417.0" cy="121.8" r="0.8" fill="#EE6E63" fill-opacity="0.9"/>
<circle cx="428.1" cy="118.0" r="0.8" fill="#EE6E63" fill-opacity="0.9"/>
<circle cx="413.3" cy="138.9" r="0.8" fill="#EE6E63" fill-opacity="0.9"/>
<circle cx="432.3" cy="116.4" r="0.8" fill="#EE6E63" fill-opacity="0.9"/>
<circle cx="422.1" cy="137.5" r="0.8" fill="#EE6E63" fill-opacity="0.9"/>
<circle cx="433.2" cy="117.5" r="0.8" fill="#EE6E63" fill-opacity="0.9"/>
<circle cx="421.9" cy="129.4" r="0.8" fill="#EE6E63" fill-opacity="0.9"/>
<circle cx="431.0" cy="132.0" r="0.8" fill="#EE6E63" fill-opacity="0.9"/>
<circle cx="420.6" cy="128.8" r="0.8" fill="#EE6E63" fill-opacity="0.9"/>
<circle cx="423.5" cy="121.4" r="0.8" fill="#EE6E63" fill-opacity="0.9"/>
<circle cx="432.0" cy="124.4" r="0.8" fill="#EE6E63" fill-opacity="0.9"/>
<circle cx="431.9" cy="137.3" r="0.8" fill="#EE6E63" fill-opacity="0.9"/>
<circle cx="429.2" cy="136.7" r="0.8" fill="#EE6E63" fill-opacity="0.9"/>
<circle cx="438.0" cy="124.9" r="0.8" fill="#EE6E63" fill-opacity="0.9"/>
<circle cx="432.2" cy="134.3" r="0.8" fill="#EE6E63" fill-opacity="0.9"/>
<circle cx="416.9" cy="122.4" r="0.8" fill="#EE6E63" fill-opacity="0.9"/>
<circle cx="414.6" cy="136.7" r="0.8" fill="#EE6E63" fill-opacity="0.9"/>
<circle cx="427.4" cy="119.9" r="0.8" fill="#EE6E63" fill-opacity="0.9"/>
<circle cx="430.9" cy="116.1" r="0.8" fill="#EE6E63" fill-opacity="0.9"/>
<circle cx="433.1" cy="129.9" r="0.8" fill="#EE6E63" fill-opacity="0.9"/>
<circle cx="431.8" cy="130.3" r="0.8" fill="#EE6E63" fill-opacity="0.9"/>
<circle cx="439.5" cy="132.9" r="0.8" fill="#EE6E63" fill-opacity="0.9"/>
<circle cx="421.2" cy="129.5" r="0.8" fill="#EE6E63" fill-opacity="0.9"/>
<circle cx="424.8" cy="119.4" r="0.8" fill="#EE6E63" fill-opacity="0.9"/>
<circle cx="415.7" cy="136.4" r="0.8" fill="#EE6E63" fill-opacity="0.9"/>
<circle cx="429.0" cy="126.7" r="0.8" fill="#EE6E63" fill-opacity="0.9"/>
<circle cx="418.8" cy="133.3" r="0.8" fill="#EE6E63" fill-opacity="0.9"/>
<circle cx="427.7" cy="141.1" r="0.8" fill="#EE6E63" fill-opacity="0.9"/>
<circle cx="431.2" cy="122.7" r="0.8" fill="#EE6E63" fill-opacity="0.9"/>
<circle cx="414.7" cy="111.5" r="0.8" fill="#EE6E63" fill-opacity="0.9"/>
<circle cx="432.3" cy="124.1" r="0.8" fill="#EE6E63" fill-opacity="0.9"/>
<circle cx="418.8" cy="111.7" r="0.8" fill="#EE6E63" fill-opacity="0.9"/>
<circle cx="422.3" cy="139.6" r="0.8" fill="#EE6E63" fill-opacity="0.9"/>
<circle cx="414.7" cy="134.5" r="0.8" fill="#EE6E63" fill-opacity="0.9"/>
<circle cx="431.6" cy="131.8" r="0.8" fill="#EE6E63" fill-opacity="0.9"/>
<circle cx="425.9" cy="118.2" r="0.8" fill="#EE6E63" fill-opacity="0.9"/>
<circle cx="428.6" cy="129.3" r="0.8" fill="#EE6E63" fill-opacity="0.9"/>
<circle cx="438.8" cy="127.0" r="0.8" fill="#EE6E63" fill-opacity="0.9"/>
<circle cx="417.4" cy="139.9" r="0.8" fill="#EE6E63" fill-opacity="0.9"/>
<circle cx="426.9" cy="121.3" r="0.8" fill="#EE6E63" fill-opacity="0.9"/>
<circle cx="427.7" cy="115.0" r="0.8" fill="#EE6E63" fill-opacity="0.9"/>
<circle cx="411.6" cy="139.2" r="0.8" fill="#EE6E63" fill-opacity="0.9"/>
<circle cx="421.2" cy="136.5" r="0.8" fill="#EE6E63" fill-opacity="0.9"/>
<circle cx="412.5" cy="125.5" r="0.8" fill="#EE6E63" fill-opacity="0.9"/>
<circle cx="413.3" cy="136.5" r="0.8" fill="#EE6E63" fill-opacity="0.9"/>
<circle cx="425.9" cy="123.0" r="0.8" fill="#EE6E63" fill-opacity="0.9"/>
<circle cx="418.5" cy="117.0" r="0.8" fill="#EE6E63" fill-opacity="0.9"/>
<circle cx="412.4" cy="132.8" r="0.8" fill="#EE6E63" fill-opacity="0.9"/>
<circle cx="415.9" cy="113.4" r="0.8" fill="#EE6E63" fill-opacity="0.9"/>
<circle cx="418.5" cy="124.9" r="0.8" fill="#EE6E63" fill-opacity="0.9"/>
<circle cx="439.6" cy="122.7" r="0.8" fill="#EE6E63" fill-opacity="0.9"/>
<circle cx="419.1" cy="142.1" r="0.8" fill="#EE6E63" fill-opacity="0.9"/>
<circle cx="430.2" cy="125.1" r="0.8" fill="#EE6E63" fill-opacity="0.9"/>
<circle cx="418.9" cy="117.4" r="0.8" fill="#EE6E63" fill-opacity="0.9"/>
<circle cx="427.4" cy="113.5" r="0.8" fill="#EE6E63" fill-opacity="0.9"/>
<circle cx="421.7" cy="115.7" r="0.8" fill="#EE6E63" fill-opacity="0.9"/>
<circle cx="426.1" cy="121.4" r="0.8" fill="#EE6E63" fill-opacity="0.9"/>
<circle cx="428.3" cy="135.8" r="0.8" fill="#EE6E63" fill-opacity="0.9"/>
<circle cx="419.2" cy="122.6" r="0.8" fill="#EE6E63" fill-opacity="0.9"/>
<circle cx="407.8" cy="117.0" r="0.8" fill="#EE6E63" fill-opacity="0.9"/>
<circle cx="426.8" cy="136.6" r="0.8" fill="#EE6E63" fill-opacity="0.9"/>
<circle cx="437.0" cy="122.1" r="0.8" fill="#EE6E63" fill-opacity="0.9"/>
<circle cx="423.9" cy="132.2" r="0.8" fill="#EE6E63" fill-opacity="0.9"/>
<circle cx="416.5" cy="122.1" r="0.8" fill="#EE6E63" fill-opacity="0.9"/>
<circle cx="430.3" cy="126.0" r="0.8" fill="#EE6E63" fill-opacity="0.9"/>
<circle cx="420.3" cy="128.6" r="0.8" fill="#EE6E63" fill-opacity="0.9"/>
<circle cx="415.3" cy="115.5" r="0.8" fill="#EE6E63" fill-opacity="0.9"/>
<circle cx="423.4" cy="133.2" r="0.8" fill="#EE6E63" fill-opacity="0.9"/>
<circle cx="423.4" cy="126.5" r="0.8" fill="#EE6E63" fill-opacity="0.9"/>
<circle cx="428.4" cy="123.9" r="0.8" fill="#EE6E63" fill-opacity="0.9"/>
<circle cx="429.3" cy="122.6" r="0.8" fill="#EE6E63" fill-opacity="0.9"/>
<circle cx="419.0" cy="121.3" r="0.8" fill="#EE6E63" fill-opacity="0.9"/>
<circle cx="413.5" cy="136.1" r="0.8" fill="#EE6E63" fill-opacity="0.9"/>
<circle cx="435.2" cy="119.2" r="0.8" fill="#EE6E63" fill-opacity="0.9"/>
<circle cx="424.8" cy="125.2" r="0.8" fill="#EE6E63" fill-opacity="0.9"/>
<circle cx="414.2" cy="113.6" r="0.8" fill="#EE6E63" fill-opacity="0.9"/>
<circle cx="429.1" cy="115.8" r="0.8" fill="#EE6E63" fill-opacity="0.9"/>
<circle cx="423.0" cy="124.9" r="0.8" fill="#EE6E63" fill-opacity="0.9"/>
<circle cx="412.9" cy="133.3" r="0.8" fill="#EE6E63" fill-opacity="0.9"/>
<circle cx="418.5" cy="125.3" r="0.8" fill="#EE6E63" fill-opacity="0.9"/>
<circle cx="416.0" cy="117.5" r="0.8" fill="#EE6E63" fill-opacity="0.9"/>
<circle cx="415.6" cy="119.0" r="0.8" fill="#EE6E63" fill-opacity="0.9"/>
<circle cx="411.6" cy="138.8" r="0.8" fill="#EE6E63" fill-opacity="0.9"/>
<circle cx="418.3" cy="128.5" r="0.8" fill="#EE6E63" fill-opacity="0.9"/>
<circle cx="433.4" cy="132.4" r="0.8" fill="#EE6E63" fill-opacity="0.9"/>
<circle cx="416.5" cy="137.4" r="0.8" fill="#EE6E63" fill-opacity="0.9"/>
<circle cx="418.2" cy="133.0" r="0.8" fill="#EE6E63" fill-opacity="0.9"/>
<circle cx="424.1" cy="141.3" r="0.8" fill="#EE6E63" fill-opacity="0.9"/>
<circle cx="432.7" cy="137.6" r="0.8" fill="#EE6E63" fill-opacity="0.9"/>
<circle cx="439.3" cy="121.3" r="0.8" fill="#EE6E63" fill-opacity="0.9"/>
<circle cx="422.5" cy="124.6" r="0.8" fill="#EE6E63" fill-opacity="0.9"/>
<circle cx="432.6" cy="117.4" r="0.8" fill="#EE6E63" fill-opacity="0.9"/>
<circle cx="413.6" cy="135.4" r="0.8" fill="#EE6E63" fill-opacity="0.9"/>
<circle cx="415.7" cy="141.1" r="0.8" fill="#EE6E63" fill-opacity="0.9"/>
<circle cx="414.7" cy="119.5" r="0.8" fill="#EE6E63" fill-opacity="0.9"/>
<circle cx="420.8" cy="139.3" r="0.8" fill="#EE6E63" fill-opacity="0.9"/>
<circle cx="433.3" cy="122.7" r="0.8" fill="#EE6E63" fill-opacity="0.9"/>
<circle cx="427.2" cy="114.6" r="0.8" fill="#EE6E63" fill-opacity="0.9"/>
<circle cx="411.5" cy="111.8" r="0.8" fill="#EE6E63" fill-opacity="0.9"/>
<circle cx="408.0" cy="112.6" r="0.8" fill="#EE6E63" fill-opacity="0.9"/>
<circle cx="415.0" cy="129.1" r="0.8" fill="#EE6E63" fill-opacity="0.9"/>
<circle cx="428.0" cy="119.4" r="0.8" fill="#EE6E63" fill-opacity="0.9"/>
<circle cx="423.0" cy="121.0" r="0.8" fill="#EE6E63" fill-opacity="0.9"/>
<circle cx="425.3" cy="113.6" r="0.8" fill="#EE6E63" fill-opacity="0.9"/>
<circle cx="437.3" cy="116.9" r="0.8" fill="#EE6E63" fill-opacity="0.9"/>
<circle cx="424.4" cy="116.2" r="0.8" fill="#EE6E63" fill-opacity="0.9"/>
<circle cx="420.6" cy="118.7" r="0.8" fill="#EE6E63" fill-opacity="0.9"/>
<circle cx="427.4" cy="135.7" r="0.8" fill="#EE6E63" fill-opacity="0.9"/>
<circle cx="420.9" cy="128.1" r="0.8" fill="#EE6E63" fill-opacity="0.9"/>
<circle cx="417.3" cy="119.5" r="0.8" fill="#EE6E63" fill-opacity="0.9"/>
<circle cx="422.8" cy="142.1" r="0.8" fill="#EE6E63" fill-opacity="0.9"/>
<circle cx="416.3" cy="129.7" r="0.8" fill="#EE6E63" fill-opacity="0.9"/>
<circle cx="414.3" cy="133.7" r="0.8" fill="#EE6E63" fill-opacity="0.9"/>
<circle cx="422.4" cy="120.2" r="0.8" fill="#EE6E63" fill-opacity="0.9"/>
<circle cx="437.6" cy="116.8" r="0.8" fill="#EE6E63" fill-opacity="0.9"/>
<circle cx="438.7" cy="124.3" r="0.8" fill="#EE6E63" fill-opacity="0.9"/>
<circle cx="425.5" cy="129.9" r="0.8" fill="#EE6E63" fill-opacity="0.9"/>
<circle cx="431.2" cy="136.1" r="0.8" fill="#EE6E63" fill-opacity="0.9"/>
<circle cx="430.7" cy="132.5" r="0.8" fill="#EE6E63" fill-opacity="0.9"/>
<circle cx="422.8" cy="111.3" r="0.8" fill="#EE6E63" fill-opacity="0.9"/>
<circle cx="424.7" cy="118.8" r="0.8" fill="#EE6E63" fill-opacity="0.9"/>
<circle cx="426.7" cy="134.2" r="0.8" fill="#EE6E63" fill-opacity="0.9"/>
<circle cx="426.2" cy="128.6" r="0.8" fill="#EE6E63" fill-opacity="0.9"/>
<circle cx="418.2" cy="117.2" r="0.8" fill="#24B5BF" fill-opacity="0.9"/>
<circle cx="425.9" cy="123.0" r="0.8" fill="#24B5BF" fill-opacity="0.9"/>
<circle cx="437.2" cy="117.7" r="0.8" fill="#24B5BF" fill-opacity="0.9"/>
<circle cx="414.4" cy="140.3" r="0.8" fill="#24B5BF" fill-opacity="0.9"/>
<circle cx="430.2" cy="124.2" r="0.8" fill="#24B5BF" fill-opacity="0.9"/>
<circle cx="418.1" cy="134.2" r="0.8" fill="#24B5BF" fill-opacity="0.9"/>
<circle cx="412.9" cy="136.6" r="0.8" fill="#24B5BF" fill-opacity="0.9"/>
<circle cx="410.6" cy="140.2" r="0.8" fill="#24B5BF" fill-opacity="0.9"/>
<circle cx="433.7" cy="119.6" r="0.8" fill="#24B5BF" fill-opacity="0.9"/>
<circle cx="433.0" cy="129.1" r="0.8" fill="#24B5BF" fill-opacity="0.9"/>
<circle cx="413.6" cy="132.7" r="0.8" fill="#24B5BF" fill-opacity="0.9"/>
<circle cx="419.5" cy="114.7" r="0.8" fill="#24B5BF" fill-opacity="0.9"/>
<circle cx="434.8" cy="133.7" r="0.8" fill="#24B5BF" fill-opacity="0.9"/>
<circle cx="413.5" cy="124.1" r="0.8" fill="#24B5BF" fill-opacity="0.9"/>
<circle cx="428.9" cy="122.3" r="0.8" fill="#24B5BF" fill-opacity="0.9"/>
<circle cx="414.0" cy="127.4" r="0.8" fill="#24B5BF" fill-opacity="0.9"/>
<circle cx="413.8" cy="125.9" r="0.8" fill="#24B5BF" fill-opacity="0.9"/>
<circle cx="409.8" cy="116.8" r="0.8" fill="#24B5BF" fill-opacity="0.9"/>
<circle cx="417.9" cy="139.6" r="0.8" fill="#24B5BF" fill-opacity="0.9"/>
<circle cx="436.5" cy="119.0" r="0.8" fill="#24B5BF" fill-opacity="0.9"/>
<circle cx="436.5" cy="126.9" r="0.8" fill="#24B5BF" fill-opacity="0.9"/>
<circle cx="423.0" cy="116.0" r="0.8" fill="#24B5BF" fill-opacity="0.9"/>
<circle cx="422.1" cy="135.1" r="0.8" fill="#24B5BF" fill-opacity="0.9"/>
<circle cx="424.5" cy="142.3" r="0.8" fill="#24B5BF" fill-opacity="0.9"/>
<circle cx="423.7" cy="139.8" r="0.8" fill="#24B5BF" fill-opacity="0.9"/>
<circle cx="426.0" cy="139.1" r="0.8" fill="#24B5BF" fill-opacity="0.9"/>
<circle cx="416.8" cy="125.3" r="0.8" fill="#24B5BF" fill-opacity="0.9"/>
<circle cx="433.4" cy="118.4" r="0.8" fill="#24B5BF" fill-opacity="0.9"/>
<circle cx="418.0" cy="137.9" r="0.8" fill="#24B5BF" fill-opacity="0.9"/>
<circle cx="427.7" cy="126.2" r="0.8" fill="#24B5BF" fill-opacity="0.9"/>
<circle cx="419.5" cy="117.8" r="0.8" fill="#24B5BF" fill-opacity="0.9"/>
<circle cx="418.5" cy="114.5" r="0.8" fill="#24B5BF" fill-opacity="0.9"/>
<circle cx="434.4" cy="136.3" r="0.8" fill="#24B5BF" fill-opacity="0.9"/>
<circle cx="438.8" cy="132.2" r="0.8" fill="#24B5BF" fill-opacity="0.9"/>
<circle cx="410.6" cy="123.9" r="0.8" fill="#24B5BF" fill-opacity="0.9"/>
<circle cx="417.0" cy="114.9" r="0.8" fill="#24B5BF" fill-opacity="0.9"/>
<circle cx="411.0" cy="119.1" r="0.8" fill="#24B5BF" fill-opacity="0.9"/>
<circle cx="426.7" cy="112.2" r="0.8" fill="#24B5BF" fill-opacity="0.9"/>
<circle cx="435.4" cy="124.2" r="0.8" fill="#24B5BF" fill-opacity="0.9"/>
<circle cx="411.1" cy="113.3" r="0.8" fill="#24B5BF" fill-opacity="0.9"/>
<circle cx="423.4" cy="121.5" r="0.8" fill="#24B5BF" fill-opacity="0.9"/>
<circle cx="422.5" cy="113.6" r="0.8" fill="#24B5BF" fill-opacity="0.9"/>
<circle cx="417.4" cy="126.7" r="0.8" fill="#24B5BF" fill-opacity="0.9"/>
<circle cx="434.4" cy="129.5" r="0.8" fill="#24B5BF" fill-opacity="0.9"/>
<circle cx="407.9" cy="114.7" r="0.8" fill="#24B5BF" fill-opacity="0.9"/>
<circle cx="411.2" cy="119.2" r="0.8" fill="#24B5BF" fill-opacity="0.9"/>
<circle cx="433.2" cy="124.8" r="0.8" fill="#24B5BF" fill-opacity="0.9"/>
<circle cx="425.4" cy="121.0" r="0.8" fill="#24B5BF" fill-opacity="0.9"/>
<circle cx="433.7" cy="132.6" r="0.8" fill="#24B5BF" fill-opacity="0.9"/>
<circle cx="411.4" cy="126.0" r="0.8" fill="#24B5BF" fill-opacity="0.9"/>
<circle cx="427.9" cy="134.2" r="0.8" fill="#24B5BF" fill-opacity="0.9"/>
<circle cx="416.4" cy="111.8" r="0.8" fill="#24B5BF" fill-opacity="0.9"/>
<circle cx="420.8" cy="140.2" r="0.8" fill="#24B5BF" fill-opacity="0.9"/>
<circle cx="424.3" cy="130.4" r="0.8" fill="#24B5BF" fill-opacity="0.9"/>
<circle cx="431.8" cy="131.1" r="0.8" fill="#24B5BF" fill-opacity="0.9"/>
<circle cx="430.9" cy="136.6" r="0.8" fill="#24B5BF" fill-opacity="0.9"/>
<circle cx="410.0" cy="118.7" r="0.8" fill="#24B5BF" fill-opacity="0.9"/>
<circle cx="429.9" cy="129.2" r="0.8" fill="#24B5BF" fill-opacity="0.9"/>
<circle cx="435.2" cy="135.5" r="0.8" fill="#24B5BF" fill-opacity="0.9"/>
<circle cx="416.6" cy="115.7" r="0.8" fill="#24B5BF" fill-opacity="0.9"/>
<circle cx="428.0" cy="113.7" r="0.8" fill="#24B5BF" fill-opacity="0.9"/>
<circle cx="422.3" cy="119.1" r="0.8" fill="#24B5BF" fill-opacity="0.9"/>
<circle cx="419.0" cy="131.6" r="0.8" fill="#24B5BF" fill-opacity="0.9"/>
<circle cx="427.2" cy="130.4" r="0.8" fill="#24B5BF" fill-opacity="0.9"/>
<circle cx="429.7" cy="139.9" r="0.8" fill="#24B5BF" fill-opacity="0.9"/>
<circle cx="426.4" cy="131.3" r="0.8" fill="#24B5BF" fill-opacity="0.9"/>
<circle cx="436.1" cy="134.6" r="0.8" fill="#24B5BF" fill-opacity="0.9"/>
<circle cx="434.6" cy="122.8" r="0.8" fill="#24B5BF" fill-opacity="0.9"/>
<circle cx="412.4" cy="124.6" r="0.8" fill="#24B5BF" fill-opacity="0.9"/>
<circle cx="434.4" cy="134.9" r="0.8" fill="#24B5BF" fill-opacity="0.9"/>
<circle cx="409.6" cy="116.7" r="0.8" fill="#24B5BF" fill-opacity="0.9"/>
<circle cx="412.3" cy="134.6" r="0.8" fill="#24B5BF" fill-opacity="0.9"/>
<circle cx="413.8" cy="139.3" r="0.8" fill="#24B5BF" fill-opacity="0.9"/>
<circle cx="419.4" cy="116.4" r="0.8" fill="#24B5BF" fill-opacity="0.9"/>
<circle cx="419.5" cy="114.6" r="0.8" fill="#24B5BF" fill-opacity="0.9"/>
<circle cx="419.6" cy="122.5" r="0.8" fill="#24B5BF" fill-opacity="0.9"/>
<circle cx="419.7" cy="138.8" r="0.8" fill="#24B5BF" fill-opacity="0.9"/>
<circle cx="430.4" cy="128.7" r="0.8" fill="#24B5BF" fill-opacity="0.9"/>
<circle cx="422.9" cy="133.6" r="0.8" fill="#24B5BF" fill-opacity="0.9"/>
<circle cx="426.1" cy="142.1" r="0.8" fill="#24B5BF" fill-opacity="0.9"/>
<circle cx="411.3" cy="139.6" r="0.8" fill="#24B5BF" fill-opacity="0.9"/>
<circle cx="431.4" cy="124.6" r="0.8" fill="#24B5BF" fill-opacity="0.9"/>
<circle cx="434.7" cy="119.4" r="0.8" fill="#24B5BF" fill-opacity="0.9"/>
<circle cx="418.7" cy="129.0" r="0.8" fill="#24B5BF" fill-opacity="0.9"/>
<circle cx="438.9" cy="118.0" r="0.8" fill="#24B5BF" fill-opacity="0.9"/>
<circle cx="434.7" cy="131.7" r="0.8" fill="#24B5BF" fill-opacity="0.9"/>
<circle cx="437.2" cy="119.9" r="0.8" fill="#24B5BF" fill-opacity="0.9"/>
<circle cx="428.2" cy="139.3" r="0.8" fill="#24B5BF" fill-opacity="0.9"/>
<circle cx="435.9" cy="133.0" r="0.8" fill="#24B5BF" fill-opacity="0.9"/>
<circle cx="434.4" cy="130.9" r="0.8" fill="#24B5BF" fill-opacity="0.9"/>
<circle cx="424.3" cy="116.3" r="0.8" fill="#24B5BF" fill-opacity="0.9"/>
<circle cx="423.1" cy="142.2" r="0.8" fill="#24B5BF" fill-opacity="0.9"/>
<circle cx="415.6" cy="117.9" r="0.8" fill="#24B5BF" fill-opacity="0.9"/>
<circle cx="434.5" cy="116.0" r="0.8" fill="#24B5BF" fill-opacity="0.9"/>
<circle cx="431.8" cy="116.5" r="0.8" fill="#24B5BF" fill-opacity="0.9"/>
<circle cx="416.9" cy="142.1" r="0.8" fill="#24B5BF" fill-opacity="0.9"/>
<circle cx="414.6" cy="134.9" r="0.8" fill="#24B5BF" fill-opacity="0.9"/>
<circle cx="416.5" cy="132.1" r="0.8" fill="#24B5BF" fill-opacity="0.9"/>
<circle cx="427.2" cy="140.2" r="0.8" fill="#24B5BF" fill-opacity="0.9"/>
<circle cx="431.0" cy="122.6" r="0.8" fill="#24B5BF" fill-opacity="0.9"/>
<circle cx="412.0" cy="139.4" r="0.8" fill="#24B5BF" fill-opacity="0.9"/>
<circle cx="428.2" cy="121.5" r="0.8" fill="#24B5BF" fill-opacity="0.9"/>
<circle cx="406.7" cy="115.7" r="0.8" fill="#24B5BF" fill-opacity="0.9"/>
<circle cx="431.2" cy="118.8" r="0.8" fill="#24B5BF" fill-opacity="0.9"/>
<circle cx="439.5" cy="119.2" r="0.8" fill="#24B5BF" fill-opacity="0.9"/>
<circle cx="433.0" cy="134.3" r="0.8" fill="#24B5BF" fill-opacity="0.9"/>
<circle cx="427.5" cy="130.0" r="0.8" fill="#24B5BF" fill-opacity="0.9"/>
<circle cx="437.3" cy="127.5" r="0.8" fill="#24B5BF" fill-opacity="0.9"/>
<circle cx="411.6" cy="112.8" r="0.8" fill="#24B5BF" fill-opacity="0.9"/>
<circle cx="416.1" cy="119.3" r="0.8" fill="#24B5BF" fill-opacity="0.9"/>
<circle cx="432.6" cy="135.7" r="0.8" fill="#24B5BF" fill-opacity="0.9"/>
<circle cx="415.8" cy="111.0" r="0.8" fill="#24B5BF" fill-opacity="0.9"/>
<circle cx="436.5" cy="136.7" r="0.8" fill="#24B5BF" fill-opacity="0.9"/>
<circle cx="431.7" cy="117.0" r="0.8" fill="#24B5BF" fill-opacity="0.9"/>
<circle cx="438.4" cy="131.1" r="0.8" fill="#24B5BF" fill-opacity="0.9"/>
<circle cx="429.4" cy="116.1" r="0.8" fill="#24B5BF" fill-opacity="0.9"/>
<circle cx="436.2" cy="129.7" r="0.8" fill="#24B5BF" fill-opacity="0.9"/>
<circle cx="412.5" cy="136.1" r="0.8" fill="#24B5BF" fill-opacity="0.9"/>
<circle cx="420.8" cy="135.8" r="0.8" fill="#24B5BF" fill-opacity="0.9"/>
<circle cx="411.7" cy="122.0" r="0.8" fill="#24B5BF" fill-opacity="0.9"/>
<circle cx="432.8" cy="121.0" r="0.8" fill="#24B5BF" fill-opacity="0.9"/>
<circle cx="437.8" cy="121.1" r="0.8" fill="#24B5BF" fill-opacity="0.9"/>
<circle cx="426.9" cy="118.4" r="0.8" fill="#24B5BF" fill-opacity="0.9"/>
<circle cx="430.3" cy="119.4" r="0.8" fill="#24B5BF" fill-opacity="0.9"/>
<circle cx="419.8" cy="133.9" r="0.8" fill="#24B5BF" fill-opacity="0.9"/>
<circle cx="411.1" cy="117.0" r="0.8" fill="#24B5BF" fill-opacity="0.9"/>
<circle cx="431.9" cy="132.2" r="0.8" fill="#24B5BF" fill-opacity="0.9"/>
<circle cx="430.1" cy="136.7" r="0.8" fill="#24B5BF" fill-opacity="0.9"/>
<circle cx="413.2" cy="126.4" r="0.8" fill="#24B5BF" fill-opacity="0.9"/>
<circle cx="426.0" cy="118.6" r="0.8" fill="#24B5BF" fill-opacity="0.9"/>
<circle cx="432.8" cy="117.0" r="0.75" fill="#E69A3A" fill-opacity="0.9"/>
<circle cx="420.5" cy="132.6" r="0.75" fill="#E69A3A" fill-opacity="0.9"/>
<circle cx="412.8" cy="131.9" r="0.75" fill="#E69A3A" fill-opacity="0.9"/>
<circle cx="419.0" cy="111.6" r="0.75" fill="#E69A3A" fill-opacity="0.9"/>
<circle cx="433.8" cy="132.4" r="0.75" fill="#E69A3A" fill-opacity="0.9"/>
<circle cx="435.2" cy="132.0" r="0.75" fill="#E69A3A" fill-opacity="0.9"/>
<circle cx="432.2" cy="137.7" r="0.75" fill="#E69A3A" fill-opacity="0.9"/>
<circle cx="425.8" cy="127.5" r="0.75" fill="#E69A3A" fill-opacity="0.9"/>
<circle cx="410.7" cy="117.8" r="0.75" fill="#E69A3A" fill-opacity="0.9"/>
<circle cx="408.0" cy="113.7" r="0.75" fill="#E69A3A" fill-opacity="0.9"/>
<circle cx="418.7" cy="119.6" r="0.75" fill="#E69A3A" fill-opacity="0.9"/>
<circle cx="424.7" cy="137.3" r="0.75" fill="#E69A3A" fill-opacity="0.9"/>
<circle cx="414.4" cy="139.5" r="0.75" fill="#E69A3A" fill-opacity="0.9"/>
<circle cx="434.2" cy="116.3" r="0.75" fill="#E69A3A" fill-opacity="0.9"/>
<circle cx="425.6" cy="116.5" r="0.75" fill="#E69A3A" fill-opacity="0.9"/>
<circle cx="407.3" cy="117.3" r="0.75" fill="#E69A3A" fill-opacity="0.9"/>
<circle cx="435.0" cy="122.4" r="0.75" fill="#E69A3A" fill-opacity="0.9"/>
<circle cx="417.1" cy="133.1" r="0.75" fill="#E69A3A" fill-opacity="0.9"/>
<circle cx="423.6" cy="120.9" r="0.75" fill="#E69A3A" fill-opacity="0.9"/>
<circle cx="410.3" cy="113.8" r="0.75" fill="#E69A3A" fill-opacity="0.9"/>
<circle cx="429.9" cy="139.9" r="0.75" fill="#E69A3A" fill-opacity="0.9"/>
<circle cx="423.4" cy="118.8" r="0.75" fill="#E69A3A" fill-opacity="0.9"/>
<circle cx="422.1" cy="126.6" r="0.75" fill="#E69A3A" fill-opacity="0.9"/>
<circle cx="414.2" cy="113.9" r="0.75" fill="#E69A3A" fill-opacity="0.9"/>
<circle cx="419.7" cy="136.8" r="0.75" fill="#E69A3A" fill-opacity="0.9"/>
<circle cx="433.4" cy="128.8" r="0.75" fill="#E69A3A" fill-opacity="0.9"/>
<circle cx="417.1" cy="140.6" r="0.75" fill="#E69A3A" fill-opacity="0.9"/>
<circle cx="415.5" cy="126.0" r="0.75" fill="#E69A3A" fill-opacity="0.9"/>
<circle cx="420.8" cy="137.7" r="0.75" fill="#E69A3A" fill-opacity="0.9"/>
<circle cx="426.7" cy="128.2" r="0.75" fill="#E69A3A" fill-opacity="0.9"/>
<circle cx="423.0" cy="139.4" r="0.75" fill="#9A9A3A" fill-opacity="0.8"/>
<circle cx="417.4" cy="114.3" r="0.75" fill="#9A9A3A" fill-opacity="0.8"/>
<circle cx="411.2" cy="118.0" r="0.75" fill="#9A9A3A" fill-opacity="0.8"/>
<circle cx="424.4" cy="136.3" r="0.75" fill="#9A9A3A" fill-opacity="0.8"/>
<circle cx="420.9" cy="127.2" r="0.75" fill="#9A9A3A" fill-opacity="0.8"/>
<circle cx="412.9" cy="139.4" r="0.75" fill="#9A9A3A" fill-opacity="0.8"/>
<circle cx="419.7" cy="123.4" r="0.75" fill="#9A9A3A" fill-opacity="0.8"/>
<circle cx="431.0" cy="138.7" r="0.75" fill="#9A9A3A" fill-opacity="0.8"/>
<circle cx="439.9" cy="125.9" r="0.75" fill="#9A9A3A" fill-opacity="0.8"/>
<circle cx="419.8" cy="137.3" r="0.75" fill="#9A9A3A" fill-opacity="0.8"/>
<circle cx="419.9" cy="116.7" r="0.75" fill="#9A9A3A" fill-opacity="0.8"/>
<circle cx="421.7" cy="120.1" r="0.75" fill="#9A9A3A" fill-opacity="0.8"/>
<circle cx="414.0" cy="135.5" r="0.75" fill="#9A9A3A" fill-opacity="0.8"/>
<circle cx="417.2" cy="130.6" r="0.75" fill="#9A9A3A" fill-opacity="0.8"/>
<circle cx="415.6" cy="113.8" r="0.75" fill="#9A9A3A" fill-opacity="0.8"/>
<circle cx="432.3" cy="135.6" r="0.75" fill="#9A9A3A" fill-opacity="0.8"/>
<circle cx="429.7" cy="130.1" r="0.75" fill="#9A9A3A" fill-opacity="0.8"/>
<circle cx="434.2" cy="135.9" r="0.75" fill="#9A9A3A" fill-opacity="0.8"/>
<circle cx="425.7" cy="130.8" r="0.75" fill="#9A9A3A" fill-opacity="0.8"/>
<circle cx="411.0" cy="111.8" r="0.75" fill="#9A9A3A" fill-opacity="0.8"/>
<text x="332" y="52.3" font-size="5.9" fill="#111" text-anchor="start" font-weight="normal" stroke="#111" stroke-width="0.18">CD8 Naive</text>
<text x="323.8" y="91.6" font-size="5.9" fill="#111" text-anchor="start" font-weight="normal" stroke="#111" stroke-width="0.18">CD4 Naive</text>
<text x="348" y="128.5" font-size="5.9" fill="#111" text-anchor="start" font-weight="normal" stroke="#111" stroke-width="0.18">CD4 Memory</text>
<text x="406" y="126.8" font-size="5.9" fill="#111" text-anchor="start" font-weight="normal" stroke="#111" stroke-width="0.18">CD8 Memory_1</text>
<text x="357.6" y="174" font-size="5.9" fill="#111" text-anchor="start" font-weight="normal" stroke="#111" stroke-width="0.18">Treg</text>
<text x="405.2" y="155" font-size="5.9" fill="#111" text-anchor="start" font-weight="normal" stroke="#111" stroke-width="0.18">MAIT</text>
<text x="466" y="98.9" font-size="5.9" fill="#111" text-anchor="start" font-weight="normal" stroke="#111" stroke-width="0.18">CD8 Memory_2</text>
<text x="466" y="117.2" font-size="5.9" fill="#111" text-anchor="start" font-weight="normal" stroke="#111" stroke-width="0.18">CD8 Effector_1</text>
<text x="440.4" y="147.8" font-size="5.9" fill="#111" text-anchor="start" font-weight="normal" stroke="#111" stroke-width="0.18">CD8 Effector_2</text>
<text x="505.5" y="148.6" font-size="5.9" fill="#111" text-anchor="start" font-weight="normal" stroke="#111" stroke-width="0.18">gdT</text>
<path d="M305.1,16 V223 H520" fill="none" stroke="#3a3a3a" stroke-width="1.1"/>
<line x1="302.4" y1="54.5" x2="305.1" y2="54.5" stroke="#3a3a3a" stroke-width="0.9"/>
<text x="299.0" y="57.1" font-size="7.6" fill="#2a2a2a" text-anchor="end" font-weight="normal" >4</text>
<line x1="302.4" y1="113.8" x2="305.1" y2="113.8" stroke="#3a3a3a" stroke-width="0.9"/>
<text x="299.0" y="116.39999999999999" font-size="7.6" fill="#2a2a2a" text-anchor="end" font-weight="normal" >0</text>
<line x1="302.4" y1="173.2" x2="305.1" y2="173.2" stroke="#3a3a3a" stroke-width="0.9"/>
<text x="299.0" y="175.79999999999998" font-size="7.6" fill="#2a2a2a" text-anchor="end" font-weight="normal" >−4</text>
<line x1="355.8" y1="223" x2="355.8" y2="225.7" stroke="#3a3a3a" stroke-width="0.9"/>
<text x="355.8" y="236" font-size="7.6" fill="#2a2a2a" text-anchor="middle" font-weight="normal" >−5</text>
<line x1="412.3" y1="223" x2="412.3" y2="225.7" stroke="#3a3a3a" stroke-width="0.9"/>
<text x="412.3" y="236" font-size="7.6" fill="#2a2a2a" text-anchor="middle" font-weight="normal" >0</text>
<line x1="468.8" y1="223" x2="468.8" y2="225.7" stroke="#3a3a3a" stroke-width="0.9"/>
<text x="468.8" y="236" font-size="7.6" fill="#2a2a2a" text-anchor="middle" font-weight="normal" >5</text>
<text x="0" y="0" font-size="8.6" font-weight="bold" fill="#222" text-anchor="middle" transform="translate(412.3,247.8) scale(0.78,1)">UMAP_1</text>
<text x="0" y="0" font-size="8.6" font-weight="bold" fill="#222" text-anchor="middle" transform="translate(283.0,119.5) rotate(-90) scale(0.78,1)">UMAP_2</text>
<rect x="133.10" y="438.09" width="8.7" height="38.21" fill="#1363BD"/>
<rect x="133.10" y="435.79" width="8.7" height="2.30" fill="#EE7623"/>
<rect x="133.10" y="429.84" width="8.7" height="5.95" fill="#D9D6DE"/>
<rect x="133.10" y="325.39" width="8.7" height="104.45" fill="#FDE400"/>
<rect x="133.10" y="322.51" width="8.7" height="2.88" fill="#16163A"/>
<rect x="133.10" y="294.09" width="8.7" height="28.42" fill="#72B82C"/>
<rect x="133.10" y="285.07" width="8.7" height="9.02" fill="#D3ECF5"/>
<rect x="133.10" y="284.30" width="8.7" height="0.77" fill="#E31E24"/>
<rect x="142.63" y="422.73" width="8.7" height="53.57" fill="#1363BD"/>
<rect x="142.63" y="418.12" width="8.7" height="4.61" fill="#EE7623"/>
<rect x="142.63" y="394.89" width="8.7" height="23.23" fill="#D9D6DE"/>
<rect x="142.63" y="384.91" width="8.7" height="9.98" fill="#FDE400"/>
<rect x="142.63" y="383.76" width="8.7" height="1.15" fill="#16163A"/>
<rect x="142.63" y="314.06" width="8.7" height="69.70" fill="#72B82C"/>
<rect x="142.63" y="293.32" width="8.7" height="20.74" fill="#F0A3CB"/>
<rect x="142.63" y="292.17" width="8.7" height="1.15" fill="#8B3A8F"/>
<rect x="142.63" y="285.07" width="8.7" height="7.10" fill="#D3ECF5"/>
<rect x="142.63" y="284.30" width="8.7" height="0.77" fill="#E31E24"/>
<rect x="152.16" y="419.08" width="8.7" height="57.22" fill="#1363BD"/>
<rect x="152.16" y="416.20" width="8.7" height="2.88" fill="#EE7623"/>
<rect x="152.16" y="392.97" width="8.7" height="23.23" fill="#D9D6DE"/>
<rect x="152.16" y="387.40" width="8.7" height="5.57" fill="#FDE400"/>
<rect x="152.16" y="304.65" width="8.7" height="82.75" fill="#72B82C"/>
<rect x="152.16" y="301.77" width="8.7" height="2.88" fill="#F0A3CB"/>
<rect x="152.16" y="300.24" width="8.7" height="1.54" fill="#8B3A8F"/>
<rect x="152.16" y="290.25" width="8.7" height="9.98" fill="#D3ECF5"/>
<rect x="152.16" y="284.30" width="8.7" height="5.95" fill="#E31E24"/>
<rect x="161.69" y="409.48" width="8.7" height="66.82" fill="#1363BD"/>
<rect x="161.69" y="354.96" width="8.7" height="54.53" fill="#EE7623"/>
<rect x="161.69" y="345.55" width="8.7" height="9.41" fill="#D9D6DE"/>
<rect x="161.69" y="340.56" width="8.7" height="4.99" fill="#FDE400"/>
<rect x="161.69" y="339.98" width="8.7" height="0.58" fill="#16163A"/>
<rect x="161.69" y="322.32" width="8.7" height="17.66" fill="#72B82C"/>
<rect x="161.69" y="296.97" width="8.7" height="25.34" fill="#F0A3CB"/>
<rect x="161.69" y="295.63" width="8.7" height="1.34" fill="#8B3A8F"/>
<rect x="161.69" y="285.07" width="8.7" height="10.56" fill="#D3ECF5"/>
<rect x="161.69" y="284.30" width="8.7" height="0.77" fill="#E31E24"/>
<rect x="171.22" y="392.01" width="8.7" height="84.29" fill="#1363BD"/>
<rect x="171.22" y="349.96" width="8.7" height="42.05" fill="#EE7623"/>
<rect x="171.22" y="343.24" width="8.7" height="6.72" fill="#D9D6DE"/>
<rect x="171.22" y="312.52" width="8.7" height="30.72" fill="#72B82C"/>
<rect x="171.22" y="287.37" width="8.7" height="25.15" fill="#F0A3CB"/>
<rect x="171.22" y="285.64" width="8.7" height="1.73" fill="#8B3A8F"/>
<rect x="171.22" y="284.30" width="8.7" height="1.34" fill="#E31E24"/>
<rect x="180.75" y="372.04" width="8.7" height="104.26" fill="#1363BD"/>
<rect x="180.75" y="366.48" width="8.7" height="5.57" fill="#EE7623"/>
<rect x="180.75" y="359.95" width="8.7" height="6.53" fill="#D9D6DE"/>
<rect x="180.75" y="347.28" width="8.7" height="12.67" fill="#FDE400"/>
<rect x="180.75" y="345.93" width="8.7" height="1.34" fill="#16163A"/>
<rect x="180.75" y="315.21" width="8.7" height="30.72" fill="#72B82C"/>
<rect x="180.75" y="286.41" width="8.7" height="28.80" fill="#F0A3CB"/>
<rect x="180.75" y="284.30" width="8.7" height="2.11" fill="#8B3A8F"/>
<rect x="190.28" y="361.87" width="8.7" height="114.43" fill="#1363BD"/>
<rect x="190.28" y="352.46" width="8.7" height="9.41" fill="#EE7623"/>
<rect x="190.28" y="340.94" width="8.7" height="11.52" fill="#FDE400"/>
<rect x="190.28" y="339.40" width="8.7" height="1.54" fill="#16163A"/>
<rect x="190.28" y="315.21" width="8.7" height="24.19" fill="#72B82C"/>
<rect x="190.28" y="307.92" width="8.7" height="7.30" fill="#F0A3CB"/>
<rect x="190.28" y="306.96" width="8.7" height="0.96" fill="#8B3A8F"/>
<rect x="190.28" y="287.95" width="8.7" height="19.01" fill="#D3ECF5"/>
<rect x="190.28" y="284.30" width="8.7" height="3.65" fill="#E31E24"/>
<rect x="199.81" y="361.87" width="8.7" height="114.43" fill="#1363BD"/>
<rect x="199.81" y="348.81" width="8.7" height="13.06" fill="#EE7623"/>
<rect x="199.81" y="347.08" width="8.7" height="1.73" fill="#D9D6DE"/>
<rect x="199.81" y="342.28" width="8.7" height="4.80" fill="#FDE400"/>
<rect x="199.81" y="328.65" width="8.7" height="13.63" fill="#72B82C"/>
<rect x="199.81" y="305.61" width="8.7" height="23.04" fill="#F0A3CB"/>
<rect x="199.81" y="303.12" width="8.7" height="2.50" fill="#8B3A8F"/>
<rect x="199.81" y="285.07" width="8.7" height="18.05" fill="#D3ECF5"/>
<rect x="199.81" y="284.30" width="8.7" height="0.77" fill="#E31E24"/>
<rect x="209.34" y="425.42" width="8.7" height="50.88" fill="#1363BD"/>
<rect x="209.34" y="398.54" width="8.7" height="26.88" fill="#EE7623"/>
<rect x="209.34" y="384.52" width="8.7" height="14.02" fill="#FDE400"/>
<rect x="209.34" y="301.96" width="8.7" height="82.56" fill="#72B82C"/>
<rect x="209.34" y="285.26" width="8.7" height="16.70" fill="#F0A3CB"/>
<rect x="209.34" y="284.30" width="8.7" height="0.96" fill="#D3ECF5"/>
<rect x="218.87" y="399.50" width="8.7" height="76.80" fill="#1363BD"/>
<rect x="218.87" y="385.68" width="8.7" height="13.82" fill="#EE7623"/>
<rect x="218.87" y="380.30" width="8.7" height="5.38" fill="#D9D6DE"/>
<rect x="218.87" y="372.04" width="8.7" height="8.26" fill="#FDE400"/>
<rect x="218.87" y="367.44" width="8.7" height="4.61" fill="#16163A"/>
<rect x="218.87" y="333.07" width="8.7" height="34.37" fill="#72B82C"/>
<rect x="218.87" y="292.94" width="8.7" height="40.13" fill="#F0A3CB"/>
<rect x="218.87" y="291.60" width="8.7" height="1.34" fill="#8B3A8F"/>
<rect x="218.87" y="285.07" width="8.7" height="6.53" fill="#D3ECF5"/>
<rect x="218.87" y="284.30" width="8.7" height="0.77" fill="#E31E24"/>
<rect x="228.40" y="398.54" width="8.7" height="77.76" fill="#1363BD"/>
<rect x="228.40" y="384.52" width="8.7" height="14.02" fill="#EE7623"/>
<rect x="228.40" y="375.69" width="8.7" height="8.83" fill="#D9D6DE"/>
<rect x="228.40" y="354.38" width="8.7" height="21.31" fill="#FDE400"/>
<rect x="228.40" y="327.31" width="8.7" height="27.07" fill="#72B82C"/>
<rect x="228.40" y="294.86" width="8.7" height="32.45" fill="#F0A3CB"/>
<rect x="228.40" y="291.60" width="8.7" height="3.26" fill="#8B3A8F"/>
<rect x="228.40" y="285.07" width="8.7" height="6.53" fill="#D3ECF5"/>
<rect x="228.40" y="284.30" width="8.7" height="0.77" fill="#E31E24"/>
<rect x="237.93" y="395.85" width="8.7" height="80.45" fill="#1363BD"/>
<rect x="237.93" y="390.28" width="8.7" height="5.57" fill="#EE7623"/>
<rect x="237.93" y="384.52" width="8.7" height="5.76" fill="#D9D6DE"/>
<rect x="237.93" y="346.89" width="8.7" height="37.63" fill="#FDE400"/>
<rect x="237.93" y="297.93" width="8.7" height="48.96" fill="#72B82C"/>
<rect x="237.93" y="285.07" width="8.7" height="12.86" fill="#F0A3CB"/>
<rect x="237.93" y="284.30" width="8.7" height="0.77" fill="#E31E24"/>
<rect x="247.46" y="390.28" width="8.7" height="86.02" fill="#1363BD"/>
<rect x="247.46" y="375.69" width="8.7" height="14.59" fill="#EE7623"/>
<rect x="247.46" y="368.20" width="8.7" height="7.49" fill="#D9D6DE"/>
<rect x="247.46" y="352.46" width="8.7" height="15.74" fill="#FDE400"/>
<rect x="247.46" y="321.74" width="8.7" height="30.72" fill="#72B82C"/>
<rect x="247.46" y="305.61" width="8.7" height="16.13" fill="#F0A3CB"/>
<rect x="247.46" y="304.27" width="8.7" height="1.34" fill="#8B3A8F"/>
<rect x="247.46" y="285.07" width="8.7" height="19.20" fill="#D3ECF5"/>
<rect x="247.46" y="284.30" width="8.7" height="0.77" fill="#E31E24"/>
<rect x="256.99" y="385.87" width="8.7" height="90.43" fill="#1363BD"/>
<rect x="256.99" y="373.00" width="8.7" height="12.86" fill="#EE7623"/>
<rect x="256.99" y="362.64" width="8.7" height="10.37" fill="#D9D6DE"/>
<rect x="256.99" y="323.28" width="8.7" height="39.36" fill="#72B82C"/>
<rect x="256.99" y="293.90" width="8.7" height="29.38" fill="#F0A3CB"/>
<rect x="256.99" y="292.36" width="8.7" height="1.54" fill="#8B3A8F"/>
<rect x="256.99" y="285.07" width="8.7" height="7.30" fill="#D3ECF5"/>
<rect x="256.99" y="284.30" width="8.7" height="0.77" fill="#E31E24"/>
<rect x="266.52" y="368.30" width="8.7" height="108.00" fill="#1363BD"/>
<rect x="266.52" y="358.99" width="8.7" height="9.31" fill="#EE7623"/>
<rect x="266.52" y="353.42" width="8.7" height="5.57" fill="#D9D6DE"/>
<rect x="266.52" y="347.85" width="8.7" height="5.57" fill="#FDE400"/>
<rect x="266.52" y="297.55" width="8.7" height="50.30" fill="#72B82C"/>
<rect x="266.52" y="295.63" width="8.7" height="1.92" fill="#F0A3CB"/>
<rect x="266.52" y="292.56" width="8.7" height="3.07" fill="#8B3A8F"/>
<rect x="266.52" y="284.30" width="8.7" height="8.26" fill="#D3ECF5"/>
<rect x="276.05" y="465.93" width="8.7" height="10.37" fill="#1363BD"/>
<rect x="276.05" y="464.59" width="8.7" height="1.34" fill="#EE7623"/>
<rect x="276.05" y="444.04" width="8.7" height="20.54" fill="#D9D6DE"/>
<rect x="276.05" y="406.99" width="8.7" height="37.06" fill="#FDE400"/>
<rect x="276.05" y="293.52" width="8.7" height="113.47" fill="#72B82C"/>
<rect x="276.05" y="289.10" width="8.7" height="4.42" fill="#8B3A8F"/>
<rect x="276.05" y="284.30" width="8.7" height="4.80" fill="#D3ECF5"/>
<rect x="285.58" y="456.14" width="8.7" height="20.16" fill="#1363BD"/>
<rect x="285.58" y="452.49" width="8.7" height="3.65" fill="#EE7623"/>
<rect x="285.58" y="439.44" width="8.7" height="13.06" fill="#D9D6DE"/>
<rect x="285.58" y="427.92" width="8.7" height="11.52" fill="#FDE400"/>
<rect x="285.58" y="426.57" width="8.7" height="1.34" fill="#16163A"/>
<rect x="285.58" y="290.83" width="8.7" height="135.74" fill="#72B82C"/>
<rect x="285.58" y="287.37" width="8.7" height="3.46" fill="#8B3A8F"/>
<rect x="285.58" y="285.26" width="8.7" height="2.11" fill="#D3ECF5"/>
<rect x="285.58" y="284.30" width="8.7" height="0.96" fill="#E31E24"/>
<rect x="295.11" y="447.88" width="8.7" height="28.42" fill="#1363BD"/>
<rect x="295.11" y="427.34" width="8.7" height="20.54" fill="#EE7623"/>
<rect x="295.11" y="423.69" width="8.7" height="3.65" fill="#D9D6DE"/>
<rect x="295.11" y="368.01" width="8.7" height="55.68" fill="#FDE400"/>
<rect x="295.11" y="367.24" width="8.7" height="0.77" fill="#16163A"/>
<rect x="295.11" y="317.32" width="8.7" height="49.92" fill="#72B82C"/>
<rect x="295.11" y="292.17" width="8.7" height="25.15" fill="#F0A3CB"/>
<rect x="295.11" y="284.30" width="8.7" height="7.87" fill="#D3ECF5"/>
<rect x="304.64" y="439.44" width="8.7" height="36.86" fill="#1363BD"/>
<rect x="304.64" y="389.32" width="8.7" height="50.11" fill="#EE7623"/>
<rect x="304.64" y="381.84" width="8.7" height="7.49" fill="#D9D6DE"/>
<rect x="304.64" y="349.39" width="8.7" height="32.45" fill="#FDE400"/>
<rect x="304.64" y="327.12" width="8.7" height="22.27" fill="#72B82C"/>
<rect x="304.64" y="292.17" width="8.7" height="34.94" fill="#F0A3CB"/>
<rect x="304.64" y="289.10" width="8.7" height="3.07" fill="#8B3A8F"/>
<rect x="304.64" y="284.30" width="8.7" height="4.80" fill="#D3ECF5"/>
<rect x="314.17" y="439.44" width="8.7" height="36.86" fill="#1363BD"/>
<rect x="314.17" y="435.60" width="8.7" height="3.84" fill="#EE7623"/>
<rect x="314.17" y="428.88" width="8.7" height="6.72" fill="#D9D6DE"/>
<rect x="314.17" y="378.57" width="8.7" height="50.30" fill="#FDE400"/>
<rect x="314.17" y="297.74" width="8.7" height="80.83" fill="#72B82C"/>
<rect x="314.17" y="292.56" width="8.7" height="5.18" fill="#F0A3CB"/>
<rect x="314.17" y="290.06" width="8.7" height="2.50" fill="#8B3A8F"/>
<rect x="314.17" y="288.33" width="8.7" height="1.73" fill="#D3ECF5"/>
<rect x="314.17" y="284.30" width="8.7" height="4.03" fill="#E31E24"/>
<rect x="323.70" y="399.50" width="8.7" height="76.80" fill="#1363BD"/>
<rect x="323.70" y="367.44" width="8.7" height="32.06" fill="#EE7623"/>
<rect x="323.70" y="359.95" width="8.7" height="7.49" fill="#D9D6DE"/>
<rect x="323.70" y="341.52" width="8.7" height="18.43" fill="#FDE400"/>
<rect x="323.70" y="304.46" width="8.7" height="37.06" fill="#72B82C"/>
<rect x="323.70" y="290.44" width="8.7" height="14.02" fill="#F0A3CB"/>
<rect x="323.70" y="288.72" width="8.7" height="1.73" fill="#8B3A8F"/>
<rect x="323.70" y="285.07" width="8.7" height="3.65" fill="#D3ECF5"/>
<rect x="323.70" y="284.30" width="8.7" height="0.77" fill="#E31E24"/>
<rect x="333.23" y="399.50" width="8.7" height="76.80" fill="#1363BD"/>
<rect x="333.23" y="393.93" width="8.7" height="5.57" fill="#EE7623"/>
<rect x="333.23" y="339.79" width="8.7" height="54.14" fill="#FDE400"/>
<rect x="333.23" y="335.56" width="8.7" height="4.22" fill="#16163A"/>
<rect x="333.23" y="293.71" width="8.7" height="41.86" fill="#72B82C"/>
<rect x="333.23" y="284.30" width="8.7" height="9.41" fill="#F0A3CB"/>
<rect x="342.76" y="389.32" width="8.7" height="86.98" fill="#1363BD"/>
<rect x="342.76" y="356.11" width="8.7" height="33.22" fill="#EE7623"/>
<rect x="342.76" y="351.69" width="8.7" height="4.42" fill="#D9D6DE"/>
<rect x="342.76" y="336.72" width="8.7" height="14.98" fill="#FDE400"/>
<rect x="342.76" y="335.95" width="8.7" height="0.77" fill="#16163A"/>
<rect x="342.76" y="323.08" width="8.7" height="12.86" fill="#72B82C"/>
<rect x="342.76" y="311.95" width="8.7" height="11.14" fill="#F0A3CB"/>
<rect x="342.76" y="310.60" width="8.7" height="1.34" fill="#8B3A8F"/>
<rect x="342.76" y="293.90" width="8.7" height="16.70" fill="#D3ECF5"/>
<rect x="342.76" y="284.30" width="8.7" height="9.60" fill="#E31E24"/>
<rect x="352.29" y="369.16" width="8.7" height="107.14" fill="#1363BD"/>
<rect x="352.29" y="368.40" width="8.7" height="0.77" fill="#EE7623"/>
<rect x="352.29" y="366.28" width="8.7" height="2.11" fill="#D9D6DE"/>
<rect x="352.29" y="339.79" width="8.7" height="26.50" fill="#FDE400"/>
<rect x="352.29" y="328.65" width="8.7" height="11.14" fill="#72B82C"/>
<rect x="352.29" y="311.95" width="8.7" height="16.70" fill="#F0A3CB"/>
<rect x="352.29" y="311.18" width="8.7" height="0.77" fill="#8B3A8F"/>
<rect x="352.29" y="295.82" width="8.7" height="15.36" fill="#D3ECF5"/>
<rect x="352.29" y="284.30" width="8.7" height="11.52" fill="#E31E24"/>
<rect x="361.82" y="343.24" width="8.7" height="133.06" fill="#1363BD"/>
<rect x="361.82" y="334.80" width="8.7" height="8.45" fill="#EE7623"/>
<rect x="361.82" y="319.05" width="8.7" height="15.74" fill="#FDE400"/>
<rect x="361.82" y="307.92" width="8.7" height="11.14" fill="#72B82C"/>
<rect x="361.82" y="302.73" width="8.7" height="5.18" fill="#F0A3CB"/>
<rect x="361.82" y="284.30" width="8.7" height="18.43" fill="#8B3A8F"/>
<path d="M127.7,283.5 V476.3 H373" fill="none" stroke="#3a3a3a" stroke-width="1.1"/>
<line x1="124.8" y1="476.30" x2="127.7" y2="476.30" stroke="#3a3a3a" stroke-width="0.9"/>
<text x="120.9" y="478.90" font-size="7.5" fill="#2a2a2a" text-anchor="end" font-weight="normal" >0</text>
<line x1="124.8" y1="457.10" x2="127.7" y2="457.10" stroke="#3a3a3a" stroke-width="0.9"/>
<text x="120.9" y="459.70" font-size="7.5" fill="#2a2a2a" text-anchor="end" font-weight="normal" >10</text>
<line x1="124.8" y1="437.90" x2="127.7" y2="437.90" stroke="#3a3a3a" stroke-width="0.9"/>
<text x="120.9" y="440.50" font-size="7.5" fill="#2a2a2a" text-anchor="end" font-weight="normal" >20</text>
<line x1="124.8" y1="418.70" x2="127.7" y2="418.70" stroke="#3a3a3a" stroke-width="0.9"/>
<text x="120.9" y="421.30" font-size="7.5" fill="#2a2a2a" text-anchor="end" font-weight="normal" >30</text>
<line x1="124.8" y1="399.50" x2="127.7" y2="399.50" stroke="#3a3a3a" stroke-width="0.9"/>
<text x="120.9" y="402.10" font-size="7.5" fill="#2a2a2a" text-anchor="end" font-weight="normal" >40</text>
<line x1="124.8" y1="380.30" x2="127.7" y2="380.30" stroke="#3a3a3a" stroke-width="0.9"/>
<text x="120.9" y="382.90" font-size="7.5" fill="#2a2a2a" text-anchor="end" font-weight="normal" >50</text>
<line x1="124.8" y1="361.10" x2="127.7" y2="361.10" stroke="#3a3a3a" stroke-width="0.9"/>
<text x="120.9" y="363.70" font-size="7.5" fill="#2a2a2a" text-anchor="end" font-weight="normal" >60</text>
<line x1="124.8" y1="341.90" x2="127.7" y2="341.90" stroke="#3a3a3a" stroke-width="0.9"/>
<text x="120.9" y="344.50" font-size="7.5" fill="#2a2a2a" text-anchor="end" font-weight="normal" >70</text>
<line x1="124.8" y1="322.70" x2="127.7" y2="322.70" stroke="#3a3a3a" stroke-width="0.9"/>
<text x="120.9" y="325.30" font-size="7.5" fill="#2a2a2a" text-anchor="end" font-weight="normal" >80</text>
<line x1="124.8" y1="303.50" x2="127.7" y2="303.50" stroke="#3a3a3a" stroke-width="0.9"/>
<text x="120.9" y="306.10" font-size="7.5" fill="#2a2a2a" text-anchor="end" font-weight="normal" >90</text>
<line x1="124.8" y1="284.30" x2="127.7" y2="284.30" stroke="#3a3a3a" stroke-width="0.9"/>
<text x="120.9" y="286.90" font-size="7.5" fill="#2a2a2a" text-anchor="end" font-weight="normal" >100</text>
<text x="0" y="0" font-size="8.2" fill="#333" text-anchor="end" transform="translate(140.05,483.8) rotate(-45)">MGUS_117111</text>
<text x="0" y="0" font-size="8.2" fill="#333" text-anchor="end" transform="translate(149.58,483.8) rotate(-45)">MGUS_110071</text>
<text x="0" y="0" font-size="8.2" fill="#333" text-anchor="end" transform="translate(159.11,483.8) rotate(-45)">MGUS_111557</text>
<text x="0" y="0" font-size="8.2" fill="#333" text-anchor="end" transform="translate(168.64,483.8) rotate(-45)">MGUS_111326</text>
<text x="0" y="0" font-size="8.2" fill="#333" text-anchor="end" transform="translate(178.17,483.8) rotate(-45)">MGUS_111889</text>
<text x="0" y="0" font-size="8.2" fill="#333" text-anchor="end" transform="translate(187.70,483.8) rotate(-45)">MGUS_116169</text>
<text x="0" y="0" font-size="8.2" fill="#333" text-anchor="end" transform="translate(197.23,483.8) rotate(-45)">MGUS_115131</text>
<text x="0" y="0" font-size="8.2" fill="#333" text-anchor="end" transform="translate(206.76,483.8) rotate(-45)">MGUS_110858</text>
<text x="0" y="0" font-size="8.2" fill="#333" text-anchor="end" transform="translate(216.29,483.8) rotate(-45)">SMM_109248</text>
<text x="0" y="0" font-size="8.2" fill="#333" text-anchor="end" transform="translate(225.82,483.8) rotate(-45)">SMM_108815</text>
<text x="0" y="0" font-size="8.2" fill="#333" text-anchor="end" transform="translate(235.35,483.8) rotate(-45)">SMM_112168</text>
<text x="0" y="0" font-size="8.2" fill="#333" text-anchor="end" transform="translate(244.88,483.8) rotate(-45)">SMM_84857</text>
<text x="0" y="0" font-size="8.2" fill="#333" text-anchor="end" transform="translate(254.41,483.8) rotate(-45)">SMM_119207</text>
<text x="0" y="0" font-size="8.2" fill="#333" text-anchor="end" transform="translate(263.94,483.8) rotate(-45)">SMM_110101</text>
<text x="0" y="0" font-size="8.2" fill="#333" text-anchor="end" transform="translate(273.47,483.8) rotate(-45)">SMM_112288</text>
<text x="0" y="0" font-size="8.2" fill="#333" text-anchor="end" transform="translate(283.00,483.8) rotate(-45)">P02</text>
<text x="0" y="0" font-size="8.2" fill="#333" text-anchor="end" transform="translate(292.53,483.8) rotate(-45)">P04</text>
<text x="0" y="0" font-size="8.2" fill="#333" text-anchor="end" transform="translate(302.06,483.8) rotate(-45)">MM_107404</text>
<text x="0" y="0" font-size="8.2" fill="#333" text-anchor="end" transform="translate(311.59,483.8) rotate(-45)">P06</text>
<text x="0" y="0" font-size="8.2" fill="#333" text-anchor="end" transform="translate(321.12,483.8) rotate(-45)">P03</text>
<text x="0" y="0" font-size="8.2" fill="#333" text-anchor="end" transform="translate(330.65,483.8) rotate(-45)">P05</text>
<text x="0" y="0" font-size="8.2" fill="#333" text-anchor="end" transform="translate(340.18,483.8) rotate(-45)">MM_113436</text>
<text x="0" y="0" font-size="8.2" fill="#333" text-anchor="end" transform="translate(349.71,483.8) rotate(-45)">MM_101011</text>
<text x="0" y="0" font-size="8.2" fill="#333" text-anchor="end" transform="translate(359.24,483.8) rotate(-45)">P01</text>
<text x="0" y="0" font-size="8.2" fill="#333" text-anchor="end" transform="translate(368.77,483.8) rotate(-45)">MM_100742</text>
<text x="0" y="0" font-size="8.3" fill="#333" text-anchor="middle" transform="translate(102.6,380.5) rotate(-90) scale(0.8,1)">Percentage</text>
<text x="156" y="535.2" font-size="8.2" fill="#333" text-anchor="middle" font-weight="normal" >MGUS</text>
<text x="232.7" y="535.2" font-size="8.2" fill="#333" text-anchor="middle" font-weight="normal" >SMM</text>
<text x="304.6" y="535.2" font-size="8.2" fill="#333" text-anchor="middle" font-weight="normal" >NDMM</text>
<line x1="194.3" y1="527" x2="194.3" y2="537" stroke="#333" stroke-width="0.9"/>
<line x1="271.2" y1="527" x2="271.2" y2="537" stroke="#333" stroke-width="0.9"/>
<rect x="379.5" y="336.90" width="3.6" height="3.6" fill="#C4161C"/>
<text x="386.2" y="341.30" font-size="7.25" fill="#333" text-anchor="start" font-weight="normal" >gdT</text>
<rect x="379.5" y="346.11" width="3.6" height="3.6" fill="#BFE3F0"/>
<text x="386.2" y="350.51" font-size="7.25" fill="#333" text-anchor="start" font-weight="normal" >MAIT</text>
<rect x="379.5" y="355.32" width="3.6" height="3.6" fill="#7E2F80"/>
<text x="386.2" y="359.72" font-size="7.25" fill="#333" text-anchor="start" font-weight="normal" >Treg</text>
<rect x="379.5" y="364.53" width="3.6" height="3.6" fill="#EBA3C6"/>
<text x="386.2" y="368.93" font-size="7.25" fill="#333" text-anchor="start" font-weight="normal" >CD8 Naive</text>
<rect x="379.5" y="373.74" width="3.6" height="3.6" fill="#6E9E45"/>
<text x="386.2" y="378.14" font-size="7.25" fill="#333" text-anchor="start" font-weight="normal" >CD8 Memory_2</text>
<rect x="379.5" y="382.95" width="3.6" height="3.6" fill="#15173A"/>
<text x="386.2" y="387.35" font-size="7.25" fill="#333" text-anchor="start" font-weight="normal" >CD8 Memory_1</text>
<rect x="379.5" y="392.16" width="3.6" height="3.6" fill="#DDE23A"/>
<text x="386.2" y="396.56" font-size="7.25" fill="#333" text-anchor="start" font-weight="normal" >CD8 Effector_2</text>
<rect x="379.5" y="401.37" width="3.6" height="3.6" fill="#ECC8C8"/>
<text x="386.2" y="405.77" font-size="7.25" fill="#333" text-anchor="start" font-weight="normal" >CD8 Effector_1</text>
<rect x="379.5" y="410.58" width="3.6" height="3.6" fill="#E07A3C"/>
<text x="386.2" y="414.98" font-size="7.25" fill="#333" text-anchor="start" font-weight="normal" >CD4 Naive</text>
<rect x="379.5" y="419.79" width="3.6" height="3.6" fill="#1E5C9E"/>
<text x="386.2" y="424.19" font-size="7.25" fill="#333" text-anchor="start" font-weight="normal" >CD4 Memory</text>
</svg></body></html>
